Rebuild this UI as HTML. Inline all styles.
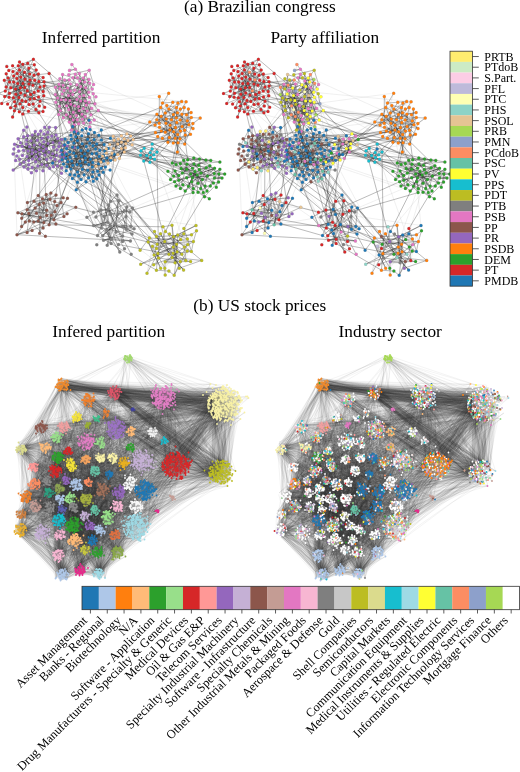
<!DOCTYPE html><html><head><meta charset="utf-8"><style>html,body{margin:0;padding:0;background:#fff;overflow:hidden}svg{display:block}</style></head><body><svg width="520" height="772" viewBox="0 0 520 772"><rect width="520" height="772" fill="#fff"/><g id="ea" fill="none" stroke-width=".5"><path d="M25 95.3l-6.7 -29.5M17.7 83.4l3 9.5M20 103.7l14.1 -11.2M39.3 106l-11.9 -15.2M20.7 92.9l17.8 4.2M18.9 97.4l1.5 -9.6M5.3 91.1l8.3 -9M29 83.9l-6.1 -.4M29 83.9l-4.3 3.5M38.4 74l-15.5 9.5M10.8 87.7l-1.6 9.6M29.1 104.5l4.1 -.5M34.3 98.6l-15.5 -1.2M16.9 78.5l-7.5 3.4M22 100.4l-1.2 -23.3M-1.5 93.5l12.3 -5.8M6.8 66.4l13.8 26.5M67.6 87.9l15.8 20.5M83.8 95.4l-6.9 -10.7M62.2 94.1l17.4 2.3M75.4 69.3l10 5.2M72.7 94.4l-1.9 9.9M94.9 103.7l-15.3 -7.3M85.3 116.6l-6.1 -6.2M68.5 95.5l-9 10.8M88.9 79.4l-4.1 2.5M90.9 114.8l.7 -6.5M74.9 90.1l8.9 5.3M55.4 87.3l17.3 7.1M95.9 96.8l-15.3 4.1M65.7 99.8l13.9 -3.4M65.7 99.8l6.2 -35.4M73.1 120.1l12.5 -32.3M75.3 74.2l8.5 21.2M77.5 77.8l7.2 4.2M70.8 104.3l-.2 -13.4M89.8 127l6 -30.2M76.3 131.5l.6 -32.1M51.8 136.1l.9 17.7M37.3 140.2l6 6.3M60.7 151.8l-8 2.1M59.5 142.9l1.3 8.8M19.5 159.2l13 -.2M28.7 164.8l6.8 -3M34.2 145l-2.4 8.7M31.8 153.7l6.1 12.3M35.6 161.8l-7.5 -10.8M18.1 138.7l4.1 7.6M28 150.9l4.4 8M43.9 141.8l-8.2 9.8M44.9 154.9l-9.3 6.9M48.1 143.6l-4.8 2.9M59.5 161.3l-2.2 4.6M23.5 150.2l4.6 .8M39.9 154.3l23.1 -8.9M36 156.5l10.7 8.8M32.3 167.5l-5.2 -11M64 157.4l-7.1 -7.6M36.4 170.7l-7.7 -6M50.9 157.9l-11 -3.7M14.5 144.2l25.4 10.1M24 167l8.2 -17.1M18.7 151.1l24.7 -0M26.6 139.9l4.5 .9M76 156.2l1 8.4M77 164.6l2.9 -3.4M72.4 178.6l-8.9 -14.6M81.1 179.4l-6.5 -4.4" stroke="#aaa" stroke-opacity=".35"/><path d="M88.6 177.7l15.1 -16.6M101.2 168.2l-4.8 -14.8M71.7 161l29.5 7.2M92 153.7l-12.2 7.6M72.6 147.1l19.4 6.5M63.5 164l15 12M103.7 161.1l-4.5 -4.7M77.5 172.1l7.4 -18.4M82.4 169.3l2.5 -15.6M70 174.4l11.1 5M93 145.7l8.3 -15.8M96.9 178.7l2.2 -3.6M95.5 148.9l-5 10.4M79.9 161.2l15.6 -12.4M84.9 153.7l13.7 10.1M84.9 153.7l2.7 -14.5M104.9 151.2l5.6 9.1M65.1 139.1l9.1 -7M64.6 144.8l25.9 14.5M87.7 170.3l-3.5 4.4M88 150.7l-14.2 2.2M103.3 172.2l-10.6 -9.6M66.5 148.6l21.5 2.1M74.6 175l2.4 -10.3M70.9 135.3l3.7 39.7M92.8 172.1l-11.6 7.3M92.8 172.1l-25.8 -5.6M90.1 129.5l-4.7 28.4M77.4 182.3l2.4 -21.1M103.3 155.2l-21.5 1M73.9 142.9l11 10.8M86 128.5l3.6 14.8M52.6 163.1l35.4 -12.4M108.1 148.5l-30.2 -1.1M121.4 148.5l.1 -12.7M117.7 154.6l-4 -6.1M106.3 148.8l7.4 -.3M126.9 133.8l-2.6 5M130.7 135.9l-17 12.6M121.4 135.7l.1 6.6M149.9 162.3l-3.3 -6.9M150.4 157.6l-.5 4.7M150.2 152.6l1.9 -3.7M170.1 125.2l-14.6 7.4M176.4 107.5l-.1 10.3M165.9 123.3l11 -.8M185.3 134.9l-1.2 -27.4M162.4 138.3l7.5 -8.3M162.4 138.3l3.5 -15M161.3 131.1l-6.3 -6.1M173.3 143l-12.1 -26.7M186.5 114.8l-1.1 20M159.2 123.2l2.1 7.9M181.9 114.2l-26.9 10.8M184.2 107.4l3.2 13.3M184.2 107.4l-6.2 -4.3M180 138.8l-7.2 -36.5M180.3 109.1l-.2 10.7M178 142.7l4 -28.5M167.9 142.2l5.3 .8M167.9 142.2l2.2 -17M177.9 103.1l-6.4 16.7M186.1 101.7l-4.2 12.5M168.7 93.2l-7.6 23.1M159.3 96.5l17.1 21.3M159.3 96.5l10.1 40.8M200.2 118.1l-19.7 13.1M180.3 163.6l.9 4.9" stroke="#aaa" stroke-opacity=".35"/><path d="M210.3 186l4 -12.6M187 164.2l-4.6 8.8M216.3 187.3l-10.1 -19.6M204.5 196.7l-9.6 -25.2M36.5 213.2l-1.4 -5.3M28.7 213.6l6.3 -5.7M42.5 198.7l-6 14.5M61 202.5l-14.2 7.6M38.2 221.1l10.9 3.6M50 199.2l17.6 -1M54.7 201.4l-5.6 23.2M63.2 197.8l-13.2 1.4M57 205.6l-16.7 11.9M39.3 204.5l14.5 15.2M39.3 204.5l-10.6 9.1M108.5 205l-.3 4.2M122.6 236l-19.1 4.3M118.5 244.5l-10 -11M107.5 222.2l2.7 3.3M96.8 244.8l13.5 -19.3M165.2 261.8l8.2 -14.7M179.3 268.2l-4.2 -5.4M149.4 237.9l7.2 10.5M158.5 257.9l-.6 -4.5M153.7 264.7l48 -4.3M156.4 270.2l31.4 -25.6M176.6 244.2l-3.3 2.9M177.1 251.7l-12.3 16.5M177.1 251.7l-4 1.6M191.5 234.8l-5.7 25.8M191.5 234.8l1.9 6.8M147 273.2l9.3 -36.6M147 273.2l5.3 -27M196 225.5l-22.4 11.2M25 79.2l32.7 18.9M15.8 94.2l61.5 25.3M25 95.3l38.2 -10M10.5 107.7l58.8 14.2M43.1 91.4l36.5 5M34 75.2l45.3 35.3M25 95.3l49.5 10.5M13.4 97.7l42.7 37.3M9.5 81.9l32.5 56.2M49.1 73.4l19 68.9M55.4 87.3l25.6 63.2M66.3 114.7l37 40.5M69.3 121.9l10.6 39.3M83.8 95.4l10.4 44.3M73.4 112.3l.4 40.6M79.2 110.5l17.2 43M79.9 81l-1.8 52.4M93.6 84.5l-17.4 105.2M77.5 77.8l-55.1 77.7M88.9 79.4l-37.1 56.7M79.9 81l-51.9 70M80.6 101l-19.1 72.2M85.4 74.6l-39 74.3M93.2 93.7l9.4 62.3M63.1 85.3l50.6 63.2M85.6 87.8l32.1 66.7M85.3 101.1l28 35.2M68.8 74.8l57 68.9M74.5 105.8l94.2 -12.7M83.6 123.1l74.2 13.4M94.9 103.7l73 38.5M61.3 99.7l110.3 20.1M55.4 94.5l103.8 28.7M88.9 79.4l100 45.3" stroke="#aaa" stroke-opacity=".35"/><path d="M73.4 112.3l102.9 5.6M88.7 92.3l97.4 9.3M40 144.4l33.9 -1.5M37.9 166.1l43.2 13.3M27.1 156.6l77.8 -5.3M53.4 147.1l49.8 8.1M31.8 153.7l42.8 21.2M32.3 135l52.6 18.7M19.5 159.2l68.6 -8.4M17.9 146.6l9.2 63.1M13.9 149l3.1 85.6M48 137.3l-26.3 80.9M35.7 151.7l.8 61.5M57.6 138.5l-22.5 69.4M76 156.2l31.9 7M81 150.5l33.2 -10.2M71.7 161l46.5 -21.9M84.9 153.7l-29 70.2M76 156.2l-54.1 57.5M62.2 154.4l40.4 81.4M96.7 143.9l18.8 80.6M106.8 157.9l17.7 53M109.7 144.5l76.4 -42.8M113.7 148.5l53.1 -43M133.2 139.6l54.1 -18.9M132.1 144.7l24.9 7.3M121.4 148.5l28.5 13.8M115.1 160l38.7 -5.2M117.7 154.6l34.5 -10.4M113.7 148.5l40.8 10.8M153.8 154.8l16.1 -24.8M141 150.8l43.7 -6.7M152.1 148.9l35.7 10.9M152.1 148.9l26.6 26.5M146.6 155.4l34.6 13.1M149.9 162.3l49.6 -3.3M159.3 96.5l16.9 67.8M191.1 112.6l-20.6 66.9M168.9 109l17.8 60.2M72.7 126.4l128 62.1M66.5 148.6l109.5 37.3M90.5 159.3l94.8 31.7M90.1 129.5l81.5 -9.7M90.1 129.5l96.1 -27.8M66.5 154.2l113.5 -15.4M132 233.9l36.9 20.3M122.6 236l42.2 32.2M205.9 160.1l-22.1 73.7M191.7 181.8l4.7 48.8M200.7 188.5l-48.3 57.7M199.3 169.5l-34.5 98.7M55.9 223.9l54.6 -9.4M50.9 193l50.4 34.8M92.8 172.1l87.5 89.3M104.9 151.2l51.6 97.2M32.3 135l75.2 87.1M47.8 132.2l54.8 103.5M55.6 127.5l38.1 98.1M90.3 122.2l119 76.5M96.1 166.3l19.4 58.2M112 153.3l-1.8 72.2M154.5 159.3l32.7 91.6M19.5 69.9l160.6 68.9M38.2 91.1l118.6 28.7M117.9 214.3l89.7 -38.2M18.1 138.7l99.6 5.3M44 134.1l58.5 22M57 205.6l139 19.9" stroke="#aaa" stroke-opacity=".35"/><path d="M64.6 80.1l43.9 153.4" stroke="#aaa" stroke-opacity=".35"/><path d="M30.1 98.9l8.1 -7.8M30.1 98.9l-14.6 -9.9M38.5 97.1l-7.9 -2.5M14.5 101.7l4.3 -4.3M14.5 101.7l10.4 -22.5M20.4 87.8l-4.9 1.2M20.4 87.8l12.5 -2.6M27.4 90.8l-2.4 4.5M27.4 90.8l-2.7 -3.4M29.7 73.9l-19 13.8M25 95.3l5.1 3.6M25 95.3l15.2 6M38.9 81.5l-4.2 -1.3M43.8 95.7l-14.8 -11.8M19.3 111.8l-4.8 -10.1M17.7 83.4l-2.1 5.6M9.1 97.3l-10.7 -3.8M9.1 97.3l4.2 .3M20 103.7l10 -4.8M18.3 65.8l1.2 4.1M34 75.2l-9 20.1M24.5 72.3l-6.9 11.1M24.5 72.3l13.6 18.8M8.1 77.9l8.9 .6M8.1 77.9l14 22.5M8.1 77.9l19.3 12.9M9.6 93.2l15.1 -5.9M9.6 93.2l6.2 1M17.2 73.4l7.8 21.9M17.2 73.4l10.2 17.4M22.9 83.5l-5.2 -.1M22.9 83.5l-2.5 4.3M40 87.1l-5.8 5.4M40 87.1l-1.6 -13.1M36.2 70l-7.2 13.9M36.2 70l-6.5 3.9M36.2 70l-7.2 -1.7M15.8 94.2l-9.6 -20.5M15.8 94.2l3.1 3.2M35.9 109.4l-6.8 -4.8M15.5 89l11.9 1.8M22.8 107.4l-2.7 -3.7M13.6 82.1l1.9 6.9M13.6 82.1l-.3 15.6M13.6 82.1l.1 -6.2M13.7 75.9l9.2 7.5M27.7 63.2l2.4 35.7M27.7 63.2l-14.8 8.4M27.7 63.2l-10.8 15.4M34.2 92.5l-9.5 -5.1M20.7 92.9l-5.3 13.1M33.2 104l-4.1 .5M33.2 104l10.6 -8.4M18.9 97.4l-1.2 -14M38.2 91.1l5.9 -5.1M25 79.2l4.1 4.7M25 79.2l4.1 4.7M25 79.2l4.8 -5.2M25.8 101.4l-5.7 2.4M22.8 64.2l2.1 31.1M22.8 64.2l11.5 .5M22.8 64.2l-9.1 11.7M20.8 77.1l-.4 10.7M4.7 96.6l24.3 -12.7M4.7 96.6l25.3 -16.6M44.1 86.1l-.3 9.6M44.1 86.1l-1 5.3M10.5 107.7l4.8 -1.6M10.5 107.7l19.6 -8.8M10.5 107.7l7.1 -24.3M5.3 91.1l4.2 -9.2M28.9 68.3l4.3 35.8M28.9 68.3l-18.4 39.5M7.6 104.1l21.4 -20.2M12.6 65.7l20.3 19.5M28.5 111.3l11.6 -10M28.5 111.3l-18 -3.5M29 83.9l1.6 10.7M34.7 80.2l-4.9 -6.3M34.7 80.2l3.5 10.9M6.1 86.9l-1.9 -6.6M6.1 86.9l6.7 -15.3M22.8 114l16.1 -32.5M38.4 74l-13.5 5.2M34.3 64.7l-17.4 13.8M34.3 64.7l4.6 16.8M19.5 69.9l9.6 14M19.5 69.9l5.3 17.5M12.9 71.6l17.7 23M12.9 71.6l16.9 2.4M32.9 85.2l6 -3.7M4.3 80.3l6.5 7.4M10.8 87.7l18.3 -3.8M43.1 77.6l-24.8 -11.8M6.2 73.7l2.9 23.7M29.1 104.5l-15.5 -22.4M43.1 91.4l-13.1 -11.4M43.1 91.4l-10.2 -6.2M14.4 110.7l10.6 -15.4M14.4 110.7l8.4 -3.3" stroke="#222" stroke-opacity=".62"/><path d="M8.8 70.4l14 -6.2M24.7 87.4l-3.9 -10.3M9.5 81.9l1.3 5.8M9.5 81.9l10 -12.1M34.3 98.6l-3.7 -4M30.6 94.6l3.6 -2.1M40.1 101.3l-29.3 -13.6M40.1 101.3l-4.2 8M16.9 78.5l3.7 14.4M15.3 106.1l3.5 -8.7M15.3 106.1l2.3 -22.7M30 80l-2.6 10.8M30 80l-9.6 7.8M44 81.8l-11.1 3.4M13.4 97.7l2.4 -3.5M22 100.4l-17.3 -3.8M19.5 61.9l5.5 17.3M19.5 61.9l10.2 12.1M19.5 61.9l14.5 13.3M38.9 112.8l-14 -17.5M38.9 112.8l-18.9 -9M38.9 112.8l-16.1 1.2M-1.5 93.5l24.4 -10.1M49.1 73.4l-15.2 1.8M44.7 107.2l-4.6 -5.9M1.7 103.5l9 -15.8M1.7 103.5l38.3 -16.4M43 111.5l-7.1 -2.1M43 111.5l.1 -20.1M43 111.5l-14.5 -.2M12.6 116.9l6.3 -19.5M12.6 116.9l8.1 -24M33.4 59.3l-5.7 3.9M33.4 59.3l-8.4 19.9M33.4 59.3l-15.1 6.5M66.3 114.7l-5 -15M76.8 99.4l-21.4 -12.2M82 114.2l-16.3 -14.4M55.4 94.5l21.4 4.9M55.4 94.5l19.1 11.3M55.4 94.5l7.7 -9.2M76.9 84.7l2.7 11.7M76.9 84.7l-8.4 10.8M74.5 105.8l-4.2 10.5M74.5 105.8l-5.8 3.8M85.6 87.8l-6 8.6M85.6 87.8l3.3 -8.4M66.6 105.7l2.1 4M66.6 105.7l-5.4 -5.9M66.6 105.7l11.9 .8M60.4 110.4l16.4 -11M60.4 110.4l.8 -10.7M60.4 110.4l14.4 -20.3M89.7 83.3l-16.8 -5.6M89.7 83.3l-4.4 17.7M89.7 83.3l-18.9 21M69.2 79.9l-7 14.2M73.4 112.3l5.8 -1.8M79.6 91.7l5.1 -9.7M79.6 91.7l-6.8 2.7M79.6 91.7l-8.7 12.7M62.2 94.1l8.5 -3.2M78.5 106.5l5.3 -11.1M78.5 106.5l1.1 -10M70.5 84.1l-2.1 11.4M89.4 97.3l-9.4 -16.3M89.4 97.3l-8.5 -10.8M59.5 106.2l1.8 -6.5M79.4 73.5l1.5 12.9M79.4 73.5l-6.4 4.3M87.2 111.1l-12.7 -5.3M87.2 111.1l-7.9 -37.6M59 84.3l9.4 11.2M59 84.3l-3.7 3M85.3 101.1l-15.5 -.5M74.2 124.7l9.6 -29.3M74.2 124.7l-4.4 -24M69.3 121.9l11.3 -20.9M69.3 121.9l1.5 -17.6M69.3 121.9l1.2 -37.8M93.2 93.7l1.7 10M79.6 96.4l4.2 -1.1M79.6 96.4l1 4.5M72.7 94.4l-4 15.2M72.7 94.4l12.8 -6.6M79.2 110.5l-17 -16.4M79.2 110.5l-.7 -4M61.3 99.7l11.5 -5.3M61.3 99.7l-2.6 14.9M72.9 77.8l4.6 -0M72.9 77.8l13.3 27.2M72.9 77.8l16 1.6M55.8 102.2l29.8 -14.3M55.8 102.2l3.2 -17.9M55.8 102.2l35.8 6.2M80.8 86.4l4.5 14.7M80.8 86.4l-6 3.6M80.8 86.4l-6 3.6M83.3 108.4l-3.8 -16.7M68.8 74.8l20.4 -4.7" stroke="#222" stroke-opacity=".62"/><path d="M68.7 109.6l13.3 4.6M79.9 81l9.4 16.3M79.9 81l13.3 12.7M63.3 117.7l28.3 -9.3M63.3 117.7l-7.5 -15.5M94.9 103.7l-25.1 -3M64.6 80.1l6.2 24.3M64.6 80.1l5.9 4M64.6 80.1l4.6 -.2M85.3 116.6l-27.7 -18.6M68.5 95.5l6.4 -5.4M68.5 95.5l-5.2 22.2M88.7 92.3l-19.6 -12.4M62.6 74.6l-3.1 31.7M62.6 74.6l10.3 3.2M86.2 105l-12.8 7.2M85.4 74.6l-5.8 21.9M91.6 108.3l-14.7 -23.7M91.6 108.3l-5.4 -3.3M69.9 100.6l-1.4 -5.2M78.6 123.8l-15.4 -6.2M78.6 123.8l-16.4 -29.7M59.8 88.8l22.6 30.5M59.8 88.8l10.9 2.1M59.8 88.8l-4.4 -1.5M70.3 116.4l-4 -1.6M88.9 79.4l-9.6 31M88.9 79.4l-8.9 1.6M90.9 114.8l-11 -33.9M80.6 101l-7.8 -6.6M80.6 101l-14.9 -1.1M82.3 119.3l3 -2.6M82.3 119.3l-13.9 -23.8M82.3 119.3l3 -18.2M55.4 87.3l7.9 30.4M55.4 87.3l15.2 -3.2M58.7 114.6l31.1 12.3M58.7 114.6l14.7 -2.4M76.3 115.5l10.9 -4.4M76.3 115.5l7.2 7.6M76.3 115.5l3.2 -19.1M64 90.4l12.9 -5.8M64 90.4l8.7 4M57.6 98l19.2 1.4M63.1 85.3l3.5 20.3M63.1 85.3l7.4 -1.3M63.1 85.3l-.6 -10.7M84.7 82l-9.8 8.1M84.7 82l-17.1 5.9M59.9 78.7l12.8 15.7M77.3 119.5l14.3 -11.2M77.3 119.5l-16.9 -9.1M73.1 120.1l-12.7 -9.7M92.2 89.1l-6.8 -14.6M69.5 70.4l6 -1.1M69.5 70.4l6 -1.1M75.3 74.2l-4.7 16.7M93.6 84.5l-9.8 10.8M89.2 102.3l-19.4 -1.7M83.3 78.1l2.3 9.7M83.3 78.1l-3.4 2.9M70.6 90.9l-5 8.9M70.8 104.3l14.5 -3.2M70.8 104.3l24.1 -.7M90.3 122.2l-11 -11.7M90.3 122.2l-11 -11.7M89.8 127l-15.3 -21.2M71.5 130l-.7 -25.6M94.2 119.9l-8.9 -18.8M89.2 70.2l4.4 14.4M89.2 70.2l-14.3 19.9M76.3 131.5l-7.8 -36.1M71.9 64.5l12.8 17.5M98.3 110.6l-8.9 -13.3M83.6 123.1l2.7 -18M83.6 123.1l3.6 -12M61.8 139.5l-17.9 2.3M52.7 153.8l-6.2 -5M46.7 165.3l-.1 -5.8M46.7 165.3l-7.3 -6.4M46.7 165.3l13.5 -9.1M44 134.1l-14.5 12.7M44 134.1l8.6 19.7M37.3 140.2l.9 -5.9M39.4 149.7l-7.6 4M39.4 149.7l20.1 -6.8M39.4 149.7l13.6 -7.2M56.9 149.8l-13.5 1.3M16.9 156l11.8 8.8M20.6 142.8l35.9 12.6M20.6 142.8l10.5 -2M20.6 142.8l-2.5 -4.1M60.7 151.8l-3.1 -13.2M39.5 158.9l-5.3 -13.9M59.5 142.9l-27.1 -7.9M52.9 163l-11 1.4M52.9 163l6.7 -1.7M29.5 146.8l2.9 12.2M19.5 159.2l.6 5.1M46.7 159.5l6.8 -12.5" stroke="#222" stroke-opacity=".62"/><path d="M46.7 159.5l-14.9 -5.8M46.4 148.8l5.4 -12.7M53.4 147.1l2.1 -19.5M23.9 162l16.1 -17.6M27.6 135.7l-.5 20.9M31 140.8l10.9 23.6M31 140.8l18.2 -13.6M31 140.8l4.3 -9.4M34.2 145l9.1 1.5M35.6 161.8l-3.8 -8.1M35.6 161.8l4.4 -7.5M38.2 134.3l1.7 20M18.1 138.7l29.8 -1.4M43 170.7l-27.4 -10.1M43 170.7l5.1 -27.1M28 150.9l-9.9 -12.3M37.9 166.1l-6.8 -25.3M56.5 155.3l.4 -5.5M56.5 155.3l-10.1 -6.5M56.5 155.3l2.3 -8.8M44.9 154.9l3 -22.7M48.1 143.6l-12.4 8.1M48.1 143.6l-1.6 5.2M65.2 152.8l-4.9 3.4M65.2 152.8l-14.3 5.2M17.9 146.6l34.8 7.2M59.5 161.3l-2.2 4.6M32.4 159l-6.1 -15M13.1 153.9l10.3 -3.8M39.9 154.3l-7.5 4.7M40 144.4l4.9 10.5M63.1 145.4l-4.3 1.1M13.9 149l9.7 -18.7M27.1 156.6l-3.2 5.4M53 142.5l3.9 7.3M53 142.5l8.8 -3M36 156.5l3.9 -2.2M32.3 167.5l-.5 -13.8M32.3 167.5l7.7 -13.3M20.1 164.2l11.4 8.6M20.1 164.2l16.3 6.5M20.1 164.2l7 -7.6M32.3 135l7 14.7M32.3 135l10.9 11.5M49.7 168.3l-3.1 -8.8M49.7 168.3l-4.9 -13.4M67.2 146.3l-7.8 -3.4M26.4 143.9l21.6 -6.6M47.8 132.2l-20.7 24.4M57.4 165.9l-14 -14.7M57.4 165.9l-4.5 -2.9M57.6 138.5l-14.3 8M35.7 151.7l15.2 6.3M35.7 151.7l-7 8.8M23.6 136.8l8.8 -1.7M23.6 136.8l25.2 15.5M64 157.4l-26.1 8.7M64 157.4l-3.7 -1.2M22.4 155.5l12.9 -24.1M48 137.3l-11.9 19.2M48 137.3l-4.1 4.6M28 169l.7 -8.5M28 169l-4 -7M28 169l-4 -2M41.9 164.4l-4 1.7M41.9 164.4l-14.8 -7.8M41.9 164.4l4.5 -15.5M35.3 131.4l.7 25.1M35.3 131.4l-1.1 13.6M35.3 131.4l-6.6 29.1M28.7 160.5l7 -8.8M28.7 160.5l-5.1 -23.8M50.9 157.9l-15.4 3.8M42 138.2l-4.1 27.9M14.5 144.2l24.9 5.5M24 167l15.5 -8.1M48.8 152.3l8.1 -2.5M48.8 152.3l-8.8 -7.9M55.1 159.6l1.7 -9.8M55.1 159.6l-2.4 -5.8M55.1 159.6l-6.3 -7.3M32.2 149.9l.2 -14.9M43.4 151.1l3 -2.3M43.4 151.1l-4 -1.4M43.4 151.1l-21.2 -4.9M26.6 139.9l12.8 9.8M53.4 166.8l-21.2 -16.9M53.4 166.8l-25.4 2.2M60.3 156.2l-20.3 -1.9M22.2 146.3l-1.6 -3.5M22.2 146.3l1.4 -15.9M22.2 146.3l13.5 5.4M43.3 146.5l.1 4.6M56.1 135l-12.9 11.5M56.1 135l-12.7 16.2M15.6 160.6l-1.8 -11.6M40.7 131l-.7 13.4M58.8 146.5l-5.4 .5M13.2 170l26.1 -20.2M13.2 170l44.4 -31.5" stroke="#222" stroke-opacity=".62"/><path d="M49.3 127.2l-2.8 21.6M49.3 127.2l-9.9 22.5M61.5 173.2l-8.1 -6.4M61.5 173.2l-4.1 -7.3M61.8 167.9l-8.9 -4.9M74.1 147.4l-34.1 -3M26.9 127l1.8 33.5M55.6 127.5l-6.3 -.3M55.6 127.5l.6 7.4M31.4 172.8l6.4 -6.8M23.6 130.3l16.4 14.1M44.7 127.3l3.4 16.3M44.7 127.3l17 12.2M44.7 127.3l14.1 19.2M76 156.2l28.1 -11.6M76 156.2l-2.2 -3.4M86.2 146.5l5.8 7.2M86.2 146.5l1.8 4.2M88.8 164.4l3.9 -1.8M88.8 164.4l-11.8 .2M88.8 164.4l-21.1 -2.6M77 164.6l13.4 -5.4M77 164.6l-9.3 -2.8M72.4 178.6l19.9 -11.6M85.4 157.9l7.5 -12.1M106.8 157.9l-14.7 -4.2M106.8 157.9l-14.4 9.1M90.5 159.3l-14.4 -3M81.8 135.8l-15.3 18.4M81.8 135.8l-.9 14.6M81.1 179.4l-6.5 -4.4M81.1 179.4l11.3 -12.4M96.4 153.4l9 13.5M96.4 153.4l-26.6 -1.6M68.1 142.4l13.6 13.8M68.1 142.4l4.7 22.8M92.4 166.9l-6.9 -9.1M92.4 166.9l-1.9 -7.7M77.5 140.5l-9.4 1.9M77.5 140.5l10.2 -1.3M81 150.5l9.5 8.8M81 150.5l6.7 -11.2M81 150.5l-17.4 13.5M96.7 143.9l1.9 19.9M98.8 135.2l-5.9 10.5M94.2 139.6l-14.3 21.6M88.6 177.7l-.9 -7.4M99.8 150.3l-4.1 8.5M99.8 150.3l-4.4 -1.5M71.7 161l-.7 8.1M71.7 161l5.8 11.1M92 153.7l-11.1 -3.2M72.6 147.1l4.4 17.5M72.6 147.1l4.4 17.5M63.5 164l13.5 .6M63.5 164l1.1 -19.2M99.1 175.1l-11.4 -4.8M99.1 175.1l-23.1 -18.9M65.9 158.3l29.9 .6M65.9 158.3l5.1 10.8M82.2 130l9.8 23.7M104.1 144.6l-4.2 5.7M104.1 144.6l-31.4 2.5M104.1 144.6l-11.1 1.1M77.5 172.1l-1.5 -15.9M77.5 172.1l7.9 -14.3M82.4 169.3l3 -7.4M82.4 169.3l-3.9 6.7M93 145.7l-.6 21.2M75.7 136.8l5.2 13.6M75.7 136.8l19.7 12M71 169.1l10 -3.5M71 169.1l6.9 -21.7M96.9 178.7l-4.1 -6.7M96.9 178.7l-29.9 -12.3M95.5 148.9l-19.4 7.4M87.6 139.2l6.9 -6.8M87.6 139.2l-9.7 8.2M87.6 139.2l-13 35.7M82.2 143.8l-14.1 -1.4M82.2 143.8l3.3 14M88.5 133.8l-2.3 12.6M101.4 140.1l-23.9 .3M101.4 140.1l-7.2 -.5M101.4 140.1l-13.4 10.6M69.8 151.8l10.1 9.4M98.6 163.8l-8.1 -4.5M84.1 174.7l-9.5 .2M79.9 161.2l1.8 -5.1M77.9 147.4l26.2 -2.7M77.9 147.4l-13.3 -2.6M67 166.5l2.8 -14.7M67 166.5l14.7 -10.3M67 166.5l14 -.9M104.9 151.2l-12 -5.5M92.7 162.6l-11 -6.4M92.7 162.6l-7.3 -.7M65.1 139.1l3 3.3M64.6 144.8l5.5 12.6M87.7 170.3l-5.2 -1" stroke="#222" stroke-opacity=".62"/><path d="M87.7 170.3l4.9 6.4M94.5 132.5l-1.6 13.2M66.5 154.2l-.3 16.5M66.5 154.2l5.9 24.4M66.5 154.2l25.5 -.5M99.2 156.4l-.1 18.7M66.2 170.7l-2.7 -6.7M66.2 170.7l9.8 -14.4M73.8 152.9l7.9 3.3M103.3 172.2l-5.7 -.9M103.3 172.2l-3.4 -21.8M66.5 148.6l26.2 13.9M66.5 148.6l23.9 10.6M72.8 165.2l-5.8 1.3M72.8 165.2l4.7 6.9M70.1 157.3l15.3 4.6M81.7 156.2l3.7 5.7M74.6 175l17.4 -21.3M90.1 129.5l4.4 3M105.4 166.9l-20 -5M105.4 166.9l-16.6 -2.5M71.3 139.3l6.2 1.2M89.7 143.3l-27.4 11M77.4 182.3l8 -24.4M61.6 150.3l31 26.4M61.6 150.3l9.4 18.8M61.6 150.3l9.7 -11M97.6 171.3l3.6 -3.1M97.6 171.3l-19.7 -23.9M86 181.8l-18.2 -20M86 181.8l-10 -25.5M93.3 181.2l-12.4 -30.8M74.3 132.1l3.9 1.3M74.3 132.1l-3 7.2M92.5 176.7l.2 -4.6M92.5 176.7l.2 -4.6M92.5 176.7l-4.9 -6.4M81 165.5l1.4 3.7M81 165.5l7.6 12.2M95.8 158.9l-7.7 -8.2M95.8 158.9l7.5 -3.7M95.8 158.9l-15.9 2.3M62 159.7l-.4 -9.5M103.3 155.2l-12.8 4.1M73.9 142.9l-3 -7.7M78.5 176l-1.1 -35.5M78.1 133.4l-4.3 19.5M86 128.5l6 25.1M86 128.5l12.6 35.2M62.2 154.4l7.9 3M67.8 161.8l12.1 -.6M85.4 161.9l-8.4 2.7M101.3 129.9l2 25.3M110.4 138.2l-25.5 15.5M110.6 160.3l-25.1 -2.5M89 120.3l3.9 25.4M72.7 126.4l4.3 38.2M72.7 126.4l12.7 31.4M76.2 189.8l12.4 -12.1M76.2 189.8l27.1 -17.6M76.2 189.8l9.2 -27.9M114.2 154.2l-15.6 9.6M114.2 154.2l-29.3 -.5M108.1 148.5l-26.4 7.7M108.1 148.5l-22.7 13.4M110.1 170l-27.7 -.7M121.4 148.5l2.9 3.5M121.4 148.5l.1 -6.1M107.9 163.2l3 -5.4M107.9 163.2l-1.6 -14.4M100.8 161.9l-4.7 4.3M100.8 161.9l14.3 -1.9M100.8 161.9l1.8 -5.9M133.2 139.6l-11.7 2.7M110.9 157.8l1.1 -4.5M110.9 157.8l3.3 -17.5M110.9 157.8l6.8 -3.2M117.7 154.6l-5.7 -1.3M117.7 154.6l-4.4 -18.3M112 153.3l5.7 -9.4M106.4 153.1l11.3 1.5M117.7 143.9l-4 4.6M124.3 138.8l-6.6 5.1M128 140.4l-6.7 8.1M128 140.4l-14.3 8.1M125.5 147.8l-14.6 10M132.1 144.7l-22.4 -.1M113.7 148.5l7.6 -0M119.4 158.3l8.6 -18M119.4 158.3l-8.5 -.5M119.4 158.3l6.1 -10.6M118.3 139.1l3.2 3.2M118.3 139.1l3.2 3.2M102.6 156.1l8.3 1.7M109.7 144.5l11.8 -2.2M106.3 148.8l17.9 3.2M126.9 133.8l3.8 2.1M126.9 133.8l-9.2 10.1M115.1 160l-8.6 -7M115.1 160l-1.3 -11.5" stroke="#222" stroke-opacity=".62"/><path d="M115.1 160l-1.3 -11.5M125.8 143.8l-8.1 10.8M114.2 140.3l11.3 7.5M130.7 135.9l-6.4 2.9M124.3 152l-10.1 -11.7M124.3 152l-6.6 2.6M121.5 142.3l2.8 9.6M121.5 142.3l-7.8 6.2M96.1 166.3l10.3 -13.2M96.1 166.3l-.3 -6.3M96.1 166.3l14.8 -8.5M113.3 136.3l4.9 2.9M113.3 136.3l4.4 7.7M95.8 159.9l21.9 -5.4M146.6 155.4l3.5 -2.8M152.1 148.9l-5.4 6.5M153.8 154.8l-7.1 .6M153.8 154.8l-3.4 2.8M153.8 154.8l-12.8 -4M149.9 162.3l.5 -4.7M144.2 148.2l-3.2 2.6M144.2 148.2l2.4 7.2M143.8 161l6.6 -3.3M140.5 155.2l6.1 .2M140.5 155.2l9.9 2.5M140.5 155.2l9.4 7.1M150.4 157.6l-6.6 3.3M150.4 157.6l3.4 -2.8M150.2 152.6l-3.5 2.8M141 150.8l5.7 4.6M141 150.8l3.2 -2.6M141 150.8l5.7 4.6M154.5 159.3l-4.1 -1.7M154.5 159.3l-4.1 -1.7M152.2 144.1l-1.8 13.5M157 151.9l-3.2 2.9M169.3 137.4l-7 1M187.3 120.7l-18.4 -11.7M187.3 120.7l-17.2 4.4M173.4 114.6l-1.9 5.2M171.5 119.8l-10.4 -3.5M171.5 119.8l4.9 -12.3M171.5 119.8l-4.7 -14.3M170.1 125.2l5.5 2.2M170.1 125.2l7.9 17.6M176.8 122.5l-5.3 -2.7M176.4 107.5l.4 15M166.3 119l3.8 6.2M165.9 123.3l2.1 18.8M175.5 127.4l-13.2 11M175.2 138.2l-1.6 -6.5M175.2 138.2l4.8 .6M175.2 138.2l.3 -10.8M177.5 112.8l-12.2 .2M177.5 112.8l-4.1 1.9M177.5 112.8l-8.6 -3.7M160.7 107.4l12.7 7.2M160.7 107.4l-5.7 17.6M180.2 119.9l1.8 -5.7M193 128.6l-15.5 -15.9M193 128.6l-10.9 -2.2M193 128.6l-12.9 -8.8M169.9 130l-.6 7.4M169.9 130l5.7 -2.6M191.3 117.5l-25.4 5.8M156.9 114.2l8.9 9.1M156.9 114.2l18.6 13.2M185.3 134.9l-5.3 3.9M161.3 131.1l20.6 -16.9M159.5 127.2l10.3 2.8M165.3 132.3l4.6 -2.3M165.3 132.3l10.3 -4.9M182.1 126.5l-14.2 15.7M182.1 126.5l5.2 -5.7M192.9 123.6l-16.6 -5.7M177.6 134.4l-4.2 -19.8M177.6 134.4l7 -4.1M165.3 112.9l.6 10.4M165.3 112.9l11.1 -5.4M172.8 102.2l-3.9 6.8M181.9 114.2l-10.4 5.6M156.8 119.8l19.5 -2M156.8 119.8l32.1 4.9M156.8 119.8l16.8 11.9M180 138.8l-2.4 -4.3M180 138.8l.5 -7.6M166.8 105.5l-1.6 7.4M166.8 105.5l9.6 2M191.1 112.6l-9.2 1.6M191.1 112.6l-9.2 1.6M176.3 117.8l-2.9 -3.2M176.3 117.8l1.2 -5.1M190.5 134.3l-10.5 4.5M190.5 134.3l-12.5 8.5M190.5 134.3l-8.3 -7.8M173.6 131.7l-3.5 -6.5M173.6 131.7l-3.5 -6.5M173.6 131.7l3.2 -9.2M167.9 142.2l2.2 -17M157.7 136.5l15.7 -21.8" stroke="#222" stroke-opacity=".62"/><path d="M184.6 130.3l-7.8 -7.8M184.6 130.3l.7 4.6M155 125l11.3 -6M180.5 131.1l-3.7 -8.6M180.5 131.1l-5 -3.8M188.9 124.8l-8.4 6.4M188.9 124.8l2.4 -7.2M181.7 101.4l-5.2 6.1M162.5 103.1l19.2 -1.7M168.9 109l-13.9 15.9M177.9 103.1l-1.6 14.7M155.5 132.6l14.4 -2.6M188.4 109.1l.6 15.7M188.4 109.1l-1 11.6M161.2 116.3l4.7 7.1M149.8 122.1l39.1 2.7M149.8 122.1l7.1 -7.9M184.7 144.1l2.6 -23.3M184.7 144.1l8.2 -20.5M184.7 144.1l-14.9 -14.1M177.4 151.9l-1.8 -24.5M177.4 151.9l.2 -17.5M186.1 101.7l-9.8 16.2M168.7 93.2l-8.1 14.2M159.3 96.5l-0 26.7M200.2 118.1l-7.3 5.5M218.9 174.1l-2.6 13.2M201.1 173.1l6.4 3M201.1 173.1l-14.4 4.7M198.6 165.2l15.6 8.2M194 163.9l5.3 5.6M199.3 169.5l6.9 -1.8M199.3 169.5l1.8 3.6M207.5 176.1l7.1 -7.9M202.4 179.5l12.2 -11.3M198.1 183.3l-.9 -8.3M190.7 174l-4 3.8M190.7 174l-7 -13.8M183 184.7l-8 -13.7M180.3 163.6l34.3 4.6M180.3 163.6l22.1 15.9M192.5 168.2l4.8 6.9M192.5 168.2l6.2 -3M175 171l3.7 9.3M175 171l35.8 -10.6M175 171l3.6 4.4M197.2 175l9.8 16M197.2 175l-10.5 2.8M197.2 175l-2.3 -3.5M200.7 188.5l6.9 -12.4M200.7 188.5l.4 -15.4M200.7 188.5l1.7 -9M182.4 173l-2.1 -9.4M182.4 173l14.8 2M205.9 160.1l-23.5 12.9M205.9 160.1l4.9 .3M181.2 168.5l9.5 5.5M181.2 168.5l16 6.5M174.6 181.7l12.1 -12.5M174.6 181.7l26.5 -8.5M213.5 183l-19.5 -19.1M213.5 183l-12.4 -9.9M187.7 159.8l18.1 .2M199.5 159l1.6 14.2M218.6 182.1l-5.1 .9M218.6 182.1l1.4 -13M178.7 180.3l1.6 8.2M193.1 192.6l-6.4 -14.8M193.1 192.6l-.6 -14.9M193.1 192.6l8 -19.5M210.3 186l3.2 -3M178.6 175.4l15.4 -11.5M214.3 173.4l-6.7 2.8M207 191l-9.8 -16M219.9 169.2l-17.6 10.4M219.9 169.2l-12.4 6.9M186.7 177.8l20.9 -1.7M186.7 177.8l-7.9 2.5M183.7 160.2l8.8 7.9M206.2 167.7l-3.8 11.8M191.7 181.8l9.4 -8.7M187 164.2l14.1 8.9M205.1 186.1l5.2 -.1M222 178.1l-20.9 -4.9M222 178.1l-19.7 1.5M186.7 169.2l14.4 3.9M186.7 169.2l15.6 10.3M209.9 165.7l-17.4 12M209.9 165.7l-10.5 3.8M173.6 176.1l27 12.4M173.6 176.1l25.9 -17.2M185.2 190.9l20.9 -23.2M185.2 190.9l17.1 -11.4M214.6 168.2l-13.5 4.9M214.6 168.2l-13.5 4.9M214.6 168.2l-13.5 4.9M192.5 177.7l6.8 -8.2M192.5 177.7l12.6 8.4M188.4 186.3l6.5 -14.8M188.4 186.3l4.1 -8.6" stroke="#222" stroke-opacity=".62"/><path d="M188.4 186.3l6.5 -14.8M193.3 188.4l-1.5 -6.6M176.1 164.4l16.4 13.3M203.3 192.5l-8.4 -21M203.3 192.5l6.5 -26.8M176 185.9l7 -1.2M176 185.9l10.6 -8.1M180.4 188.5l-5.7 -6.9M180.4 188.5l6.6 -24.3M180.4 188.5l34.2 -20.3M214.5 178l7.5 .1M214.5 178l5.4 -8.8M214.5 178l7.5 .1M195 171.5l-3.2 10.3M195 171.5l-4.2 2.5M195 171.5l-13.7 -3M210.8 160.4l-4.9 -.3M210.8 160.4l-11.3 -1.5M210.8 160.4l9.1 1.6M198 192.3l-3 -20.8M198 192.3l6.5 4.4M198 192.3l15.5 -9.3M193.8 157.9l5.7 1M224.7 174.1l-18.6 -6.5M224.7 174.1l-10.5 -.8M224.7 174.1l-32.2 3.6M219.9 162.1l-25.9 1.8M172.3 163l27.2 -4M172.3 163l22.7 8.5M170.5 179.5l11.9 -6.5M167.9 171.3l5.8 4.9M209.3 198.7l-16 -10.2M204.5 196.7l14 -14.6M36.5 213.2l-14.8 5.1M36.5 213.2l3.8 4.4M28.7 213.6l26.2 -1.9M28.7 213.6l10.6 -9.1M43.1 227.9l.5 -24.8M42.5 198.7l-7.4 9.2M39.6 233.2l7.1 -17.8M39.6 233.2l4 -30.1M27.4 202.5l1.9 18.4M67.5 198.2l-13.7 21.5M67.5 198.2l-13.7 21.5M46.8 210.2l-12.9 -8.9M46.8 210.2l-6.6 7.4M54.9 211.7l-11.3 -8.6M56 195.1l-38.1 17.7M56 195.1l-12.4 8M50.9 193l-23.5 9.5M50.9 193l-.9 6.2M50.9 193l-12.7 28M33.8 221.9l12.9 -6.5M33.8 221.9l-5.1 -8.3M61 202.5l-4 3M61 202.5l-9.7 12.7M38.2 221.1l2 -3.6M50 199.2l4.9 12.5M29.3 220.9l14.5 1.7M29.3 220.9l14.5 1.7M35.1 207.9l4.3 -3.4M35.1 207.9l11.8 2.3M63.9 216.5l-10 3.2M51.3 215.3l-2.1 9.4M51.3 215.3l-7.5 7.3M21.6 226.4l13.4 -18.5M21.6 226.4l.3 -12.7M21.6 226.4l14.9 -13.2M54.7 201.4l.2 10.3M21.7 218.2l12.3 -17M55.9 223.9l-9.7 -29.3M55.9 223.9l-22.1 -2M38.2 195.5l4.3 3.2M46.2 194.6l5.1 20.7M46.2 194.6l-2.6 8.5M46.7 215.4l-3.1 -12.3M46.7 215.4l7.2 4.3M46.7 215.4l-12.7 -14.2M63.2 197.8l-13.2 1.4M43.8 222.6l7.5 -7.3M34 201.2l-6.6 1.3M34 201.2l16 -2M25.3 222l9.7 -14.1M57 205.6l-23 -4.4M53.9 219.7l-20.1 2.3M53.9 219.7l7.1 -17.1M32.1 230.4l-15.1 4.3M67.1 213.8l-15.8 1.5M67.1 213.8l-3.2 2.7M49.1 224.7l5.6 -23.2M49.1 224.7l2.1 -9.4M39.3 204.5l-1.1 16.6M40.2 217.5l14.7 -5.8M40.2 217.5l2.2 -18.8M43.6 203.1l10.3 16.6M21.9 213.7l24.9 -3.6M21.9 213.7l18.3 3.8M27.1 209.7l19.7 .5M27.1 209.7l24.2 5.6M17.9 212.8l22.4 4.7" stroke="#222" stroke-opacity=".62"/><path d="M27.1 232.5l6.7 -10.6M45.4 236.3l-16.1 -15.4M17 234.7l32.2 -10M17 234.7l8.3 -12.6M75.8 207.3l-58.8 27.4M106.7 229.9l3.5 -4.4M126.5 229.3l.3 -22.3M130.8 226.4l-15.3 -1.9M116.2 231.9l-8 -22.8M132 233.9l-16.4 -9.4M132 233.9l-30.7 -6M125.9 216.8l-3.3 19.2M103.5 240.3l19.1 -4.3M103.5 240.3l30.6 -11.5M103.5 240.3l7.7 -1.1M111.1 243.5l-2.6 -10M95.9 216.9l23.9 35M117.9 214.3l-2.3 10.2M117.9 214.3l14.6 -6.3M118.9 200.8l-3.4 23.7M118.9 200.8l-8.2 .5M118.9 200.8l-8.7 24.7M107.2 245.3l9 -13.3M107.2 245.3l10.7 -30.9M107.2 245.3l3 -19.8M108.5 205l18 24.3M108.5 205l7.7 26.9M108.5 233.5l1.7 -8M129.9 211.9l-29 -1.9M124.5 248.7l-14.3 -23.2M108.2 209.2l-5 15M108.2 209.2l.3 -4.2M108.2 209.2l-10.8 26.4M100.9 209.9l7.3 -.8M100.9 209.9l.4 17.9M100.9 209.9l2.3 14.2M122.9 226.4l-14.7 -17.2M122.9 226.4l-16.2 3.5M122.9 226.4l3.5 2.9M102.7 235.7l15.2 -21.4M102.7 235.7l12.9 -11.2M102.7 235.7l12.9 -11.2M115.5 224.5l10.4 -7.7M115.5 224.5l-12.9 11.2M110.2 225.5l-2.7 -3.3M134.1 228.8l-23.9 -3.3M134.1 228.8l-8.2 -12M130.4 240.9l-27.7 -5.2M130.4 240.9l-19.2 -1.8M122.6 236l-12.4 -10.5M103.2 224.2l7 1.3M110.7 201.3l6.2 -6.3M110.7 201.3l-6.8 15M103.9 216.2l6.3 9.2M103.9 216.2l2.8 13.7M107.5 222.2l-13.9 3.4M93.4 212.3l14.8 -3.1M111.2 239.2l-9.9 -11.3M111.2 239.2l-1 -13.7M97.5 235.6l12.8 -10.1M93.7 225.6l13.9 -3.4M93.7 225.6l13.9 -3.4M122.5 241.4l-6.9 -16.9M124.4 210.8l-20.5 5.4M124.4 210.8l-8.9 13.7M119.8 251.9l-11.3 -18.4M119.8 251.9l-9.6 -26.4M110.5 214.5l-2.3 -5.3M110.5 214.5l5 10M126.8 207l-2.4 3.8M126.8 207l-.9 9.8M101.3 227.9l-7.7 -2.3M117 195l9.5 34.3M117 195l.9 19.3M86.9 217.3l15.7 18.4M86.9 217.3l14 -7.3M131.2 254.3l-15.7 -29.8M132.5 208l-1.7 18.3M168.9 271.1l-12.5 -.9M157.9 253.4l15.4 -6.3M157.9 253.4l-1.5 16.8M157.9 253.4l-3.8 1.7M165.2 261.8l9.9 .9M165.2 261.8l25.5 -.3M177.7 235l3 4.6M177.7 235l-.5 16.7M179.3 268.2l22.4 -7.8M179.3 268.2l-6 -21.1M163 226.8l9 -1.6M149.4 237.9l44.1 3.7M181.9 254.3l-16.8 7.5M187.2 250.9l-22.5 -9.4M191.4 251.5l-22.6 2.6M191.4 251.5l-4.2 -.6M191.4 251.5l2 -9.9M157.1 244.2l20.6 -9.2M157.1 244.2l20.1 7.5M183.6 270.1l-11.6 -12.7M153.7 264.7l19.6 -17.6M153.7 264.7l18.4 -7.3" stroke="#222" stroke-opacity=".62"/><path d="M152.4 246.2l4.2 2.2M152.4 246.2l12.5 22M168.9 254.2l13.1 .1M168.9 254.2l3.2 3.3M193.4 241.6l-36.4 2.6M156.5 248.4l16.6 4.8M185.8 260.6l-22.8 -33.8M185.8 260.6l-1.5 -13.5M160.5 233.7l4.2 7.8M160.5 233.7l-6.4 21.4M187.4 238.9l-9.7 -3.9M187.4 238.9l4.1 12.6M172 225.2l1.3 21.9M172 225.2l1.6 11.5M175.1 262.8l1.5 -18.6M173.1 253.2l.5 -16.5M164.7 241.5l17.2 12.8M164.7 241.5l-6.8 11.9M164.7 241.5l-4.2 -7.8M173.6 236.7l1.5 26M173.6 236.7l3.6 14.9M160.7 268.3l-12.6 -26.3M160.7 268.3l-12.6 -26.3M165.4 231.5l-7.5 21.8M172.1 257.4l4.6 -13.2M172.1 257.4l5.1 -5.8M172.1 257.4l13.7 3.2M176.6 244.2l-28.5 -2.2M169.5 234l14.8 13.1M165.2 275l-.4 -6.8M164.8 268.2l.3 -6.4M177.1 251.7l-2.9 23.7M190.6 261.5l-4.9 -.9M184.3 247.1l9.2 -5.5M183.9 228.5l3.5 10.4M173.3 247.1l-15.4 6.3M173.3 247.1l8.6 7.2M187.8 244.6l-5.9 9.7M187.8 244.6l-22.6 17.3M187.8 244.6l-23.1 -3.1M154.5 231.5l1.8 5.2M183.8 233.8l-7.2 10.4M183.8 233.8l-10.2 3M174.2 275.3l6.1 -13.9M174.2 275.3l-5.3 -4.2M174.2 275.3l13 -24.4M154.1 255l14.8 -.9M156.4 236.6l35.1 -1.8M180.3 261.4l-21.8 -3.5M180.3 261.4l-23.9 -24.7M180.7 239.6l-24.2 8.8M180.7 239.6l6.7 -.7M148.2 242l43.3 -7.2M148.2 242l1.2 -4.1M196.5 230.7l-3.1 10.9M196.5 230.7l-5 4.1M201.7 260.4l-29.6 -3M201.7 260.4l-32.2 -26.4M147 273.2l10.9 -19.9M140.1 250.3l9.2 -12.4M140.7 264.2l28.2 -10M140.7 264.2l32.6 -17.1M196 225.5l-22.4 11.2M196 225.5l-31.2 16M33.4 59.3l37.3 31.6M22 100.4l67.4 -3.1M17.2 73.4l62.4 18.2M38.2 91.1l31 -11.2M15.8 94.2l75.1 20.6M13.6 82.1l53.9 5.8M19.5 69.9l70.8 52.4M4.3 80.3l66.3 3.8M29 83.9l40.1 -4M15.5 89l16.9 69.9M13.6 82.1l29.4 88.6M49.1 73.4l43.6 98.6M44 81.8l44.6 95.9M16.9 78.5l64.2 100.9M27.7 63.2l72.2 87.2M27.4 90.8l58.6 37.7M90.9 114.8l-17 28.1M55.8 102.2l8.8 42.6M80.6 101l-2.4 32.4M66.3 114.7l14.7 35.7M55.4 87.3l8.1 76.7M73.1 120.1l11 54.6M72.7 94.4l3 42.4M82 114.2l-9.3 32.9M98.3 110.6l-78.2 53.6M89.7 83.3l-32.4 82.5M80.8 86.4l-65.2 74.2M73.4 112.3l-60.2 57.7M98.3 110.6l23.2 25.1M79.2 110.5l121 7.6M73.1 120.1l111.6 24M59.5 161.3l39.3 -26.1M67.2 146.3l31.6 -11.1M22.4 155.5l63.6 -27M19.5 159.2l90.9 -21M14.5 144.2l74.4 20.2" stroke="#222" stroke-opacity=".62"/><path d="M57.4 165.9l45.9 6.3M64 157.4l17 -6.9M40 144.4l37.4 -3.9M29.5 146.8l41.8 -7.5M14.5 144.2l57.2 16.8M23.6 136.8l50.7 -4.7M37.9 166.1l32.2 -8.7M48 137.3l37 16.4M56.1 135l-3.5 28.1M13.2 170l81 -30.4M53.4 147.1l10.5 69.4M36 156.5l-8.9 76M39.9 154.3l-.4 78.9M43.4 151.1l3.3 64.3M65.1 139.1l56.3 -3.4M89.7 143.3l31.8 -1M62.2 154.4l33.6 5.6M101.2 168.2l10.8 -14.9M94.2 139.6l16.7 18.2M76 156.2l39 3.8M75.7 136.8l42.5 2.3M86 181.8l28.2 -41.5M98.8 135.2l10.9 9.3M93.3 181.2l32.5 -37.4M70 174.4l-30.7 30.1M88.5 133.8l-39.3 90.9M77.5 140.5l-55.8 77.7M65.1 139.1l-10.4 62.4M76 156.2l-22.2 63.4M94.2 139.6l13.3 82.5M99.1 175.1l25.3 35.7M86 181.8l46.5 26.3M105.4 166.9l-4.5 43M52.6 163.1l55.9 41.9M114.2 154.2l-6.6 68M86.2 146.5l24 79M92.5 176.7l24.4 18.3M81 150.5l34.6 74M100.8 161.9l72.8 -30.3M121.5 142.3l62.7 -34.9M133.2 139.6l44.8 -36.5M121.5 142.3l60.7 -15.9M130.7 135.9l58.2 -11.2M95.8 159.9l94.7 -25.7M118.3 139.1l28.4 16.3M128 140.4l52.3 23.2M124.3 152l62.5 17.2M124.3 138.8l60.9 52.1M121.4 148.5l75.9 26.6M143.8 161l38.3 -34.5M154.5 159.3l36.8 -41.8M143.8 161l54.8 4.2M152.2 144.1l40.9 48.5M184.2 107.4l-11.9 55.6M159.2 123.2l41.9 49.9M181.9 114.2l5.8 45.7M156.9 114.2l65.1 63.8M180 138.8l-9.5 40.7M160.7 107.4l26.1 61.8M114.2 154.2l79.8 9.7M75.7 136.8l137.8 46.2M104.9 151.2l100.9 8.9M101.4 140.1l77.2 35.3M77.5 140.5l83.2 -33.1M95.5 148.9l74.4 -18.9M88.5 133.8l89.5 8.9M101.2 168.2l48.7 -46.1M82.2 143.8l93.1 -5.6M75.7 136.8l89.6 -4.5M118.5 244.5l50.4 9.7M107.5 222.2l41.8 15.7M117 195l41.6 62.9M122.6 236l25.5 6M132.5 208l40.6 45.2M97.5 235.6l59 34.6M122.9 226.4l62.8 34.2M214.5 178l-30.6 50.6M192.5 177.7l-27.1 53.8M17.9 212.8l79.6 22.8M42.5 198.7l51 13.6M17 234.7l113.4 6.3M17.9 212.8l83.5 15.1M62.2 154.4l94.8 89.8M70.9 135.3l112.8 134.8M103.3 172.2l80.4 98M82.2 143.8l58 106.5M57.6 138.5l36.1 87.1M28 150.9l75.9 65.3M23.5 150.2l107.4 76.2M73.4 112.3l141.2 56M76.3 131.5l129.6 28.6M61.3 99.7l126.5 60.1M125.8 143.8l-29.9 73.2M143.8 161l25 93.2M157 151.9l1.5 106M15.5 89l158.1 42.6M117.9 214.3l75.2 -21.7M95.9 216.9l110.3 -49.2M57.4 165.9l75.8 -26.2M64 157.4l50.2 -17.1" stroke="#222" stroke-opacity=".62"/><path d="M32.3 167.5l82.8 -7.5M39.5 158.9l56.6 7.4M49.1 224.7l113.8 2.1M68.7 109.6l34.5 114.5M66.6 105.7l41.8 99.4" stroke="#222" stroke-opacity=".62"/></g><use href="#ea" xlink:href="#ea" x="225"/><path d="M30.1 98.9h0M38.5 97.1h0M14.5 101.7h0M20.4 87.8h0M27.4 90.8h0M29.7 73.9h0M25 95.3h0M38.9 81.5h0M43.8 95.7h0M19.3 111.8h0M17.7 83.4h0M9.1 97.3h0M20 103.7h0M18.3 65.8h0M34 75.2h0M39.3 106h0M24.5 72.3h0M8.1 77.9h0M9.6 93.2h0M17.2 73.4h0M22.9 83.5h0M40 87.1h0M36.2 70h0M15.8 94.2h0M35.9 109.4h0M15.5 89h0M22.8 107.4h0M13.6 82.1h0M13.7 75.9h0M27.7 63.2h0M34.2 92.5h0M20.7 92.9h0M33.2 104h0M18.9 97.4h0M38.2 91.1h0M25 79.2h0M25.8 101.4h0M22.8 64.2h0M20.8 77.1h0M4.7 96.6h0M44.1 86.1h0M10.5 107.7h0M5.3 91.1h0M28.9 68.3h0M7.6 104.1h0M12.6 65.7h0M28.5 111.3h0M29 83.9h0M34.7 80.2h0M6.1 86.9h0M22.8 114h0M38.4 74h0M34.3 64.7h0M19.5 69.9h0M12.9 71.6h0M32.9 85.2h0M4.3 80.3h0M10.8 87.7h0M43.1 77.6h0M6.2 73.7h0M29.1 104.5h0M43.1 91.4h0M14.4 110.7h0M8.8 70.4h0M24.7 87.4h0M9.5 81.9h0M34.3 98.6h0M30.6 94.6h0M40.1 101.3h0M16.9 78.5h0M15.3 106.1h0M30 80h0M44 81.8h0M13.4 97.7h0M22 100.4h0M19.5 61.9h0M38.9 112.8h0M-1.5 93.5h0M49.1 73.4h0M44.7 107.2h0M1.7 103.5h0M43 111.5h0M12.6 116.9h0M33.4 59.3h0M6.8 66.4h0" stroke="#555" stroke-opacity=".35" stroke-width="3.6" stroke-linecap="round"/><path d="M30.1 98.9h0M38.5 97.1h0M14.5 101.7h0M20.4 87.8h0M27.4 90.8h0M29.7 73.9h0M25 95.3h0M38.9 81.5h0M43.8 95.7h0M19.3 111.8h0M17.7 83.4h0M9.1 97.3h0M20 103.7h0M18.3 65.8h0M34 75.2h0M39.3 106h0M24.5 72.3h0M8.1 77.9h0M9.6 93.2h0M17.2 73.4h0M22.9 83.5h0M40 87.1h0M36.2 70h0M15.8 94.2h0M35.9 109.4h0M15.5 89h0M22.8 107.4h0M13.6 82.1h0M13.7 75.9h0M27.7 63.2h0M34.2 92.5h0M20.7 92.9h0M33.2 104h0M18.9 97.4h0M38.2 91.1h0M25 79.2h0M25.8 101.4h0M22.8 64.2h0M20.8 77.1h0M4.7 96.6h0M44.1 86.1h0M10.5 107.7h0M5.3 91.1h0M28.9 68.3h0M7.6 104.1h0M12.6 65.7h0M28.5 111.3h0M29 83.9h0M34.7 80.2h0M6.1 86.9h0M22.8 114h0M38.4 74h0M34.3 64.7h0M19.5 69.9h0M12.9 71.6h0M32.9 85.2h0M4.3 80.3h0M10.8 87.7h0M43.1 77.6h0M6.2 73.7h0M29.1 104.5h0M43.1 91.4h0M14.4 110.7h0M8.8 70.4h0M24.7 87.4h0M9.5 81.9h0M34.3 98.6h0M30.6 94.6h0M40.1 101.3h0M16.9 78.5h0M15.3 106.1h0M30 80h0M44 81.8h0M13.4 97.7h0M22 100.4h0M19.5 61.9h0M38.9 112.8h0M-1.5 93.5h0M49.1 73.4h0M44.7 107.2h0M1.7 103.5h0M43 111.5h0M12.6 116.9h0M33.4 59.3h0M6.8 66.4h0" stroke="#d62728" stroke-width="3" stroke-linecap="round"/><path d="M66.3 114.7h0M76.8 99.4h0M82 114.2h0M67.6 87.9h0M55.4 94.5h0M76.9 84.7h0M74.5 105.8h0M85.6 87.8h0M66.6 105.7h0M60.4 110.4h0M89.7 83.3h0M83.8 95.4h0M69.2 79.9h0M73.4 112.3h0M79.6 91.7h0M62.2 94.1h0M78.5 106.5h0M70.5 84.1h0M89.4 97.3h0M59.5 106.2h0M79.4 73.5h0M87.2 111.1h0M59 84.3h0M75.4 69.3h0M85.3 101.1h0M74.2 124.7h0M69.3 121.9h0M93.2 93.7h0M79.6 96.4h0M72.7 94.4h0M79.2 110.5h0M61.3 99.7h0M72.9 77.8h0M55.8 102.2h0M80.8 86.4h0M83.3 108.4h0M68.8 74.8h0M68.7 109.6h0M79.9 81h0M63.3 117.7h0M94.9 103.7h0M64.6 80.1h0M85.3 116.6h0M68.5 95.5h0M88.7 92.3h0M62.6 74.6h0M86.2 105h0M85.4 74.6h0M91.6 108.3h0M69.9 100.6h0M78.6 123.8h0M59.8 88.8h0M70.3 116.4h0M88.9 79.4h0M90.9 114.8h0M80.6 101h0M82.3 119.3h0M74.9 90.1h0M55.4 87.3h0M58.7 114.6h0M76.3 115.5h0M64 90.4h0M57.6 98h0M63.1 85.3h0M95.9 96.8h0M84.7 82h0M65.7 99.8h0M59.9 78.7h0M77.3 119.5h0M73.1 120.1h0M92.2 89.1h0M69.5 70.4h0M75.3 74.2h0M93.6 84.5h0M89.2 102.3h0M83.3 78.1h0M77.5 77.8h0M70.6 90.9h0M70.8 104.3h0M90.3 122.2h0M89.8 127h0M71.5 130h0M94.2 119.9h0M89.2 70.2h0M76.3 131.5h0M71.9 64.5h0M98.3 110.6h0M83.6 123.1h0" stroke="#555" stroke-opacity=".35" stroke-width="3.6" stroke-linecap="round"/><path d="M66.3 114.7h0M76.8 99.4h0M82 114.2h0M67.6 87.9h0M55.4 94.5h0M76.9 84.7h0M74.5 105.8h0M85.6 87.8h0M66.6 105.7h0M60.4 110.4h0M89.7 83.3h0M83.8 95.4h0M69.2 79.9h0M73.4 112.3h0M79.6 91.7h0M62.2 94.1h0M78.5 106.5h0M70.5 84.1h0M89.4 97.3h0M59.5 106.2h0M79.4 73.5h0M87.2 111.1h0M59 84.3h0M75.4 69.3h0M85.3 101.1h0M74.2 124.7h0M69.3 121.9h0M93.2 93.7h0M79.6 96.4h0M72.7 94.4h0M79.2 110.5h0M61.3 99.7h0M72.9 77.8h0M55.8 102.2h0M80.8 86.4h0M83.3 108.4h0M68.8 74.8h0M68.7 109.6h0M79.9 81h0M63.3 117.7h0M94.9 103.7h0M64.6 80.1h0M85.3 116.6h0M68.5 95.5h0M88.7 92.3h0M62.6 74.6h0M86.2 105h0M85.4 74.6h0M91.6 108.3h0M69.9 100.6h0M78.6 123.8h0M59.8 88.8h0M70.3 116.4h0M88.9 79.4h0M90.9 114.8h0M80.6 101h0M82.3 119.3h0M74.9 90.1h0M55.4 87.3h0M58.7 114.6h0M76.3 115.5h0M64 90.4h0M57.6 98h0M63.1 85.3h0M95.9 96.8h0M84.7 82h0M65.7 99.8h0M59.9 78.7h0M77.3 119.5h0M73.1 120.1h0M92.2 89.1h0M69.5 70.4h0M75.3 74.2h0M93.6 84.5h0M89.2 102.3h0M83.3 78.1h0M77.5 77.8h0M70.6 90.9h0M70.8 104.3h0M90.3 122.2h0M89.8 127h0M71.5 130h0M94.2 119.9h0M89.2 70.2h0M76.3 131.5h0M71.9 64.5h0M98.3 110.6h0M83.6 123.1h0" stroke="#e377c2" stroke-width="3" stroke-linecap="round"/><path d="M61.8 139.5h0M52.7 153.8h0M46.7 165.3h0M44 134.1h0M51.8 136.1h0M37.3 140.2h0M39.4 149.7h0M56.9 149.8h0M16.9 156h0M20.6 142.8h0M60.7 151.8h0M39.5 158.9h0M59.5 142.9h0M52.9 163h0M29.5 146.8h0M19.5 159.2h0M28.7 164.8h0M46.7 159.5h0M46.4 148.8h0M53.4 147.1h0M23.9 162h0M27.6 135.7h0M31 140.8h0M34.2 145h0M31.8 153.7h0M35.6 161.8h0M38.2 134.3h0M18.1 138.7h0M43 170.7h0M28 150.9h0M37.9 166.1h0M43.9 141.8h0M56.5 155.3h0M44.9 154.9h0M48.1 143.6h0M65.2 152.8h0M17.9 146.6h0M59.5 161.3h0M32.4 159h0M13.1 153.9h0M23.5 150.2h0M39.9 154.3h0M40 144.4h0M63.1 145.4h0M13.9 149h0M27.1 156.6h0M53 142.5h0M36 156.5h0M32.3 167.5h0M20.1 164.2h0M32.3 135h0M49.7 168.3h0M67.2 146.3h0M26.4 143.9h0M47.8 132.2h0M57.4 165.9h0M57.6 138.5h0M35.7 151.7h0M23.6 136.8h0M64 157.4h0M22.4 155.5h0M48 137.3h0M36.4 170.7h0M28 169h0M41.9 164.4h0M35.3 131.4h0M28.7 160.5h0M50.9 157.9h0M42 138.2h0M14.5 144.2h0M24 167h0M48.8 152.3h0M18.7 151.1h0M55.1 159.6h0M32.2 149.9h0M43.4 151.1h0M26.6 139.9h0M53.4 166.8h0M60.3 156.2h0M22.2 146.3h0M43.3 146.5h0M56.1 135h0M15.6 160.6h0M40.7 131h0M58.8 146.5h0M13.2 170h0M49.3 127.2h0M61.5 173.2h0M61.8 167.9h0M74.1 147.4h0M26.9 127h0M55.6 127.5h0M31.4 172.8h0M23.6 130.3h0M44.7 127.3h0" stroke="#555" stroke-opacity=".35" stroke-width="3.6" stroke-linecap="round"/><path d="M61.8 139.5h0M52.7 153.8h0M46.7 165.3h0M44 134.1h0M51.8 136.1h0M37.3 140.2h0M39.4 149.7h0M56.9 149.8h0M16.9 156h0M20.6 142.8h0M60.7 151.8h0M39.5 158.9h0M59.5 142.9h0M52.9 163h0M29.5 146.8h0M19.5 159.2h0M28.7 164.8h0M46.7 159.5h0M46.4 148.8h0M53.4 147.1h0M23.9 162h0M27.6 135.7h0M31 140.8h0M34.2 145h0M31.8 153.7h0M35.6 161.8h0M38.2 134.3h0M18.1 138.7h0M43 170.7h0M28 150.9h0M37.9 166.1h0M43.9 141.8h0M56.5 155.3h0M44.9 154.9h0M48.1 143.6h0M65.2 152.8h0M17.9 146.6h0M59.5 161.3h0M32.4 159h0M13.1 153.9h0M23.5 150.2h0M39.9 154.3h0M40 144.4h0M63.1 145.4h0M13.9 149h0M27.1 156.6h0M53 142.5h0M36 156.5h0M32.3 167.5h0M20.1 164.2h0M32.3 135h0M49.7 168.3h0M67.2 146.3h0M26.4 143.9h0M47.8 132.2h0M57.4 165.9h0M57.6 138.5h0M35.7 151.7h0M23.6 136.8h0M64 157.4h0M22.4 155.5h0M48 137.3h0M36.4 170.7h0M28 169h0M41.9 164.4h0M35.3 131.4h0M28.7 160.5h0M50.9 157.9h0M42 138.2h0M14.5 144.2h0M24 167h0M48.8 152.3h0M18.7 151.1h0M55.1 159.6h0M32.2 149.9h0M43.4 151.1h0M26.6 139.9h0M53.4 166.8h0M60.3 156.2h0M22.2 146.3h0M43.3 146.5h0M56.1 135h0M15.6 160.6h0M40.7 131h0M58.8 146.5h0M13.2 170h0M49.3 127.2h0M61.5 173.2h0M61.8 167.9h0M74.1 147.4h0M26.9 127h0M55.6 127.5h0M31.4 172.8h0M23.6 130.3h0M44.7 127.3h0" stroke="#9467bd" stroke-width="3" stroke-linecap="round"/><path d="M76 156.2h0M86.2 146.5h0M88.8 164.4h0M77 164.6h0M72.4 178.6h0M85.4 157.9h0M106.8 157.9h0M90.5 159.3h0M81.8 135.8h0M81.1 179.4h0M96.4 153.4h0M68.1 142.4h0M92.4 166.9h0M77.5 140.5h0M81 150.5h0M96.7 143.9h0M98.8 135.2h0M94.2 139.6h0M88.6 177.7h0M99.8 150.3h0M101.2 168.2h0M71.7 161h0M92 153.7h0M72.6 147.1h0M63.5 164h0M99.1 175.1h0M65.9 158.3h0M103.7 161.1h0M82.2 130h0M104.1 144.6h0M77.5 172.1h0M82.4 169.3h0M70 174.4h0M93 145.7h0M75.7 136.8h0M71 169.1h0M96.9 178.7h0M95.5 148.9h0M87.6 139.2h0M82.2 143.8h0M88.5 133.8h0M101.4 140.1h0M69.8 151.8h0M98.6 163.8h0M84.1 174.7h0M79.9 161.2h0M84.9 153.7h0M77.9 147.4h0M67 166.5h0M104.9 151.2h0M92.7 162.6h0M65.1 139.1h0M64.6 144.8h0M87.7 170.3h0M94.5 132.5h0M88 150.7h0M66.5 154.2h0M99.2 156.4h0M66.2 170.7h0M73.8 152.9h0M103.3 172.2h0M66.5 148.6h0M72.8 165.2h0M70.1 157.3h0M81.7 156.2h0M74.6 175h0M70.9 135.3h0M92.8 172.1h0M90.1 129.5h0M105.4 166.9h0M71.3 139.3h0M89.7 143.3h0M77.4 182.3h0M61.6 150.3h0M97.6 171.3h0M86 181.8h0M93.3 181.2h0M74.3 132.1h0M92.5 176.7h0M81 165.5h0M95.8 158.9h0M62 159.7h0M103.3 155.2h0M73.9 142.9h0M78.5 176h0M78.1 133.4h0M86 128.5h0M62.2 154.4h0M67.8 161.8h0M85.4 161.9h0M101.3 129.9h0M52.6 163.1h0M110.4 138.2h0M110.6 160.3h0M89 120.3h0M72.7 126.4h0M76.2 189.8h0M114.2 154.2h0M108.1 148.5h0M110.1 170h0" stroke="#555" stroke-opacity=".35" stroke-width="3.6" stroke-linecap="round"/><path d="M76 156.2h0M86.2 146.5h0M88.8 164.4h0M77 164.6h0M72.4 178.6h0M85.4 157.9h0M106.8 157.9h0M90.5 159.3h0M81.8 135.8h0M81.1 179.4h0M96.4 153.4h0M68.1 142.4h0M92.4 166.9h0M77.5 140.5h0M81 150.5h0M96.7 143.9h0M98.8 135.2h0M94.2 139.6h0M88.6 177.7h0M99.8 150.3h0M101.2 168.2h0M71.7 161h0M92 153.7h0M72.6 147.1h0M63.5 164h0M99.1 175.1h0M65.9 158.3h0M103.7 161.1h0M82.2 130h0M104.1 144.6h0M77.5 172.1h0M82.4 169.3h0M70 174.4h0M93 145.7h0M75.7 136.8h0M71 169.1h0M96.9 178.7h0M95.5 148.9h0M87.6 139.2h0M82.2 143.8h0M88.5 133.8h0M101.4 140.1h0M69.8 151.8h0M98.6 163.8h0M84.1 174.7h0M79.9 161.2h0M84.9 153.7h0M77.9 147.4h0M67 166.5h0M104.9 151.2h0M92.7 162.6h0M65.1 139.1h0M64.6 144.8h0M87.7 170.3h0M94.5 132.5h0M88 150.7h0M66.5 154.2h0M99.2 156.4h0M66.2 170.7h0M73.8 152.9h0M103.3 172.2h0M66.5 148.6h0M72.8 165.2h0M70.1 157.3h0M81.7 156.2h0M74.6 175h0M70.9 135.3h0M92.8 172.1h0M90.1 129.5h0M105.4 166.9h0M71.3 139.3h0M89.7 143.3h0M77.4 182.3h0M61.6 150.3h0M97.6 171.3h0M86 181.8h0M93.3 181.2h0M74.3 132.1h0M92.5 176.7h0M81 165.5h0M95.8 158.9h0M62 159.7h0M103.3 155.2h0M73.9 142.9h0M78.5 176h0M78.1 133.4h0M86 128.5h0M62.2 154.4h0M67.8 161.8h0M85.4 161.9h0M101.3 129.9h0M52.6 163.1h0M110.4 138.2h0M110.6 160.3h0M89 120.3h0M72.7 126.4h0M76.2 189.8h0M114.2 154.2h0M108.1 148.5h0M110.1 170h0" stroke="#1f77b4" stroke-width="3" stroke-linecap="round"/><path d="M121.4 148.5h0M107.9 163.2h0M100.8 161.9h0M133.2 139.6h0M110.9 157.8h0M117.7 154.6h0M112 153.3h0M106.4 153.1h0M117.7 143.9h0M124.3 138.8h0M128 140.4h0M125.5 147.8h0M132.1 144.7h0M113.7 148.5h0M119.4 158.3h0M118.3 139.1h0M102.6 156.1h0M109.7 144.5h0M106.3 148.8h0M126.9 133.8h0M115.1 160h0M125.8 143.8h0M114.2 140.3h0M130.7 135.9h0M124.3 152h0M121.4 135.7h0M121.5 142.3h0M96.1 166.3h0M113.3 136.3h0M95.8 159.9h0" stroke="#555" stroke-opacity=".35" stroke-width="3.6" stroke-linecap="round"/><path d="M121.4 148.5h0M107.9 163.2h0M100.8 161.9h0M133.2 139.6h0M110.9 157.8h0M117.7 154.6h0M112 153.3h0M106.4 153.1h0M117.7 143.9h0M124.3 138.8h0M128 140.4h0M125.5 147.8h0M132.1 144.7h0M113.7 148.5h0M119.4 158.3h0M118.3 139.1h0M102.6 156.1h0M109.7 144.5h0M106.3 148.8h0M126.9 133.8h0M115.1 160h0M125.8 143.8h0M114.2 140.3h0M130.7 135.9h0M124.3 152h0M121.4 135.7h0M121.5 142.3h0M96.1 166.3h0M113.3 136.3h0M95.8 159.9h0" stroke="#f2c28c" stroke-width="3" stroke-linecap="round"/><path d="M146.6 155.4h0M152.1 148.9h0M153.8 154.8h0M149.9 162.3h0M144.2 148.2h0M143.8 161h0M140.5 155.2h0M150.4 157.6h0M150.2 152.6h0M141 150.8h0M154.5 159.3h0M152.2 144.1h0M157 151.9h0" stroke="#555" stroke-opacity=".35" stroke-width="3.6" stroke-linecap="round"/><path d="M146.6 155.4h0M152.1 148.9h0M153.8 154.8h0M149.9 162.3h0M144.2 148.2h0M143.8 161h0M140.5 155.2h0M150.4 157.6h0M150.2 152.6h0M141 150.8h0M154.5 159.3h0M152.2 144.1h0M157 151.9h0" stroke="#17becf" stroke-width="3" stroke-linecap="round"/><path d="M169.3 137.4h0M187.3 120.7h0M173.4 114.6h0M171.5 119.8h0M170.1 125.2h0M176.8 122.5h0M176.4 107.5h0M166.3 119h0M165.9 123.3h0M175.5 127.4h0M175.2 138.2h0M177.5 112.8h0M160.7 107.4h0M180.2 119.9h0M193 128.6h0M169.9 130h0M191.3 117.5h0M156.9 114.2h0M185.3 134.9h0M162.4 138.3h0M161.3 131.1h0M159.5 127.2h0M165.3 132.3h0M182.1 126.5h0M192.9 123.6h0M173.3 143h0M177.6 134.4h0M165.3 112.9h0M186.5 114.8h0M159.2 123.2h0M172.8 102.2h0M181.9 114.2h0M184.2 107.4h0M156.8 119.8h0M180 138.8h0M180.3 109.1h0M166.8 105.5h0M191.1 112.6h0M176.3 117.8h0M190.5 134.3h0M178 142.7h0M173.6 131.7h0M167.9 142.2h0M157.7 136.5h0M184.6 130.3h0M155 125h0M180.5 131.1h0M188.9 124.8h0M181.7 101.4h0M162.5 103.1h0M168.9 109h0M177.9 103.1h0M155.5 132.6h0M188.4 109.1h0M161.2 116.3h0M149.8 122.1h0M184.7 144.1h0M177.4 151.9h0M186.1 101.7h0M168.7 93.2h0M159.3 96.5h0M200.2 118.1h0" stroke="#555" stroke-opacity=".35" stroke-width="3.6" stroke-linecap="round"/><path d="M169.3 137.4h0M187.3 120.7h0M173.4 114.6h0M171.5 119.8h0M170.1 125.2h0M176.8 122.5h0M176.4 107.5h0M166.3 119h0M165.9 123.3h0M175.5 127.4h0M175.2 138.2h0M177.5 112.8h0M160.7 107.4h0M180.2 119.9h0M193 128.6h0M169.9 130h0M191.3 117.5h0M156.9 114.2h0M185.3 134.9h0M162.4 138.3h0M161.3 131.1h0M159.5 127.2h0M165.3 132.3h0M182.1 126.5h0M192.9 123.6h0M173.3 143h0M177.6 134.4h0M165.3 112.9h0M186.5 114.8h0M159.2 123.2h0M172.8 102.2h0M181.9 114.2h0M184.2 107.4h0M156.8 119.8h0M180 138.8h0M180.3 109.1h0M166.8 105.5h0M191.1 112.6h0M176.3 117.8h0M190.5 134.3h0M178 142.7h0M173.6 131.7h0M167.9 142.2h0M157.7 136.5h0M184.6 130.3h0M155 125h0M180.5 131.1h0M188.9 124.8h0M181.7 101.4h0M162.5 103.1h0M168.9 109h0M177.9 103.1h0M155.5 132.6h0M188.4 109.1h0M161.2 116.3h0M149.8 122.1h0M184.7 144.1h0M177.4 151.9h0M186.1 101.7h0M168.7 93.2h0M159.3 96.5h0M200.2 118.1h0" stroke="#ff7f0e" stroke-width="3" stroke-linecap="round"/><path d="M218.9 174.1h0M201.1 173.1h0M198.6 165.2h0M194 163.9h0M199.3 169.5h0M207.5 176.1h0M202.4 179.5h0M198.1 183.3h0M190.7 174h0M183 184.7h0M180.3 163.6h0M192.5 168.2h0M175 171h0M197.2 175h0M200.7 188.5h0M182.4 173h0M205.9 160.1h0M181.2 168.5h0M174.6 181.7h0M213.5 183h0M187.7 159.8h0M199.5 159h0M218.6 182.1h0M178.7 180.3h0M193.1 192.6h0M210.3 186h0M178.6 175.4h0M214.3 173.4h0M207 191h0M219.9 169.2h0M186.7 177.8h0M183.7 160.2h0M206.2 167.7h0M191.7 181.8h0M187 164.2h0M205.1 186.1h0M222 178.1h0M186.7 169.2h0M209.9 165.7h0M173.6 176.1h0M216.3 187.3h0M185.2 190.9h0M214.6 168.2h0M192.5 177.7h0M188.4 186.3h0M193.3 188.4h0M176.1 164.4h0M203.3 192.5h0M176 185.9h0M180.4 188.5h0M214.5 178h0M195 171.5h0M210.8 160.4h0M198 192.3h0M193.8 157.9h0M224.7 174.1h0M219.9 162.1h0M172.3 163h0M170.5 179.5h0M167.9 171.3h0M209.3 198.7h0M204.5 196.7h0" stroke="#555" stroke-opacity=".35" stroke-width="3.6" stroke-linecap="round"/><path d="M218.9 174.1h0M201.1 173.1h0M198.6 165.2h0M194 163.9h0M199.3 169.5h0M207.5 176.1h0M202.4 179.5h0M198.1 183.3h0M190.7 174h0M183 184.7h0M180.3 163.6h0M192.5 168.2h0M175 171h0M197.2 175h0M200.7 188.5h0M182.4 173h0M205.9 160.1h0M181.2 168.5h0M174.6 181.7h0M213.5 183h0M187.7 159.8h0M199.5 159h0M218.6 182.1h0M178.7 180.3h0M193.1 192.6h0M210.3 186h0M178.6 175.4h0M214.3 173.4h0M207 191h0M219.9 169.2h0M186.7 177.8h0M183.7 160.2h0M206.2 167.7h0M191.7 181.8h0M187 164.2h0M205.1 186.1h0M222 178.1h0M186.7 169.2h0M209.9 165.7h0M173.6 176.1h0M216.3 187.3h0M185.2 190.9h0M214.6 168.2h0M192.5 177.7h0M188.4 186.3h0M193.3 188.4h0M176.1 164.4h0M203.3 192.5h0M176 185.9h0M180.4 188.5h0M214.5 178h0M195 171.5h0M210.8 160.4h0M198 192.3h0M193.8 157.9h0M224.7 174.1h0M219.9 162.1h0M172.3 163h0M170.5 179.5h0M167.9 171.3h0M209.3 198.7h0M204.5 196.7h0" stroke="#2ca02c" stroke-width="3" stroke-linecap="round"/><path d="M36.5 213.2h0M28.7 213.6h0M43.1 227.9h0M42.5 198.7h0M39.6 233.2h0M27.4 202.5h0M67.5 198.2h0M46.8 210.2h0M54.9 211.7h0M56 195.1h0M50.9 193h0M33.8 221.9h0M61 202.5h0M38.2 221.1h0M50 199.2h0M29.3 220.9h0M35.1 207.9h0M63.9 216.5h0M51.3 215.3h0M21.6 226.4h0M54.7 201.4h0M21.7 218.2h0M55.9 223.9h0M38.2 195.5h0M46.2 194.6h0M46.7 215.4h0M63.2 197.8h0M43.8 222.6h0M34 201.2h0M25.3 222h0M57 205.6h0M53.9 219.7h0M32.1 230.4h0M67.1 213.8h0M49.1 224.7h0M39.3 204.5h0M40.2 217.5h0M43.6 203.1h0M21.9 213.7h0M27.1 209.7h0M17.9 212.8h0M27.1 232.5h0M45.4 236.3h0M17 234.7h0M75.8 207.3h0" stroke="#555" stroke-opacity=".35" stroke-width="3.6" stroke-linecap="round"/><path d="M36.5 213.2h0M28.7 213.6h0M43.1 227.9h0M42.5 198.7h0M39.6 233.2h0M27.4 202.5h0M67.5 198.2h0M46.8 210.2h0M54.9 211.7h0M56 195.1h0M50.9 193h0M33.8 221.9h0M61 202.5h0M38.2 221.1h0M50 199.2h0M29.3 220.9h0M35.1 207.9h0M63.9 216.5h0M51.3 215.3h0M21.6 226.4h0M54.7 201.4h0M21.7 218.2h0M55.9 223.9h0M38.2 195.5h0M46.2 194.6h0M46.7 215.4h0M63.2 197.8h0M43.8 222.6h0M34 201.2h0M25.3 222h0M57 205.6h0M53.9 219.7h0M32.1 230.4h0M67.1 213.8h0M49.1 224.7h0M39.3 204.5h0M40.2 217.5h0M43.6 203.1h0M21.9 213.7h0M27.1 209.7h0M17.9 212.8h0M27.1 232.5h0M45.4 236.3h0M17 234.7h0M75.8 207.3h0" stroke="#8c564b" stroke-width="3" stroke-linecap="round"/><path d="M106.7 229.9h0M126.5 229.3h0M130.8 226.4h0M116.2 231.9h0M132 233.9h0M125.9 216.8h0M103.5 240.3h0M111.1 243.5h0M95.9 216.9h0M117.9 214.3h0M118.9 200.8h0M107.2 245.3h0M108.5 205h0M108.5 233.5h0M129.9 211.9h0M124.5 248.7h0M108.2 209.2h0M100.9 209.9h0M122.9 226.4h0M102.7 235.7h0M115.5 224.5h0M110.2 225.5h0M134.1 228.8h0M130.4 240.9h0M122.6 236h0M118.5 244.5h0M103.2 224.2h0M110.7 201.3h0M103.9 216.2h0M107.5 222.2h0M93.4 212.3h0M111.2 239.2h0M97.5 235.6h0M93.7 225.6h0M122.5 241.4h0M124.4 210.8h0M119.8 251.9h0M110.5 214.5h0M126.8 207h0M101.3 227.9h0M117 195h0M96.8 244.8h0M86.9 217.3h0M131.2 254.3h0M132.5 208h0" stroke="#555" stroke-opacity=".35" stroke-width="3.6" stroke-linecap="round"/><path d="M106.7 229.9h0M126.5 229.3h0M130.8 226.4h0M116.2 231.9h0M132 233.9h0M125.9 216.8h0M103.5 240.3h0M111.1 243.5h0M95.9 216.9h0M117.9 214.3h0M118.9 200.8h0M107.2 245.3h0M108.5 205h0M108.5 233.5h0M129.9 211.9h0M124.5 248.7h0M108.2 209.2h0M100.9 209.9h0M122.9 226.4h0M102.7 235.7h0M115.5 224.5h0M110.2 225.5h0M134.1 228.8h0M130.4 240.9h0M122.6 236h0M118.5 244.5h0M103.2 224.2h0M110.7 201.3h0M103.9 216.2h0M107.5 222.2h0M93.4 212.3h0M111.2 239.2h0M97.5 235.6h0M93.7 225.6h0M122.5 241.4h0M124.4 210.8h0M119.8 251.9h0M110.5 214.5h0M126.8 207h0M101.3 227.9h0M117 195h0M96.8 244.8h0M86.9 217.3h0M131.2 254.3h0M132.5 208h0" stroke="#7f7f7f" stroke-width="3" stroke-linecap="round"/><path d="M168.9 271.1h0M157.9 253.4h0M165.2 261.8h0M177.7 235h0M179.3 268.2h0M163 226.8h0M149.4 237.9h0M181.9 254.3h0M158.5 257.9h0M187.2 250.9h0M191.4 251.5h0M157.1 244.2h0M183.6 270.1h0M153.7 264.7h0M152.4 246.2h0M168.9 254.2h0M193.4 241.6h0M156.5 248.4h0M185.8 260.6h0M160.5 233.7h0M187.4 238.9h0M172 225.2h0M175.1 262.8h0M173.1 253.2h0M164.7 241.5h0M173.6 236.7h0M160.7 268.3h0M165.4 231.5h0M172.1 257.4h0M156.4 270.2h0M176.6 244.2h0M169.5 234h0M165.2 275h0M164.8 268.2h0M177.1 251.7h0M190.6 261.5h0M184.3 247.1h0M183.9 228.5h0M173.3 247.1h0M187.8 244.6h0M154.5 231.5h0M191.5 234.8h0M183.8 233.8h0M174.2 275.3h0M154.1 255h0M156.4 236.6h0M180.3 261.4h0M180.7 239.6h0M148.2 242h0M196.5 230.7h0M201.7 260.4h0M147 273.2h0M140.1 250.3h0M140.7 264.2h0M196 225.5h0" stroke="#555" stroke-opacity=".35" stroke-width="3.6" stroke-linecap="round"/><path d="M168.9 271.1h0M157.9 253.4h0M165.2 261.8h0M177.7 235h0M179.3 268.2h0M163 226.8h0M149.4 237.9h0M181.9 254.3h0M158.5 257.9h0M187.2 250.9h0M191.4 251.5h0M157.1 244.2h0M183.6 270.1h0M153.7 264.7h0M152.4 246.2h0M168.9 254.2h0M193.4 241.6h0M156.5 248.4h0M185.8 260.6h0M160.5 233.7h0M187.4 238.9h0M172 225.2h0M175.1 262.8h0M173.1 253.2h0M164.7 241.5h0M173.6 236.7h0M160.7 268.3h0M165.4 231.5h0M172.1 257.4h0M156.4 270.2h0M176.6 244.2h0M169.5 234h0M165.2 275h0M164.8 268.2h0M177.1 251.7h0M190.6 261.5h0M184.3 247.1h0M183.9 228.5h0M173.3 247.1h0M187.8 244.6h0M154.5 231.5h0M191.5 234.8h0M183.8 233.8h0M174.2 275.3h0M154.1 255h0M156.4 236.6h0M180.3 261.4h0M180.7 239.6h0M148.2 242h0M196.5 230.7h0M201.7 260.4h0M147 273.2h0M140.1 250.3h0M140.7 264.2h0M196 225.5h0" stroke="#bcbd22" stroke-width="3" stroke-linecap="round"/><path d="M255.1 98.9h0M263.5 97.1h0M239.5 101.7h0M245.4 87.8h0M252.4 90.8h0M254.7 73.9h0M250 95.3h0M263.9 81.5h0M268.8 95.7h0M244.3 111.8h0M242.7 83.4h0M234.1 97.3h0M245 103.7h0M243.3 65.8h0M259 75.2h0M264.3 106h0M249.5 72.3h0M233.1 77.9h0M234.6 93.2h0M242.2 73.4h0M247.9 83.5h0M265 87.1h0M261.2 70h0M240.8 94.2h0M260.9 109.4h0M240.5 89h0M247.8 107.4h0M238.6 82.1h0M238.7 75.9h0M252.7 63.2h0M259.2 92.5h0M245.7 92.9h0M258.2 104h0M243.9 97.4h0M263.2 91.1h0M250 79.2h0M250.8 101.4h0M247.8 64.2h0M245.8 77.1h0M229.7 96.6h0M269.1 86.1h0M235.5 107.7h0M230.3 91.1h0M253.9 68.3h0M232.6 104.1h0M237.6 65.7h0M253.5 111.3h0M254 83.9h0M259.7 80.2h0M231.1 86.9h0M247.8 114h0M263.4 74h0M259.3 64.7h0M244.5 69.9h0M237.9 71.6h0M257.9 85.2h0M229.3 80.3h0M235.8 87.7h0M268.1 77.6h0M231.2 73.7h0M254.1 104.5h0M268.1 91.4h0M239.4 110.7h0M233.8 70.4h0M249.7 87.4h0M234.5 81.9h0M259.3 98.6h0M255.6 94.6h0M265.1 101.3h0M241.9 78.5h0M240.3 106.1h0M255 80h0M269 81.8h0M238.4 97.7h0M247 100.4h0M244.5 61.9h0M263.9 112.8h0M223.5 93.5h0M274.1 73.4h0M269.7 107.2h0M226.7 103.5h0M268 111.5h0M237.6 116.9h0M258.4 59.3h0M231.8 66.4h0M291.3 114.7h0M301.8 99.4h0M307 114.2h0M292.6 87.9h0M280.4 94.5h0M301.9 84.7h0M299.5 105.8h0M310.6 87.8h0M291.6 105.7h0M285.4 110.4h0M314.7 83.3h0M308.8 95.4h0M294.2 79.9h0M298.4 112.3h0M304.6 91.7h0M287.2 94.1h0M303.5 106.5h0M295.5 84.1h0M314.4 97.3h0M284.5 106.2h0M304.4 73.5h0M312.2 111.1h0M284 84.3h0M300.4 69.3h0M310.3 101.1h0M299.2 124.7h0M294.3 121.9h0M318.2 93.7h0M304.6 96.4h0M297.7 94.4h0M304.2 110.5h0M286.3 99.7h0M297.9 77.8h0M280.8 102.2h0M305.8 86.4h0M308.3 108.4h0M293.8 74.8h0M293.7 109.6h0M304.9 81h0M288.3 117.7h0M319.9 103.7h0M289.6 80.1h0M310.3 116.6h0M293.5 95.5h0M313.7 92.3h0M287.6 74.6h0M311.2 105h0M310.4 74.6h0M316.6 108.3h0M294.9 100.6h0M303.6 123.8h0M284.8 88.8h0M295.3 116.4h0M313.9 79.4h0M315.9 114.8h0M305.6 101h0M307.3 119.3h0M299.9 90.1h0M280.4 87.3h0M283.7 114.6h0M301.3 115.5h0M289 90.4h0M282.6 98h0M288.1 85.3h0M320.9 96.8h0M309.7 82h0M290.7 99.8h0M284.9 78.7h0M302.3 119.5h0M298.1 120.1h0M317.2 89.1h0M294.5 70.4h0M300.3 74.2h0M318.6 84.5h0M314.2 102.3h0M308.3 78.1h0M302.5 77.8h0M295.6 90.9h0M295.8 104.3h0M315.3 122.2h0M314.8 127h0M296.5 130h0M319.2 119.9h0M314.2 70.2h0M301.3 131.5h0M296.9 64.5h0M323.3 110.6h0M308.6 123.1h0M286.8 139.5h0M277.7 153.8h0M271.7 165.3h0M269 134.1h0M276.8 136.1h0M262.3 140.2h0M264.4 149.7h0M281.9 149.8h0M241.9 156h0M245.6 142.8h0M285.7 151.8h0M264.5 158.9h0M284.5 142.9h0M277.9 163h0M254.5 146.8h0M244.5 159.2h0M253.7 164.8h0M271.7 159.5h0M271.4 148.8h0M278.4 147.1h0M248.9 162h0M252.6 135.7h0M256 140.8h0M259.2 145h0M256.8 153.7h0M260.6 161.8h0M263.2 134.3h0M243.1 138.7h0M268 170.7h0M253 150.9h0M262.9 166.1h0M268.9 141.8h0M281.5 155.3h0M269.9 154.9h0M273.1 143.6h0M290.2 152.8h0M242.9 146.6h0M284.5 161.3h0M257.4 159h0M238.1 153.9h0M248.5 150.2h0M264.9 154.3h0M265 144.4h0M288.1 145.4h0M238.9 149h0M252.1 156.6h0M278 142.5h0M261 156.5h0M257.3 167.5h0M245.1 164.2h0M257.3 135h0M274.7 168.3h0M292.2 146.3h0M251.4 143.9h0M272.8 132.2h0M282.4 165.9h0M282.6 138.5h0M260.7 151.7h0M248.6 136.8h0M289 157.4h0M247.4 155.5h0M273 137.3h0M261.4 170.7h0M253 169h0M266.9 164.4h0M260.3 131.4h0M253.7 160.5h0M275.9 157.9h0M267 138.2h0M239.5 144.2h0M249 167h0M273.8 152.3h0M243.7 151.1h0M280.1 159.6h0M257.2 149.9h0M268.4 151.1h0M251.6 139.9h0M278.4 166.8h0M285.3 156.2h0M247.2 146.3h0M268.3 146.5h0M281.1 135h0M240.6 160.6h0M265.7 131h0M283.8 146.5h0M238.2 170h0M274.3 127.2h0M286.5 173.2h0M286.8 167.9h0M299.1 147.4h0M251.9 127h0M280.6 127.5h0M256.4 172.8h0M248.6 130.3h0M269.7 127.3h0M301 156.2h0M311.2 146.5h0M313.8 164.4h0M302 164.6h0M297.4 178.6h0M310.4 157.9h0M331.8 157.9h0M315.5 159.3h0M306.8 135.8h0M306.1 179.4h0M321.4 153.4h0M293.1 142.4h0M317.4 166.9h0M302.5 140.5h0M306 150.5h0M321.7 143.9h0M323.8 135.2h0M319.2 139.6h0M313.6 177.7h0M324.8 150.3h0M326.2 168.2h0M296.7 161h0M317 153.7h0M297.6 147.1h0M288.5 164h0M324.1 175.1h0M290.9 158.3h0M328.7 161.1h0M307.2 130h0M329.1 144.6h0M302.5 172.1h0M307.4 169.3h0M295 174.4h0M318 145.7h0M300.7 136.8h0M296 169.1h0M321.9 178.7h0M320.5 148.9h0M312.6 139.2h0M307.2 143.8h0M313.5 133.8h0M326.4 140.1h0M294.8 151.8h0M323.6 163.8h0M309.1 174.7h0M304.9 161.2h0M309.9 153.7h0M302.9 147.4h0M292 166.5h0M329.9 151.2h0M317.7 162.6h0M290.1 139.1h0M289.6 144.8h0M312.7 170.3h0M319.5 132.5h0M313 150.7h0M291.5 154.2h0M324.2 156.4h0M291.2 170.7h0M298.8 152.9h0M328.3 172.2h0M291.5 148.6h0M297.8 165.2h0M295.1 157.3h0M306.7 156.2h0M299.6 175h0M295.9 135.3h0M317.8 172.1h0M315.1 129.5h0M330.4 166.9h0M296.3 139.3h0M314.7 143.3h0M302.4 182.3h0M286.6 150.3h0M322.6 171.3h0M311 181.8h0M318.3 181.2h0M299.3 132.1h0M317.5 176.7h0M306 165.5h0M320.8 158.9h0M287 159.7h0M328.3 155.2h0M298.9 142.9h0M303.5 176h0M303.1 133.4h0M311 128.5h0M287.2 154.4h0M292.8 161.8h0M310.4 161.9h0M326.3 129.9h0M277.6 163.1h0M335.4 138.2h0M335.6 160.3h0M314 120.3h0M297.7 126.4h0M301.2 189.8h0M339.2 154.2h0M333.1 148.5h0M335.1 170h0M346.4 148.5h0M332.9 163.2h0M325.8 161.9h0M358.2 139.6h0M335.9 157.8h0M342.7 154.6h0M337 153.3h0M331.4 153.1h0M342.7 143.9h0M349.3 138.8h0M353 140.4h0M350.5 147.8h0M357.1 144.7h0M338.7 148.5h0M344.4 158.3h0M343.3 139.1h0M327.6 156.1h0M334.7 144.5h0M331.3 148.8h0M351.9 133.8h0M340.1 160h0M350.8 143.8h0M339.2 140.3h0M355.7 135.9h0M349.3 152h0M346.4 135.7h0M346.5 142.3h0M321.1 166.3h0M338.3 136.3h0M320.8 159.9h0M371.6 155.4h0M377.1 148.9h0M378.8 154.8h0M374.9 162.3h0M369.2 148.2h0M368.8 161h0M365.5 155.2h0M375.4 157.6h0M375.2 152.6h0M366 150.8h0M379.5 159.3h0M377.2 144.1h0M382 151.9h0M394.3 137.4h0M412.3 120.7h0M398.4 114.6h0M396.5 119.8h0M395.1 125.2h0M401.8 122.5h0M401.4 107.5h0M391.3 119h0M390.9 123.3h0M400.5 127.4h0M400.2 138.2h0M402.5 112.8h0M385.7 107.4h0M405.2 119.9h0M418 128.6h0M394.9 130h0M416.3 117.5h0M381.9 114.2h0M410.3 134.9h0M387.4 138.3h0M386.3 131.1h0M384.5 127.2h0M390.3 132.3h0M407.1 126.5h0M417.9 123.6h0M398.3 143h0M402.6 134.4h0M390.3 112.9h0M411.5 114.8h0M384.2 123.2h0M397.8 102.2h0M406.9 114.2h0M409.2 107.4h0M381.8 119.8h0M405 138.8h0M405.3 109.1h0M391.8 105.5h0M416.1 112.6h0M401.3 117.8h0M415.5 134.3h0M403 142.7h0M398.6 131.7h0M392.9 142.2h0M382.7 136.5h0M409.6 130.3h0M380 125h0M405.5 131.1h0M413.9 124.8h0M406.7 101.4h0M387.5 103.1h0M393.9 109h0M402.9 103.1h0M380.5 132.6h0M413.4 109.1h0M386.2 116.3h0M374.8 122.1h0M409.7 144.1h0M402.4 151.9h0M411.1 101.7h0M393.7 93.2h0M384.3 96.5h0M425.2 118.1h0M443.9 174.1h0M426.1 173.1h0M423.6 165.2h0M419 163.9h0M424.3 169.5h0M432.5 176.1h0M427.4 179.5h0M423.1 183.3h0M415.7 174h0M408 184.7h0M405.3 163.6h0M417.5 168.2h0M400 171h0M422.2 175h0M425.7 188.5h0M407.4 173h0M430.9 160.1h0M406.2 168.5h0M399.6 181.7h0M438.5 183h0M412.7 159.8h0M424.5 159h0M443.6 182.1h0M403.7 180.3h0M418.1 192.6h0M435.3 186h0M403.6 175.4h0M439.3 173.4h0M432 191h0M444.9 169.2h0M411.7 177.8h0M408.7 160.2h0M431.2 167.7h0M416.7 181.8h0M412 164.2h0M430.1 186.1h0M447 178.1h0M411.7 169.2h0M434.9 165.7h0M398.6 176.1h0M441.3 187.3h0M410.2 190.9h0M439.6 168.2h0M417.5 177.7h0M413.4 186.3h0M418.3 188.4h0M401.1 164.4h0M428.3 192.5h0M401 185.9h0M405.4 188.5h0M439.5 178h0M420 171.5h0M435.8 160.4h0M423 192.3h0M418.8 157.9h0M449.7 174.1h0M444.9 162.1h0M397.3 163h0M395.5 179.5h0M392.9 171.3h0M434.3 198.7h0M429.5 196.7h0M261.5 213.2h0M253.7 213.6h0M268.1 227.9h0M267.5 198.7h0M264.6 233.2h0M252.4 202.5h0M292.5 198.2h0M271.8 210.2h0M279.9 211.7h0M281 195.1h0M275.9 193h0M258.8 221.9h0M286 202.5h0M263.2 221.1h0M275 199.2h0M254.3 220.9h0M260.1 207.9h0M288.9 216.5h0M276.3 215.3h0M246.6 226.4h0M279.7 201.4h0M246.7 218.2h0M280.9 223.9h0M263.2 195.5h0M271.2 194.6h0M271.7 215.4h0M288.2 197.8h0M268.8 222.6h0M259 201.2h0M250.3 222h0M282 205.6h0M278.9 219.7h0M257.1 230.4h0M292.1 213.8h0M274.1 224.7h0M264.3 204.5h0M265.2 217.5h0M268.6 203.1h0M246.9 213.7h0M252.1 209.7h0M242.9 212.8h0M252.1 232.5h0M270.4 236.3h0M242 234.7h0M300.8 207.3h0M331.7 229.9h0M351.5 229.3h0M355.8 226.4h0M341.2 231.9h0M357 233.9h0M350.9 216.8h0M328.5 240.3h0M336.1 243.5h0M320.9 216.9h0M342.9 214.3h0M343.9 200.8h0M332.2 245.3h0M333.5 205h0M333.5 233.5h0M354.9 211.9h0M349.5 248.7h0M333.2 209.2h0M325.9 209.9h0M347.9 226.4h0M327.7 235.7h0M340.5 224.5h0M335.2 225.5h0M359.1 228.8h0M355.4 240.9h0M347.6 236h0M343.5 244.5h0M328.2 224.2h0M335.7 201.3h0M328.9 216.2h0M332.5 222.2h0M318.4 212.3h0M336.2 239.2h0M322.5 235.6h0M318.7 225.6h0M347.5 241.4h0M349.4 210.8h0M344.8 251.9h0M335.5 214.5h0M351.8 207h0M326.3 227.9h0M342 195h0M321.8 244.8h0M311.9 217.3h0M356.2 254.3h0M357.5 208h0M393.9 271.1h0M382.9 253.4h0M390.2 261.8h0M402.7 235h0M404.3 268.2h0M388 226.8h0M374.4 237.9h0M406.9 254.3h0M383.5 257.9h0M412.2 250.9h0M416.4 251.5h0M382.1 244.2h0M408.6 270.1h0M378.7 264.7h0M377.4 246.2h0M393.9 254.2h0M418.4 241.6h0M381.5 248.4h0M410.8 260.6h0M385.5 233.7h0M412.4 238.9h0M397 225.2h0M400.1 262.8h0M398.1 253.2h0M389.7 241.5h0M398.6 236.7h0M385.7 268.3h0M390.4 231.5h0M397.1 257.4h0M381.4 270.2h0M401.6 244.2h0M394.5 234h0M390.2 275h0M389.8 268.2h0M402.1 251.7h0M415.6 261.5h0M409.3 247.1h0M408.9 228.5h0M398.3 247.1h0M412.8 244.6h0M379.5 231.5h0M416.5 234.8h0M408.8 233.8h0M399.2 275.3h0M379.1 255h0M381.4 236.6h0M405.3 261.4h0M405.7 239.6h0M373.2 242h0M421.5 230.7h0M426.7 260.4h0M372 273.2h0M365.1 250.3h0M365.7 264.2h0M421 225.5h0" stroke="#555" stroke-opacity=".35" stroke-width="3.6" stroke-linecap="round"/><path d="M255.1 98.9h0M263.5 97.1h0M239.5 101.7h0M245.4 87.8h0M254.7 73.9h0M250 95.3h0M263.9 81.5h0M268.8 95.7h0M244.3 111.8h0M242.7 83.4h0M234.1 97.3h0M245 103.7h0M243.3 65.8h0M259 75.2h0M264.3 106h0M233.1 77.9h0M234.6 93.2h0M242.2 73.4h0M247.9 83.5h0M265 87.1h0M261.2 70h0M240.8 94.2h0M260.9 109.4h0M240.5 89h0M247.8 107.4h0M238.6 82.1h0M238.7 75.9h0M252.7 63.2h0M259.2 92.5h0M245.7 92.9h0M258.2 104h0M243.9 97.4h0M263.2 91.1h0M250 79.2h0M250.8 101.4h0M247.8 64.2h0M245.8 77.1h0M229.7 96.6h0M269.1 86.1h0M235.5 107.7h0M230.3 91.1h0M253.9 68.3h0M232.6 104.1h0M237.6 65.7h0M253.5 111.3h0M254 83.9h0M259.7 80.2h0M231.1 86.9h0M247.8 114h0M263.4 74h0M259.3 64.7h0M244.5 69.9h0M237.9 71.6h0M257.9 85.2h0M229.3 80.3h0M235.8 87.7h0M268.1 77.6h0M231.2 73.7h0M254.1 104.5h0M268.1 91.4h0M239.4 110.7h0M233.8 70.4h0M249.7 87.4h0M234.5 81.9h0M259.3 98.6h0M255.6 94.6h0M265.1 101.3h0M241.9 78.5h0M240.3 106.1h0M269 81.8h0M238.4 97.7h0M247 100.4h0M244.5 61.9h0M263.9 112.8h0M223.5 93.5h0M274.1 73.4h0M269.7 107.2h0M226.7 103.5h0M268 111.5h0M237.6 116.9h0M258.4 59.3h0M231.8 66.4h0M253.7 213.6h0M281 195.1h0M286 202.5h0M263.2 221.1h0M275 199.2h0M263.2 195.5h0M250.3 222h0M278.9 219.7h0M257.1 230.4h0M264.3 204.5h0M246.9 213.7h0M242.9 212.8h0M328.5 240.3h0M336.1 243.5h0M342.9 214.3h0M343.9 200.8h0M349.5 248.7h0M325.9 209.9h0M327.7 235.7h0M335.2 225.5h0M335.7 201.3h0M332.5 222.2h0M318.4 212.3h0M336.2 239.2h0M347.5 241.4h0M349.4 210.8h0M344.8 251.9h0M326.3 227.9h0M321.8 244.8h0M378.7 264.7h0M381.5 248.4h0M410.8 260.6h0M408.9 228.5h0" stroke="#d62728" stroke-width="3" stroke-linecap="round"/><path d="M252.4 90.8h0M249.5 72.3h0M255 80h0M291.3 114.7h0M291.6 105.7h0M314.7 83.3h0M294.2 79.9h0M298.4 112.3h0M310.4 74.6h0M295.3 116.4h0M280.4 87.3h0M288.1 85.3h0M315.3 122.2h0M296.9 64.5h0" stroke="#fc8d62" stroke-width="3" stroke-linecap="round"/><path d="M301.8 99.4h0M299.5 105.8h0M310.6 87.8h0M295.5 84.1h0M284 84.3h0M300.4 69.3h0M294.3 121.9h0M297.7 94.4h0M297.9 77.8h0M308.3 108.4h0M304.9 81h0M311.2 105h0M316.6 108.3h0M303.6 123.8h0M283.7 114.6h0M301.3 115.5h0M289 90.4h0M302.3 119.5h0M300.3 74.2h0M318.6 84.5h0M301.3 131.5h0M313.8 164.4h0M304.9 161.2h0M298.9 142.9h0M337 153.3h0M342.7 143.9h0M349.3 138.8h0M344.4 158.3h0M343.3 139.1h0M327.6 156.1h0M331.3 148.8h0M355.7 135.9h0M349.3 152h0M341.2 231.9h0M355.4 240.9h0M318.7 225.6h0M356.2 254.3h0M412.8 244.6h0" stroke="#e377c2" stroke-width="3" stroke-linecap="round"/><path d="M307 114.2h0M292.6 87.9h0M301.9 84.7h0M287.2 94.1h0M314.4 97.3h0M312.2 111.1h0M310.3 101.1h0M304.2 110.5h0M305.8 86.4h0M310.3 116.6h0M293.5 95.5h0M313.7 92.3h0M294.9 100.6h0M305.6 101h0M320.9 96.8h0M309.7 82h0M317.2 89.1h0M314.2 102.3h0M308.3 78.1h0M319.2 119.9h0M323.3 110.6h0M308.6 123.1h0M346.4 148.5h0M332.9 163.2h0M325.8 161.9h0M350.5 147.8h0M334.7 144.5h0M351.9 133.8h0M340.1 160h0M350.8 143.8h0" stroke="#ffff33" stroke-width="3" stroke-linecap="round"/><path d="M280.4 94.5h0M313.9 79.4h0M315.9 114.8h0M314.8 127h0" stroke="#a6d854" stroke-width="3" stroke-linecap="round"/><path d="M285.4 110.4h0M303.5 106.5h0M284.5 106.2h0M304.4 73.5h0M299.2 124.7h0M318.2 93.7h0M304.6 96.4h0M286.3 99.7h0M280.8 102.2h0M293.8 74.8h0M288.3 117.7h0M289.6 80.1h0M284.8 88.8h0M307.3 119.3h0M299.9 90.1h0M282.6 98h0M290.7 99.8h0M284.9 78.7h0M298.1 120.1h0M302.5 77.8h0M295.8 104.3h0M296.5 130h0M314.2 70.2h0M347.6 236h0" stroke="#bcbd22" stroke-width="3" stroke-linecap="round"/><path d="M308.8 95.4h0M287.6 74.6h0M335.9 157.8h0M353 140.4h0M357.1 144.7h0M346.5 142.3h0M321.1 166.3h0M338.3 136.3h0M279.7 201.4h0M300.8 207.3h0" stroke="#e5c494" stroke-width="3" stroke-linecap="round"/><path d="M304.6 91.7h0M293.7 109.6h0M264.6 233.2h0M260.1 207.9h0" stroke="#ffffb3" stroke-width="3" stroke-linecap="round"/><path d="M319.9 103.7h0M294.5 70.4h0M295.6 90.9h0" stroke="#8da0cb" stroke-width="3" stroke-linecap="round"/><path d="M286.8 139.5h0M277.7 153.8h0M269 134.1h0M276.8 136.1h0M264.4 149.7h0M241.9 156h0M244.5 159.2h0M253.7 164.8h0M271.4 148.8h0M278.4 147.1h0M252.6 135.7h0M256 140.8h0M259.2 145h0M260.6 161.8h0M263.2 134.3h0M243.1 138.7h0M269.9 154.9h0M290.2 152.8h0M238.1 153.9h0M264.9 154.3h0M265 144.4h0M238.9 149h0M245.1 164.2h0M251.4 143.9h0M260.7 151.7h0M248.6 136.8h0M273 137.3h0M249 167h0M243.7 151.1h0M251.6 139.9h0M240.6 160.6h0M238.2 170h0M256.4 172.8h0M269.7 127.3h0M321.7 143.9h0M313 150.7h0M291.5 154.2h0M311 181.8h0M339.2 140.3h0M271.7 215.4h0M242 234.7h0M381.4 236.6h0M405.3 261.4h0" stroke="#8c564b" stroke-width="3" stroke-linecap="round"/><path d="M271.7 165.3h0M262.3 140.2h0M281.9 149.8h0M285.7 151.8h0M264.5 158.9h0M284.5 142.9h0M277.9 163h0M254.5 146.8h0M271.7 159.5h0M253 150.9h0M262.9 166.1h0M281.5 155.3h0M273.1 143.6h0M288.1 145.4h0M252.1 156.6h0M278 142.5h0M261 156.5h0M257.3 135h0M274.7 168.3h0M292.2 146.3h0M282.4 165.9h0M282.6 138.5h0M289 157.4h0M266.9 164.4h0M273.8 152.3h0M285.3 156.2h0M247.2 146.3h0M268.3 146.5h0M283.8 146.5h0M274.3 127.2h0M286.5 173.2h0M286.8 167.9h0M251.9 127h0M317.7 162.6h0M261.5 213.2h0M275.9 193h0M258.8 221.9h0M288.9 216.5h0M276.3 215.3h0M271.2 194.6h0M288.2 197.8h0M292.1 213.8h0M265.2 217.5h0M347.9 226.4h0M328.9 216.2h0M390.2 261.8h0M404.3 268.2h0M389.7 241.5h0M398.6 236.7h0" stroke="#9467bd" stroke-width="3" stroke-linecap="round"/><path d="M245.6 142.8h0M261.4 170.7h0M280.1 159.6h0M278.4 166.8h0M299.1 147.4h0M311.2 146.5h0M302 164.6h0M288.5 164h0M294.8 151.8h0M328.3 172.2h0M318.3 181.2h0M317.5 176.7h0M320.8 158.9h0M388 226.8h0M406.9 254.3h0M397.1 257.4h0M365.7 264.2h0" stroke="#8dd3c7" stroke-width="3" stroke-linecap="round"/><path d="M248.9 162h0M268 170.7h0M268.9 141.8h0M257.3 167.5h0M253 169h0M260.3 131.4h0M265.7 131h0" stroke="#ffed6f" stroke-width="3" stroke-linecap="round"/><path d="M256.8 153.7h0M242.9 146.6h0M284.5 161.3h0M257.4 159h0M248.5 150.2h0M272.8 132.2h0M275.9 157.9h0M268.4 151.1h0M280.6 127.5h0M248.6 130.3h0M301 156.2h0M297.4 178.6h0M310.4 157.9h0M331.8 157.9h0M306.8 135.8h0M306.1 179.4h0M321.4 153.4h0M293.1 142.4h0M317.4 166.9h0M302.5 140.5h0M306 150.5h0M323.8 135.2h0M319.2 139.6h0M313.6 177.7h0M324.8 150.3h0M326.2 168.2h0M296.7 161h0M317 153.7h0M297.6 147.1h0M324.1 175.1h0M290.9 158.3h0M328.7 161.1h0M307.2 130h0M329.1 144.6h0M302.5 172.1h0M307.4 169.3h0M318 145.7h0M300.7 136.8h0M320.5 148.9h0M312.6 139.2h0M307.2 143.8h0M313.5 133.8h0M326.4 140.1h0M323.6 163.8h0M309.1 174.7h0M309.9 153.7h0M302.9 147.4h0M292 166.5h0M329.9 151.2h0M290.1 139.1h0M289.6 144.8h0M312.7 170.3h0M319.5 132.5h0M324.2 156.4h0M291.2 170.7h0M298.8 152.9h0M291.5 148.6h0M297.8 165.2h0M295.1 157.3h0M306.7 156.2h0M299.6 175h0M295.9 135.3h0M317.8 172.1h0M315.1 129.5h0M330.4 166.9h0M296.3 139.3h0M302.4 182.3h0M286.6 150.3h0M299.3 132.1h0M306 165.5h0M287 159.7h0M303.5 176h0M311 128.5h0M287.2 154.4h0M292.8 161.8h0M310.4 161.9h0M326.3 129.9h0M335.4 138.2h0M335.6 160.3h0M314 120.3h0M297.7 126.4h0M301.2 189.8h0M339.2 154.2h0M333.1 148.5h0M342.7 154.6h0M338.7 148.5h0M346.4 135.7h0M377.1 148.9h0M268.1 227.9h0M267.5 198.7h0M252.4 202.5h0M292.5 198.2h0M271.8 210.2h0M279.9 211.7h0M254.3 220.9h0M246.6 226.4h0M246.7 218.2h0M280.9 223.9h0M268.8 222.6h0M259 201.2h0M282 205.6h0M252.1 232.5h0M270.4 236.3h0M331.7 229.9h0M351.5 229.3h0M355.8 226.4h0M357 233.9h0M332.2 245.3h0M333.5 233.5h0M333.2 209.2h0M340.5 224.5h0M359.1 228.8h0M328.2 224.2h0M322.5 235.6h0M335.5 214.5h0M351.8 207h0M342 195h0M311.9 217.3h0M357.5 208h0M402.7 235h0M416.4 251.5h0M408.6 270.1h0M390.4 231.5h0M408.8 233.8h0M399.2 275.3h0M379.1 255h0M365.1 250.3h0M421 225.5h0" stroke="#1f77b4" stroke-width="3" stroke-linecap="round"/><path d="M247.4 155.5h0M253.7 160.5h0M267 138.2h0M239.5 144.2h0M257.2 149.9h0M281.1 135h0M303.1 133.4h0M335.1 170h0M350.9 216.8h0M320.9 216.9h0M333.5 205h0M354.9 211.9h0M343.5 244.5h0M383.5 257.9h0M400.1 262.8h0M394.5 234h0" stroke="#7f7f7f" stroke-width="3" stroke-linecap="round"/><path d="M315.5 159.3h0M295 174.4h0M296 169.1h0M321.9 178.7h0M314.7 143.3h0M322.6 171.3h0M328.3 155.2h0M277.6 163.1h0M274.1 224.7h0M252.1 209.7h0" stroke="#66c2a5" stroke-width="3" stroke-linecap="round"/><path d="M358.2 139.6h0M331.4 153.1h0M320.8 159.9h0M443.9 174.1h0M426.1 173.1h0M423.6 165.2h0M419 163.9h0M424.3 169.5h0M432.5 176.1h0M427.4 179.5h0M423.1 183.3h0M415.7 174h0M408 184.7h0M405.3 163.6h0M417.5 168.2h0M400 171h0M422.2 175h0M425.7 188.5h0M407.4 173h0M430.9 160.1h0M406.2 168.5h0M399.6 181.7h0M438.5 183h0M412.7 159.8h0M424.5 159h0M443.6 182.1h0M403.7 180.3h0M418.1 192.6h0M435.3 186h0M403.6 175.4h0M439.3 173.4h0M432 191h0M444.9 169.2h0M411.7 177.8h0M408.7 160.2h0M431.2 167.7h0M416.7 181.8h0M412 164.2h0M430.1 186.1h0M447 178.1h0M411.7 169.2h0M434.9 165.7h0M398.6 176.1h0M441.3 187.3h0M410.2 190.9h0M439.6 168.2h0M417.5 177.7h0M413.4 186.3h0M418.3 188.4h0M401.1 164.4h0M428.3 192.5h0M401 185.9h0M405.4 188.5h0M439.5 178h0M420 171.5h0M435.8 160.4h0M423 192.3h0M418.8 157.9h0M449.7 174.1h0M444.9 162.1h0M397.3 163h0M395.5 179.5h0M392.9 171.3h0M434.3 198.7h0M429.5 196.7h0M393.9 271.1h0M412.2 250.9h0M382.1 244.2h0M393.9 254.2h0M389.8 268.2h0M415.6 261.5h0M409.3 247.1h0M405.7 239.6h0M373.2 242h0M421.5 230.7h0" stroke="#2ca02c" stroke-width="3" stroke-linecap="round"/><path d="M371.6 155.4h0M378.8 154.8h0M374.9 162.3h0M369.2 148.2h0M368.8 161h0M365.5 155.2h0M375.4 157.6h0M375.2 152.6h0M366 150.8h0M379.5 159.3h0M377.2 144.1h0M382 151.9h0" stroke="#17becf" stroke-width="3" stroke-linecap="round"/><path d="M394.3 137.4h0M412.3 120.7h0M398.4 114.6h0M396.5 119.8h0M395.1 125.2h0M401.8 122.5h0M401.4 107.5h0M391.3 119h0M390.9 123.3h0M400.5 127.4h0M400.2 138.2h0M402.5 112.8h0M385.7 107.4h0M405.2 119.9h0M418 128.6h0M394.9 130h0M416.3 117.5h0M381.9 114.2h0M410.3 134.9h0M387.4 138.3h0M386.3 131.1h0M384.5 127.2h0M390.3 132.3h0M407.1 126.5h0M417.9 123.6h0M398.3 143h0M402.6 134.4h0M390.3 112.9h0M411.5 114.8h0M384.2 123.2h0M397.8 102.2h0M406.9 114.2h0M409.2 107.4h0M381.8 119.8h0M405 138.8h0M405.3 109.1h0M391.8 105.5h0M416.1 112.6h0M401.3 117.8h0M415.5 134.3h0M403 142.7h0M398.6 131.7h0M392.9 142.2h0M382.7 136.5h0M409.6 130.3h0M380 125h0M405.5 131.1h0M413.9 124.8h0M406.7 101.4h0M387.5 103.1h0M393.9 109h0M402.9 103.1h0M380.5 132.6h0M413.4 109.1h0M386.2 116.3h0M374.8 122.1h0M409.7 144.1h0M402.4 151.9h0M411.1 101.7h0M393.7 93.2h0M384.3 96.5h0M425.2 118.1h0M382.9 253.4h0M374.4 237.9h0M418.4 241.6h0M385.5 233.7h0M412.4 238.9h0M397 225.2h0M398.1 253.2h0M385.7 268.3h0M381.4 270.2h0M401.6 244.2h0M390.2 275h0M402.1 251.7h0M398.3 247.1h0M379.5 231.5h0M416.5 234.8h0M426.7 260.4h0M372 273.2h0" stroke="#ff7f0e" stroke-width="3" stroke-linecap="round"/><path d="M268.6 203.1h0M377.4 246.2h0" stroke="#bebada" stroke-width="3" stroke-linecap="round"/><g id="eb" transform="scale(.5)" fill="none" stroke="#333" stroke-width=".9" stroke-opacity=".13"><path d="M185 1101q86 -63 161 -104M233 782l109 3M270 919q-69 50 -92 89M339 936q-121 29 -272 26M112 1071l13 70M159 834q-20 87 -54 184M135 930q32 75 91 177M106 1111l68 -6M178 897q16 17 4 67M191 1095l10 51M262 887q-29 109 -28 186M158 833q-27 119 -73 220M171 914q6 17 19 38M86 890q15 118 28 255M96 958q-3 34 -21 63M454 829q-166 121 -277 245M130 1073q21 5 51 3M168 1011q-5 35 10 86M172 792q5 33 1 60M74 1023q30 -8 56 -1M108 1109l71 -6M118 775q71 159 140 284M45 993l22 -16M438 949q-114 7 -188 2M122 849q-10 130 -8 230M247 969q-5 10 -6 41M231 795l191 153M416 808l-111 -24M281 1073l-54 30M456 949q-126 13 -202 23M171 811l162 115M167 1001q-24 3 -19 14M445 774l-97 45M123 1011q30 29 63 67M179 846q11 121 23 262M256 716l175 110M142 967q28 67 85 130M329 924q-71 92 -175 172M88 963q19 27 36 48M424 820l-49 108M114 992q-7 11 -15 28M247 924q14 12 49 8M168 806q97 96 178 191M337 920q-117 55 -260 96M113 865q40 3 90 9M313 803q-42 129 -56 231M133 773q106 25 192 3M185 1015q-44 43 -94 43M47 1049l77 92M231 1060l-38 84M170 961q-6 15 -27 29M126 1065l10 86M329 812l12 114M170 809l184 95M225 782l218 185M37 885q57 12 102 18M204 973q-12 49 -60 109M114 916q36 77 72 162M114 926q64 12 136 40M128 920q20 91 33 219M168 1105q-25 -10 -53 -2M199 970q-48 0 -132 -8M77 1016q26 -6 45 1M44 1057l-2 -23M266 1046l-70 104M237 849l183 -39M172 800q-52 143 -140 253M273 971q-35 60 -34 145M131 772l288 29M168 1001q-13 39 -20 86M250 956q-86 10 -187 5M351 918q2 44 -4 78M126 1106l-2 48M168 801q50 98 109 204M192 948q-25 25 -60 47M240 778l182 18M62 987l17 -17M163 1101l-5 42M121 772l198 21M205 973q-51 9 -134 28M186 1078q-37 10 -67 29M167 920q13 4 39 1M166 922q-59 43 -122 112M120 772l203 22M332 802l110 141M123 1011q-21 33 -45 66M62 987q36 17 63 42M181 812l196 132M357 906q-144 96 -316 142M437 803l-102 -16M240 978q-37 45 -92 101M370 916q-145 45 -307 52M235 788l196 154M191 1012q14 49 39 85M162 830q47 53 89 88M120 1152l70 -54M69 974q23 0 31 -19M41 1070l-3 -44M308 977q6 -1 35 18M356 907q-80 119 -162 239M288 985q-111 39 -206 79M162 924q36 24 113 80M72 1001q63 29 99 47M40 897q118 33 213 68M69 974q36 14 69 21M128 1150l30 -15M146 973q-25 82 -23 183M81 861l355 -42M228 794l230 -5M345 796l-96 256M80 1014q14 25 14 44M105 913q15 31 47 54M169 1032q8 40 1 77M118 766l330 19M232 775l127 133M229 792l223 139M210 1064q-54 21 -89 47M49 893l413 -55M132 898q3 50 49 97M98 1017q21 -7 50 -2M332 808l103 142M233 783l208 175M342 936l67 5M459 808l-130 -10M366 911l68 23M199 924q-42 41 -108 63M42 1036q80 6 112 22M446 804q-190 101 -309 195M158 834q13 126 -4 262M116 1061l5 100M291 997q-103 54 -171 155M222 795l187 146M117 907q-25 53 -79 126M465 813l-144 -12M79 970q64 53 115 84M95 980q21 9 49 13M464 817l-125 119M127 769l108 28M132 963q24 63 57 111M441 795l-128 -13M199 970q-36 64 -79 147M130 954q-30 25 -68 35M230 791q3 108 41 225M147 961q47 18 128 43M241 1014q-35 21 -85 75M299 981q-79 60 -148 163M274 1008q-109 -8 -230 25M249 971q11 6 44 29M173 854q-22 8 -39 7M307 983l112 -33M147 961q-35 14 -68 11M45 894q60 54 112 107M105 1019q41 31 74 84M152 834q68 51 149 89M223 786l140 143M274 1035l-35 77M315 780l14 144M278 1008q-49 10 -73 25M132 1001q26 55 61 143M453 807q-139 87 -215 184"/><path d="M301 973q-124 10 -240 32M128 1156l74 -48M94 856l325 -55M116 911q44 17 66 34M158 834q48 53 86 94M168 806l172 112M88 970q78 46 182 60M355 928q-91 82 -204 140M109 905q31 77 44 142M309 872q-103 54 -214 138M102 875q7 32 15 68M246 930q-20 29 -48 61M219 1022q-81 39 -173 43M139 1006q7 -7 44 -12M107 941q23 22 79 65M64 1018q76 45 135 132M259 1060q-40 33 -57 80M63 934l-29 -32M217 864q60 30 122 45M206 923q-40 94 -82 178M133 775q10 115 12 190M142 1054q35 10 55 10M112 976q-3 21 -7 42M454 829l-8 101M176 1032q-32 46 -65 82M431 805l-152 221M191 1012q0 51 -1 92M457 823q-77 62 -84 103M152 826q-11 151 -23 325M122 1043q35 24 80 100M436 818l-94 -42M66 1014q18 28 5 54M272 1038l-72 114M180 797l273 37M244 1099l-42 56M114 989q61 32 161 40M437 778q-120 80 -171 111M301 923q-76 73 -137 114M46 894l41 -38M448 785q-199 128 -337 265M202 923q17 17 19 22M195 1107q1 8 4 51M114 872q8 63 37 102M342 789q3 81 17 119M126 865q-26 34 -60 66M201 919q-7 92 -47 177M132 1001q18 42 32 97M299 968l129 -177M243 1111l-45 33M134 955q-38 29 -88 48M111 1114q38 -7 82 24M264 820q5 71 0 145M130 1022q35 28 94 80M117 921q-5 85 4 186M194 917q47 39 97 80M86 903q25 38 52 63M106 1041q34 8 48 36M171 1054q49 7 120 3M135 778l34 15M263 864q-35 85 -112 171M467 806l-33 128M218 1032q19 19 75 17M361 933l84 20M353 951q-68 67 -124 122M315 806l103 140M204 1107l3 38M231 795l239 2M128 967q6 21 35 35M119 992q-22 7 -54 17M101 983q-1 48 -7 75M235 797l137 123M264 820q-83 39 -215 73M139 1063q37 33 58 84M214 949q-36 16 -64 16M232 853l205 -33M84 853q94 54 198 73M146 1020q14 21 43 52M197 941q-33 30 -79 55M198 969q35 8 67 35M309 807l-46 239M161 978q-25 11 -28 16M339 909l-53 159M275 928l159 -80M241 987q-91 34 -209 66M345 933l109 0M147 938q17 67 55 160M229 1105q-33 2 -63 30M190 952q8 65 -10 135M171 811l176 96M94 1058q14 39 38 84M475 784l-15 165M122 758q51 185 73 351M109 1106l13 52M125 1063l5 84M259 925q-28 26 -60 48M222 871l224 52M282 962q-66 55 -130 114M102 982q46 44 88 73M140 920q9 63 16 117M241 843q44 68 104 150M304 968l139 -36M119 970q8 24 31 46M183 1090q-32 15 -55 65M271 979l184 -168M77 851q43 37 94 63M168 1034q4 51 -10 109M268 858q1 31 -9 66M69 1006q81 32 160 67M323 888q-78 96 -169 251M137 770l85 19M174 846q-35 13 -86 11M468 781l-156 -11M132 1001q-1 1 15 8M130 770l92 14M209 822q11 117 71 210M127 768l215 23M177 1001q17 -8 68 10M51 1025q20 16 -14 28M135 895q-35 61 -84 133M302 935q14 15 54 7M40 1058l40 -1M312 798l152 153M198 1144l-27 -39M199 924q23 7 32 -7M85 892q2 15 -16 35M194 984q29 -7 47 6M174 915q-57 1 -108 13M248 934q-73 89 -134 180M158 834q26 115 44 223M293 915l151 -141M280 902q-44 109 -52 210M208 916q-12 93 -56 175M365 931q-133 45 -271 77M181 812l182 128M313 978l96 -37M92 905q71 22 127 41M345 796q-141 56 -296 97M192 1105q16 -11 44 -8M252 713l192 83M194 941q19 79 37 167M195 882q-63 45 -152 109M185 1107l8 37M212 1031q-68 36 -140 46M158 1143l41 7M432 945q-109 69 -144 121M124 863q41 125 104 249M298 915l159 -131M186 800q-10 148 -42 285M346 916l-70 124M240 783l198 166M462 838q-209 69 -350 135M121 772q64 111 84 205M413 784q-83 42 -151 87M114 1072q47 3 119 -9M187 935q-10 36 -13 64M235 1109l-39 44M148 989q4 39 8 64M329 812q-112 58 -215 130M190 1110l9 48M247 992q-70 44 -123 109"/><path d="M87 856l370 -34M119 982q33 52 68 101M34 1053l80 49M301 975l142 -175M165 1027q21 40 37 71M231 834q-39 16 -73 45M92 894q126 55 224 127M238 985q-29 46 -68 118M154 965q4 65 18 120M221 776l118 26M48 1059l36 6M185 1059q-5 36 -20 88M350 794q-20 40 -26 92M168 801q16 38 30 82M329 812l-47 234M224 791l218 2M303 984q-45 5 -71 38M148 1079q22 1 24 6M465 948q-121 20 -169 47M269 914q-108 61 -234 120M169 793l164 124M459 812l-104 98M246 1102l-52 44M302 869q-103 92 -216 191M173 870q70 -23 128 -13M179 885q-24 -4 -38 13M222 947q-17 52 -50 78M175 870q-19 17 -26 67M452 792l-91 141M133 994q39 48 111 105M172 855q32 101 87 205M123 1142l42 5M118 918q28 92 49 220M271 1018q-29 3 -13 17M182 879q6 -13 13 3M310 868q33 28 74 53M201 1146l-39 -50M219 791l202 147M283 986q-54 49 -86 129M190 1021q-56 9 -139 7M134 761q7 135 1 239M142 967q-43 59 -92 89M326 778l-47 299M460 945q-153 80 -260 159M134 861q44 114 132 206M440 792l-73 140M433 823q-80 15 -127 45M126 1065l-1 84M127 859q-9 19 -9 19M232 775q51 118 115 219M42 1071l3 -43M222 789l219 161M93 982q54 59 101 128M125 1139l67 -34M240 778l235 32M110 1117l20 34M137 902q31 97 91 211M115 776l206 22M179 997q17 32 109 54M197 936q3 15 -26 28M177 972q-34 3 -116 5M114 969q61 50 162 71M217 869l216 89M233 797l208 127M169 962q-4 19 -21 45M263 1019q-42 17 -72 69M154 830q16 19 18 52M296 862q-16 57 -23 163M472 824q-228 49 -403 115M326 780l13 145M247 977q-80 -3 -169 -9M219 857l238 -35M223 951q-71 21 -176 37M94 987q0 47 -17 77M174 913q-1 67 32 119M344 923l104 23M241 1007q-15 23 -12 70M148 840q-8 24 -29 43M236 795l88 8M123 852q-23 81 -61 137M104 931q-5 19 -25 41M134 1045q25 27 20 51M69 941q25 -7 37 13M249 977q-83 -6 -179 -19M217 977q-19 65 -65 173M216 782q-3 104 -2 194M165 1039q100 -17 180 -39M416 801l-60 139M119 883q67 55 155 125M264 965q-42 56 -73 123M452 816l-125 -7M123 1039q-34 5 -91 12M205 911q15 102 40 199M471 783l-117 155M226 773l218 191M430 799l16 122M422 825l-71 116M139 1016q43 -20 102 -6M141 942q31 2 60 31M299 981q-28 2 -25 27M259 966q-48 69 -101 169M105 932q60 11 106 45M247 924q-19 70 -17 104M151 1142l44 6M186 878q7 32 -15 89M320 784l53 148M125 993q-13 44 -11 79M347 807q-7 74 -11 120M121 778l207 5M107 1022q45 30 92 86M257 1063l-57 83M231 793l196 166M174 1059q-24 34 -42 84M228 919q19 42 48 88M240 990q-91 35 -211 74M249 857l191 84M43 1049q30 18 39 15M172 991q-2 29 27 31M481 819q-159 77 -240 168M122 937q49 -1 97 12M233 1101l-31 39M228 1067l-33 78M128 1037q29 19 69 71M474 798l-209 239M333 775q-70 149 -126 257M271 984q-52 34 -98 72M233 1004q-26 41 -66 132M230 917q13 42 32 86M261 949q-74 26 -126 51M158 891q35 9 38 29M159 977q-2 40 7 51M255 715l225 108M82 1049l42 105M230 778l202 156M280 930l182 -92M306 936q-58 84 -63 175M196 946q5 6 -19 10M258 889q-22 41 -44 60M137 902q-43 86 -101 157M418 807l-70 12M119 970q34 58 70 104M137 936q35 68 105 162M217 849q-7 59 -18 141M130 765l175 40M433 829q-136 3 -194 15M353 941l77 16M83 865l357 -73M39 1059q29 14 33 13M305 973q-130 8 -258 25M276 920q21 47 37 101M237 849q23 -6 61 14M193 948q41 10 80 23M77 1071l43 73M37 893q99 82 173 140M245 934q-59 27 -97 29M441 795l-136 1M347 785l-84 286M312 811q-24 62 -27 101M71 937q24 -11 36 -1M119 940q-9 74 -6 177"/><path d="M333 946l-42 111M313 782q-61 157 -123 300M227 921q22 8 55 -6M143 1073q24 22 25 62M156 979q6 56 28 110M192 911q-42 17 -121 32M225 849q-27 113 -42 238M163 1146l44 0M233 797q-73 51 -127 72M432 788l-149 273M317 806l131 153M185 800q-1 131 -13 225M177 813l148 112M173 920q17 25 62 77M182 876q-6 88 -36 193M121 772l324 28M166 1135l22 16M237 1076l-40 71M295 920q45 20 155 3M261 894q-47 113 -93 211M41 1048l46 8M154 1013q8 30 33 70M50 983q72 43 95 68M122 765l-31 86M53 1002q26 4 26 17M168 1041q3 30 -14 55M197 1115l1 29M302 780l148 150M123 757l256 171M302 867q-60 97 -139 219M187 802l144 115M425 817l-71 -38M231 976q-56 15 -107 57M261 949q-37 63 -59 122M241 940q-83 41 -191 91M324 882q-69 102 -134 262M244 861q-11 30 12 55M99 1058q10 41 29 88M252 976q-70 1 -125 5M155 961q35 10 100 13M48 900q43 8 69 21M44 1057l81 92M114 872q-16 60 -52 93M377 937l60 14M221 857q-53 25 -75 72M337 808l18 142M91 980q17 19 33 42M143 923q92 7 182 2M236 840q-70 15 -110 9M118 775l195 33M454 841l-112 106M244 987q-39 35 -93 81M288 932q-62 77 -107 144M253 965q-97 56 -212 108M247 853l198 99M233 782l212 170M329 924l112 34M226 925q23 22 56 37M341 916q-30 37 -40 56M277 1077l-51 30M333 946q48 8 111 -1M118 775l202 9M97 994q38 43 50 89M249 716l-119 54M173 925q-47 37 -67 94M223 786l222 167M155 1072q40 -2 81 -10M92 981q-10 22 -44 50M183 813l190 105M118 926q-20 29 -58 67M109 1050q4 27 22 108M266 860q-87 100 -219 208M282 962q-92 22 -156 56M69 1023q30 24 53 55M80 858q11 86 -6 165M273 934q-39 85 -45 178M431 825l-3 131M259 1013q-27 24 -27 85M150 965q24 69 87 135M46 1065l40 11M152 1076q40 -3 78 -10M208 921q11 30 9 57M145 933q-37 19 -76 41M40 1058l84 83M199 1059q-20 10 -52 15M44 1070l31 -14M197 986q-6 31 -52 66M231 783l245 10M143 1009q-46 30 -102 52M117 759l300 44M187 787l146 128M163 921q-53 26 -106 50M343 800q-123 116 -231 245M196 1139q70 -84 121 -117M275 1022q-61 10 -122 46M234 916q-60 58 -117 113M221 912q-9 86 -21 144M128 1045q42 13 116 61M119 766l223 25M115 942q49 -7 83 -2M440 811l-2 138M44 1034q75 8 96 28M202 1155l-23 -52M147 940q14 44 45 81M119 1107l43 -11M416 810l-87 2M238 1066l-39 72M121 965q-2 20 3 31M95 960q48 72 81 139M124 765q40 189 39 378M235 848q-5 41 22 74M222 795l229 45M225 946q-64 69 -136 126M341 906l130 36M340 920l115 10M145 965q15 65 44 120M190 936q42 28 80 63M351 893l70 58M174 851q26 116 68 253M260 959q4 1 31 5M338 788l8 128M298 915q-51 38 -91 75M202 1071q23 -6 74 -19M258 721l204 76M67 970l-8 -39M115 922q37 71 74 150M451 808q-224 138 -414 259M232 983q-4 47 14 119M417 817l-64 109M118 1050q-2 27 16 107M233 772l207 186M166 887q33 19 46 58M179 898q68 -42 132 -36M316 804l136 127M220 1069q-25 15 -49 37M124 775l214 12M283 986q-60 54 -107 150M114 1102l54 -2M62 964l9 -27M428 835l-83 -39M329 884q-52 39 -101 135M237 1076l-42 72M163 976q-48 17 -92 31M304 980q-47 42 -24 95M130 765l46 24M88 970q22 19 46 33M94 987q50 40 87 67M115 1051q40 -3 86 13M142 942q-25 61 -27 132M260 719l59 88M71 968q29 12 50 9M74 1020q139 -16 239 1M208 916q22 16 37 12M105 919q32 81 42 181M133 769l-58 94M228 794l110 -6M154 1053q13 38 4 90M118 781l327 -7M125 993q34 30 82 39M288 990q-52 22 -69 38"/><path d="M44 891l2 111M126 957q4 25 24 36M96 978q12 12 22 18M172 1025q-28 50 -60 88M212 950q-1 62 -9 117M185 1015q-10 31 -35 38M297 922q17 26 58 26M119 910q-8 9 -13 34M137 965q9 65 9 120M129 958q50 17 112 32M234 916q-33 91 -88 169M96 984q-14 19 -50 45M249 716l101 78M369 914l57 28M323 888q-42 13 -75 46M179 791q29 100 53 196M195 886q-49 34 -102 78M287 932q-48 10 -93 9M177 956q23 81 23 196M60 987l18 -22M148 1066q30 2 48 -1M458 811l-27 131M134 761l-89 133M292 1061q-61 21 -89 47M168 1001q18 33 94 63M272 924q37 24 89 22M71 857q14 79 -12 136M228 919q-1 20 -9 26M157 1144l45 -5M108 1050q34 2 51 29M269 928q-99 30 -202 30M83 865q125 3 246 18M464 812l-138 -14M152 967q-18 22 -15 37M317 804q15 79 19 136M316 779l141 180M145 926q-36 21 -71 39M443 800l-19 134M355 905q-74 93 -142 143M267 1016q-34 22 -37 81M124 853q32 13 75 24M305 805q-55 33 -110 82M230 778l203 45M173 802l259 0M203 884q70 20 138 42M216 782l244 163M224 779l115 23M293 915q-109 41 -200 49M209 968q-62 10 -166 23M128 768q105 51 182 88M123 1142l71 -32M294 979q-107 57 -183 135M114 1145l49 -2M240 778l212 164M112 773l200 -3M75 1073l50 66M121 1033q-8 13 0 31M188 1054q-5 37 -20 88M302 867q-45 82 -84 165M251 712l187 108M266 889q-46 103 -84 169M319 790q-73 139 -157 245M426 810l-80 130M178 959q-17 82 -42 192M107 946q53 65 121 166M242 973q-78 1 -171 0M250 926q-77 32 -151 35M230 850q-27 129 -34 300M272 1010q-45 17 -70 52M186 800l150 122M257 1064q-23 16 -11 37M136 1082q29 3 35 15M127 768l-80 124M172 788q0 143 -31 249M48 900q131 -25 210 -29M113 954q5 -2 26 3M376 930l62 15M101 983q7 65 21 136M130 953q-39 69 -98 101M117 937q73 11 173 55M51 1025l2 -37M240 783l184 158M117 917q-14 30 -39 58M115 922q-1 42 5 109M221 1075q-28 26 -56 75M118 766q14 125 3 211M263 864q9 41 13 109M179 884q-41 35 -100 79M239 1116l-46 28M439 834l-78 119M177 813q-43 57 -108 120M231 793l102 133M121 938q49 6 96 39M142 1014q18 35 48 90M361 927q24 22 67 23M223 875q-66 14 -118 62M238 991q-14 41 -14 111M265 820q-25 122 -73 233M127 859q-25 71 -62 113M217 978q-62 6 -153 26M226 773l201 179M112 1102l1 53M440 811l6 116M183 888q-55 49 -143 136M170 1109l-11 42M232 924q-21 23 -63 38M107 936q-10 12 -40 22M69 966q24 61 30 95M166 1093l2 42M121 772l333 35M195 1112l0 31M51 897q26 49 1 94M282 917q-92 60 -157 121M192 938q27 22 40 49M121 1101q-7 15 -1 51M458 812l-117 -15M45 908q98 16 149 26M130 862q41 45 79 56M126 1006q16 32 16 68M290 980l162 -38M126 1006q-9 53 4 132M96 969q54 79 105 177M236 1061l-37 77M123 776q-6 122 -64 217M296 965l135 -148M457 815q-137 63 -198 109M339 789l-5 135M121 1114l46 -7M345 933l-53 126M127 1026q16 21 19 59M239 844q-70 73 -105 150M107 941q13 26 45 81M37 893q49 20 77 49M114 972q111 20 202 52M133 1003q33 42 91 98M242 1019q-25 33 -44 127M244 1106l-48 46M126 765l303 23M185 1059q-39 25 -77 50M233 783q-6 106 13 205M252 1047q-94 20 -167 11M170 1103l-19 40M474 816l-42 129M216 782l240 147M124 771l-80 133M134 849q-22 77 -40 116M177 924q11 8 45 23M76 929q52 59 67 117M164 800l172 139M232 775l199 187M123 1156l38 -10M315 806q-18 27 -50 63M282 962q-56 48 -93 87M306 868q-12 39 7 110M44 1057l46 0M196 888q14 19 25 61M85 844q143 68 271 96M195 920q49 27 104 48M172 792l292 47M80 850q71 121 143 214"/><path d="M188 1151l-26 -54M278 995q-89 -14 -150 -19M44 899q48 44 68 77M345 906q45 29 112 26M178 1005q-5 29 25 53M382 924q-72 88 -93 155M470 788l-119 140M220 948q1 72 12 152M283 1039q-41 34 -41 65M217 957q21 16 45 46M111 774l119 17M106 939q35 77 53 197M119 982q38 59 84 126M120 855q26 106 45 168M337 948l117 -15M179 846q7 132 7 302M152 824q113 62 209 95M120 772q116 53 208 102M45 993l20 -21M137 965q22 45 55 48M426 940q-193 76 -381 125M49 893q46 63 68 136M299 968l151 -45M324 798l108 136M133 959q18 74 37 144M114 942q-15 60 -38 129M173 925q-59 25 -109 52M221 949q-12 67 -33 135M79 970q44 20 99 35M178 799l238 9M165 1003q13 42 68 98M244 925q-8 74 19 121M114 872q116 42 220 48M142 1075q47 0 91 -1M114 1035q44 -2 100 -9M442 838l-1 112M463 831l-84 94M112 947q49 51 113 117M144 968q-36 8 -72 0M197 914q11 76 10 110M132 856q46 49 101 60M111 774l-60 125M382 924q15 24 59 26M206 921q-28 36 -47 41M44 904q102 83 195 163M91 977q68 61 148 125M334 920l102 37M32 900q70 42 126 71M124 1022q-17 23 -29 48M196 966q22 62 49 144M350 934l85 30M145 926q-37 -3 -76 13M83 849q87 68 170 116M117 776q46 165 48 309M124 771q51 40 92 60M319 787l58 147M178 799l256 -6M235 1109q-71 -1 -110 40M94 894q5 46 -6 76M166 1027q12 31 11 47M62 928l-25 -43M324 778l37 175M136 763l345 34M230 985q-14 56 -28 155M221 776q-52 122 -71 217M320 788q-55 86 -128 150M305 796l139 149M61 977q28 10 39 13M265 817q-67 153 -146 329M265 971q-64 8 -83 23M139 940q32 4 61 35M329 883q-76 78 -152 175M226 773l203 20M79 970l-10 -43M451 808l-16 138M478 809l-138 -15M94 856q42 114 60 197M126 1018q23 11 42 11M290 980q-102 68 -168 178M325 925q-46 95 -90 184M279 1063l-72 82M116 851q71 55 165 73M48 995q73 32 97 51M127 998q-24 39 -47 66M227 878q-25 76 -32 150M62 964q75 71 128 140M124 771l185 36M224 791l115 9M271 979l145 -169M44 1033l6 -50M119 766q46 175 49 329M224 784l97 14M374 934q-74 17 -149 12M436 818l-88 -27M210 1033q-23 49 -52 102M239 1116l-46 28M335 785q-48 85 -76 140M289 960q12 20 27 65M448 774l-135 11M74 860q23 77 28 133M120 1062l-3 91M232 870q-79 5 -151 21M203 989q-44 -13 -109 -24M114 769q88 121 161 235M446 791l-18 165M469 804l-126 -34M45 892l45 -38M141 905q13 72 31 124M41 1070l50 8M161 969q-3 68 7 136M259 926q-48 79 -104 143M61 969q98 16 174 48M432 802l-106 -22M75 1056q53 22 78 36M430 799q-44 82 -9 139M59 993l19 -18M435 809l3 146M71 966l-38 88M250 1051l-54 102M295 967l127 -142M172 999q-45 8 -74 24M161 976q-56 26 -117 57M41 1058q159 -22 270 -36M303 857q-61 107 -141 239M107 917q62 13 117 28M124 863q-10 76 -12 136M288 995q-62 30 -104 75M217 956q-69 30 -180 77M233 1019q6 8 51 33M230 778l227 154M99 994q12 7 25 17M252 926q-20 87 -13 170M182 883q-37 9 -80 56M114 1068q3 36 22 83M117 973q46 64 110 130M183 992q-57 56 -76 119M121 772q32 41 36 66M122 918q12 -7 47 -5M432 802l24 127M439 835q-82 5 -127 25M176 852q-21 32 -30 90M240 868q-43 104 -73 239M456 797q-208 71 -355 153M118 882q108 64 198 143M232 987q-20 46 -45 122M173 920q-39 24 -38 41M130 762l-53 89M372 918l72 46M450 814l-129 -28M333 923q3 50 -17 101M309 807q-32 133 -26 254M224 862q-52 50 -65 98M457 822q-215 92 -380 194M221 850q0 100 51 193M96 958q10 24 16 35M328 874q-56 84 -81 184M141 920q11 89 23 212M429 788q-67 88 -96 141M198 991q-60 35 -167 77M266 860q-66 17 -152 59"/><path d="M134 956q18 75 37 141M113 865q20 28 61 50M139 1016q-16 4 -21 28M442 796l-78 122M134 1157l69 -49M331 917q-39 41 -91 70M260 978q-72 6 -118 26M246 1051q-21 23 -15 46M163 882q-22 88 -47 190M121 909q-4 43 5 92M238 985q-76 2 -168 21M231 1021q-33 8 -95 37M198 843q3 106 22 203M343 800l-7 127M239 844q5 61 62 141M249 938q15 0 54 -15M65 962q30 18 47 21M452 792l-19 162M142 994q16 48 43 107M231 859q-80 104 -144 208M479 793l-133 147M136 963q-38 33 -86 67M235 848l208 87M120 775l-35 69M69 941q59 51 79 109M430 799q-154 146 -270 287M99 977q22 17 54 32M221 781l234 179M129 1038q-12 21 -3 68M184 887q38 31 92 101M336 798q-111 62 -200 122M267 964q-43 51 -70 100M142 931q-16 25 -5 61M65 962q24 65 24 104M421 768l-55 168M331 772q15 99 42 155M280 902q-55 98 -91 172M436 816l-91 97M297 940q13 25 45 53M128 1150l38 -11M97 897q-6 48 -44 91M178 1007q-73 29 -145 47M335 937q-81 71 -203 114M171 964q14 54 -21 111M232 918q-6 94 7 184M80 1011q48 22 59 41M224 779l231 181M464 808q-176 145 -296 297M419 950l-129 108M182 970q11 67 -14 169M44 1033l18 -46M130 902q12 90 8 185M236 875q-3 15 30 25M242 851q-89 58 -171 108M260 985q-99 37 -208 71M267 965q6 2 43 15M87 853q-4 123 -41 212M282 915q-99 53 -181 95M93 988q-8 7 -37 12M444 778l-110 167M204 886q-52 0 -97 31M208 887q-16 82 -31 188M157 1144l45 11M173 996q-68 37 -132 59M330 877q-114 90 -211 198M307 789l29 126M236 795q23 35 62 73M247 853q-93 74 -175 167M130 762l-46 91M189 1013q1 43 -1 71M132 867q22 121 49 242M95 988q16 7 32 12M122 1158l70 -53M112 981q42 59 88 123M141 1000q7 56 10 143M295 920q-104 39 -176 52M259 1033l-31 77M171 811l273 -11M105 1018q1 38 6 96M187 1014q-37 58 -66 97M231 795l206 -17M139 895q24 35 32 72M356 940l97 11M480 798l-42 151M122 1139l35 -5M228 916q11 16 26 11M134 761l332 28M127 1000q-26 1 -58 6M175 801q58 26 87 53M82 889q11 99 7 183M353 926l95 20M302 780q51 94 126 150M112 981q34 56 59 116M163 874q39 23 63 52M205 984q-11 41 -57 98M182 941q11 60 -15 95M440 784q-165 158 -294 304M47 998l15 -34M233 797q-89 58 -186 95M379 929q-100 76 -198 120M156 886q57 29 117 92M122 765q10 140 -7 266M275 1050l-43 43M167 1001q-40 0 -65 4M40 1058q80 36 121 88M168 900q6 64 -14 144M191 1012q-13 43 -40 69M307 973q-74 66 -118 171M135 855q54 77 136 161M373 926q-88 71 -166 98M33 895q113 29 183 49M163 1146l44 0M433 820l5 129M264 1041l-69 107M53 1061l-8 -33M54 982q46 7 84 7M85 893q30 59 68 122M175 1037q0 44 -15 93M247 986q-88 -2 -199 10M309 807q-23 91 -28 197M47 1054q94 28 181 56M107 947q7 5 20 14M141 780l36 33M311 804q-107 52 -225 97M247 924q5 45 24 102M212 949q-47 31 -107 70M167 1036q17 48 25 103M118 996q-2 13 3 37M371 946l-120 122M335 939q-102 49 -210 103M121 1007q-6 56 7 143M426 940q-184 75 -349 124M152 824q40 58 49 95M168 1105l0 37M225 781q-61 118 -97 211M426 815l-57 123M178 972q-24 59 -68 133M327 818l117 127M121 1002q3 -4 17 -7M77 1073l51 77M120 775l361 63M440 799q-200 54 -355 93M34 1066l98 76M282 973l137 -26M178 801l147 124M239 859l190 -73M266 860q-68 102 -147 214M98 890q34 88 35 159M262 980q-12 34 33 65M67 958l-1 -30M114 872q39 117 81 235M109 1009q33 47 49 125M310 786q-101 155 -197 285M79 852l397 -45M171 1105l-6 42M227 844l195 -19M258 890q-13 98 22 150M430 821l-9 130M426 949q-113 7 -203 2M169 913q15 9 50 7"/><path d="M428 812l-80 -14M198 940q-56 73 -152 131M464 812l-55 129M127 1000q32 55 75 140M84 842l361 -68M127 1147l43 -4M279 1026q-52 57 -76 121M150 978q18 -3 28 -6M198 843q-50 24 -100 47M329 778q-104 78 -184 148M264 929q-95 45 -195 88M121 1052q45 5 113 44M196 833q-40 70 -66 121M236 778l100 169M143 931q30 -4 59 -8M146 1085l7 56M89 959q67 72 141 137M158 840q34 126 70 273M62 989q75 47 127 96M133 857q-4 30 8 48M112 773l117 19M141 898q47 32 118 68M118 781l221 7M231 852q-53 68 -57 146M450 819q-135 60 -203 107M325 776l30 166M32 1051q38 13 53 2M421 791l22 176M78 852q24 34 43 54M144 934q-9 23 25 59M95 895q19 13 43 30M330 938q-30 36 -59 88M133 993q16 49 30 108M348 791q-87 143 -160 263M186 939q-15 24 -33 26M235 782q-92 119 -191 217M141 780l47 13M133 923q46 19 105 62M455 808q-56 75 -12 127M87 857q67 129 141 256M431 794l-114 15M343 800l10 141M123 757q5 125 -23 198M437 804l-9 146M138 966q14 48 28 62M238 1020q-34 19 -84 76M125 1016q43 23 114 51M464 789q-217 100 -376 168M76 1076q66 21 126 64M168 1029q28 40 59 74M183 1046q-9 18 -36 25M172 792q-43 64 -119 108M130 764l-50 94M54 1005q93 40 179 96M333 775l102 171M461 940l-176 111M130 955q39 75 106 142M128 920q49 2 104 -7M201 1146l-31 -41M455 797q-144 83 -230 152M279 937q-105 -3 -208 3M250 915q-37 97 -79 190M238 926q-37 83 -94 156M81 847q25 20 46 12M428 794l-138 242M110 934q40 66 78 150M201 878q-31 49 -27 120M79 970q68 47 128 62M62 928l-14 -37M379 928q-64 33 -103 60M297 924q-131 83 -263 142M135 767q-19 140 -93 269M173 967q56 3 106 20M201 913q7 108 1 227M233 911q16 13 43 -1M200 913q-28 56 -59 100M145 1062q-9 12 -33 9M244 874q-23 102 7 239M111 1114l17 32M53 1061l33 15M261 931q-73 39 -120 69M166 1027q7 41 -4 76M166 922q0 56 23 95M44 891q94 92 165 176M114 872q-24 18 -63 27M185 1021q-34 65 -57 134M228 925q16 25 40 45M435 809l-106 -31M150 965q18 50 63 65M371 939l81 3M221 780q14 108 67 205M132 904q17 105 31 242M130 779l-86 120M110 1105l52 -9M42 1036l12 -54M302 862q-43 98 -77 215M177 856q31 34 55 62M147 834q-17 19 -64 15M164 916q-1 63 19 109M228 1100q-70 -5 -118 10M152 1076q23 -2 32 -6M222 789l231 162M130 953q-15 85 -12 160M199 921q-6 103 -48 219M276 912q38 29 98 22M122 1031q-28 13 -72 25M190 841q-59 28 -145 60M371 918q-121 44 -219 53M71 973q29 35 50 79M45 993l16 -16M231 795l125 112M52 1056l64 54M437 778l4 189M197 921q-32 107 -65 221M159 1148l29 3M330 877q-41 20 -57 55M137 770l175 31M98 890q53 104 106 217M110 934q50 75 114 185M94 969q31 21 74 36M94 1012q40 26 52 57M41 1070l87 85M95 897q65 21 107 26M224 862q-27 1 -47 28M189 837q-43 86 -91 187M276 910q-57 80 -107 118M71 857q26 18 42 13M240 990q-26 36 -51 89M226 773q-76 117 -150 193M230 790q-64 104 -99 174M139 940q23 57 64 127M174 850q43 51 93 114M363 958q-74 67 -131 135M75 1063q51 11 71 6M148 836q20 5 25 16M170 809l207 135M239 783q-96 115 -202 204M254 895q-30 101 -45 172M105 913q4 101 18 229M231 921q13 23 34 37M177 1029q21 39 47 73M156 1089q27 14 46 51M168 801l166 110M63 1010q110 -15 219 3M104 874q52 94 114 153M461 835l-6 137M147 961q-49 67 -106 109M455 972l-205 61M82 1060q16 14 33 13M444 800q-206 95 -368 166M201 1064q-10 17 -22 39M311 804q-49 24 -79 49M226 1107l-25 39M248 934q-6 25 -8 53M64 977l5 -38M76 1076q64 21 117 62M189 799q7 42 20 91M115 776l-34 71M66 1003q60 30 79 56M223 951q-54 87 -103 200"/><path d="M106 1010q-23 2 -68 16M238 871l194 -83M136 963q-38 35 -86 72M441 823l11 119M174 788l193 144M144 1021q6 14 9 26M334 920q-51 87 -95 147M369 938q-118 38 -212 63M481 819l-148 104M176 879q-29 4 -60 33M295 992q-64 42 -100 115M263 922q5 29 37 54M231 850q-12 65 -10 166M204 978q-34 5 -74 22M217 853q66 39 143 59M435 811q-121 58 -178 84M122 779l-76 125M130 848q0 80 33 126M239 987q4 -13 14 -9M77 1064l55 79M256 890q-33 125 -54 250M78 968q55 54 78 85M189 837q36 51 93 91M239 783l98 25M280 1049l-38 49M268 898q-3 21 18 13M221 1075l-33 76M151 841q-6 29 -19 61M195 1143l-28 -36M292 1059q-84 13 -154 24M114 947q26 55 34 132M233 772l247 46M163 1059q-40 13 -118 6M291 900l133 -106M164 1030q43 29 98 44M217 869q-58 58 -98 137M79 1019q88 22 202 54M134 955q31 55 85 67M237 1074l-49 79M271 979q-9 8 4 43M152 971q-24 17 -31 27M437 945q-170 39 -291 75M228 794l210 155M218 911q-53 58 -117 106M254 898q-30 30 -70 37M92 905q64 85 137 173M112 947q-20 52 -60 109M118 775l201 12M119 1018q33 25 67 61M229 1077q-11 9 0 28M201 919q-30 38 -63 46M178 1001q-22 37 -36 78M219 909q-46 54 -92 89M199 834q-47 27 -87 42M209 918q-48 38 -114 46M71 940q77 57 150 129M234 876l192 -66M423 795l-72 98M146 841q-6 79 -27 168M63 968q35 18 60 29M224 1078l-31 66M147 1059q-30 11 -108 0M245 844q-78 69 -126 134M135 895q-13 41 -5 59M74 978l-10 -42M42 1071l82 83M130 762l350 56M91 851q73 62 132 101M200 879q-12 82 -29 175M435 804l-183 243M178 959q-35 22 -117 54M67 962q101 56 228 83M275 905q-90 118 -150 236M180 797l197 137M422 822l-97 6M447 801l7 122M232 775l108 145M188 836q-5 20 -12 59M125 975q-4 14 2 23M144 1076l10 70M254 1049q-45 24 -76 45M334 920l96 37M207 997q-7 38 -40 110M133 857q-14 23 -19 28M127 769l253 162M265 1064q-33 21 -34 51M190 936q-43 26 -129 30M452 816l-29 133M224 1078l-14 78M117 880q43 101 103 189M228 794l193 158M203 884q-33 4 -31 43M43 1049l84 98M32 1053q38 17 52 15M226 852l211 99M227 990q-7 33 -6 79M128 1146q26 -29 67 -3M258 722l53 51M272 1010q-47 29 -79 96M231 852q-36 9 -64 41M448 785l-77 133M106 880q38 -6 70 -1M336 805q-135 109 -286 226M451 834l-122 -28M135 778l236 161M334 808l84 138M466 839q-201 80 -313 176M440 799l6 122M350 788q-50 81 -59 130M481 796l-139 125M315 790l26 135M130 764q7 138 -5 256M52 1056q40 13 74 9M179 885q-35 43 -77 108M85 1064q13 27 25 53M212 950q24 5 48 9M149 1023q-29 46 -30 134M122 765l228 39M262 895q-8 58 -1 115M132 1016q15 25 21 58M202 1057q-19 37 -46 89M427 836l10 117M302 869q-82 47 -151 105M298 989q-78 53 -147 151M266 1046l-62 95M137 770l316 21M183 995q-43 10 -59 27M435 818l-84 100M321 786l114 178M349 949l-86 93M120 781l308 30M454 806q-85 33 -123 80M224 791q-12 158 12 306M132 907q-29 6 -65 22M205 879q-70 50 -162 123M237 844q1 46 44 87M439 830l9 98M333 775q-115 182 -211 364M473 796l-118 146M180 1029q3 33 -1 55M117 908q66 25 150 56M457 839l-80 95M425 787l-60 169M138 930q-15 34 -8 92M433 834l24 125M176 852q46 36 110 61M437 804l18 156M239 866q-26 86 -13 167M101 898q13 4 31 9M316 804q-65 19 -127 32M195 886q19 30 43 97M157 838q28 59 13 124M217 844q28 -2 46 18M163 1101l-4 39M118 1113l1 28M130 770q-14 80 -79 133M120 781l199 21M164 978q-43 -1 -76 -19M68 931q82 0 129 5M87 864q-1 84 -39 167"/><path d="M250 713l223 83M78 975l-49 87M124 847q41 136 104 263M153 1068l-2 74M258 1050l-27 58M330 815l26 125M221 1016q-52 19 -100 59M172 800l164 139M102 939q71 58 179 131M249 1063q-44 20 -79 46M457 784l-137 6M182 945q17 54 9 81M223 910q-44 56 -77 97M34 1053l89 89M53 993l21 -28M184 963q-44 54 -131 98M44 1070q33 12 47 16M117 907q76 10 187 3M120 781l52 19M195 1028q-39 7 -72 11M254 960q-35 42 -62 61M132 852q-27 86 -61 155M39 1063l71 42M135 778l336 25M185 1046q-6 38 -25 84M137 928q48 14 116 50M165 915q11 84 63 185M190 952q4 49 -25 75M136 1082q50 -3 93 -4M79 851l370 -61M220 1069l-23 87M186 939q16 79 13 162M433 782l-92 29M199 1059q-1 21 1 45M158 831q-13 89 -31 188M347 785l82 170M446 777l-95 165M142 1001q37 -10 84 6M115 1073l9 68M143 931q40 15 96 61M466 813l-120 111M221 781l216 27M122 1032q48 9 125 26M105 932q43 65 80 143M151 1037q33 10 59 -4M169 1032q32 42 70 84M145 919q-18 26 -9 44M219 1022q-58 41 -89 51M151 834q59 45 115 66M133 769l292 53M318 812q-121 93 -267 180M88 963q0 31 -19 60M228 786l203 161M231 795l235 25M133 1003q-40 33 -97 56M149 829q5 40 20 84M232 775l119 35M115 912q6 1 22 13M115 996q-6 54 -4 118M225 949q1 71 19 150M231 976q-57 68 -103 170M112 1045q69 -1 185 10M222 784l219 159M186 1049q-57 19 -139 12M118 918q-25 46 -76 116M444 945q-112 21 -171 45M285 1011q-111 22 -210 62M137 965q26 82 70 180M333 775q-89 164 -194 313M232 1068q-23 31 -33 82M186 938q-28 72 -70 123M71 1007q4 4 -22 22M114 872q5 21 18 35M165 1039q11 16 7 13M206 895q-53 102 -87 262M160 891q41 26 65 91M122 939q-7 34 -4 107M348 819l71 118M224 784q-24 48 -38 94M148 1050q13 14 -2 19M100 955q61 70 137 121M197 914q-32 57 -75 105M170 809q11 17 18 27M190 841q4 15 13 49M79 1052q75 29 165 54M224 784l224 183M435 804l-8 141M168 806q16 135 22 249M127 768l195 38M174 788q22 162 53 316M108 1109l23 36M195 1148l-19 -49M314 785q-32 94 -54 174M271 1018q-46 10 -75 42M45 899q112 21 199 29M91 977q14 58 31 101M177 972q-33 0 -115 -7M116 905q-23 45 -72 92M69 1006q23 36 28 68M228 786l207 178M220 782l131 160M174 998q-2 56 30 143M432 961q-176 15 -320 15M315 815q-53 69 -128 130M200 975q3 29 -13 39M170 809q37 130 100 234M305 872q-28 36 -52 105M245 934q-80 42 -173 85M142 994q-20 44 -12 79M330 797q-129 103 -275 191M134 1045q39 45 60 101M181 916q-38 32 -19 61M120 775l207 43M451 965q-75 22 -138 56M178 1094q12 -2 22 10M148 989q-35 45 -53 73M194 941q22 15 26 31M347 785l-10 155M116 851q-26 122 -74 205M454 828l-9 126M79 1060q20 44 43 98M38 900q115 46 199 122M143 1013q15 26 41 58M40 1073l79 73M176 912q-43 8 -67 31M420 949q-105 61 -150 99M235 997q-27 48 -67 145M40 1058l38 5M246 930q-32 71 -65 119M226 852q-25 90 -33 161M83 849q24 35 45 54M135 767l176 15M69 936l-28 -28M217 864q-2 38 4 89M265 857q-72 100 -166 201M447 923q-126 44 -215 94M81 1050l44 89M145 1059q21 19 18 41M132 995q-17 65 -15 158M429 805l-90 104M262 895q-96 25 -203 36M197 841q-67 85 -164 188M184 801q6 131 12 225M113 930q2 21 12 45M231 874l212 67M120 775q34 39 39 61M271 1015q-46 39 -74 141M174 998q-5 34 19 61M208 891q-53 102 -86 255M347 907l-97 144M280 1049q-43 25 -50 47M331 886q-32 7 -26 24M206 1032q4 39 23 73M132 1016q19 33 36 89M102 875q56 41 89 64M91 960q73 22 132 54M194 1067q-45 8 -84 2M78 968l-16 -31M298 915q-103 56 -171 104M121 1111l2 45"/><path d="M70 1018q25 0 37 19M188 1019q24 -3 45 -3M189 1072q19 0 50 -1M212 1046q-12 16 -18 21M77 1064l50 77M98 890q5 107 11 215M79 970l-39 103M181 847q54 -6 82 10M263 721l82 75M201 922q23 81 61 141M230 799l225 164M256 927q-43 71 -89 113M298 931l137 -122M438 807l-19 143M133 780l220 148M32 1051l88 101M122 1031q-9 17 -3 40M147 1060q27 2 37 -8M288 985q-93 1 -151 19M350 804q25 1 101 -10M249 716q-4 70 -19 74M187 833q-11 116 -47 224M145 926q47 0 127 -2M178 1008q-53 44 -72 103M177 813q-37 36 -87 41M223 786q-61 120 -99 225M230 799q52 77 117 110M275 1005q-23 19 15 54M38 900q121 34 221 76M145 931q8 73 18 170M176 964q28 40 40 60M136 763l316 53M128 920q-19 26 -38 45M440 819l6 102M123 1011q22 47 35 132M106 874q47 1 102 13M230 778q-10 42 7 71M221 777l250 165M167 992q2 63 32 158M120 872q56 56 117 112M74 978l-2 -50M192 916q-27 64 -66 134M235 1014q-30 34 -77 120M425 776l0 168M137 770q-16 121 -77 202M151 974q23 54 82 94M438 784l-96 163M464 817q-211 36 -356 58M263 862q-25 92 -75 192M258 1059l-19 43M219 1022q-22 35 -42 53M182 879q8 97 17 229M214 977q-49 1 -112 5M427 836q-186 82 -325 179M185 1055q19 27 46 60M204 889q15 69 76 143M233 797l211 126M469 814l-127 105M260 954q-43 66 -82 140M145 1003q23 21 73 24M455 811q-169 30 -279 84M196 836q8 5 30 16M154 830q1 82 13 160M232 854q7 47 57 106M222 786q-20 49 -27 100M427 809l17 136M167 1000q10 47 61 112M220 867q-65 55 -120 123M273 978q-28 33 -6 58M432 807l-68 146M203 979q-40 15 -97 62M197 1057q10 22 32 48M161 1128l36 28M175 896q-35 26 -84 64M233 1019q-15 24 -25 92M56 996q72 32 106 49M182 803l160 112M192 1013q-14 38 -41 56M239 1116l-39 36M128 1156q16 -38 31 -20M180 895q-56 76 -142 166M437 808l-18 129M94 895q-6 50 -47 93M309 872q-35 38 -71 113M470 788l-135 149M94 1012q46 45 73 126M182 879q6 73 8 142M265 1077q-32 7 -28 20M433 834q-182 17 -301 18M230 799l211 144M465 839l-30 107M44 1033l6 -50M235 848q-75 124 -119 262M336 913q-106 68 -223 131M226 925q-55 81 -102 135M228 925q-69 3 -160 6M132 902q-29 38 -70 62M437 817l23 123M182 941q37 14 58 29M153 1009q-27 6 -40 28M223 786l229 169M221 922q-25 85 -79 157M336 939q-78 74 -190 130M456 960l-176 80M141 908q-17 -1 -22 2M240 862l203 -44M259 976q-36 67 -57 179M281 931q-117 80 -239 140M225 982q10 6 19 40M121 778l59 19M262 1040q-31 37 -31 75M203 1034q-16 33 -37 59M168 991q11 43 66 82M55 988q42 70 74 163M151 936q-25 31 -23 92M83 899q32 40 72 62M225 949q2 25 -4 67M180 989q-21 49 -30 103M176 852q21 3 51 26M128 905q29 71 68 121M431 794l14 158M302 869q-24 39 -42 109M65 962q87 71 177 136M351 928q-81 74 -174 113M240 778l110 10M232 987q9 27 62 52M98 970q-14 58 -59 89M338 800q-66 71 -136 114M128 768q56 106 65 180M37 885l35 -18M477 795l-100 149M473 818q-74 72 -50 131M133 923q-21 85 -26 188M228 786l243 156M144 968q-47 61 -106 100M137 899q-31 55 -68 118M263 721l66 88M326 930l112 19M422 822l9 141M145 966q38 10 94 21M128 1028q28 1 66 -10M121 1064q30 17 70 31M248 934q-90 37 -205 68M112 774l317 31M127 768q3 179 -13 334M108 934q75 8 165 37M437 817q-43 77 4 150M219 791q-9 87 -22 147M120 781l215 -5M132 898q5 9 35 22M198 916q2 88 -21 158M39 1059l81 58M153 1062q13 8 2 10M167 916q14 4 41 -7M107 941q-8 22 -34 66M45 899l419 -72M84 842q3 90 -33 151M79 972q67 45 127 60M51 993q82 50 135 111M34 904q52 53 64 118"/><path d="M137 928q-32 -8 -68 -1M47 1049l35 11M106 953q47 59 97 155M120 772l227 13M342 789l82 152M329 921q-50 26 -133 25M221 781l250 161M180 795q21 97 25 189M176 803l175 90M45 993q88 38 148 69M201 922q10 76 15 124M130 762l185 28M189 837q-46 70 -99 128M237 792q-39 50 -69 108M262 713q-74 105 -185 138M351 810l26 133M239 1067q-45 29 -88 76M311 773q-54 38 -99 50M145 1035q-6 52 -24 109M134 761q50 28 96 17M85 1053l35 99M196 920q41 34 83 67M292 933q-60 17 -123 29M121 977q-9 10 -15 11M168 1029q0 35 -22 59M457 823l-185 220M474 798l-18 131M38 1068l83 33M129 958q-35 36 -84 70M221 945q-13 68 -35 133M174 846q-11 31 1 77M133 1003q-39 36 -95 65M139 1057q30 19 38 37M127 859q55 50 127 67M53 900q41 14 69 39M329 809l48 125M176 789q9 162 11 320M150 1016q-39 28 -65 58M207 876q-53 65 -96 174M219 949q-61 17 -147 19M264 867q-56 57 -119 139M137 902q24 96 64 206M288 999q-54 50 -78 157M125 911q-11 105 -5 241M187 787l280 19M67 962q41 28 79 50M169 913q3 101 41 243M222 795l91 8M334 809l45 116M231 834q-22 21 -25 61M193 878q-63 88 -146 183M49 893l376 -106M174 871q-16 46 -16 97M130 902q-14 112 -6 252M127 998q27 39 60 80M106 874q5 133 22 282M75 1065q55 26 86 63M428 835l27 137M178 915q-53 32 -82 63M120 781l-82 119M322 806q-105 56 -201 113M267 912l166 -98M233 916q-21 96 -48 185M79 973q60 49 100 77M431 835l-92 74M350 788l15 143M236 778l219 194M122 1017q-10 27 -6 55M256 927q44 15 88 -4M306 870q-57 100 -120 234M247 934q-24 61 -34 88M207 895q27 20 90 76M132 852q48 111 142 181M231 838l225 91M118 918q6 -1 24 12M321 801l48 113M267 1040q-62 30 -113 56M55 987q80 42 135 72M197 936q-34 29 -85 40M247 926q1 18 13 28M53 1061q42 39 84 87M263 862q-48 59 -90 137M271 1026q-46 27 -76 117M234 916q-15 19 -43 23M60 972l11 -32M214 1026q10 23 46 24M427 836q-125 54 -205 111M210 1156l-41 -65M122 758l194 21M119 1009q-2 11 2 43M142 1074q-4 27 -20 84M224 791q-7 90 -4 159M135 1059q36 12 54 20M443 818l-104 -18M443 789l-76 123M117 937q-23 29 -72 87M237 860q-60 63 -73 139M44 1048l71 55M321 798q-90 63 -148 125M301 873q-41 20 -106 47M75 969l-34 86M262 1018q-26 24 -17 92M168 806q-38 100 -108 187M244 987q-9 -3 -18 20M246 980q-29 29 -54 50M133 1017q-2 -5 13 3M262 1064l-32 32M218 786l237 148M185 1021q-58 40 -146 42M34 902q121 21 213 32M247 857q8 -10 21 12M245 916q-60 40 -100 50M40 1058l-7 -34M203 1067q-69 2 -156 -18M262 894q-33 90 -43 128M315 790q-107 116 -218 228M180 795q12 135 27 229M91 1078l28 63M114 769l59 33M158 831q-9 44 -16 99M185 1046q-35 46 -62 104M432 783q-67 109 -92 209M335 800l110 124M162 1096l6 43M473 796l-128 110M323 794l123 127M161 834q-10 35 -16 71M111 872q40 112 80 216M92 957q7 21 4 27M172 882q60 -28 90 -14M330 784l31 162M291 900l162 -75M171 1048q0 16 -20 21M239 932q-25 59 -52 79M176 803q-34 53 -78 86M254 960q-13 48 18 83M150 1092q103 -50 166 -71M236 778l195 169M265 971q-44 51 -78 112M138 995q13 43 27 90M48 1068l67 35M278 1015q-92 38 -153 124M42 1071l69 43M147 1083q16 21 5 67M190 841q19 54 35 108M128 976q-25 22 -54 47M164 999q-13 39 -26 80M268 958q-53 65 -105 142M212 1046q-29 17 -66 23M329 812l92 126M310 786q-57 174 -114 367M124 771l-34 88M249 938q6 20 28 42M90 851q23 39 50 69M236 795l97 -2M130 764q11 123 8 202M137 851q-43 30 -100 42M47 1054l87 103M317 806l118 144M100 934q58 74 128 178"/><path d="M63 941q30 23 32 72M124 1011q2 -6 18 -4M69 927l-21 -36M212 979q-45 0 -100 4M114 969q12 22 39 40M137 965q25 71 66 143M90 854q10 30 11 44M121 1075q33 14 81 37M44 902l404 -86M471 801q-168 27 -250 56M112 1102l22 55M136 932q-6 18 22 39M103 1023q-16 22 -61 48M170 996q-44 67 -49 165M447 833l-68 95M139 1056q-15 16 -65 13M81 891q65 89 123 165M246 930q-81 28 -176 28M47 1069l61 40M305 990l136 -199M299 968l126 -177M117 937q-6 19 -11 51M137 928q15 75 33 175M168 1025q-32 35 -81 31M69 941q79 57 152 128M164 1098l-5 38M252 923q-74 37 -139 49M48 896q100 21 158 25M257 957q-81 70 -145 145M79 852q14 126 10 220M454 807l-126 -23M141 929q33 76 104 179M352 931l85 22M176 895q0 97 -24 255M342 947l108 -24M179 803q55 16 85 17M311 808q-32 61 -57 90M454 841q-166 7 -269 49M159 1151q24 -24 39 -5M464 812q-232 101 -430 211M178 1042q25 30 59 58M185 1015q18 48 43 85M165 1139l37 16M280 1032q-44 37 -52 68M124 853q35 65 49 114M369 928q-99 103 -213 218M37 1067q44 8 75 4M228 1067q-69 20 -116 46M222 784l209 173M256 716q-81 117 -222 188M141 1013q14 23 33 46M112 983q-19 8 -52 13M243 784q-16 148 27 260M101 1004q-15 36 -60 66M117 921q30 67 54 133M232 877q-12 27 -12 71M219 920q20 33 41 65M468 781l-145 13M310 856q-23 33 -26 67M111 774l302 10M63 968q63 63 83 117M84 889q29 19 61 42M137 851q22 120 56 211M431 835l-92 -33M377 905q-90 90 -165 133M170 809l306 -23M435 784q-73 47 -104 102M187 794l158 140M239 932q1 35 6 79M262 854q-53 53 -110 104M116 985q-27 19 -70 44M216 782l114 12M158 834q-22 71 -64 128M224 945q-44 26 -77 45M319 802l37 140M286 988q-65 43 -118 112M165 1039q15 29 19 50M233 1101l-37 51M79 1019q48 16 56 29M309 777q-95 125 -187 240M200 986q32 -15 62 -15M120 775l321 44M230 791l141 127M250 712l-113 58M93 988q-7 1 -35 -4M305 990q-111 38 -178 84M69 927q94 26 173 92M131 772l86 14M118 766l61 29M46 904q51 34 84 49M119 760l-75 131M48 900l416 -111M229 792q-59 118 -83 228M108 934q21 24 75 61M115 938q-4 64 4 136M72 852q56 125 74 231M335 882q-134 43 -284 111M37 893q50 45 62 71M267 912q-79 44 -133 56M300 932q-122 28 -235 30M59 931q105 11 196 43M466 839l-31 122M201 968q-37 72 -79 171M97 1005q-12 35 -55 65M259 715l56 91M217 958q21 19 44 58M63 941q65 52 93 112M195 1148l-24 -42M273 1046l-41 54M190 1059q-3 17 -12 35M180 1055q-43 17 -100 14M115 993q-23 41 -62 68M161 960q-54 22 -110 32M84 1064q16 28 35 58M136 1054q-3 27 -27 51M122 1035q24 15 38 51M111 880q34 101 56 191M111 906q-21 42 -74 81M43 897l0 105M35 1034l8 -43M172 788l184 119M148 1079q113 -46 197 -79M114 885q-6 63 -13 125M291 967q-63 36 -103 52M207 836q77 55 168 92M121 772l-85 126M294 970l150 -47M111 865q-19 37 -54 73M173 960q24 39 20 53M180 918q69 29 160 74M225 780l136 166M59 931q40 26 62 67M339 909l85 32M437 817l-66 101M316 779l-35 255M186 878q35 48 85 148M85 1064l42 77M141 908q41 29 99 71M173 802q-22 109 -41 214M106 983q116 11 210 38M173 802q-18 67 -26 136M54 1005q48 -8 89 -15M129 1074q-16 16 -20 31M120 1062q21 33 36 84M232 775l78 33M119 914q115 10 226 -1M305 805q35 76 74 126M273 932q28 10 58 -15M257 717q-45 162 -88 276M101 983q46 32 84 30M197 1055q10 26 31 57M190 1110q4 2 8 34M260 954q-45 67 -89 143M120 1062q27 13 57 13M146 980q-30 7 -55 7M67 962q83 62 165 106M61 999q79 34 141 63M116 970q-27 28 -70 59M244 980q5 -16 22 -25M239 783q-72 59 -112 76"/><path d="M353 951q-85 53 -188 72M126 865q7 75 52 136M268 918q-44 95 -74 187M166 800q-23 67 -56 134M155 829q-13 47 -38 108M179 803q-7 20 -27 31M436 818q-211 127 -389 236M99 977q10 24 20 52M145 931q-1 -11 28 -6M231 917q-18 28 -55 47M120 775l-33 81M273 932q-50 79 -85 152M132 907q106 14 215 2M117 876q-2 72 5 143M267 1036l-24 75M44 1070l71 33M69 927q27 31 33 78M62 989q107 5 207 40M170 802q-39 110 -106 216M138 989q-22 56 -24 113M63 934q44 20 85 46M426 810l-91 -23M455 963q-142 -6 -264 -24M230 1016q13 -21 31 -6M107 917q-2 27 -13 45M152 834q-22 86 -75 182M45 894l387 -87M157 1001q17 46 71 112M219 909q-1 94 5 169M143 907q38 84 123 172M287 912q-111 15 -218 27M182 803l177 105M226 1115q-21 -2 -31 28M136 1054q62 2 127 -12M182 964q9 60 -20 133M115 776l227 13M47 998q56 4 106 11M139 895q17 92 43 180M254 972q-2 7 10 35M91 1058q37 18 47 25M101 980q36 56 49 112M145 1006q-48 3 -105 18M82 1014q-8 1 -47 20M70 958q21 32 27 60M363 940l-85 141M178 801q-37 100 -87 179M194 1066q26 -5 76 -22M120 936q62 0 141 13M117 761l230 151M144 993q-24 53 -21 111M177 917q-61 0 -115 11M196 946q18 66 37 128M327 876q-30 35 -24 107M170 961q30 8 31 28M196 1152l-27 -61M265 1048q-45 43 -68 99M464 789l-118 151M137 1004q-35 1 -76 10M201 984q-43 -9 -110 -19M44 902q104 94 202 200M471 831q-211 82 -344 169M133 994q25 47 61 101M170 809q-7 97 10 180M292 1061l-89 86M211 977q-45 71 -89 181M143 923q36 24 84 79M233 772l101 148M298 915l154 -99M145 1035q43 42 82 84M151 1143l46 0M151 1069q-11 20 -29 50M451 930q-136 92 -214 179M125 1139l32 -5M204 916q74 51 112 108M371 927q11 19 38 14M123 997q-17 43 -32 81M113 1117l54 -10M235 788l178 -4M75 937q20 17 16 43M322 817l121 118M195 886q-15 90 -48 214M135 1048q36 30 55 62M95 980q-3 19 -21 40M172 1052q29 23 65 45M205 984q19 4 26 37M451 777l-124 32M223 1068q-60 27 -91 74M239 874q73 28 207 53M222 786q-82 125 -178 242M282 928q-56 64 -93 91M373 932l69 14M219 946q-20 67 -67 130M257 926q-28 92 -31 189M119 1075q24 6 46 10M145 1052q-5 41 -18 99M239 783l186 152M171 914q-67 77 -132 145M233 772l213 151M71 937q16 61 4 126M133 769l95 25M371 950q-91 53 -179 71M314 799l59 127M311 782q-60 165 -124 327M207 997q13 35 34 97M445 800l-8 149M138 930q8 73 9 170M121 1161q32 -39 76 -14M310 856q-35 96 -34 196M141 921q44 8 108 17M305 869q-87 56 -163 138M42 1034q78 8 105 25M130 762l-81 131M49 893q41 14 67 32M149 1061q-34 12 -118 7M49 893l44 -36M178 962q-39 22 -132 58M254 898q-62 61 -91 96M38 1068l86 73M224 791l204 165M148 963q-44 22 -92 35M328 784l-47 293M355 948q-125 25 -262 31M108 934q-9 16 -36 34M247 871q-16 43 -1 117M109 943q39 52 73 115M105 916q81 21 183 54M189 1017q-3 45 -11 77M231 921q-11 34 -36 67M133 959q-9 17 -5 17M187 802q-32 46 -53 59M419 950q-178 31 -348 57M228 922q-55 59 -110 128M324 798l137 142M127 998q17 27 23 37M71 968q15 59 1 92M135 767l94 25M453 929q-153 83 -271 146M258 1050l-51 96M196 888q-30 37 -32 90M196 1060q-5 21 -11 47M172 911q-57 46 -103 106M452 798l-125 134M266 817q56 63 84 97M272 1041q-59 30 -101 56M174 970q0 11 3 31M182 972q-28 3 -86 6M110 912q0 84 12 166M231 783l225 146M324 886q-52 21 -107 72M142 930q-34 34 -71 92M266 817q-19 14 -43 33M431 814l-179 233M255 1065q-35 19 -47 46M233 772l212 180M69 939q64 51 99 102M316 804q57 9 165 12M221 1075l-20 71M168 1100l2 43M289 960q-105 16 -192 34M114 769l-42 83"/><path d="M57 1003q29 0 37 5M128 768q54 103 59 167M294 975q-64 40 -102 78M112 999q-4 40 0 72M195 885q-36 49 -54 128M46 1003q55 2 102 12M216 1040q-17 26 -28 44M71 959q36 22 70 32M268 1016q-54 35 -110 127M231 795l114 11M284 920q-108 6 -209 10M33 900l26 85M127 853q-30 84 -81 149M118 918q-18 3 -44 23M116 772l105 5M123 945q2 5 29 13M99 1058q46 22 92 37M85 844q87 60 174 82M239 987q-66 37 -123 74M210 1033q-19 51 -40 110M111 774l209 10M116 1072q1 36 17 87M231 834q-88 31 -185 60M199 1101l-4 44M431 794l-12 156M63 1010q80 26 145 52M480 798q-164 91 -262 185M74 860l367 -21M463 805l-122 -8M277 1035l-48 70M33 1029l27 -42M136 920q12 74 18 157M454 770l-79 158M216 916q-21 88 -74 157M453 834l-94 74M40 1069l55 -7M333 793q29 21 100 37M84 1068q13 25 26 51M82 863l351 -34M337 808q-109 89 -192 157M94 895q92 20 204 20M231 795q-62 72 -89 143M116 1072l14 66M95 988q64 46 139 87M75 930q20 24 15 58M429 822l12 136M150 1057q-8 37 -22 91M194 1110q72 -62 122 -86M219 909q-64 45 -157 55M112 1071l25 77M172 788l181 138M118 926q6 24 35 51M155 842q-13 20 -37 33M177 959q11 53 -23 99M152 824q-29 87 -99 169M319 802l26 131M128 976q-37 26 -91 57M127 769q-6 133 -56 247M229 792q63 16 194 3M57 938q96 8 161 45M208 982q-33 4 -63 24M239 783l78 23M178 915q-60 41 -105 92M156 874q-14 51 -37 118M290 980q-100 2 -172 16M99 1020q43 30 71 83M111 880q-15 65 -54 123M115 769q80 103 134 169M98 1023q65 17 151 40M133 773q30 23 39 15M222 795l108 3M228 786l200 164M254 898q-10 59 -12 121M262 1064q-33 15 -35 33M190 1110l6 29M321 794l114 141M175 919q-61 35 -115 77M114 872q78 42 186 60M75 1063q73 25 152 56M240 783l197 168M262 887q-21 29 -37 26M457 932q-120 28 -180 49M176 803l259 1M229 855q-7 58 4 149M122 939q33 77 71 199M51 899l9 88M77 851q24 135 46 253M243 1010q-20 7 -28 16M258 889q-64 27 -92 33M112 993q33 59 56 146M204 889q-44 -8 -69 6M280 930l136 -116M178 801q23 27 59 48M36 898l47 -33M112 917q-5 43 -13 103M235 788l191 27M117 937q-23 24 -71 66M183 995q-60 10 -109 28M198 989q-34 48 -72 117M98 970q52 67 103 138M221 922q-53 99 -104 194M119 760l223 29M287 928q-86 30 -126 32M123 1104l46 -13M44 899q117 85 248 162M462 797l-101 136M58 1021q39 -8 67 -1M216 782l228 182M464 817l-100 101M60 972q99 13 175 41M93 1007q63 29 132 57M265 971q-57 45 -123 90M457 815l-112 98M322 812q-98 100 -176 204M424 794l-104 8M158 888q23 80 31 184M179 803q-41 96 -100 167M71 1001q90 -11 159 3M295 920q-13 31 15 60M243 784l203 -7M244 980q-9 35 16 70M106 988q66 1 130 24M77 1020q59 28 94 77M245 934q-4 66 35 106M48 1031q34 15 34 35M196 833q-1 117 7 225M302 862q28 30 43 51M45 1028q82 5 124 4M155 980q19 -5 42 -10M159 960q-21 26 -17 44M258 974q-51 41 -116 80M228 1009q-16 15 -36 44M84 892q55 80 89 134M140 920q25 15 38 39M440 811l-89 131M173 996q-68 10 -140 28M322 806l-34 245M71 857q16 73 -4 113M250 956q-72 59 -126 104M132 902q-27 53 -60 117M194 1054q19 2 54 -13M132 1059q31 -7 36 -34M232 853q-31 109 -44 231M44 1033l2 -31M184 801q15 82 9 147M114 989q33 38 58 63M119 1071q-4 33 6 78M33 900q34 13 31 36M266 892q-36 94 -46 142M133 994q5 0 36 -1M326 793q-121 49 -253 64M448 785q-53 93 -13 153M236 778l195 179M422 824l31 127M141 942q-25 84 -30 215M238 1020q-87 14 -201 47M141 930q28 1 49 6M168 806q53 83 119 157M118 985q24 65 32 152M221 856l219 -15"/><path d="M71 1001q67 21 111 18M285 1017q-120 17 -244 53M236 1012q-22 21 -46 70M51 1025q74 15 104 36M154 1139l45 19M428 789l-75 139M232 775l190 47M124 765l217 46M446 930l-156 121M95 1070l18 85M47 892l430 -97M259 923q-72 44 -121 72M231 783l106 165M148 1021q-1 23 -10 58M201 1110l0 36M469 804q-218 151 -360 302M159 967q-36 26 -61 50M336 805l-69 225M118 766l99 20M133 1049q42 29 68 59M426 797l-168 253M373 927l55 29M232 1005q-63 38 -121 109M121 1007q-18 -2 -41 4M172 792q6 46 4 95M367 912l-114 159M185 1046q-39 35 -79 65M166 800l205 150M474 798l-120 106M67 970l4 -30M272 932q-56 80 -109 154M433 807l-63 109M116 911q15 41 65 89M428 950q-169 30 -302 51M61 966q41 19 75 28M45 901q35 88 32 163M195 1148q79 -96 150 -148M130 765q79 98 153 145M115 993q4 10 15 27M171 1054q26 24 56 49M119 1107l53 -22M342 789l-86 247M187 787l166 154M99 1061q40 22 71 44M432 802l-102 -5M111 774q134 99 218 150M271 1018q-23 9 7 37M114 1068q38 32 85 90M156 874q24 86 32 183M363 958l80 -28M155 1050q-15 29 -39 50M148 989q-27 13 -43 30M244 861l224 -31M256 716l92 82M117 907q-28 83 -78 156M126 765l198 33M169 796l171 137M344 923l104 44M251 718l97 80M134 772q8 66 6 84M51 993q50 7 92 16M187 833q-28 81 -39 160M137 902q35 16 70 16M96 969q39 60 51 108M152 838q26 101 33 177M230 871q-27 89 -35 188M341 912l105 15M146 942q-14 25 9 80M236 778l74 8M130 954q-30 17 -69 12M127 981q-16 63 -19 128M142 967q-39 18 -83 26M305 805q-53 148 -108 303M44 1033q161 -24 272 -9M147 932q-27 25 -35 61M267 867q-8 90 -8 193M153 1009q2 48 12 130M169 1091l-8 37M197 1064q16 17 49 38M128 954q17 70 24 122M115 769l349 58M80 858q56 12 91 27M112 978q-4 67 -1 135M261 861q-13 96 -35 207M431 829l3 105M233 782q-80 68 -151 107M197 1143l-34 -43M221 780l200 172M211 974q-1 68 -11 178M274 1035l-45 70M435 833l-99 106M261 931q-31 85 -37 170M141 780l-103 114M146 1083l12 51M94 856q57 62 80 107M116 852q8 43 29 79M236 778l188 156M63 941q46 24 90 74M122 765l-35 99M236 778l215 22M225 861l181 -71M133 773l196 33M230 799q-18 152 -2 301M132 898q-11 59 -4 130M237 792q14 37 28 77M144 919q-36 1 -73 18M120 921q-8 30 -10 65M156 979q-20 19 -17 40M133 773l200 31M202 922q-37 6 -85 12M101 938q43 51 76 103M118 1050q34 1 68 28M288 986q-55 26 -81 46M192 911q7 33 -19 56M168 1145l20 6M156 1146l46 -3M428 811q-184 60 -314 136M75 930q34 18 68 35M102 894q70 41 138 93M130 779l213 -9M334 812q-44 76 -64 150M117 937q-7 25 -11 73M223 786l91 13M48 1068l0 -38M431 947q-122 80 -192 164M287 922q-97 36 -166 43M141 905q-37 42 -81 82M106 880q4 73 9 151M160 887q-34 44 -103 116M106 869q0 67 -5 114M250 1033q-86 46 -140 84M171 964q23 55 11 115M226 925q-53 5 -104 12M135 855q43 50 96 62M199 834q-47 133 -78 273M153 837q16 139 -1 313M41 908l49 -49M121 778q0 112 -43 184M130 770l217 16M50 990q41 23 65 61M35 1034l25 -41M437 949q-98 15 -133 31M174 1105l-6 37M413 784l-71 152M137 936q12 58 20 125M123 776l308 38M179 791l150 130M232 1062l-35 94M119 883q37 111 83 229M135 778l195 20M279 937q-48 13 -102 22M312 770l-25 297M147 938q-24 15 -25 37M45 908l14 77M298 989l140 -51M145 926q17 89 53 220M244 980q-62 2 -110 14M343 800l-9 142M190 1055q1 15 0 27M193 878q-63 0 -155 16"/><path d="M231 1108q-34 1 -64 30M122 758l333 39M122 779l201 6M115 938q2 22 17 63M326 930q-112 5 -260 5M197 832q-6 131 -12 275M236 778l201 0M267 964q-70 15 -100 36M239 844l204 91M258 899q-80 65 -152 111M240 862q44 30 101 44M196 912q-48 13 -137 23M361 927l-83 154M132 852q14 141 19 288M175 923q-2 14 -4 41M33 900l430 -75M129 1151l47 -15M117 761l197 24M152 958q10 66 37 114M114 989q5 12 19 28M318 797l31 139M80 857q62 123 111 231M223 951q11 16 20 43M219 791l200 159M136 932q23 62 58 134M205 984q2 35 -9 76M345 913l83 43M283 1068l-95 85M51 993q36 45 46 81M129 1074q14 6 23 5M248 862q-44 104 -64 227M270 858q-15 110 -25 252M170 1012q-15 23 -23 47M286 913q-96 15 -163 28M74 941q22 16 21 47M115 922q25 72 32 152M255 718l-118 52M421 768l-97 10M85 893q-6 90 -53 158M236 1062q-27 20 -41 45M153 1068q17 15 15 37M163 1034q-38 30 -110 27M270 858q-37 103 -107 228M163 1100l2 39M122 1070q26 13 55 24M112 773l310 51M128 779l-84 120M278 1079l-78 67M260 968q-76 13 -134 33M45 908l452 -112M413 784l-68 122M200 913q6 98 -1 188M95 1010q-10 30 -50 55M288 985q-110 -9 -212 -19M76 929q4 38 -41 105M169 1091l-2 47M286 1070l-88 76M203 884q-68 -2 -157 20M417 805l-88 -9M428 811l-1 148M249 716l183 54M109 881q-26 12 -74 16M121 1111l1 47M72 867q18 65 7 103M307 983l121 -33M78 968q93 17 184 50M65 1009q64 30 92 66M269 820q-68 98 -152 209M497 796l-144 130M225 982q-9 60 -18 163M289 913q-39 83 -19 135M197 841q-37 68 -53 126M122 1017q23 26 35 64M131 772l203 36M243 784l233 23M120 772l315 39M90 1071l40 67M214 987q-68 8 -179 47M133 769q55 51 110 92M283 950q-64 79 -119 182M187 833q21 78 34 183M341 811l-5 102M263 864q-66 107 -145 237M198 991q10 20 10 34M57 1003q37 36 57 65M248 862q-37 89 -38 171M264 977q-93 8 -191 30M225 868l219 77M231 921q-21 85 -49 154M211 825q-55 81 -99 148M169 925q-37 32 -37 76M77 960q51 58 63 87M361 943q-89 68 -188 113M91 899q40 92 48 189M118 1021q-5 32 6 80M32 900q119 36 200 83M420 798l-76 125M279 941l193 -117M241 940q-16 7 -43 6M319 802l23 145M239 844l179 -27M59 997l19 -32M324 933l-47 138M250 926q-87 39 -190 61M455 781l-122 136M130 902q-18 50 -32 105M444 774l-24 175M313 785l128 165M238 926q12 37 36 81M422 948l-128 91M211 974q-41 13 -86 46M135 777q61 159 130 287M222 786l209 161M263 864q-35 115 -112 280M473 796l-146 22M64 977q33 76 55 169M179 803q5 148 -2 291M163 976q36 3 116 11M134 772l312 32M336 798q-85 151 -173 303M142 1051q-14 16 -55 5M62 937q50 21 105 55M273 934q-106 34 -221 57M225 780l209 154M141 930q37 -6 82 -20M254 967q-79 5 -154 3M361 940q-123 32 -242 42M70 958q23 28 32 47M262 895q-93 67 -192 111M174 1001q-4 47 23 114M241 1007q-36 28 -87 89M102 894q41 111 68 249M173 925q-58 25 -106 52M45 899q100 37 156 85M238 985q-83 7 -193 39M230 778l251 20M247 992q-85 -6 -188 5M34 1066l82 82M71 943l-33 -43M125 1149l76 -45M154 830q38 120 79 233M230 790l104 139M193 1059q13 18 38 38M79 852q34 87 74 157M224 779l235 168M419 801l45 150M150 1063q26 11 37 20M198 1021q-13 19 -32 6M235 865q-4 86 60 168M303 857q-95 18 -196 60M221 945q-67 20 -165 23M176 789l261 40M188 1054q-58 13 -141 0M441 950q-141 87 -247 196M222 947q-64 28 -151 54M317 806q-51 68 -116 113M262 971q1 4 26 24M245 916q-41 92 -100 172M63 1010q65 21 91 34M153 1039q-16 40 -47 72"/><path d="M303 972q-114 11 -202 32M121 977q-20 50 -42 75M234 852q-73 110 -115 222M61 999q31 5 46 18M355 936q-74 22 -177 36M95 953q12 93 30 188M464 827l-29 109M41 908q111 9 187 0M116 1072l6 74M443 932q-169 45 -275 79M145 905q36 79 120 148M250 712q-10 149 -79 252M285 945l196 -149M135 778q28 162 12 299M112 976q3 21 10 43M117 996q-27 38 -75 60M71 959q21 18 28 18M173 919q6 18 24 51M32 1054l45 10M127 768l-37 93M140 1062q118 -36 202 -69M435 784l10 174M289 960q-22 21 -16 65M93 979q-12 50 -60 75M464 827q-87 57 -111 93M122 1043q20 7 26 39M239 844q-73 74 -116 153M168 1029q27 28 55 39M133 780l195 33M329 883q-102 48 -179 133M65 1006q28 3 42 16M93 982q59 36 118 41M305 872q-28 22 -51 54M44 997q48 14 81 41M298 984l145 -40M118 775l114 0M257 895q-69 25 -112 38M66 931q68 57 107 114M128 906q65 32 165 81M134 761l192 179M457 839l-112 95M185 1013q-31 17 -57 24M271 905q-101 48 -206 57M145 931q15 72 46 166M178 972q-38 8 -130 24M270 999q-88 43 -153 117M121 1161l46 -23M168 806l262 19M118 1044q28 22 47 95M217 786l249 3M95 960q41 66 55 117M133 775l193 161M125 978q-10 76 0 171M240 783l209 59M285 1045l-91 101M461 791l-4 154M221 781l108 25M82 889q19 21 30 49M217 869q1 26 11 53M130 764l225 146M229 792l142 154M433 807l-6 145M199 973q40 10 82 45M193 1062q1 36 3 91M184 938q27 7 32 6M137 770l94 13M472 824l-157 -28M111 1071l11 68M326 793q19 84 49 133M220 920q33 14 80 12M233 772l82 18M185 890q33 72 110 155M112 917q-1 36 0 76M139 1052q23 34 21 78M337 798l24 155M193 1017q2 63 7 129M454 829q-169 -8 -281 -27M328 783l21 153M269 928q-9 37 3 82M268 858q-7 46 -37 118M461 835l-122 -35M128 1020q51 -20 114 1M451 777l-126 150M153 977q33 8 88 33M261 894q-100 66 -218 105M350 804l106 124M216 831q-29 141 -65 313M163 974q2 75 27 170M305 793l49 145M239 783l216 175M359 917q-80 101 -158 193M223 786l103 -6M197 841q-18 116 -56 238M189 870q-62 7 -157 30M298 989q-73 22 -129 39M183 1046q-8 25 -31 45M61 966q89 58 175 96M185 1054q3 16 1 25M248 718q41 62 61 89M117 908q30 91 54 198M117 776l190 14M475 810l-104 117M80 1057q51 36 78 86M176 1099l-23 42M437 945l-155 94M345 952q46 5 115 -3M115 776l340 66M109 1033q45 18 94 61M298 931l183 -115M294 979l140 -45M239 783l239 26M237 792l227 159M221 780l224 178M194 841q32 72 86 175M351 918l-79 116M267 912l173 -71M71 943l-27 -41M45 1028l16 -29M298 868q-47 88 -96 189M62 928q104 14 198 50M361 927l60 24M80 1057q48 19 68 27M116 953q-17 1 -52 9M301 975q-130 17 -262 61M197 941q-23 36 -44 74M146 942q23 -8 41 -7M369 933l72 10M130 779l307 23M349 948l103 -6M298 863q-104 52 -237 114M181 1004q-59 0 -107 6M187 787l146 139M96 894q-6 50 -43 94M274 902q56 43 162 55M225 780q-78 80 -156 147M223 1068l-26 75M347 786l-23 147M243 784q-14 110 -1 220M359 908q35 39 96 55M125 911q-1 47 23 110M454 828q-162 1 -255 6M431 805l-64 107M159 967q-5 65 -7 124M184 943q-22 33 -60 68M282 904q-52 37 -109 63M219 945q-20 68 -65 132M115 948q68 11 154 71M132 904q27 104 66 240M235 797l222 135M148 1050q21 0 21 -22M63 941q38 17 63 50M240 874q-4 48 31 142M424 822l-52 107M50 990q76 50 112 107M152 1049q27 43 43 99M453 779l-167 273M139 1088l26 59M338 787l86 154M48 996q48 0 84 -1M177 813q-25 48 -45 85"/><path d="M202 1140l-34 -36M161 960q-41 79 -54 151M143 907q30 12 61 10M112 976q21 17 63 30M51 903q31 38 18 63M124 775q54 105 53 187M239 874q-2 27 39 65M215 1026q55 -2 98 -5M82 1050l55 98M159 960q-5 86 -7 190M243 784l208 10M294 970l154 -172M183 939q-10 26 -20 37M126 765l304 65M290 992l143 -38M147 938q-38 24 -77 68M377 943l83 -3M217 957q4 7 -6 20M120 775l193 10M249 931q-29 87 -48 179M217 957q0 5 -16 16M45 901l423 -71M176 896q40 29 88 111M158 889q36 12 41 35M329 921q-31 29 -63 34M208 891q-52 38 -91 100M117 776l224 142M221 776q82 30 250 25M196 1152l-26 -43M234 876q-7 24 13 58M297 922l167 -110M123 776l189 17M44 891q93 36 129 69M71 959q69 52 119 62M33 895q52 45 65 75M150 978q-47 22 -100 46M80 850q24 147 48 296M170 802l184 102M195 885q-57 5 -132 48M232 854q-2 28 26 35M463 809q-139 61 -197 91M142 1004q6 34 5 70M177 1029q26 38 60 68M173 919q36 18 131 49M162 924q109 5 273 -3M175 919q77 16 180 29M374 934q-148 0 -312 -6M266 1049q-51 17 -84 26M93 982q36 8 89 12M220 782l153 150M233 1019q10 6 68 29M182 970q26 56 42 131M330 879q-58 94 -85 229M176 803l300 4M232 1017q-28 33 -73 123M189 1085q84 -52 158 -91M168 991q10 40 65 72M159 840q-24 72 -68 140M42 1071l79 73M105 937q60 55 141 114M418 823l-91 112M175 870q-28 12 -56 46M298 915q-129 57 -264 108M459 775q-142 93 -215 153M79 851l356 -25M133 769l179 1M95 1013q36 21 40 40M236 861q-72 9 -118 23M231 838q-64 84 -98 179M219 909q-34 53 -48 85M72 1001q17 35 10 59M72 968q3 58 -40 85M233 782l220 147M93 896q12 61 16 137M121 1007q-12 -3 -24 1M469 828l-156 -43M116 851q115 66 221 97M133 959q13 67 19 117M238 842l184 -20M125 856q55 64 122 113M172 881q-43 45 -117 107M201 968q-52 5 -141 4M324 933q-97 36 -209 47M55 988q88 32 161 36M222 871q-11 22 -25 43M262 955q-98 19 -210 36M71 973l-23 86M369 928q-102 73 -224 107M107 1022q35 39 54 121M34 904q69 40 129 72M362 923q-75 95 -135 180M32 1053l92 88M489 825l-126 98M185 800q-50 96 -122 161M158 831q-23 32 -67 57M344 786q-60 144 -71 260M281 1010q-62 39 -118 133M87 1067l24 90M251 853q-105 106 -203 206M224 848q5 55 38 123M94 986q39 39 49 60M462 850l-144 -53M140 935q8 53 11 103M128 779l179 10M252 976q-24 36 -28 67M40 1069l90 82M118 926q-17 35 -49 91M163 1034q43 12 98 -2M118 884q-1 48 10 70M102 937q-12 22 -55 61M182 945q8 86 -24 198M137 770l-84 130M48 900l405 -121M61 999l18 -29M294 1047l-95 91M93 979q-3 19 -23 40M239 1076q-44 26 -87 74M45 1028l11 -28M236 795l204 46M124 847q16 130 14 240M87 864l353 -79M137 925q-18 91 -10 216M99 964q-4 30 -22 56M435 961q-130 47 -216 67M141 1013q28 35 86 91M421 768l-78 22M201 894q8 26 13 93M233 1065q-14 19 -6 46M112 978q-22 55 -65 92M221 776q43 32 108 33M67 970q32 22 57 41M151 1009q1 28 2 59M36 1059l95 99M45 894q107 24 181 31M286 1037q-71 43 -125 91M451 794q-173 26 -300 40M229 855l231 -67M265 1064q-51 7 -83 11M205 912q6 39 -9 74M107 1008q43 14 85 5M137 965q26 72 71 146M164 921q0 75 23 162M141 942q-41 19 -98 57M116 1149l88 -46M374 934l55 21M124 853q-14 75 -28 116M196 912q-32 105 -70 201M112 871q-12 110 -28 194M354 779q0 94 25 149M135 778l96 15M225 913q-65 46 -151 65M101 980q-11 12 -40 19M212 979q21 -8 41 -2M263 720l78 77M257 719q-17 81 -50 117M172 991q2 33 41 45M154 1044q-15 26 -39 30M350 804l-84 275M130 1073l-2 83M149 829q-12 141 -32 295"/><path d="M169 1028q-37 36 -98 40M232 775l196 155M235 1114l-31 27M121 772l209 172M190 1110l7 46M340 794l120 146M245 928q-78 82 -155 143M119 1005q25 52 39 138M118 775l125 9M219 920q32 32 76 61M182 879q35 31 81 90M137 928q-23 34 -40 90M281 965q-86 16 -136 41M122 921q43 1 74 -9M208 1025q-49 63 -74 132M333 915l-53 117M198 989q6 30 -6 64M126 1006q-37 3 -92 17M181 847q-33 122 -57 254M34 902q37 56 12 127M221 776l226 147M221 776q-68 128 -130 237M235 1114l-33 25M101 983q47 52 90 105M284 923q-53 92 -81 185M168 991q-3 36 17 55M117 937q-23 22 -73 60M171 914q28 20 99 48M255 715q-77 166 -209 287M255 718l184 117M247 969q-74 65 -137 148M207 1145l-44 -44M121 772l104 12M227 1097l-41 51M428 794q-158 150 -290 293M142 930q41 60 134 120M84 895q96 43 204 104M44 902l-1 89M429 832l-86 -64M183 992q-13 42 6 80M199 917q110 25 236 15M420 798q-143 40 -245 96M171 967q-28 1 -104 -9M432 802l-90 -17M324 778l128 177M199 1059q-3 33 -3 80M251 721l167 94M67 970q83 46 163 58M216 829q-77 37 -171 70M151 1009q-2 30 -9 65M79 851l362 -28M120 872q-10 65 -18 110M218 786l203 148M286 913q-111 93 -210 158M173 802l169 119M182 964q5 57 -36 124M223 1068q-18 28 -26 75M231 795q-29 158 -37 315M171 1054q4 24 -9 49M84 900q60 107 109 244M456 797l-1 163M127 998q-4 5 5 18M214 949q-9 6 -45 13M40 1073l8 -42M98 970q-11 19 -41 33M162 995q-2 49 9 111M45 892q99 38 153 77M130 1151l65 -44M51 992q72 44 97 90M238 791l219 141M230 791l83 -9M335 882q-79 86 -152 205M50 1052l80 99M72 1072l55 79M41 1073q91 25 162 74M45 899l419 -82M120 1062q22 13 37 13M38 900q114 43 193 108M117 934q-6 39 -8 116M156 1146l33 -2M97 1005q-12 5 -46 23M98 942q9 61 25 134M56 996q41 -1 70 -5M91 899q65 23 103 35M71 968q71 45 128 53M53 1061l66 46M124 765l-39 79M90 851q50 20 85 45M224 848q78 51 202 94M159 836q-39 31 -123 62M71 937q34 14 60 31M113 930q17 29 68 74M182 947q14 66 -1 129M142 930q10 57 23 109M127 961q52 18 113 43M69 1017q87 23 182 51M63 934l-30 -39M161 969q-32 31 -46 67M132 898q-30 13 -66 33M259 1047l-20 69M261 931q-29 22 -62 42M178 881q-13 47 1 116M454 923q-119 44 -179 93M141 1013q17 28 45 65M340 790q-45 98 -59 196M162 1035q11 47 4 100M228 786l208 171M195 920q-7 89 -56 168M254 725l55 52M247 986q-67 5 -123 36M86 890q69 22 111 17M119 766l329 32M282 1027l-85 120M228 917q-18 88 -43 158M79 963l-38 110M241 990q-62 4 -113 38M480 818l-198 228M116 1025q-27 -6 -72 8M126 865q-10 35 -16 69M423 794l18 156M187 802q-37 167 -60 345M235 797l87 20M94 1012q40 35 53 88M66 928q80 55 150 101M184 943q-26 32 -77 65M285 1051q-46 23 -54 46M200 986q16 37 33 88M233 1074q-37 10 -70 27M133 780l294 11M254 895q40 41 73 37M308 936q-90 66 -173 112M114 969q0 80 16 169M225 782l200 153M77 1071q61 6 112 1M142 1061q30 14 42 28M194 941q-14 33 -16 64M264 820q-16 125 -39 244M322 817q-120 52 -254 116M44 1034l4 -38M238 983q-64 62 -115 159M102 990q45 45 84 89M373 927l68 16M166 1139l36 1M160 887q14 88 2 209M224 791l240 36M173 878q-29 55 -66 139M122 1043q35 12 81 56M263 862q-25 101 -77 226M267 1016q-22 15 4 57M172 807l276 -12M229 1073l-33 77M89 992q56 52 101 118M457 822l-123 -10M348 791l23 151M79 972q87 55 200 95M308 936q13 16 63 14M188 1019q17 45 45 82M229 862l228 66M182 941q-37 22 -120 23M295 1064q-75 13 -126 27"/><path d="M119 1107l57 -8M198 989q39 -11 79 -2M53 900l3 96M79 963l-8 -26M130 764l34 36M107 1017q51 16 113 29M453 825l-182 248M367 932q-85 101 -164 215M127 981q-14 5 -26 2M236 778l229 61M134 761l53 33M280 1016q-58 11 -106 43M210 1033q-14 33 -26 56M169 796q-37 68 -100 131M131 772l52 41M130 765l186 12M158 889q34 89 71 216M232 775l229 165M128 768q12 69 12 88M110 874q13 27 38 52M176 889q-28 4 -55 49M425 808l-67 -25M243 784l210 145M318 797l14 119M232 1068l-37 75M121 778q46 148 56 251M436 818l-193 225M204 886q-46 33 -77 75M90 854q-7 30 -37 46M133 857q-3 35 11 62M208 912q-43 17 -98 36M299 981q-45 4 -76 33M152 971q0 48 3 70M222 786q-20 176 -22 366M476 793l-56 156M111 906q27 85 31 173M136 763q-12 72 -62 92M292 916l147 -94M144 1021q-35 18 -62 28M106 983q39 38 68 51M332 916l-38 123M247 986q-11 0 -24 28M262 868q-55 53 -118 125M133 898q17 106 34 238M259 966q-42 47 -79 89M263 818q-2 85 -27 194M127 1072q99 -32 189 -51M112 774l54 26M440 785l-81 134M113 870q-2 131 9 269M67 977l5 -49M127 1151l27 -12M133 775l88 5M238 927q-22 67 -42 99M262 871q14 38 28 109M355 905q-83 103 -176 177M243 784l197 157M273 926q-21 29 -29 57M59 993q44 5 83 12M130 1000q-36 10 -86 33M123 776l57 21M237 1100l-36 46M367 912l-87 133M180 895q15 68 38 151M45 908q118 36 220 96M94 894q134 33 257 48M470 788l-141 146M134 761l300 32M125 917q-25 -1 -59 11M311 773q-19 93 -8 150M244 928q-91 81 -206 140M188 1084q75 -44 125 -63M48 1068l80 82M132 1001q32 26 84 39M217 853q-26 125 -50 289M262 894q-27 28 -56 29M110 1074q0 32 10 77M120 775q36 159 15 284M314 862q-57 39 -144 100M448 785l-107 141M170 966q17 52 -13 109M185 1101q-36 -2 -66 21M71 943q66 44 109 86M110 874q2 22 6 38M369 914q-73 86 -116 134M334 932q-116 43 -262 69M68 931l-35 -36M121 1111l47 -11M323 785q-94 113 -161 210M44 1028l13 -25M122 1146l46 -7M84 842l385 -14M82 863q17 16 24 11M129 1151l38 -9M183 1029q20 30 50 45M207 895q-44 -3 -65 35M193 1062q-8 16 -22 35M93 857q78 65 154 120M343 784l-4 135M38 894l393 -69M78 975q17 9 22 7M276 910l156 -130M94 851l358 -32M58 984q83 37 148 48M74 978q53 54 67 101M437 778l-145 281M107 947q6 15 20 53M210 1033q-53 53 -87 109M41 1061l69 44M208 1025q-12 45 -21 84M217 786q-33 155 -75 289M123 1011q31 28 66 61M158 840q-29 71 -91 137M432 788l-6 161M285 912q-97 52 -168 84M61 999q9 11 -17 34M188 793q19 32 54 58M86 901q1 11 -18 30M195 988q24 -5 32 14M177 849q25 4 62 25M228 794q-64 48 -102 55M157 1061q8 11 -9 18M351 918l-94 145M134 931q28 54 76 102M98 1007q35 34 40 76M315 781l-27 285M361 927l82 40M185 890q-40 95 -75 227M107 936q41 66 77 153M120 772l-73 120M282 934q-64 95 -123 214M108 1050q36 -9 60 -9M111 774l305 36M124 765l-50 90M182 879q-56 86 -140 177M223 912q10 46 17 95M139 903q122 29 283 49M298 863q-45 116 -91 283M166 800l271 -22M189 1049q2 25 2 48M44 891q171 39 309 67M313 808q-85 56 -144 117M79 1060q58 15 102 16M425 822l-89 121M422 825l24 102M102 875q65 43 122 70M167 920q87 7 203 -2M46 1065l82 90M211 1023q4 42 26 74M197 914q-48 51 -136 85M144 919q-19 34 -11 74M235 797l187 155M56 968q34 37 52 82M194 947q-35 15 -94 8M146 929q-26 93 -24 229M128 920q109 9 218 4M116 953q74 2 174 46M291 930q-107 31 -195 39M180 1055q23 9 56 7M233 772l132 159"/><path d="M241 843q-4 59 32 132M212 1025q-28 34 -65 52M129 1064l1 83M120 775q80 96 141 156M317 809l129 112M286 1037q-61 33 -96 61M423 794l20 147M38 1061q78 21 109 39M233 843l241 -45M124 847q-9 23 -13 18M459 812l-117 -27M92 968q44 78 62 171M317 809l110 143M434 793l-63 125M203 1058q-59 13 -119 7M110 948q2 19 8 67M433 820l-108 8M309 792l143 139M174 1011q-12 16 -5 17M70 1018q93 -19 168 2M117 921q29 90 50 215M312 923q-119 94 -194 179M174 851q-24 57 -44 102M209 1067q-55 21 -96 50M71 943q68 40 116 71M427 818l6 140M463 784l-28 180M174 913q-20 81 -36 170M130 762l203 11M216 916q-71 90 -176 153M114 769l119 3M140 920q18 56 49 93M435 804l-120 -8M35 897l8 102M319 790q-110 108 -224 198M477 796l-20 163M78 965q21 64 34 106M64 977q7 13 -20 20M94 856q8 71 5 105M223 786l215 159M181 916q-12 84 5 188M193 878q27 12 69 16M262 971q-49 67 -99 172M190 946q21 55 36 87M34 904q53 88 81 169M352 931q-136 42 -304 65M130 770l325 27M426 834l14 107M223 862l209 63M454 779l-27 180M311 782l-44 254M119 760l244 163M471 803q-173 160 -271 343M334 800q-74 35 -130 83M128 768l-83 124M223 850q7 31 43 42M91 851q51 130 85 248M122 1017q-29 24 -75 44M244 1106q-33 4 -51 38M145 1062q-7 20 -27 39M168 1139q89 -84 143 -117M292 1059l-57 55M190 1055q2 14 3 22M238 791l184 167M240 979q-31 47 -71 112M141 908q39 36 92 96M121 772l-37 78M148 836q0 81 1 167M124 1033q-21 13 -42 31M62 989q95 36 201 53M70 1019q25 4 39 31M434 790l-167 287M311 804l-32 259M71 1016q19 24 15 42M39 1063q170 -33 306 -70M168 806q-15 60 -24 119M149 1061q30 21 46 48M167 1142l36 5M418 823l24 120M455 783l-104 27M120 855q28 15 56 34M235 788l235 8M174 788l277 6M200 879q-3 95 4 224M156 874q-14 7 -40 37M220 872q-10 92 14 201M68 931q102 23 201 88M136 963q43 52 132 70M177 813q-23 88 -39 153M228 922q-74 54 -178 108M121 906q39 25 57 56M118 882q36 121 77 266M121 938q39 5 57 34M56 1000q36 49 53 106M101 983q34 40 41 59M174 1001q-56 37 -88 65M84 892q15 61 15 127M44 899l43 -35M99 977q29 12 74 19M245 928q44 42 71 93M273 959q-86 79 -141 184M216 944q-2 60 -4 102M258 722q-56 149 -129 236M188 836q-36 79 -64 160M94 856q-7 42 -32 81M259 1060q-87 35 -129 91M115 942q1 81 22 206M221 781q-50 112 -63 187M230 778q-28 25 -43 24M455 842l-78 95M82 1050q47 26 68 42M130 762q5 91 -13 159M131 964q-8 29 -4 55M140 935q-36 23 -81 62M440 799l-69 119M186 799l161 113M232 918q-16 18 -48 20M228 794l256 7M169 867q29 43 34 112M263 899q44 38 100 30M473 796q-166 151 -243 301M172 800l253 -2M337 920q-104 57 -215 103M71 1022q93 -22 173 -6M114 910q51 10 90 7M50 1031q90 4 162 7M126 870q40 38 71 44M37 885q57 59 88 108M236 840l202 -40M122 1158q21 -42 39 -30M130 765l-57 92M139 1013q-31 26 -54 45M150 972q-40 5 -81 -6M77 851q35 79 73 127M88 857l378 -37M228 922q8 74 50 117M196 966q49 -1 105 7M330 927l-49 128M133 775l306 47M197 1064q14 8 42 12M158 831q-34 79 -108 152M236 1061q41 -26 80 -36M238 1019q-17 6 -26 27M44 1028l4 -32M243 866q-76 -1 -121 -5M237 792q-4 97 27 185M134 955q22 73 50 134M266 955q-43 78 -74 184M301 857q-94 101 -185 204M73 1068l52 73M118 1044q25 24 36 102M280 1032q-71 52 -129 110M270 919q-41 17 -87 18M241 843l232 -36M244 980q-22 35 -34 68M93 964q8 24 9 41M230 850q-38 127 -71 290M170 1001q-16 30 -27 51M266 1016q-97 14 -191 40M60 972q64 50 84 78"/><path d="M277 987l155 -42M169 962q-28 13 -109 25M44 997q46 42 71 77M84 900q6 52 -19 109M307 789q-67 169 -156 355M225 1064q-20 34 -29 86M451 840l-161 211M195 1143l-27 -39M116 772q2 88 -45 165M451 794l-19 131M49 893q117 20 222 16M113 1044q30 8 47 42M154 1096l5 40M124 1101l53 -7M124 847q26 19 55 37M105 1019q30 17 34 33M251 1113l-53 33M113 923q45 58 102 103M166 1005q9 40 58 97M239 975q-32 64 -78 168M356 940l87 -3M79 970q22 17 38 26M215 830q-26 24 -50 66M442 778l-90 142M329 883q-45 27 -74 91M240 868q-32 38 -70 97M221 781l215 182M175 801l266 22M289 1069l-59 44M441 791l-88 129M90 898q61 76 122 127M223 910q-68 50 -164 75M111 1114l22 45M143 1013q-43 1 -95 18M106 880q78 52 174 111M237 792l189 169M303 793l29 123M41 1058l-2 -22M457 822l-179 217M134 929q57 14 143 52M444 923l-165 144M159 836q-18 34 -48 70M288 1066q-76 12 -136 25M142 930q33 5 70 19M60 987l2 -23M91 899q0 43 -31 73M195 988q-44 -1 -125 18M267 965q-24 53 -1 109M116 911q-16 80 -38 152M432 790l0 144M143 990q-19 16 -26 39M295 971q-117 1 -224 -5M112 870q53 40 93 50M231 850q-61 23 -86 55M169 1091l-8 52M332 879q-87 85 -190 194M40 897q42 1 61 0M135 930q22 88 53 223M228 788l203 175M139 1063q-12 9 -55 1M150 1075q26 12 37 34M262 887q4 39 35 53M134 1045q33 12 45 10M219 1028q-34 31 -75 48M183 1025q-6 55 -24 115M224 779l257 19M277 981q-49 38 -77 83M48 996q95 37 177 68M361 953q-56 60 -70 104M241 1007q-23 31 -40 97M327 809q-59 65 -128 108M154 1013q28 16 104 22M444 796l-110 13M179 803l247 -6M142 930q-27 29 -45 75M82 1062q58 32 107 82M320 802q-1 36 3 86M276 988q-25 26 10 49M233 782l207 159M124 765q55 23 102 8M469 804l-140 8M104 951q8 77 30 206M143 990q25 31 76 38M437 945l-172 112M224 784l116 6M240 874q-73 64 -115 168M267 1040l-65 103M202 1062q8 5 31 3M173 919q-13 82 -11 184M168 1142l27 6M230 799l106 141M133 775l49 28M159 977q-33 17 -52 31M114 769l368 32M222 871q-64 118 -102 280M230 791l216 130M250 926q-37 67 -78 99M191 837q79 61 150 113M226 1115l-31 30M221 850q-57 29 -87 79M104 931q-4 68 -14 140M177 923q9 70 74 145M183 888q-51 43 -127 112M459 803l-122 -5M71 937l-24 -45M341 950q-43 12 -87 22M118 775q40 60 55 123M179 1055q7 40 9 98M151 1144l44 1M84 1065q22 36 51 81M112 1113l62 -8M40 1058l77 58M69 1023q41 -8 83 1M355 924q-146 87 -326 140M191 1113l5 26M134 761l193 48M80 850q5 95 -30 181M350 794q-139 97 -280 164M79 970q23 17 39 26M178 962q12 47 -16 83M220 867q4 42 29 110M41 1073l-2 -37M209 890q-1 89 28 219M196 836q-45 145 -74 322M453 801l-5 145M277 1077l-75 63M192 1053q-15 18 -44 31M230 1004q18 -9 47 17M265 820q-66 51 -153 118M46 1065q95 11 183 12M48 1031l14 -42M121 772l207 11M158 833q-28 84 -88 173M265 817q-12 75 -60 156M219 845q-65 128 -109 275M222 784q-18 99 -48 179M457 839l-96 78M89 853q16 76 25 119M76 1071q57 11 93 20M271 984l172 -45M128 976q62 9 153 34M59 997q28 40 30 68M240 997q16 -22 48 -27M326 780q-131 159 -279 289M232 775q35 30 98 23M331 886q-135 82 -284 183M74 1010q87 28 189 61M247 871q-80 1 -130 9M186 1079q-37 20 -67 67M442 793l-7 153M156 979q-25 6 -32 2M166 800l308 -2M147 932q-18 17 -2 33M330 794l130 155M107 1017q37 14 62 20M64 1004q76 19 135 17M115 942q-20 27 -64 86M221 780l212 174M152 824q19 28 23 72M118 775q155 105 306 173"/><path d="M47 997q49 -1 86 -3M295 971q-65 58 -105 139M243 784l200 155M435 825l-80 85M197 1057q-46 24 -81 43M225 781l200 142M177 876q35 21 70 48M81 861q30 68 62 104M43 897q45 43 55 73M279 914l151 -93M106 880q10 24 28 51M240 778l181 165M199 834q-37 87 -53 186M492 793l-151 8M64 962l0 -26M110 1120q4 4 21 38M183 891q5 80 6 188M301 985q-54 32 -54 66M127 981q25 41 50 60M278 1039q-66 43 -114 93M354 915q-48 35 -84 47M107 936q6 33 17 98M130 1000q25 20 55 15M39 1059l89 52M365 956q-52 20 -84 59M267 1030q-93 58 -139 126M215 1026q13 16 55 4M454 829q-152 59 -261 119M237 849l197 -56M254 926q-32 90 -53 182M138 1083l23 60M143 907q23 75 70 141M288 971q-70 47 -135 97M121 1107l49 2M230 790l134 125M169 993q1 50 32 111M298 915q-103 41 -167 49M71 973l-7 -37M239 847l228 -41M462 789l-85 145M212 823q7 78 27 169M453 825l-133 -23M453 798q-158 20 -243 26M306 785q-11 23 -37 35M371 946q-130 96 -243 210M320 790l60 141M218 786l127 127M141 780l294 29M139 1088l11 49M350 804l2 116M152 1079q30 4 51 15M69 933q37 16 67 30M201 922q12 91 23 180M272 1034l-76 119M102 1005q78 -7 167 24M118 1015q-9 39 -8 95M177 849q-25 69 -44 144M232 1022q-20 14 -45 61M242 973q-38 47 -95 101M195 1028q-67 32 -162 26M227 844q-78 77 -156 163M128 976q41 64 111 136M312 860q-103 52 -212 110M325 925q-28 43 -61 94M158 891q62 7 136 19M206 921q-21 45 -23 74M145 1052q57 5 121 -6M56 1000q54 -1 108 -1M60 996q35 10 56 29M218 854l236 -47M178 801l285 4M219 949q-70 63 -169 107M242 973q-30 49 -63 109M208 921q-4 89 -24 168M140 958q-16 18 -20 19M262 713l70 95M170 809q-12 57 -6 112M134 956q-33 32 -73 57M178 897q39 -1 88 2M464 813q-216 45 -373 86M234 916q2 77 40 119M243 866q-97 8 -198 28M218 786l224 7M179 884q4 73 -5 150M199 877q-60 54 -136 133M68 931q92 14 162 54M484 801l-151 -28M119 766l184 24M45 892q93 84 167 146M121 1033q-28 15 -74 37M71 1022q28 23 48 47M187 945q28 75 55 159M111 1114l66 -20M290 968l199 -143M260 961q-80 66 -139 140M122 1078l9 80M227 866q-58 61 -84 143M159 836q24 12 44 38M116 768l213 28M454 770l-93 157M240 970q-84 11 -194 32M111 1071l3 74M270 977q-39 32 -52 55M173 1054q15 23 26 47M167 1040q-45 28 -127 33M231 852q-77 8 -144 4M97 953q-13 38 -47 71M124 1060q28 25 67 53M148 924q-36 35 -68 87M223 912q-11 111 -28 236M44 904q53 12 95 36M324 933q-21 21 -35 27M291 900q-104 115 -174 216M204 1149l-34 -46M201 922q81 21 132 7M278 939q-62 72 -124 138M247 977q-27 53 -45 131M166 922q40 20 135 63M432 788l-3 167M135 849q-38 96 -96 187M115 1036q35 3 68 10M43 991l28 -25M34 904q179 20 318 16M134 956q-22 32 -43 57M230 778q74 102 195 166M446 927q-154 85 -285 149M121 1144l40 -16M120 781q54 18 97 5M115 1073l4 84M185 1015q-4 49 -18 89M283 929q-27 71 12 116M147 936q10 62 30 138M130 770q8 80 -2 133M225 781l101 8M235 1109l-40 34M168 801l164 149M152 967q-1 54 -4 83M46 894q42 7 65 12M227 921q14 11 32 3M192 1013q37 30 103 32M250 718l181 117M358 783l75 171M328 874q-95 50 -154 125M128 1028q25 26 53 81M125 911q26 71 52 130M221 776l212 54M114 972q-23 60 -68 99M168 900q20 90 34 240M109 943q45 -2 61 19M231 1108l-24 38M144 919q-48 73 -108 140M48 1030q83 7 133 15M102 993q14 1 34 -1M32 1053l1 -24M458 836l-153 -31M171 1048q-3 17 -29 25M118 781l310 13M133 1049q54 25 103 48M129 959q57 11 136 12M110 948q35 63 60 161"/><path d="M455 934q-161 98 -297 209M142 967q-33 26 -65 49M111 1113l8 44M107 917q63 4 120 -2M132 852q-6 81 15 138M47 1069l39 -9M186 800l267 25M124 775l-35 78M106 937q-9 14 -39 33M212 972q20 -2 36 10M84 895q36 53 90 104M138 898q-19 47 -20 87M224 791l240 171M147 1060q27 15 37 29M332 879q-63 33 -138 106M229 792l211 166M247 977q-73 10 -145 38M247 924q-20 91 -21 183M285 933q-63 64 -116 99M241 923q-32 102 -73 219M452 942q-149 70 -258 119M69 936l-20 -43M260 957q-54 62 -122 130M270 919q-45 107 -71 231M47 1070l-3 -42M207 836q-1 45 -10 71M63 934q32 15 39 30M76 1071q62 8 114 11M190 841q-32 34 -50 79M133 775l194 43M130 1147l65 -38M212 949q-26 26 -31 51M46 894l418 -105M44 899q37 43 27 74M222 1029q-29 32 -59 52M58 984l13 -18M344 923q-64 75 -126 109M226 773q-29 45 -49 76M176 803l167 153M124 863q34 104 79 171M196 912q40 12 81 -2M64 931q43 17 81 34M426 961l-160 98M233 772q33 29 93 17M181 812q11 10 27 10M266 933q-52 82 -104 164M288 999q-50 37 -62 108M176 895q-42 43 -106 124M117 759l-33 91M69 936q87 2 148 20M188 793q-57 63 -143 108M61 1013q35 38 57 88M363 955q-84 73 -166 153M464 839l-23 111M158 834q-29 42 -89 99M70 958q13 33 4 62M186 1104q-35 4 -59 47M247 992q-71 59 -128 165M171 914q13 18 46 42M174 1011q-49 44 -64 108M169 962q21 64 2 144M81 847q21 88 31 152M138 925q45 2 106 3M68 931q38 30 72 79M57 971l3 -42M174 850q5 129 -9 300M377 934q11 23 43 31M139 1013q-20 49 -16 129M313 933q-113 38 -183 67M203 884q0 18 -15 49M92 966q52 63 94 113M136 963q-17 41 -28 87M102 894q45 91 82 177M65 962q33 36 57 73M134 849q-12 47 -13 89M242 1004q-38 25 -92 73M182 803l151 120M193 1017q-17 41 -49 68M130 862q62 58 157 101M114 1079l8 60M177 917q-16 82 -15 179M41 1058l44 0M36 1059l72 50M185 1059q8 23 16 51M162 1103l-10 47M340 920l106 10M220 952q-54 16 -120 18M223 1064q-65 19 -108 39M178 962q28 8 29 28M122 1158l70 -53M43 999q44 15 69 46M432 835l-96 104M470 788l-155 27M236 778q-7 91 15 140M136 963q21 84 50 185M231 793l204 143M138 965q34 72 101 147M231 834q-91 31 -194 59M112 971q24 50 23 77M129 959q33 11 48 13M165 915q26 22 81 59M168 801l211 127M216 944q32 22 75 53M455 808q-110 26 -193 63M123 1011q-11 33 -9 68M189 837q103 58 235 104M196 1152l-32 -54M428 789l-82 127M183 937q22 95 27 219M159 1079l-8 61M438 800l-110 15M121 906q-22 41 -62 79M123 757l353 36M233 783l193 157M110 1110l53 -9M334 800q-43 76 -61 132M330 798l0 146M220 948q-72 67 -176 122M262 955q32 23 54 70M247 977q-40 50 -93 119M221 777l226 56M242 973q-75 12 -160 41M117 880q47 46 79 86M220 782l207 177M214 1039q65 -18 132 -42M189 1019q26 -1 53 2M203 890q-3 70 9 148M421 791l22 148M93 857q-6 86 -47 163M90 861q13 131 24 253M447 936q-157 78 -295 140M190 841q-9 114 -35 228M228 1009q-77 -8 -191 24M90 1057l23 98M238 1066q-77 23 -127 54M460 956q-208 16 -389 12M37 893l43 -43M74 978q86 7 152 29M224 784l222 137M333 804l9 120M240 1007q-38 22 -98 66M462 797q-221 67 -393 136M445 784l-140 0M136 1151l23 -15M114 942q40 43 84 79M120 1151l79 -43M45 894l2 94M118 882q-9 114 -8 228M137 770q-7 78 -44 126M259 926q-38 79 -65 140M82 889q93 53 189 127M183 937q-29 31 -89 50M203 874q99 26 243 47M226 773q67 33 205 32M475 784q-218 59 -359 87M190 841q-58 74 -143 147M275 977q-102 11 -205 41M168 1095l-9 41M361 935l81 8M70 958l-24 113"/><path d="M217 957q-66 29 -167 74M109 1106l14 50M234 916q-15 74 -23 109M423 796l30 145M445 800l-109 5M159 840q42 54 66 106M138 1079q49 -7 94 -17M192 1013q-2 30 -7 33M269 820q-21 10 -45 23M426 815l-93 100M262 887q-105 110 -228 179M324 778l18 169M243 1010q-26 42 -47 143M228 794l115 6M286 1052q-72 36 -127 84M275 1051l-51 68M312 860q-42 37 -92 90M357 913l75 12M445 800l-124 -2M181 812q-34 148 -58 292M71 966l-24 88M260 959q-100 25 -220 65M175 1006q-19 32 -32 67M146 841q-6 15 -26 12M429 788l-175 261M125 1141l60 -34M112 773l56 33M187 877q21 82 72 170M94 886q17 11 34 17M93 979q10 20 14 43M118 918q58 29 121 90M237 1022q-23 13 -47 60M455 972q-67 8 -112 23M89 1065q54 20 104 41M118 775l197 31M266 1045q-102 21 -175 13M424 822l20 119M421 938l-159 127M116 772l112 16M116 949q25 55 32 135M35 897q95 75 154 122M166 800q24 86 11 159M324 933q-88 31 -177 28M445 774q-179 78 -271 139M229 1105l-19 51M90 854q-4 83 -47 148M162 977q16 0 42 1M45 1024q88 28 147 81M141 1000q-47 11 -106 34M217 786q-28 33 -54 52M235 788q-72 154 -110 275M266 955q-98 15 -205 22M101 897q17 42 47 69M124 847q-22 80 -57 123M51 993q24 41 2 68M170 927q29 22 102 78M108 934q-12 14 -45 27M122 1017q-8 51 0 141M112 973q64 55 167 95M296 932q-74 97 -137 216M142 1042q-2 48 -14 106M146 1083q-3 20 -12 74M445 784l9 158M231 911q-20 93 -45 167M41 990l20 -13M135 777l309 34M314 799q-103 67 -208 140M427 792l-58 122M174 999q-59 41 -98 77M178 1008q-19 31 -26 68M212 1038q-16 29 -29 49M218 1027q-34 31 -76 48M132 907q23 87 52 182M227 1119l-31 20M198 915q33 84 92 143M429 786l-88 126M83 849q48 126 64 228M439 835l-105 -26M289 1069q-71 26 -122 69M116 768l310 66M431 826l-54 79M440 792l-89 150M258 974q-78 18 -142 62M112 976q45 51 98 88M86 890q73 42 126 89M85 844q-4 128 -46 215M286 1000q-116 -4 -235 25M181 847q-28 26 -49 60M250 926q-74 107 -131 231M133 769l103 9M80 849q4 46 -14 86M195 882q24 31 60 94M158 889q-11 2 -23 41M226 1007q-4 23 3 70M47 1061l75 97M214 833q3 4 31 11M448 794l-128 -10M51 897q51 11 97 27M324 795q-40 78 -65 131M245 852q-28 56 -46 134M232 913q-72 57 -163 104M321 798q-8 32 -16 71M187 884q-31 -2 -50 18M177 890q89 14 162 29M152 937q-34 76 -42 180M446 772l-101 162M56 1000q104 34 223 63M141 921q-31 27 -62 52M224 1043q-37 21 -80 33M116 851q28 17 49 35M228 1110l-40 43M41 990l35 -24M149 1061q21 33 21 82M192 888q20 81 74 186M249 857q-76 16 -112 42M235 797l100 -21M174 999q-7 20 11 14M287 963q-47 61 -54 138M62 965l-5 -27M181 1004q20 -9 87 12M142 1051q35 41 56 95M182 964q-20 9 -57 14M474 816l-132 120M254 1049l-10 57M241 858q-90 105 -164 213M312 789l15 143M231 1008q-59 44 -110 136M42 1031q112 14 229 42M216 831q-81 92 -183 198M425 935q-120 89 -197 177M33 895q67 47 120 82M417 817l-76 -6M159 960q8 72 43 138M204 1107l-8 45M174 851q-51 110 -132 219M59 985q37 15 63 32M68 931q28 28 34 74M162 1096l-8 43M162 977q-45 18 -82 34M336 943q-56 84 -110 172M171 810l291 1M79 852q54 144 80 299M163 1002q-42 37 -53 67M442 822l-119 -37M141 905q33 34 68 87M136 930q-30 16 -66 28M156 1089l9 50M142 1079q37 9 61 29M235 782l106 124M102 937q15 25 41 72M237 984q-33 31 -83 63M230 790l229 -15M162 998q35 -3 111 27M116 871q70 44 163 66M151 1035q13 50 0 108M79 887q87 54 165 129M221 945q14 17 26 41M442 822l-66 108M173 996q-46 63 -54 150M174 851q53 52 130 117"/><path d="M136 1060q26 34 27 83M201 989q-18 -5 -19 5M330 886q6 22 7 62M165 993q4 64 37 162M38 1026l15 -38M186 800l177 129M134 761l206 187M72 968q20 23 25 40M122 765l305 26M114 872q-18 31 -48 63M209 822q-27 9 -57 16M235 782l107 7M220 948q-57 23 -130 40M152 971q0 57 1 103M148 1050q44 14 86 19M152 834q58 63 112 131M122 1017q32 32 68 87M190 946q34 56 84 89M42 1056q31 12 40 4M228 1110l-32 42M100 982q-15 22 -52 49M91 851q1 90 -28 166M181 1076q-3 9 -18 25M305 784q-51 162 -101 319M160 891q60 8 133 24M157 838q-17 93 -46 212M301 873q-38 101 -62 243M184 1070q-37 15 -70 32M122 1078q21 22 37 70M106 1105l62 -1M332 950l109 -8M106 869q35 127 52 266M130 770l302 18M91 1086l37 70M126 991q52 35 147 55M177 1074q8 12 8 33M294 997l163 -158M307 789q-51 28 -92 41M177 1001q-14 35 -10 70M233 797q6 96 55 189M128 992q39 49 104 106M201 922q-50 5 -134 7M141 898q-12 39 7 61M91 888q-7 68 -56 146M441 819q-150 123 -237 237M146 1020q-48 -2 -107 16M158 833q-3 76 5 143M266 899q-40 40 -90 65M420 949q-120 59 -204 91M177 813q-8 16 -31 28M224 1043q-65 39 -107 75M225 784l87 14M353 951q-65 13 -149 27M231 834l191 -9M182 869q28 51 53 145M69 974q62 75 92 172M437 778l-17 187M205 973q-6 34 -37 56M258 721l180 90M121 1052q23 1 36 29M222 789l216 31M417 817l30 119M239 932q14 4 42 -8M152 958q-27 44 -41 92M240 874q-6 49 24 145M216 782l220 175M240 920q-58 43 -101 67M152 1024q9 3 33 -9M164 978q-5 73 1 169M96 958q85 22 182 50M440 785l17 147M111 774l203 17M291 918q-103 101 -170 196M67 970q29 61 46 101M280 1008q-46 20 -60 61M45 908q147 -32 261 -40M112 1071q49 4 126 -5M175 801q-20 100 -29 179M448 794l-4 147M110 1119l10 33M431 829q-171 39 -262 90M196 986q-46 -7 -129 -9M311 804q-51 128 -92 230M464 817l-4 128M280 993q-75 -7 -97 2M254 895q1 29 19 31M214 833q-54 22 -89 23M195 920q-31 8 -78 17M119 916q-7 78 0 153M48 891q100 25 160 29M148 959q1 62 -1 101M240 987q6 -1 21 23M455 783l-94 160M237 792l97 20M437 802q-189 164 -310 345M243 866l210 84M201 984q11 24 18 38M231 795l105 148M251 1113l-56 30M235 997q-23 22 -50 49M197 1064q30 5 90 3M117 991q-21 11 -53 27M170 966q39 4 56 21M126 1113l36 -17M45 892l392 -114M223 1068l-25 78M337 808q-47 93 -71 208M45 908q75 82 98 165M222 789l226 157M220 950q-10 72 -26 155M333 915l-47 122M250 926q-76 83 -139 145M348 819q-74 73 -149 151M56 998q32 2 45 6M118 875q0 59 16 93M288 995l174 -157M234 852q-75 72 -133 158M441 967q-121 5 -208 23M266 900q4 46 37 84M113 1071q38 14 86 30M334 940q-101 99 -197 208M368 913l60 37M341 925l105 2M197 936q-18 33 -25 55M170 962q28 74 30 184M39 1059l37 12M258 899q-80 59 -152 89M371 927q-85 26 -194 32M473 807l-122 126M185 877q15 27 11 69M225 949q-21 69 -59 144M263 862q-21 95 -60 205M453 834l-16 111M79 851q18 74 16 109M263 720q-16 135 -77 216M169 793l206 135M74 855q69 17 132 40M313 867q-49 20 -116 40M464 951q-212 -12 -397 -22M441 795l-80 132M326 940l128 2M436 818l14 145M127 1074q-9 18 1 37M313 933l125 -142M266 817q-42 124 -134 234M214 863q40 -18 87 -6M139 957q-17 25 -21 39M125 917q19 75 28 157M171 885q26 33 27 106M72 928q99 25 197 91M313 867q-70 90 -156 194M205 920q-50 83 -120 133M445 774l-126 19M69 939q31 60 57 126M37 893q130 37 250 78M116 851q-18 47 -47 90M169 793q-30 103 -75 176M275 977l180 -5M43 1049l47 22M432 829l-86 111"/><path d="M214 833q0 51 6 87M166 1027q-3 34 -30 57M68 1008q61 24 84 41M266 860q56 41 83 89M320 790q-73 157 -158 313M121 977q-21 20 -51 41M467 806l-162 -1M177 849q-33 28 -72 70M105 913q-9 5 -30 24M228 860q-26 111 -33 247M44 904q128 14 254 11M228 866q-66 120 -100 280M311 773q44 25 124 31M435 826l0 120M75 937q34 21 69 56M186 1006q-18 38 -9 88M317 809l60 96M257 861q-10 36 -65 87M228 786l204 139M229 792l190 145M240 778l169 163M134 955q-2 14 14 4M141 991q7 44 9 86M455 781l-96 127M61 966l-20 92M125 978q-6 25 -4 55M120 775l251 164M425 808q-61 77 -79 132M218 823q-54 43 -83 85M334 808l-8 122M54 1005q28 37 22 71M56 968l-15 90M127 769l52 26M193 1059q1 22 2 50M72 1060l63 86M106 880q31 103 38 196M116 985q25 49 32 94M458 811l-15 121M274 1008q-21 14 21 37M115 993q27 33 39 51M101 898q35 93 44 190M148 1066q-29 6 -100 -7M163 882q85 -24 168 4M124 1060q26 18 59 27M177 923q-45 35 -51 83M121 1040q28 16 50 65M247 934q7 23 30 47M128 1066q18 31 37 84M115 1031q42 3 95 2M121 977q21 52 28 94M170 966q-13 26 -52 80M263 862q-13 24 -66 45M171 967q34 48 54 97M360 957q-62 16 -128 48M202 1112l-8 34M169 793q34 106 54 221M233 1063q-8 19 11 43M174 851q40 39 85 73M67 962q103 16 203 36M193 1017q-39 66 -65 131M377 944l79 -16M88 970q14 73 25 147M195 1109l15 47M218 911q79 30 155 21M166 1135l38 14M452 955l-171 127M247 992q-38 29 -84 67M152 826q26 130 31 261M182 972q-35 13 -111 44M423 796l29 146M464 808l-21 131M226 1115l-31 30M453 807q-86 73 -124 117M121 1111l42 -10M263 862q11 56 19 160M174 851q-15 63 -13 127M122 1023q-4 2 -1 29M244 992q-87 33 -191 69M462 828l-128 -16M259 978q-77 68 -130 173M217 849q-31 104 -67 204M353 926q-77 86 -160 151M460 817l-177 244M363 955l72 -19M74 978q23 55 36 91M185 800l157 147M442 837l19 103M201 1064q-24 12 -62 24M295 992l156 -27M439 834l-64 92M121 938q-27 21 -77 61M132 852q-34 32 -79 48M268 898q2 48 33 87M127 768l223 36M293 1049q-65 24 -99 46M40 1024q52 20 85 39M47 892q81 82 122 140M186 799l183 134M276 973l168 -32M286 977l162 -161M251 853q-96 30 -182 86M281 924q-93 104 -149 218M239 867q-42 82 -74 156M280 1032l-78 107M139 903q-23 13 -41 39M133 769l89 20M214 863q-65 0 -127 -7M369 933q-131 84 -248 142M180 847q11 12 27 48M94 986q-11 2 -44 -3M36 898q89 84 135 156M434 934l-169 124M169 885q-24 55 -55 150M260 978q-93 10 -196 40M47 892q55 58 96 117M420 810q-180 135 -304 251M88 957q73 78 163 156M37 1067q40 4 62 -9M148 980q-26 75 -23 169M304 918q-28 35 -21 68M48 891l2 92M266 908l216 -107M38 1026q41 18 44 36M301 923q-21 29 -6 55M233 1019q-9 22 -4 86M148 993q10 36 32 62M159 878q33 24 33 60M130 779q20 76 44 134M256 927q8 24 41 44M136 1058q56 20 110 43M232 877q-85 12 -170 60M125 993q33 63 75 159M42 1056l67 49M353 941q1 29 -6 55M86 853q70 67 113 120M206 895q-45 35 -68 94M147 961q-28 68 -33 111M124 847q29 125 60 223M59 997q82 58 148 149M348 791q-74 37 -109 76M118 1046q-2 26 17 100M230 791l208 158M222 786l215 159M312 770l12 163M279 930q-48 66 -68 102M169 913q-18 71 -36 136M466 839l-147 -52M81 1001q30 3 62 12M409 941l-159 110M271 909q-36 42 -73 82M191 939q-3 64 -48 107M443 832q-122 53 -169 101M177 890q-42 31 -106 72M137 770l332 34M118 1050q24 -1 35 18M172 807l189 146M216 1024q0 33 18 51M174 963q-18 67 -53 144M230 790l241 11M285 914q-19 34 -12 61"/><path d="M469 804l-110 107M65 972l-28 95M221 777l202 19M239 783l170 158M158 891q48 12 86 37M194 917q114 30 243 32M282 1022q-45 9 -54 45M433 814l-99 -16M136 920q19 66 45 129M364 915l83 27M144 934q-23 -7 -35 9M136 932q-41 63 -94 124M440 785l-98 139M294 997q-75 34 -142 94M183 1017q20 51 47 96M364 918l65 37M225 849l203 -60M102 1005q46 54 86 146M296 932q43 15 151 4M315 815q-51 141 -84 293M39 1059l55 -1M132 963q-15 63 -8 97M225 946q-47 25 -86 41M130 770l46 19M230 778l229 150M44 1028l18 -41M71 937q37 24 71 67M110 1120l22 22M220 1034q-59 54 -92 116M108 875q-15 76 -58 155M176 870q37 88 109 181M77 1073l45 73M447 827l6 102M180 795q-35 70 -76 136M211 977q-6 48 -28 113M250 718l100 76M117 761q41 62 56 116M117 937q4 13 26 26M306 981l121 -190M477 795l-158 -5M267 964q-98 18 -204 46M58 984q34 7 54 9M237 869l208 83M265 869q-85 63 -221 164M443 794l7 136M262 887q-30 50 -63 85M243 861l185 -26M332 879q-40 42 -52 136M128 768l175 22M128 976q24 60 50 121M228 794q-30 18 -51 19M41 908q122 39 227 108M116 953q-16 16 -47 64M137 902q-12 47 1 93M152 1024q-29 42 -25 123M132 963q22 58 48 92M222 947q-12 59 -33 102M221 857l198 80M229 851q-41 110 -85 231M214 833q-82 122 -180 233M330 877q-61 15 -130 36M232 1062l-32 90M210 1064q4 8 27 12M108 1109l11 37M209 890q-39 39 -44 103M62 928q38 38 60 103M241 858l181 -33M182 972q19 55 17 129M295 1045q-79 20 -138 30M276 973l167 -173M202 977q-37 67 -75 168M225 946q11 53 57 81M130 848q-35 35 -82 52M221 781l134 161M202 914q24 80 66 125M432 829l-96 -24M146 1012q14 13 43 7M263 969q4 -4 34 2M64 977q31 12 51 19M65 972q28 22 42 42M168 1104l2 39M453 801l-44 140M234 1096l-34 50M232 870q-84 16 -168 61M231 793q-25 44 -33 90M248 847q-4 62 46 150M117 921q-1 39 8 95M250 930q-61 39 -97 67M173 852q13 -13 24 -20M375 928q-141 35 -287 35M77 1016q20 -4 30 6M178 962q23 48 23 89M133 852q50 56 116 79M75 930q18 68 19 140M49 893l27 -43M370 918l63 36M333 793q-127 98 -262 169M257 719l73 74M422 825l3 98M207 836q-5 56 -25 109M171 1097l-3 42M117 761l-72 147M354 953l100 -11M177 959q-14 20 -43 44M76 929q28 34 46 90M420 965l-166 78M45 894q56 56 97 113M148 993q22 49 76 109M223 786l232 177M134 761l196 23M307 983q-134 41 -259 85M41 908q56 42 91 87M90 854q13 95 16 189M44 899l4 97M75 1021q6 20 -24 34M47 998q53 2 98 8M185 877q-20 7 -12 42M224 791q-12 38 -1 71M464 789l-130 11M126 765l245 183M274 902q-48 96 -78 163M119 760q9 81 -13 120M57 971l11 -38M137 851q-30 88 -63 159M109 1105l18 42M278 939q-51 81 -84 171M217 786l204 148M330 793q-80 18 -160 9M120 1117l-1 40M434 790l-106 25M188 1026q2 26 2 33M425 817l19 106M364 918l70 16M260 985q-92 35 -181 67M62 937q24 25 11 70M197 921q-44 38 -122 48M336 883q-40 33 -45 114M122 758l222 28M336 883q-73 25 -166 82M125 773l-92 122M46 1071l84 76M50 1035l9 -38M112 774q55 147 73 241M181 812l179 145M244 1099q-79 0 -127 25M41 908q99 17 146 27M217 822q-26 135 -49 273M241 858q-23 33 -36 62M426 797l-101 -21M69 966q74 58 132 98M342 776q-94 39 -191 58M112 983q-14 13 -38 27M121 1161l70 -48M46 1071l79 68M87 864q53 102 89 168M337 940q-28 18 -42 27M101 935q71 51 175 98M435 836q-182 69 -297 130M111 1113l16 32M44 891l414 -55"/><path d="M121 1040q30 15 58 63M112 917q-24 75 -74 144M246 930q-34 74 -72 129M88 963q3 27 -8 48M172 788l258 42M369 933l50 14M212 949q8 64 25 125M46 904q66 45 137 88M199 834q-58 84 -129 172M148 963q-39 65 -68 106M116 970q40 77 86 173M171 1048q20 13 37 14M305 796l-8 259M207 836q11 72 33 168M140 958q43 68 137 119M301 873q61 32 159 76M46 1002q77 31 109 59M79 970q59 65 97 129M133 780l209 1M179 846q10 99 16 182M116 953q-1 14 7 58M373 927q-69 39 -130 83M177 876q-29 13 -60 61M137 965q11 68 17 131M153 977q-30 78 -26 174M65 1009q65 18 96 21M437 808l-103 124M120 775l224 11M258 955q-70 26 -116 59M112 773l331 59M169 1028q5 41 -7 75M344 811l15 108M168 1011q-44 44 -55 106M322 817l51 101M233 782l224 177M182 945q53 18 104 43M433 782l9 161M155 961q-11 22 7 34M115 916q6 -1 22 9M35 897l39 -37M39 1063l69 46M253 978q-36 26 -66 33M118 775l-38 74M208 833q15 46 47 66M371 946l89 -1M127 853q-21 28 -46 38M118 766l201 36M214 1039q-25 42 -53 89M215 1040q-25 31 -52 60M283 910q-70 94 -141 169M141 973q-24 14 -40 20M257 895q-67 55 -105 67M188 933q5 91 -27 195M122 861q14 31 52 54M145 926q-17 34 -4 87M98 942q0 22 -18 69M236 865l232 -35M236 875q-21 21 -37 46M453 951q-136 76 -208 157M240 990q-31 52 -73 148M169 877q-29 102 -61 232M143 907q17 89 48 190M135 767l-50 77M174 788l205 141M302 862q-55 89 -120 184M220 1046q-25 12 -47 8M91 960q74 65 171 114M431 814l-106 -38M321 794q-52 32 -74 63M352 931q-92 84 -214 152M247 857q-11 46 17 107M226 925q-20 91 -56 184M167 1107l-8 41M304 910q-112 96 -183 165M180 1087q0 1 -12 13M137 770l94 13M202 914q-4 95 -36 179M214 833q-68 24 -139 30M230 985q-26 44 -68 111M191 1012q2 54 3 98M265 869q-65 59 -147 150M130 953q31 69 79 114M444 774l-102 11M441 823l-102 113M281 986q-104 3 -201 28M223 862q-76 53 -152 106M194 841q-45 42 -90 110M236 778l215 -1M418 795l-105 13M233 772q0 90 33 128M171 885q-38 82 -91 172M171 964q-18 65 -58 141M425 798l-102 -13M33 900l43 -50M148 966q13 68 42 132M91 1073l36 74M120 1062q-5 39 5 87M117 776l215 -3M173 920q-40 35 -43 80M176 990q-14 64 -11 157M409 941q-100 23 -183 46M225 782l210 168M250 915q-46 85 -110 147M117 759l108 21M278 1008q-91 25 -148 65M293 931l188 -135M159 878q-33 12 -102 60M442 796l-127 10M275 1033q-103 56 -162 122M147 990q-26 12 -42 29M221 945q-3 13 -22 28M311 862q49 35 132 68M89 853l328 -36M117 759l104 21M128 768q-1 68 -39 85M186 799q21 75 35 116M152 1024q-3 20 -11 55M54 1005q75 51 114 134M118 781l343 54M240 778q12 33 27 39M201 878q-5 84 -2 181M198 916q95 29 179 27M189 836q20 51 37 90M118 766l253 152M140 1062q27 16 31 34M433 823l-113 -33M134 994q27 40 68 77M52 1056l58 63M131 964q-19 75 -25 141M144 993q12 33 33 48M350 794l0 144M179 884q-32 107 -57 262M406 790l-45 163M48 900q29 46 5 88M156 1053q-37 16 -115 8M211 977q1 63 -4 168M416 808l-97 -15M121 1114l2 28M245 975q-68 6 -129 22M46 1002l28 -24M109 943q6 18 21 57M230 790l189 147M86 901q24 47 48 93M260 716q-4 140 -39 229M72 928q65 59 106 114M92 957q-2 27 -20 44M48 1031l-1 -33M456 949q-192 94 -328 207M173 877q5 96 -10 224M170 884q-35 39 -92 91M122 937q111 15 218 55M273 1025q-111 7 -231 31M342 785l101 150M272 978l217 -153M281 908q-105 47 -206 61M118 766q72 101 108 159M416 808l-163 263M176 803q-30 49 -63 74M212 1038q-12 36 -17 69M75 937q81 6 136 37"/><path d="M189 1017q0 42 -3 71M330 784q-77 47 -151 101M323 783q-79 144 -172 252M295 971l156 -177M249 1063q-54 10 -105 19M416 801l-74 146M197 1147l-34 -47M128 768q7 92 -9 172M179 924q-61 32 -107 77M32 900q138 18 272 19M71 966q19 63 16 101M303 862q-40 44 -99 116M208 822q-69 82 -152 146M189 1019q-35 67 -55 138M121 772l297 23M112 1045q36 7 68 42M205 973q-2 50 -23 111M434 790l-108 140M137 965q2 23 29 40M140 973q-8 20 3 36M182 947q42 68 99 135M225 780q-69 174 -115 337M163 971q-38 70 -42 136M37 885q49 54 59 93M355 950l86 -8M205 984q-46 6 -115 36M204 917q2 97 -9 190M444 800l-83 143M178 799q-25 107 -41 200M182 1046q11 26 21 48M123 776l46 20M78 965q29 22 55 38M175 896q47 18 111 69M44 1034l17 -35M40 897l47 -33M166 1028q-19 60 -35 130M165 1023q21 46 37 85M380 931q-149 82 -298 133M44 904q25 86 -7 163M339 936l83 12M116 912q3 31 22 53M183 813l180 127M139 903q-5 12 10 34M173 852q48 44 112 93M134 929q-36 27 -89 64M111 1113q2 6 17 35M130 1147l35 3M177 956q51 21 94 62M32 1053q42 19 65 21M143 990q15 40 42 69M474 816l-142 -8M192 1053q3 44 7 105M115 776q69 90 93 133M182 1046q11 45 22 103M176 912q-51 91 -66 193M280 1075l-87 63M244 925q-88 80 -194 131M142 994q-15 9 -16 24M222 947q-10 85 -24 199M143 938q-25 76 -26 180M288 1047l-88 105M110 1120q111 -66 206 -95M440 799l-128 -10M35 897l400 -113M167 920q-64 73 -128 140M107 917q51 12 77 26M275 977l165 -36M244 987q7 -14 27 -12M170 1103l-5 36M87 853q-4 118 -43 195M335 787l49 134M137 851q6 118 -1 203M135 777q-4 129 -36 243M112 1102l55 5M62 989q66 47 92 94M481 796l-108 131M176 896q-29 76 -51 167M172 911q20 37 72 105M337 798q-55 93 -97 189M41 908q50 2 84 10M172 792l281 15M102 964q43 63 75 110M130 779q122 93 206 134M101 898q9 5 18 12M68 931q32 31 51 83M68 931q47 30 102 81M201 984q-40 41 -89 87M174 788l160 144M153 965q-34 74 -43 140M180 895q7 86 10 215M138 898q44 25 103 42M100 990q7 68 20 161M73 1007q69 41 122 102M110 1117l12 22M151 1037q8 29 -13 50M92 981q3 48 -7 72M46 894q163 30 281 38M119 760l318 43M174 850q-36 22 -90 50M120 977q23 59 34 119M66 935l-22 -33M135 855q-33 42 -72 79M38 894l24 95M111 865q-27 23 -75 33M122 1035q19 11 20 39M135 895q62 20 163 17M164 800q-30 98 -85 170M230 791q-39 27 -74 42M344 811l-7 137M228 916q-22 97 -57 190M127 1000q44 44 119 102M121 999q44 34 112 64M125 1030q26 22 51 69M280 1015q-69 18 -142 64M105 912q-6 31 -29 54M169 793l295 46M247 1058l-2 50M116 851q69 58 157 83M259 924q-45 91 -91 181M128 768l329 54M195 1112l7 43M189 836q7 60 -12 123M118 878q-17 102 -38 179M201 894q-65 45 -150 131M150 1016q43 -17 119 3M95 1062q10 22 26 39M193 1013q-3 49 -8 88M314 785l20 147M38 1068l74 34M89 959q46 60 66 91M168 801l175 155M225 780l206 177M203 1067q0 34 7 89M229 1078q-19 23 -22 68M435 961q-106 12 -165 37M165 1000q13 42 69 96M51 897l431 -96M469 814l-164 -21M232 775l196 155M192 888q9 81 37 185M192 938q14 23 3 50M435 784l2 165M130 770l324 9M122 862q-5 65 4 95M98 970q-12 59 -53 95M300 867q-60 110 -142 267M203 1058q-15 22 -35 47M50 1031q78 2 119 0M339 800q-80 145 -151 284M158 840q-37 29 -120 60M428 794q-54 84 -49 137M135 778q9 83 10 155M46 1020q21 23 -17 44M175 801l156 116M112 1113l55 -6M339 802l106 122M91 899q4 41 -17 66M131 772l180 10M48 1031l-2 -29M97 953q9 85 21 160"/><path d="M183 1029q38 18 99 12M121 965q25 51 41 70M216 829q-18 4 -27 7M45 901l425 -113M140 920q-33 41 -71 103M234 995q-43 -5 -56 13M339 936q-131 78 -298 125M440 837l-97 -69M232 840l208 -41M91 1073l37 82M418 817l9 142M140 901q-45 88 -103 166M72 968q28 7 49 -3M249 857l212 -66M48 1031l-11 -44M62 928q81 10 115 34M191 1097l2 47M226 925q1 17 -5 24M136 963q34 63 98 110M419 937l-140 89M130 955q20 88 38 187M42 1071l77 75M69 966l-10 -35M146 980q7 67 18 152M203 1099l-1 41M450 814q-210 83 -373 146M185 890q-29 -2 -45 30M156 1089q-16 4 -42 25M221 777l236 155M462 828l-31 114M142 931q32 -5 66 -15M364 953q-139 -13 -296 -22M206 1032q2 37 18 69M423 828l-90 111M433 837l-98 -61M333 917l-80 131M344 811q-121 155 -214 327M284 1017q-64 33 -119 122M442 793l-111 124M91 960q48 52 77 65M90 1071l40 80M71 966q63 52 97 75M282 1046q15 -22 63 -46M140 920q44 64 143 119M219 914q76 25 144 9M130 764l90 18M152 1024q2 22 8 62M117 880q34 106 67 209M221 780q-9 40 2 70M160 891q-31 41 -94 112M34 1023q109 19 205 48M46 904q51 -1 91 0M165 1027q21 27 35 37M311 808l134 134M132 1143l25 -9M240 979q-24 27 -47 38M288 1051l-86 104M46 1020q48 47 81 131M435 811l-106 -33M75 1073q21 5 40 0M179 924q-46 40 -54 106M127 981q31 47 75 81M140 1057q44 -5 79 -30M150 1053q17 22 12 44M197 970q-20 8 -32 19M57 971l-14 78M98 890q4 53 -3 98M444 796q-155 147 -250 286M124 1011q34 49 79 136M128 768q-14 81 -83 133M119 1146l48 -8M82 1050l45 101M219 1022q-14 46 -17 86M326 778q-128 71 -278 122M221 781l89 27M303 923q-71 89 -112 172M241 1010q-24 30 -46 102M291 964q-68 72 -123 178M329 883q-78 69 -160 145M117 876q6 57 36 89M147 1083l14 56M116 768l315 46M251 853q-87 18 -149 41M71 1001q104 -9 210 9M177 917q-39 42 -31 99M212 950q-40 31 -82 72M155 961q38 19 111 44M201 1110l-13 41M305 793q-30 106 -61 229M289 984q-36 3 -57 33M158 971q2 47 17 66M178 897q33 24 67 91M95 953q16 42 33 84M291 998l140 -204M345 796l6 137M333 916q-63 110 -141 223M234 1075q-34 11 -63 30M170 962q-21 5 -81 -3M238 927q-7 15 -17 18M348 791q-137 117 -277 231M194 985q12 46 10 118M467 840l-17 113M257 1063q-38 20 -54 45M350 914q-77 95 -163 164M109 1050q48 -11 104 -17M187 833q-3 130 -16 273M338 800q28 84 100 145M117 1014q38 44 82 124M240 783q50 89 126 128M72 852q27 90 35 170M291 998q-47 22 -44 53M169 1031q23 19 43 15M231 795l210 172M117 991q69 0 161 24M31 1068l15 -39M196 912q-58 88 -164 139M282 928q-47 14 -95 17M124 981q36 39 85 54M273 1025q-88 31 -146 116M316 777q-43 87 -91 136M459 808l-17 144M34 1023q54 -5 90 10M250 712l-129 66M261 854q-19 46 -90 110M225 868q5 36 40 90M41 990q67 4 132 6M125 978q-26 20 -61 40M249 716q17 144 17 241M238 791q-31 29 -46 46M441 795l-126 1M303 857q-92 126 -175 298M66 1003q30 37 49 70M53 1002q78 31 121 57M199 917q34 24 66 38M463 784l-106 122M463 805l-7 124M107 941q-4 9 -16 19M163 974q22 10 65 35M367 932l-118 132M77 851l347 -29M260 1067q-41 30 -59 79M182 1058q-11 13 -41 21M266 957q-35 71 -42 162M51 1028q91 7 167 13M251 721q-27 199 -104 350M261 931q-46 85 -91 172M431 794l-88 -4M270 926q-20 30 -29 61M106 1111l19 30M116 1025q23 19 26 50M186 936q-21 25 -55 28M117 991q18 4 57 8M313 991q-75 43 -111 117M341 906q-108 62 -220 96M230 871q-82 15 -164 60M201 1104l1 39M145 926q-46 71 -98 142M306 936l115 -168M180 797l252 32M180 795l171 147"/><path d="M137 999q52 -3 132 30M279 987q-95 54 -162 137M134 761l183 48M289 913q45 34 148 40M200 975q10 37 12 71M124 1101q109 -60 223 -105M70 1006q24 2 35 13M261 980q-17 31 13 55M54 1005q44 2 79 12M307 789l38 163M233 782l211 159M470 788l-150 -4M94 856q81 59 166 98M228 1009q-57 47 -109 148M165 989q1 29 24 30M40 1024l13 -31M147 990q-1 47 -9 97M257 926q-36 102 -61 226M69 936q25 15 25 33M193 878q-45 103 -82 235M46 1065l82 81M146 942q-9 19 27 57M468 830l-107 97M183 995q-10 48 16 106M426 797l0 145M259 857q-40 43 -69 95M480 823q-105 61 -151 101M252 923q47 40 93 77M116 925q46 81 110 190M282 1027l-79 120M216 944q21 7 42 11M119 883q58 54 123 121M354 953l81 -3M128 920q18 73 29 155M102 1005q46 52 88 139M235 853l224 106M287 1067q-71 9 -122 18M57 1003q40 -3 70 -3M204 894q-55 33 -111 85M347 785l7 153M43 1049l-10 -25M140 1057q20 36 11 86M185 1075q20 8 49 21M119 760l355 38M450 963l-176 75M179 795q-41 151 -88 278M249 931q-67 50 -118 111M173 870q-33 50 -78 110M293 915q-101 115 -159 242M133 773l226 142M71 973q19 1 21 -16M113 923q-4 -1 -8 14M173 960q51 -3 93 -5M187 877q-32 52 -54 126M265 958q-31 58 -31 116M294 966q-79 53 -156 113M72 1019q71 17 129 32M418 815l14 130M135 777l95 13M75 863q66 121 115 235M204 917q-12 82 -60 139M443 800l-107 5M147 844q89 -1 153 23M76 966q21 24 31 42M450 963l-191 97M177 1075q25 -2 56 -7M96 969q54 77 106 170M129 1064q14 32 23 86M61 969l13 -28M227 1103l-29 43M233 772l241 44M333 929q-73 99 -175 205M225 1026q-29 42 -55 77M141 917q-27 26 -45 41M62 965l-24 96M58 984q55 7 113 10M118 996q29 30 50 45M125 911q35 21 48 49M161 960q-12 25 9 41M89 992q45 43 61 85M417 817l26 150M205 984q-12 43 -60 104M101 950q40 58 63 148M258 869q9 23 5 53M112 1065l12 89M185 1015q-8 38 -30 57M44 904l43 -51M253 894q-10 95 25 145M270 919q-78 52 -122 96M251 853l182 75M89 897q1 50 -30 96M237 1074l-41 76M170 962q54 -1 97 3M115 938q43 49 98 95M136 763l100 32M435 825l-87 -34M228 866q-61 20 -91 70M174 915q-32 38 -10 84M214 833q-57 30 -100 52M223 1014q-19 23 -55 81M224 779l221 21M236 865q-90 55 -186 118M198 989q49 -13 108 -8M384 921l-128 126M82 1064q56 21 99 45M42 1070l74 78M102 993q4 6 5 15M51 899l39 -45M50 1052l30 12M160 971q-35 72 -34 142M106 988q10 21 25 54M186 939q8 80 -18 166M91 888q53 97 94 187M217 853l261 -44M117 917q69 30 161 91M221 953q8 50 40 79M185 1101l19 40M176 789q67 38 122 74M93 857l374 -51M263 922l214 -126M64 936q19 19 -6 48M63 1010q66 46 95 125M263 864q-63 120 -134 287M132 852q-11 78 -4 124M33 1029q88 36 126 119M225 782l227 149M91 906q4 51 -14 114M184 887q-19 0 -9 32M440 819l-85 86M196 833q19 53 42 94M127 1074l-3 80M122 868q-8 64 -8 101M219 949q-51 40 -111 101M152 826q-7 25 -18 23M239 974q-64 60 -113 139M329 809l-79 242M208 887q-19 90 -40 217M351 810l12 130M57 938l-17 -41M42 1071q45 31 81 71M112 996q14 0 41 1M56 968q74 48 113 63M339 925l-75 116M117 937q-1 22 10 61M199 986q-3 44 -37 110M275 1004q-53 25 -93 75M319 807q-98 89 -183 156M344 811q-24 23 -42 56M339 934l-51 113M85 1064l52 84M187 884q16 15 19 39M288 1047q-48 27 -56 53M189 837q-50 39 -114 93M125 773q-12 77 -82 124M132 1051q36 17 50 28M161 976q4 39 31 45M238 991q-3 27 28 58M175 870q-3 84 -34 167M259 926q-36 102 -60 224M152 1150l48 -4"/><path d="M175 894q5 64 -6 134M463 809l-31 125M340 790l31 158M33 900q42 91 39 172M120 872q26 4 47 21M463 825l-128 -49M268 1039l-67 107M84 1065l37 96M134 847q-15 150 -6 303M201 878q25 18 71 40M194 947q-47 26 -138 49M71 1022q24 -9 34 -4M305 910q-74 88 -120 149M318 817l54 101M172 788q51 81 122 122M464 827l-17 96M47 1070l90 78M464 808l-21 136M316 777l33 171M179 1055q-2 20 -17 41M236 795l114 139M255 974q-15 38 11 72M437 817q-174 95 -263 194M208 887q-54 98 -89 235M153 1047q33 3 60 -17M440 792l-113 26M117 921q72 8 171 17M220 872q-19 -6 -25 15M130 1020q-35 18 -86 28M341 906l116 26M330 879q30 23 94 55M167 1001q-4 41 10 93M163 873q-24 60 -65 150M161 960q23 56 101 80M68 1008q75 30 134 63M231 850l199 107M136 1054q30 4 35 -6M46 904q48 45 73 88M230 790l192 168M209 822q19 83 65 185M104 951q46 48 89 111M141 917q-33 0 -66 13M334 942q-115 26 -258 24M125 975q-1 13 11 19M195 979q-42 45 -106 93M180 795l251 30M48 891l8 107M74 965l-38 94M118 1021q-2 46 18 130M138 898q-11 53 7 108M211 974q-42 8 -90 25M475 784l-35 174M127 768l337 53M220 1034q-4 41 11 81M51 899q32 89 33 165M118 1044q29 11 53 52M223 951q-22 81 -64 189M253 1048q-107 20 -214 15M342 947l115 -2M91 851q20 35 41 56M208 833q-54 47 -98 115M172 882q-19 7 -31 48M60 929q29 -6 41 6M131 968q57 19 139 56M212 979q-16 60 -62 158M228 786l208 177M228 1100l-29 38M132 907q37 20 67 38M148 840q19 13 21 45M379 931l73 0M123 776l351 42M95 980q87 8 190 37M314 799q-91 103 -164 194M109 1009q0 54 7 139M230 790q-53 71 -57 133M117 880q-9 116 -10 231M93 982q12 72 27 162M44 1048l83 93M333 804l28 123M240 868q35 58 71 154M433 829l-155 226M225 927q-58 95 -115 190M240 979q-23 36 -43 72M473 818l-158 -22M173 960q14 56 -16 115M44 1033q90 10 152 32M463 809l-37 152M224 848l199 -54M143 931q55 9 152 36M174 850q-2 9 -16 39M305 796l28 120M131 772l230 155M332 879q-110 52 -205 140M322 817l27 132M328 783l126 150M262 1018q-41 14 -73 56M443 930q-194 35 -367 36M213 1048q-13 40 -21 91M166 887q-36 45 -101 119M189 799l151 121M176 792l183 123M107 941q-12 19 -48 56M59 931l-14 -37M272 1010q23 -17 39 12M140 856q-43 31 -94 48M66 1014q70 14 114 15M71 943q17 21 -3 65M209 968q-32 19 -57 56M81 847l356 -18M266 892q-98 69 -205 113M110 1105q29 -2 47 29M237 1022q-28 6 -66 32M334 911q-44 51 -103 97M38 1068l83 93M309 807l132 117M71 962l-3 -31M280 991l186 -178M229 1077l-22 68M45 892q49 64 72 137M98 1007q45 27 76 52M225 849q-88 111 -185 220M181 847q6 114 8 238M67 958q52 23 113 33M187 1078q5 11 7 32M125 1038q-23 7 -50 18M334 812q-80 17 -153 35M457 813l0 132M249 716l93 75M40 1024q103 25 191 73M228 786l216 159M116 1148l45 -5M117 759l207 39M236 795l204 42M67 970q73 77 130 173M114 992q30 50 48 111M187 935q-25 98 -57 212M165 915q21 6 63 1M133 993q46 -2 102 21M41 1073q88 13 151 32M110 874q-13 61 -45 98M98 890q9 56 16 108M222 1029q-62 34 -102 33M142 930q59 -6 163 -20M59 935q32 14 35 30M196 966q6 38 -9 57M117 761q49 66 79 127M72 968q1 30 -28 60M226 925q-58 34 -125 40M189 799l183 124M454 819l-87 93M179 795q27 88 44 157M197 938q9 67 5 119M123 852q39 58 61 86M229 855q-37 107 -72 226M426 810l-114 -12M145 1046q45 14 87 16M293 915l188 -111M176 912q-6 89 19 200M251 718l-135 50M267 930q-75 30 -117 35"/><path d="M348 791l7 157M275 937q-17 10 -14 12M207 876q11 23 32 56M167 1040q4 28 -11 49M344 811q-121 88 -225 161M67 958q66 54 101 67M61 969q38 60 68 95M135 930q-14 28 -8 70M87 856q33 38 75 68M451 800l-98 151M238 791l197 147M334 932q-105 106 -214 220M43 999l35 -24M123 757l113 38M182 883q8 107 15 273M118 985q33 31 67 28M272 1073l-41 24M464 812l-26 133M51 1055l-7 -22M174 846q-13 73 -7 154M100 955q-18 71 -69 113M267 965q-10 11 -2 39M134 849q131 68 308 103M455 783l-12 184M111 906q72 38 161 102M249 1063q-82 20 -126 41M374 934l70 7M351 933q-50 78 -62 136M300 867q-93 107 -184 243M112 1065q47 21 115 46M118 996q5 6 23 17M471 831l-138 -56M154 830q36 114 70 213M116 1110l14 37M446 804l-21 140M43 1002l36 -32M130 1000q23 42 48 94M92 905q43 83 61 163M208 887q18 14 60 39M112 876q59 36 116 46M347 907q-115 113 -226 207M432 783l-90 6M178 1056q36 0 89 -16M178 881q-43 8 -109 52M34 904q106 20 158 34M171 964q-31 15 -115 34M301 857q-104 24 -232 79M270 1043q-106 24 -181 23M235 797l190 147M307 790q34 86 71 139M256 969q-23 61 -17 147M179 898q-42 -5 -103 31M102 1005q3 35 10 66M210 824q-6 70 -26 139M268 918q-9 26 2 44M32 900l40 -48M207 984q-13 43 -61 104M110 1117l53 -17M258 890q-97 74 -212 130M128 768q108 36 192 34M130 770l287 30M113 954q42 55 89 144M107 1111l16 39M276 912q-35 26 -64 37M228 860q-8 33 -2 66M338 788l97 158M97 953q27 29 67 46M331 772l117 156M233 1074q-69 23 -106 67M159 962q-31 17 -44 18M205 912q29 19 56 19M133 993q-17 69 -12 168M225 849q0 55 20 128M123 776l206 148M296 932l173 -104M282 1013q-45 28 -54 100M345 952q-70 76 -143 156M464 813l-111 115M342 947q-111 -4 -232 1M47 1068l33 -11M350 914l-55 119M114 942q34 63 63 152M138 895q-33 16 -69 41M144 968q29 59 95 103M457 839q-152 122 -218 263M95 953q13 74 32 119M194 941q22 76 45 155M135 777l242 141M230 791l215 161M131 1158l26 -14M76 929q63 67 106 146M217 849l217 -1M69 933l-25 -42M235 788l215 142M221 922q66 21 113 7M431 817l23 116M235 782q-91 69 -189 112M215 1026q-2 46 11 89M188 883q1 86 1 196M307 983q-111 16 -186 69M265 820q-65 85 -149 165M91 906q12 86 25 166M144 925q-40 28 -89 63M49 893l32 -32M185 877q-48 91 -105 192M202 1139l-25 -45M77 960l-36 110M134 761l200 51M34 902q95 69 155 111M199 1022q-23 24 -61 22M204 1056q11 24 41 52M223 1014q-53 28 -102 87M237 792q-66 66 -96 116M82 1066q18 9 37 5M476 807l-155 -13M121 1161l31 -11M153 1062q22 12 29 22M164 999q-7 58 -5 152M180 1087q22 -13 51 -27M179 795l195 139M177 923q30 -3 116 -21M125 773l229 6M188 1019q-4 26 -15 26M177 956q-18 18 -60 35M231 793l211 150M235 797q-74 52 -127 74M336 939q-53 21 -135 34M230 791l221 174M254 895q-39 91 -77 134M39 1059q98 14 182 10M263 899q5 43 38 74M115 769l307 27M233 1074q-73 15 -121 39M163 874q-13 57 -22 139M199 1138l-31 -33M320 784l107 168M444 811l-103 107M71 1016q30 2 52 23M177 924q-17 91 -18 224M419 802l-92 16M222 789l211 139M208 916q-55 52 -143 90M289 1069q-49 17 -59 44M245 852q-26 114 -3 246M151 936q40 8 109 42M263 922q-52 89 -110 170M279 987q-64 29 -126 60M430 830l-95 -54M78 975q16 9 18 9M37 893q45 92 57 165M90 861q-12 26 -52 39M128 903q-24 82 -46 146M453 798l-84 135M363 929q-96 89 -209 167M229 792l214 175M123 941q-23 16 -61 46M80 858q73 47 116 57M115 769l57 31M217 864l203 85M186 878q-58 1 -150 20"/><path d="M74 1010q100 -14 204 5M37 885l53 -31M123 997q31 47 67 107M137 770q32 25 50 17M225 784l142 148M364 953q-118 31 -221 60M209 918q19 31 30 57M59 997q37 43 63 81M110 986q-13 11 -36 24M240 997q0 22 42 49M85 1074l42 77M431 814l-95 126M136 994q-44 11 -103 30M240 997q18 -23 55 -30M67 929l-33 -27M191 837q10 11 31 34M310 786q-44 96 -103 183M114 769q24 135 32 251M458 836l-5 108M351 942q-43 28 -71 66M60 972l12 -44M217 844q-79 25 -174 53M133 923q-7 27 13 57M284 997l161 -213M257 858q-32 103 -109 226M178 875q43 39 101 112M99 964q17 18 40 23M122 1078q21 3 38 3M194 984q-20 1 -37 17M198 843q-59 68 -133 129M46 1003q84 22 134 26M63 968q76 46 133 58M128 1146l23 -4M431 962l-174 101M79 851l365 -40M294 997q-64 38 -102 108M332 950l106 5M428 791l-101 27M220 867q-66 63 -121 152M233 783q-20 32 -18 47M154 1096l12 43M219 909q19 19 40 14M201 894q13 7 30 27M75 1065l56 93M40 1069l57 5M174 1001q-19 30 -32 53M279 914q-25 50 -35 108M165 1147l31 -8M165 896q30 13 33 50M343 800l114 145M138 966q55 20 144 56M95 1070l35 81M174 998q-27 8 -22 26M265 1058q-48 13 -75 24M142 930q-23 22 -30 48M256 716q78 63 174 89M265 869q-27 76 -80 146M232 1062l-37 83M467 791l-88 134M151 1037q-9 42 -25 76M120 1144l47 -8M114 950q-16 16 -51 60M209 890q-55 45 -102 124M420 810l-94 -30M32 1051l82 94M67 929q37 29 65 72M186 799l171 114M261 949q-39 76 -64 166M167 1000q0 37 26 77M116 772q57 184 86 371M233 990q-78 4 -184 39M182 803l281 -18M205 912q-2 32 -32 55M144 1056q29 11 40 15M169 793q117 93 252 159M239 867q-87 47 -168 92M47 1070l64 50M77 1020q1 22 -39 41M84 853q144 54 273 59M222 795q56 87 118 138M168 1104l-9 32M310 808l114 126M324 803l133 142M116 953q38 69 82 191M139 1019q-24 35 -30 87M223 951q7 10 8 25M121 998q-9 49 -5 102M438 811l-157 223M304 980q1 4 9 41M329 798q-124 111 -259 221M434 848l-89 85M270 858q-1 43 -11 108M464 812l-38 149M74 965q59 54 89 82M221 915q-36 50 -51 81M67 962q20 64 15 98M179 803l290 25M68 931q27 -8 40 2M233 1065q-33 17 -59 40M466 839q-177 -16 -291 -38M99 1068l32 77M98 1017q12 -8 26 -6M426 797l-112 -12M135 777l186 20M110 912q35 88 61 194M432 829q-133 120 -193 242M106 1105l15 39M235 788l187 37M102 875q-8 59 -41 94M203 979q3 64 -7 174M332 879q-105 39 -186 94M232 775l221 175M168 806q-37 104 -103 200M167 997q-1 38 22 75M85 1064q68 18 149 32M207 918q81 25 144 15M249 1052l-22 51M45 1028q82 25 125 77M116 882q44 43 66 82M207 1145l-45 -42M118 906q-14 48 -38 105M254 927q-91 39 -199 61M431 942q-178 76 -319 129M229 792q-9 79 -6 120M471 831q-204 72 -319 136M171 851q-32 60 -81 114M437 820l-103 -20M42 1031q49 18 77 44M81 847q32 48 68 90M172 855q8 6 10 38M130 902q68 31 177 71M158 831q13 122 -5 243M341 811q-92 131 -192 250M301 923q-68 103 -106 225M177 956q56 5 110 15M198 915q32 14 60 7M250 951q-63 29 -102 64M133 1017q-38 -2 -88 11M264 1007q-35 9 -45 21M342 924l82 10M183 995q-11 49 12 112M333 775l31 148M174 846q17 102 36 193M233 797l108 119M116 912q44 68 102 120M158 840q24 135 35 304M119 766l336 76M90 854q52 10 92 15M373 932q-104 99 -222 208M121 1161l74 -49M101 1010q68 -12 130 11M409 941q-114 18 -235 29M131 772q37 41 58 65M212 945q-11 85 -44 194M345 796l32 136M329 883q36 18 117 44M267 930q-18 30 -24 64M435 950q-173 15 -305 -2M437 817l-109 -4M455 808l-172 253"/><path d="M123 1142l81 -35M225 927q-29 74 -90 126M183 813l150 102M339 909q-67 116 -144 234M54 982l20 -4M432 790q-137 160 -204 323M259 715l178 87M293 1000l166 -41M197 921q-33 45 -82 75M41 908l16 95M371 946q-127 32 -241 54M178 881q8 -12 14 7M254 895q-9 29 -9 33M66 931q17 18 -10 37M130 954q-23 29 -49 47M224 779l208 11M184 963q9 43 -16 71M458 836q-160 59 -284 127M431 825l1 100M133 1159l62 -50M184 801l150 123M228 1019q-4 24 7 95M130 954q40 76 109 142M79 851l360 -21M124 863q89 2 181 9M126 765l-40 88M44 1057l66 62M125 773l306 41M318 812l19 136M81 1001q34 6 74 21M235 782l85 2M158 888q29 70 52 145M201 1104l6 42M125 917q-1 27 23 46M233 782l222 152M172 855q-28 108 -53 219M44 899q60 54 110 114M266 908l168 -69M455 934q-197 35 -359 44M287 922l179 -109M170 927q-5 67 14 143M135 778l346 41M433 782l-92 29M352 920l-86 159M114 1145l85 -37M32 1051l89 93M172 800q-26 115 -55 229M470 796l-131 123M285 984q23 -7 60 9M83 899q39 8 90 21M113 923q42 81 90 185M268 898q-84 64 -149 108M284 923q-48 84 -60 155M144 919q-21 45 -20 115M315 806q-59 134 -116 253M174 915q30 14 111 30M56 996q87 32 160 50M118 918q55 23 112 67M342 921l99 22M130 948q-15 87 -11 159M177 897q4 83 -9 207M371 927l-124 124M52 991q33 42 38 66M110 1074q48 16 117 45M263 864q-77 51 -196 113M409 941l-142 136M257 927q-44 98 -91 212M202 1112l0 43M102 875q3 28 3 57M289 960q-106 21 -195 52M225 982q-61 44 -128 92M218 846q-3 108 36 214M448 967q-133 47 -205 76M163 921q-60 75 -119 149M178 915q-5 97 25 232M214 833q30 -6 51 -13M112 876q-26 103 -78 177M272 1005q-46 43 -72 141M416 810l-77 142M436 816l-116 -14M253 894q-75 107 -134 177M122 868q43 119 107 237M177 1041q12 18 20 23M209 918q28 27 58 46M182 803l248 22M90 1020q12 36 22 93M127 912q31 101 73 240M238 791l194 154M310 808l20 130M117 991q30 51 51 113M219 945q-65 30 -162 58M141 908q-20 12 -31 40M235 853q-62 62 -82 124M303 984q-100 3 -152 25M187 1023q-5 41 -21 72M272 924q37 26 89 29M107 1008q41 34 75 76M112 773l203 8M69 966q69 56 116 89M59 931q78 61 134 128M474 816l-43 126M79 851l349 -62M130 770l87 16M427 792l-8 160M132 1059q46 -7 80 -34M254 972q-31 39 -47 72M166 918q32 19 107 53M225 781l216 42M135 767q-8 134 -53 247M160 971q-49 21 -95 38M446 810l6 121M229 851q-91 111 -189 222M207 969q-1 43 -18 80M116 912q1 31 15 52M145 1006q24 22 76 30M435 946q-168 30 -285 47M420 965q-110 48 -166 78M69 936q16 16 -9 36M127 1072l7 85M127 1019q25 28 50 75M115 776l319 13M418 817l-83 -4M191 939q48 23 99 53M226 925q-24 98 -69 209M158 971q-4 62 -6 120M132 852q23 124 54 227M101 965q12 14 27 14M168 801q-36 45 -97 56M49 1029q164 -30 291 -37M158 831q10 117 -16 223M284 997q-63 38 -114 108M119 766l314 48M153 1009q-54 30 -115 52M330 815l41 103M95 964q54 58 102 93M233 990q-12 27 -15 56M64 1018q80 16 148 28M120 781l113 -9M217 849q-78 79 -169 181M273 934l211 -118M124 765l182 20M126 765l-35 86M226 925q58 44 91 97M121 906q-25 52 -71 118M222 789l259 49M115 922q-5 -1 -8 14M204 886q21 16 64 44M120 775l-31 78M440 819l-71 95M416 808l-80 -10M163 874q10 95 -7 215M228 786q-11 44 4 84M144 967q-44 30 -95 62M208 916q-59 51 -156 87M118 875q-25 68 -75 127M247 926q78 20 196 9M265 817q-6 62 -39 109M32 1053l87 104M112 773l317 20M48 900q72 83 92 157"/><path d="M120 772q39 46 53 80M38 900q89 105 138 236M174 846q-45 24 -123 51M75 1056l45 95M34 902q74 48 144 99M128 1156l40 -14M121 778l205 162M102 937q-16 59 -60 119M70 958q67 60 111 91M116 852q0 90 12 168M214 977q31 -4 71 7M232 924q0 39 -4 85M80 857q104 69 225 133M75 863q90 61 167 116M339 919q-76 97 -176 182M182 941q-32 69 -92 116M266 817q-37 9 -108 17M141 929q22 9 28 33M453 791l-143 17M171 1048q-21 44 -35 103M440 811l-116 -33M173 802q-25 61 -51 116M451 840l-16 95M141 1037q35 21 55 28M45 892q64 13 128 27M353 928q-58 32 -123 57M127 768l223 20M232 1062q-8 19 10 42M76 850q63 116 105 195M41 908q54 -3 96 -4M235 797q-76 104 -135 185M334 798l6 150M237 792q-76 69 -132 127M440 787q-150 173 -241 363M246 980q-62 7 -105 33M72 1019q67 19 113 40M99 1020q7 37 18 96M184 1052q-9 37 -34 85M63 934l-12 -31M110 948q31 47 46 105M196 946q5 71 -12 143M357 913q-124 106 -244 192M122 861q-14 24 -28 33M219 942q-41 21 -74 24M138 1079l20 64M309 792q6 42 15 94M237 792l203 149M481 804l-152 5M116 1061l12 87M135 767q-19 130 -92 232M242 1098l-46 54M428 812l-57 130M138 989q-19 59 -12 124M462 797l-129 149M144 1021q9 9 22 7M44 904l27 -47M221 949q-11 52 -29 81M169 993q-33 16 -44 45M436 820l2 135M128 954q-23 19 -49 19M433 814l-95 -26M344 949l87 14M173 870q26 92 65 196M296 984q-86 2 -110 22M250 855q-55 106 -100 222M195 920q1 74 -27 114M78 1077q55 9 90 23M356 941l72 15M62 964l-21 97M128 1155l24 -5M39 1063l-1 -37M209 968q-40 21 -87 64M379 929q-76 32 -147 58M185 800l186 146M255 715l168 113M143 923q-1 -10 26 -10M127 1034q30 33 69 118M120 977q-23 10 -58 12M294 979l158 -37M235 782l197 152M156 874q39 43 51 123M157 1134l37 12M265 1077q-94 -1 -145 -15M133 773l201 36M431 817l-109 0M118 884q-15 52 -42 82M451 782q-84 48 -122 103M307 789q-47 35 -78 66M263 1046q-50 19 -82 30M151 936q54 8 162 42M432 802q-128 68 -207 105M270 919q-58 104 -119 221M217 822q6 60 31 99M90 851q161 65 345 95M336 939q-102 25 -208 15M184 801l189 131M77 1016q72 17 141 30M244 1022q-66 -11 -124 35M123 757l205 56M307 925q-124 49 -230 95M308 936q-39 12 -50 19M309 777l117 163M133 780l103 -2M454 779q-127 88 -167 143M44 899q90 108 151 246M163 1086l-12 58M37 1067q45 9 78 6M187 884q12 96 40 235M223 786q-79 123 -165 235M211 825q-63 40 -127 75M169 1091l-6 55M147 1083q49 4 99 19M434 848l-57 70M449 843l-101 -45M418 815l-76 -39M343 768q-55 161 -54 291M196 949q-3 64 -41 123M111 1114l9 37M121 1114l47 -10M235 788l215 159M105 916q5 3 12 21M112 999q40 48 79 114M114 910q10 7 33 28M240 783q-9 103 13 195M122 1154l32 -8M427 945l-149 94M198 1021q-11 19 -26 8M445 774l-74 144M434 839q-150 118 -251 251M173 870q32 25 54 51M122 1032q55 7 153 19M77 1020q73 9 142 7M117 937q-18 24 -53 67M431 794l-97 138M443 832l-107 -34M373 918l73 12M101 898q25 51 77 103M272 1010q-52 23 -95 76M123 1000q35 43 80 99M233 772l190 176M299 996l144 -52M37 1033q92 5 148 13M170 961q43 17 65 53M250 966q-39 69 -83 170M90 988q3 12 -9 27M167 992q-7 41 0 79M56 1000l23 -27M122 918q-23 29 -62 54M174 788q-12 115 -2 211M116 953q29 53 47 133M262 895q-51 123 -108 251M161 1030q-21 35 -50 41M71 937q88 53 188 110M154 965q-28 19 -42 28M39 1059l7 -30M143 963q-33 14 -65 12M41 1070q82 16 127 35M229 1077q-35 18 -69 53M104 931q69 22 137 86M178 1007q-6 51 22 139"/><path d="M212 1054q1 27 18 59M418 946q-110 17 -207 34M179 1050q-32 35 -60 72M125 773l-43 90M217 864l243 -76M217 786l117 14M320 802l14 127M63 933q84 -1 127 3M274 1035q-98 30 -147 29M171 964q-25 21 -94 56M155 1022q14 13 58 26M114 1079q28 6 52 14M288 985l136 -37M47 988l31 -23M345 933q-113 40 -233 60M183 939q19 82 19 173M437 809l-95 -18M107 917q-10 43 -41 105M240 920q15 10 47 -2M94 986q56 36 109 48M93 964q-11 20 -45 31M105 1019q58 33 134 92M270 926q-28 74 -12 124M76 850q21 44 32 83M189 1013q-41 48 -77 58M91 888q0 49 -29 77M33 1029q122 2 249 -2M172 800q51 74 120 116M143 938q46 15 121 69M255 960q-43 60 -92 126M76 1076l44 68M249 928q-92 48 -211 98M273 990q-14 -5 -9 17M134 1003q33 33 92 65M300 976l175 -166M48 1068l68 81M44 902q39 -3 55 -8M466 820l-151 -24M77 1020q63 17 108 34M280 1008q-51 31 -78 100M341 935l-58 126M272 924q-51 74 -91 121M233 797l118 13M356 942l-90 125M185 1015q20 35 51 47M311 773l28 179M276 1033q-99 53 -144 109M431 826q-155 140 -274 308M262 854q-31 109 -100 243M203 874q4 97 36 222M146 1012q26 35 86 88M41 1055l95 96M230 790l203 168M239 783l202 175M182 945q-48 65 -148 108M164 921q-9 93 -12 229M205 977q-15 38 -69 77M66 928l-13 -28M38 1068l47 -15M233 1101l-38 47M194 984q-50 9 -146 47M45 1065l71 35M127 1147l81 -36M145 928q33 6 76 21M79 970q17 8 21 0M369 946l-91 135M138 989q-15 26 -18 68M192 888q-44 83 -78 180M323 794l61 127M282 928q23 17 54 3M235 1010q-19 14 -38 41M47 998q110 -6 194 16M208 982q-11 42 -51 99M117 1124l5 34M124 775q11 190 9 384M455 789l-104 139M196 946q-33 91 -73 204M425 935l-149 117M431 825l-4 134M220 872l251 70M365 956l72 -7M107 941q-3 11 -15 25M114 1068q36 26 78 71M134 761l204 54M89 992q50 52 81 117M252 923q-87 5 -188 8M86 850l331 -47M442 946l-167 83M431 817l40 125M200 879q74 20 145 34M238 1020q-17 5 -26 26M80 858q89 43 174 40M443 825q-120 79 -162 185M294 989q-107 50 -180 125M210 1048q-8 14 -10 16M159 967q-8 19 20 30M182 803l289 28M51 992l28 -29M191 935q-19 25 -39 23M435 836l-111 -38M137 936q-21 -11 -37 -2M69 1006q32 5 56 23M122 1019q29 29 56 78M225 781l221 142M102 894q10 47 23 81M164 921q15 21 43 65M72 867q11 37 -1 76M245 1108l-50 40M341 791q-117 50 -214 68M256 1052l-59 104M225 907q-66 48 -153 61M191 1026q9 20 24 14M185 1054q-9 14 -33 22M262 854q-63 63 -148 138M181 847q-52 22 -136 47M141 973q-34 2 -71 -15M79 1019q20 2 30 24M273 975l182 -194M453 801q-205 153 -340 304M298 915q-123 50 -242 83M230 799q-68 121 -115 252M192 938q1 72 -35 137M257 719l194 121M152 1150l38 -6M322 817q-24 16 -61 44M124 765l196 37M248 924q-83 7 -177 19M203 884q-41 9 -61 58M454 790l-133 7M331 917q-39 41 -91 73M37 893l16 100M168 1135l34 5M124 765l297 3M235 797l222 -13M41 1061l75 88M37 1067l92 84M154 1013q18 28 70 65M180 847q-24 76 -34 165M290 992q-68 24 -123 48M104 931q5 21 8 45M210 1033q-1 25 13 35M458 789l-37 163M172 807q-26 97 -54 178M481 838l-112 108M178 801l252 20M136 1058q54 18 103 38M232 854q-69 29 -115 83M136 1004q13 54 23 144M454 828l-109 -32M370 916l82 39M122 939q19 51 22 104M48 891q37 18 53 44M133 923q33 69 90 145M81 1001q52 27 74 40M184 963q-28 80 -73 194M239 859q-59 21 -66 64M190 936q18 19 11 37M143 1059q30 36 43 89M123 1011q47 22 123 40M173 878q-34 1 -84 19"/><path d="M198 940q-56 72 -153 125M233 1004q13 -11 35 12M327 818l27 135M459 808q-201 51 -327 99M250 1051q-23 13 -18 17M191 1097l13 44M141 1000q41 30 134 50M301 972q-29 7 -27 35M86 903q21 59 39 139M112 971q-22 15 -61 22M45 894q41 43 44 65M185 800l291 -7M133 1017q-42 -4 -99 6M92 957q5 74 -1 129M133 780l92 0M71 1016q28 25 49 46M134 968q-27 58 -47 88M233 852q-22 108 -8 225M219 791l234 150M425 791q-168 103 -261 181M78 1077q64 23 121 73M296 984q-63 25 -97 38M231 976q-44 6 -66 24M142 1042q-12 26 -48 28M455 781q-132 103 -185 200M262 854q-22 113 -67 255M53 1061q40 10 76 3M65 972q98 58 213 107M469 828l-13 132M181 1109l7 44M268 930q-26 22 -48 42M69 966q143 23 247 55M145 927q-36 21 -74 39M239 844l202 -21M171 967q40 15 57 52M162 1103l-5 41M280 1049l-46 47M232 1017q-9 23 -5 87M312 793l142 140M251 1113l-58 31M153 837q-17 29 -54 57M98 890q-9 19 -35 44M136 1054q0 39 -17 92M51 992q43 43 70 72M333 939l76 2M276 920q-13 40 -3 83M133 780l187 4M130 765q-16 82 -87 132M139 1016q-22 36 -23 84M232 924q7 28 15 53M255 718l58 90M265 903q-95 18 -193 25M237 792l91 21M239 932q-62 45 -117 91M172 881q-9 49 6 124M224 791q15 84 73 137M113 954q0 3 6 18M171 964q36 64 59 149M420 798l13 160M280 1032q-105 48 -161 90M116 911q50 27 89 71M147 1071l11 72M115 776q66 170 118 325M213 1033q-16 18 -28 13M275 977l158 -157M312 860q21 55 33 140M451 777l-186 271M71 959l-2 -26M219 909q-42 52 -76 81M62 937l-16 -33M179 997q19 35 113 62M114 1079l23 69M45 892l40 -48M48 896q85 93 142 186M180 918q-70 46 -141 118M102 894q57 102 125 217M46 904q112 16 202 17M118 766q66 119 89 224M326 798l122 161M193 1106l6 32M53 1061l53 44M222 947q11 56 52 91M51 1055l68 86M69 1023q63 16 94 36M444 800l-25 147M349 936l83 9M196 912q-52 58 -150 108M128 906q-31 44 -84 91M170 1001q-55 6 -104 21M344 923q-116 36 -244 32M153 1047q10 21 -6 36M75 1056q24 41 48 86M337 940q-108 40 -230 74M60 929l-9 -30M125 1042q33 12 78 52M481 798l-148 146M468 830q-132 48 -163 80M128 1146l30 -3M336 798q-64 144 -97 278M127 1072q-16 19 -21 39M481 804l-178 -11M135 961q24 52 60 67M228 908q59 32 99 27M464 839l-119 95M47 892l9 104M178 962q-19 14 -59 30M90 988q45 64 63 153M460 817l-106 121M228 860q-65 19 -106 58M453 796l-111 -20M156 886q-20 -5 -61 11M228 786q-1 147 57 259M216 916q36 32 85 57M118 781l206 22M127 769l104 14M178 972q44 38 100 67M208 912q12 36 9 65M101 980q-17 49 -67 73M127 768l-93 134M236 795l200 168M34 904l421 -93M452 819l-135 -15M48 896q50 41 81 62M322 817l123 125M447 936q-201 43 -386 77M270 1030q-56 38 -94 69M323 785l17 135M137 936q-25 20 -46 51M121 909q23 74 33 138M421 938l-157 103M327 876q-48 37 -88 116M226 987q-11 46 -22 120M279 1068l-80 90M37 1033q86 1 124 -3M121 772l229 32M434 789l21 141M124 1033q34 31 78 107M209 890q-65 76 -128 160M327 818q-112 146 -208 304M150 1019q-53 24 -116 47M223 1068l-16 77M262 713q-37 202 -122 349M132 902q19 95 39 204M181 916q0 11 16 20M48 900q110 80 232 145M135 767l203 21M271 976q-55 34 -107 61M229 792q-67 106 -112 184M163 874q-35 45 -103 98M114 926q-19 -4 -51 8M453 782q-87 93 -129 151M211 825q-67 50 -142 114M63 933l-26 -40M180 797q-31 47 -60 58M455 963q-150 81 -256 195M436 832l18 110M298 984l144 -32M184 938q-31 28 -93 42M295 978q-130 41 -263 76M52 1056q80 17 137 16"/><path d="M48 900q49 50 78 101M194 1018q-14 62 -40 128M150 1016q23 12 80 12M78 965q20 39 30 85M433 830l-110 -47M260 716q61 140 93 212M239 932q3 70 51 119M132 995q28 37 68 69M126 870q-16 18 -32 25M214 829q-51 75 -78 134M200 1146l-38 -50M455 811l-94 116M195 886q-35 -3 -52 21M66 1014q98 17 216 27M313 991l120 -184M425 817q-107 87 -145 198M92 957q11 22 18 29M265 820q5 52 1 79M241 843l168 98M190 946q42 14 80 31M119 972q-9 21 -18 38M119 760l258 174M298 984q-99 1 -156 17M262 868q-7 31 -48 81M331 772q39 24 125 25M422 958q-118 63 -193 120M242 928q-78 31 -171 34M333 923q-56 23 -149 15M45 908l413 -72M226 773l123 176M455 930l-180 149M116 997q11 9 36 25M200 913q-23 46 -39 65M84 889q89 21 181 14M153 932q-39 67 -59 138M231 783l210 184M131 964q59 9 146 14M182 972q-28 14 -85 46M174 851q28 55 38 128M170 996q-11 59 -9 150M146 1069l11 65M264 716l200 101M173 898q30 11 46 47M62 965q33 73 52 137M212 945q-17 62 -68 111M228 794l201 -1M177 1058q34 -1 85 -18M306 936q-50 11 -83 16M177 923q-68 42 -135 111M128 903q17 76 23 134M272 1073l-68 76M235 983q-27 29 -66 54M171 851q10 113 6 243M186 938q15 92 9 207M350 804l1 114M319 807q-101 51 -191 98M142 1005q-11 2 -3 14M137 851q-30 75 -63 114M146 1088q-9 2 -33 17M262 980q-86 6 -168 28M335 787l6 163M228 1113l-42 35M462 838l-123 98M68 1008q66 25 104 44M65 972q52 15 111 22M145 905q-22 46 -22 95M203 884q1 20 -12 55M266 899q-83 15 -150 6M99 994q41 61 62 152M128 1111l42 -6M124 981q28 51 57 95M112 870q14 68 55 120M128 768l202 29M105 932q35 84 53 211M113 865q-28 114 -84 199M245 844q-26 59 -41 134M142 1007q21 38 61 92M251 718l86 90M357 912q-133 59 -286 95M88 957q52 76 83 148M157 838q-24 14 -73 4M90 1020q-10 19 -58 31M475 784l-146 28M128 1150l72 -46M125 1016q16 19 14 36M363 929l79 23M119 970q48 66 120 132M228 786l238 34M115 1074l-4 83M278 1079q-39 12 -39 37M205 977q29 -15 55 -23M184 801l195 128M116 912q-4 38 -2 77M153 1015q-28 4 -44 28M109 1105l53 -9M160 1081q20 -5 29 -9M128 779l227 145M124 1011q-10 44 -4 106M318 812q-60 77 -147 155M76 1014q15 27 8 51M178 881q-18 41 -15 95M228 919q-51 52 -96 97M93 1007q14 34 34 65M233 1004q-26 13 -64 28M120 775q-1 85 -51 158M197 914q24 44 36 90M204 916q-40 90 -85 153M95 895q-1 45 -28 75M340 790q-42 97 -45 191M100 982q48 49 89 90M206 923q-39 109 -78 232M339 936q-129 47 -301 90M168 1034q0 26 -21 40M172 788q-50 153 -131 270M247 977q-31 47 -59 107M168 1034q28 28 58 44M71 973l0 -36M440 792l-112 -9M211 980q-41 6 -88 31M377 932l-96 102M190 936q4 77 -25 149M122 1035q53 1 145 1M213 1022q-77 41 -169 48M130 764q65 128 102 253M92 981q55 48 104 84M63 968q83 45 156 54M196 986q35 1 65 30M111 906q43 103 89 240M99 977q41 60 64 123M277 910l146 -82M90 1071q52 6 99 1M46 1002q49 61 85 156M137 928q-38 36 -92 96M71 943q27 23 36 74M92 905q43 81 61 157M106 939q44 44 87 78M92 905q18 34 37 54M33 1029q55 18 86 42M32 1054l87 68M82 896q88 22 170 27M201 893q41 -36 67 -24M116 997q33 42 64 90M166 922q-8 72 -5 154M121 778l228 170M239 1102l-39 44M437 829l-28 112M235 797l197 5M431 829l-88 -39M255 715l67 102M195 887q-45 6 -88 54M69 927q49 27 111 64M124 863q19 114 23 208M201 984q-48 1 -130 17M244 874q-32 -7 -41 16M88 957q-4 28 -31 46M253 965q1 18 17 59M248 924q-33 83 -66 151M106 869q102 -3 199 0M263 862q57 33 83 62M255 899q-91 55 -195 73"/><path d="M94 962q12 86 29 180M283 1061l-49 35M114 1075l10 79M235 797l207 149M455 789l-200 279M219 1027q-61 46 -101 75M67 962q7 32 -16 63M187 794q0 149 -5 281M109 881q88 -16 154 -24M246 930q4 8 21 0M71 937q30 15 46 36M270 977q-24 4 -39 30M208 921q19 34 30 70M44 1057q43 33 75 65M173 852q-50 75 -140 172M222 789l209 158M119 970q24 78 35 176M270 962q-53 42 -101 66M269 1004q-51 33 -99 101M200 879q-51 0 -103 18M231 1008q-13 10 -21 25M130 764l210 30M199 972q29 49 79 109M187 945q-37 34 -113 75M136 763l209 43M248 718q-12 93 -48 161M278 1079q-41 -3 -44 -5M81 847q-4 33 -36 47M241 1014q-32 24 -73 86M144 1043q-9 39 -34 77M135 778q27 23 34 18M158 831q25 23 48 64M193 1017q-4 38 -11 58M337 808q-66 25 -97 60M185 950q2 57 -41 100M121 772l214 165M185 1059q7 33 14 79M154 1146q26 -19 42 6M128 1155l67 -43M112 993q28 40 39 76M226 926q-48 32 -90 37M123 845q20 129 28 236M136 1084l32 51M177 917q-68 34 -136 73M122 779q23 115 40 198M72 852q89 51 160 61M114 916q65 9 140 14M434 789l-164 241M233 797l79 1M254 960q-39 44 -78 72M477 795q-184 29 -300 54M166 1049q-18 45 -32 108M32 1054l95 91M75 1021q28 45 55 126M108 871q44 94 91 151M143 931q-8 26 27 65M34 902q58 54 90 120M199 1059q-3 19 -5 39M230 790l104 22M194 1095q-38 9 -59 51M430 825l-104 105M53 1061l-11 -27M374 934q-123 33 -222 37M110 948q-25 51 -78 106M216 944q-47 28 -101 52M302 862q-78 16 -136 60M420 798l1 153M169 1091q7 13 -1 51M68 931q72 62 125 131M273 1003q-54 13 -101 26M47 1061l60 50M169 1028q8 23 2 26M44 899l39 -50M232 853l232 -41M329 883q-123 49 -255 137M86 901q7 51 -13 106M194 1054q-64 12 -153 -6M106 937q20 22 67 62M180 797l199 128M46 894q49 93 83 170M275 905q-90 22 -160 43M60 996q24 42 15 77M164 916q26 5 81 0M343 768l36 161M152 962q30 63 111 109M132 1016q98 -12 185 8M159 840q37 0 80 4M135 918q-10 25 5 40M87 857q23 68 47 98M199 973q-56 44 -149 79M69 933q84 10 136 44M128 769l327 42M101 983q66 38 158 50M254 960q-75 10 -141 12M434 789l-79 161M461 791q-133 78 -179 126M174 1059q26 19 58 39M158 888q-7 35 -8 84M112 1045q-4 19 -2 72M455 781q-139 112 -210 230M119 1029q-5 40 8 122M460 817l-14 104M107 941q9 21 29 63M70 958q89 56 188 77M33 1029q56 18 89 41M248 862q-93 67 -176 158M143 938q127 7 308 27M56 998q35 12 53 35M92 894q14 12 25 27M299 981q-68 43 -109 101M316 777l125 147M132 1142l67 -41M240 783l196 180M234 872q48 32 108 64M139 987q6 5 44 8M147 834q46 64 60 135M172 894q15 86 23 213M203 884q0 72 19 145M273 978q-74 6 -105 27M109 1112l28 36M118 906q-9 95 -8 199M426 797l-136 262M115 942q-28 58 -81 124M422 796q-98 93 -115 187M209 918q-3 81 -21 136M185 1013q7 52 14 95M473 807l-16 152M282 917q-23 31 -27 57M163 881q-20 110 -38 268M91 1013q15 1 26 16M141 920q18 80 50 177M108 871q-26 19 -76 29M173 802q-28 144 -52 262M195 886q-44 37 -83 87M194 1067q-9 29 -26 75M225 784q-74 60 -142 81M288 999q-59 11 -96 14M143 1009q14 25 37 46M454 806l-120 134M110 948q64 8 131 59M289 1079l-50 23M350 788l93 147M144 1021q16 31 46 89M416 808l36 123M479 793l-118 126M249 716l-108 64M132 1059q3 37 -12 93M370 918l-91 159M186 799l170 108M144 1021q8 28 19 79M462 789l-27 157M181 1109q-2 4 -16 41M354 904q-76 108 -152 194M110 1069l11 92M424 822l-79 130M92 903q139 27 269 40M275 937l157 -108M176 792l164 141M184 887q35 4 82 2M261 861q-2 28 -29 57"/><path d="M421 952l-139 89M132 902q-4 10 9 28M432 790q-188 174 -312 362M209 1035q-56 42 -101 74M69 966q23 19 30 28M430 821l5 114M99 1019q13 -7 28 0M290 968q-59 58 -91 133M100 990q61 50 139 106M176 1099q-3 9 -25 45M128 779l190 18M302 867q-77 58 -132 145M128 1037q18 29 28 109M474 818l-152 -12M203 1099l-14 45M468 830l-33 105M205 973q23 35 69 60M116 772l105 4M157 838q53 75 105 180M450 814q-156 120 -244 218M273 932q-27 37 -45 87M202 1062q-8 12 -15 21M174 913q-44 104 -46 242M304 910q13 23 53 -4M287 1067q-107 29 -156 78M175 896q-12 -9 1 16M238 791l194 11M285 1045l-81 96M124 775l329 17M220 1069l-18 71M170 961q-19 7 -75 3M241 990q-31 38 -69 95M117 761q13 82 -3 124M265 817q-32 148 -98 321M433 958l-172 74M167 1107l-2 32M69 936q12 30 -24 88M242 979q-25 37 -45 76M95 895q0 43 -24 67M463 809l-173 250M464 821l-8 107M112 993q-24 44 -74 75M46 1071l67 34M169 1028q17 53 27 111M354 953l89 -16M267 1077q-105 3 -181 -1M207 836q-10 16 -12 49M230 985q-2 45 16 116M240 987q9 -15 28 -17M112 976q42 62 88 128M439 834l-106 82M231 852l243 -36M453 807l-90 122M177 849q-4 110 -35 226M157 1061q-14 11 -31 4M200 913q-41 55 -106 99M72 968q69 58 122 98M466 813l-120 103M78 852q113 6 192 6M264 871q-63 67 -143 181M466 789l-139 143M61 969q33 9 52 3M448 795q-155 153 -245 304M153 977q25 0 59 2M226 773l228 46M49 893q55 43 103 65M312 811l130 135M202 914q-42 38 -105 39M355 905q-85 107 -184 192M51 993q156 5 265 32M134 994q-37 38 -84 58M223 912q3 98 23 189M249 716q-9 191 -42 316M260 1067l-56 74M435 784l-62 148M337 808l13 126M98 890q74 96 183 187M137 936q-36 31 -86 92M124 847q61 50 143 50M90 988q55 52 100 110M46 1065l-1 -41M270 926q-31 88 -24 175M122 975q56 8 120 29M79 1052q50 41 73 98M189 1013q5 34 13 44M76 929q33 21 65 44M235 782l225 158M238 791l215 153M113 923q39 55 80 94M223 786l241 176M205 977q-40 -1 -93 -1M118 996q37 59 80 150M426 940l-154 94M72 968q32 20 58 32M150 1019q36 22 130 51M209 968q-2 56 -15 127M230 791l216 139M223 786l227 161M164 916q-7 78 -4 165M118 918q8 35 44 77M444 774l-107 146M228 908q-13 99 -25 186M171 967q25 38 20 59M112 917q51 25 86 72M312 860q23 44 41 98M122 937q22 61 31 137M314 791l26 142M152 971q18 2 30 1M233 1004q-18 42 -34 134M172 881q-22 36 -42 74M359 911q-46 40 -71 60M46 1020l13 -23M158 1143l40 1M197 1055q-19 12 -50 16M89 992q-6 45 -45 78M329 796q39 91 127 164M465 839l-139 91M228 922q-12 70 -21 102M265 817q-71 29 -171 34M251 918q-85 50 -181 88M159 967q8 70 43 141M81 847q22 151 42 303M332 781l37 165M126 849q9 39 41 67M314 862q-66 84 -142 163M191 1097q-41 -1 -74 19M444 923q-189 54 -347 95M149 829q42 18 87 47M208 912q4 86 4 142M231 795l124 129M378 929l57 7M305 990q-126 -13 -243 -25M70 1069q24 10 44 10M119 1075q26 8 50 16M226 773l205 174M302 935q-43 34 -67 79M164 921q-6 62 -1 113M328 874q8 28 11 62M446 826l-125 -28M209 918q-16 77 -68 121M126 957q-28 16 -65 12M176 1099l-13 44M224 862q-70 52 -132 104M430 805l-124 -20M189 799q8 21 25 30M121 778l324 22M117 1029q-25 18 -70 41M75 1073l41 75M211 980q14 39 44 85M122 758q76 115 128 198M270 858q11 30 34 61M448 795l-71 110M139 1057q35 23 53 48M330 794q-57 85 -118 155M222 795l208 162M144 925q28 81 91 189M123 852q36 142 84 293M227 1104l-31 49M363 923q-137 41 -292 50M136 763l201 45"/><path d="M110 1119l9 22M248 924q-39 88 -86 172M235 782l197 179M351 928l94 25M114 1102l19 57M162 998q-49 37 -82 59M109 921q9 33 33 73M217 786q-16 144 -13 249M149 834q78 3 116 23M441 924l-148 125M166 800l183 149M194 934q10 86 3 181M341 791q-131 148 -255 267M167 920q-51 3 -96 23M120 775l-85 122M110 874q-1 23 -3 43M45 993q88 27 147 28M263 1019q-80 37 -135 129M306 807q-36 74 -82 138M279 900q-109 60 -223 96M298 989q-44 -6 -71 13M306 981q-58 51 -63 130M39 1063l11 -39M44 902l42 -49M316 804l63 125M338 815l116 108M142 1042q52 31 104 59M104 951q6 5 15 21M152 962q38 57 141 87M156 833q28 130 47 275M178 801l252 4M102 964q9 22 21 36M272 1010q-51 30 -91 99M481 838l-118 91M437 809l-64 117M140 985q6 41 2 66M33 895q61 12 110 28M262 1003q-53 19 -114 47M159 962q7 50 39 59M224 784l247 -1M355 948q-46 18 -76 39M209 968q-39 24 -84 74M482 801q-158 132 -200 240M152 1024q26 26 94 77M239 847q-7 43 18 79M68 933q29 -2 48 20M441 815l-75 96M213 1048q-11 42 -15 96M34 1066l79 51M74 941q19 62 23 133M155 1061q21 21 26 48M239 859q-23 108 -3 238M124 1060l4 90M231 783l140 163M454 790l-133 8M46 904q101 32 162 78M311 773l139 150M242 928q-27 21 -72 37M81 1015q56 14 88 16M330 944l-47 124M158 831q-32 85 -101 172M265 820q-79 79 -201 142M223 853l249 -29M313 785q-50 159 -83 312M235 782l210 172M233 797l207 144M159 878q-7 56 -7 146M227 844q-62 62 -97 111M446 921l-157 148M218 911q-59 91 -130 147M68 1008q27 44 39 103M325 925l96 26M112 1045q45 1 98 19M181 1054q-32 36 -56 85M350 804q-53 72 -70 126M275 928q-51 65 -88 95M148 1015q32 19 110 36M133 1049q52 24 97 47M225 913q-65 13 -150 24M167 916q-41 3 -66 22M156 1146l46 -6M336 931l104 10M173 967q-26 5 -94 3M155 829q65 67 142 136M49 893q107 41 186 90M90 988q-8 43 -49 67M208 1025q-74 35 -167 33M198 843q-43 12 -74 4M206 895q5 16 11 61M335 882q-129 7 -266 57M40 1073l5 -49M127 769l347 47M75 930q14 70 3 147M94 1008q-17 2 -61 16M270 922q-48 88 -86 167M356 907q-53 45 -101 69M44 902l29 -45M238 847q-4 45 28 86M231 858q18 -14 34 -1M224 1119l-25 31M247 924q-27 22 -69 35M69 936l-20 -43M453 791l-13 166M187 802l295 -1M174 788q-44 115 -118 212M323 794l24 113M184 938q-37 40 -115 85M38 900l432 -112M195 1112l1 41M223 853l223 68M165 915q-42 29 -63 49M149 834q-10 38 -35 82M221 776l246 64M351 942q-63 21 -144 42M243 784l64 6M84 1064l38 94M134 1157l57 -60M171 1097q29 -2 64 12M432 934q-145 79 -277 138M140 985q-35 49 -69 83M144 967q-18 26 -22 50M231 858q-9 33 -1 59M445 784l-117 -1M127 769l193 21M185 1075q-6 19 -24 53M453 779l-125 5M33 900l41 -45M265 857q-63 25 -142 84M198 1021q-16 27 -43 29M182 970q-7 10 -10 29M107 1022q-7 22 -21 44M330 794q-132 61 -284 110M136 932q-14 17 -8 35M127 859q50 68 107 136M173 923q-28 33 4 78M168 1011q-8 16 -3 16M228 786l86 5M237 1109q-25 6 -35 46M372 923l-94 116M133 993q15 60 26 147M432 829l8 112M248 862q-65 17 -71 55M234 995q-69 -4 -152 19M242 1021q-33 3 -74 20M83 849q30 45 62 84M287 932q-87 32 -128 45M428 789l-3 146M340 933q37 14 86 7M59 935q39 30 59 86M243 1013q-38 8 -90 26M222 789l187 152M199 834q17 69 42 153M443 794l-96 118M254 930q52 20 115 16M76 929q8 29 -23 73M266 1046l-73 92M40 1073l88 83M270 858q-53 18 -97 61M118 775l-37 72M44 1057l82 56"/><path d="M177 1094q11 0 17 16M127 1151l40 -13M139 940q-20 -14 -31 -7M170 1001q-11 24 -9 29M163 838q132 63 296 121M430 825l-110 -37M173 802l256 -9M135 1059q35 9 49 12M148 924q37 21 96 68M176 803q24 154 63 313M369 933q-100 74 -215 120M464 789q-203 74 -325 151M48 900q46 59 67 136M131 964q-33 24 -77 41M265 955q-40 70 -64 155M171 851q-27 15 -62 30M196 986q-48 -2 -137 11M177 924q15 3 61 2M140 920q-31 41 -63 100M115 776q58 41 102 68M236 1058q-30 16 -50 30M176 852q25 35 32 60M115 1073q36 24 82 70M244 1022q-66 -18 -123 11M220 920q-17 73 -52 109M283 986q-98 -4 -177 2M128 779l207 8M225 782l124 167M167 992q71 5 144 30M211 977q19 -3 34 11M187 935q17 63 16 99M176 1099l-19 45M298 915q-116 91 -208 156M456 821l-81 105M266 1046l-27 66M174 970q-16 16 -56 51M250 915q-34 93 -66 174M217 786l224 156M140 935q27 -2 46 4M134 1045q74 10 160 2M50 990q13 17 -13 43M437 824q-142 64 -252 126M224 784l219 148M166 1027q-22 58 -47 119M242 1021q-25 21 -45 87M165 1085l-7 49M201 1063q-14 13 -32 28M313 803q63 2 179 -10M263 1042q-91 35 -139 59M46 1003l23 -29M197 986q-54 9 -158 50M113 1037q-23 11 -67 28M225 1070q-65 27 -106 76M259 857q-23 36 -5 69M350 804l101 126M106 880q13 65 43 123M319 787q-36 75 -57 107M147 940q-35 61 -57 131M109 1105l13 49M114 769l327 54M318 816l12 128M119 1006q34 17 71 15M172 800q-24 63 -50 118M463 805q-183 132 -321 246M93 1007q14 45 35 104M307 790q24 104 36 205M120 872q4 20 19 31M161 960q-37 89 -42 186M101 1010q65 22 155 37M281 1034q-72 28 -131 43M452 798l-123 11M418 815l-48 104M127 853q-24 121 -48 207M296 1047l-65 68M139 1013q9 17 12 24M114 992q28 48 40 104M194 1018q-54 45 -115 56M341 926q-35 28 -60 39M473 796l-143 142M90 854l327 -49M172 855q-45 65 -124 141M205 1063q-26 9 -63 16M231 793l209 165M162 995q-6 61 -3 156M94 969q-13 20 -51 33M106 869q-12 68 -48 115M132 1016q26 34 65 92M286 911q-32 39 -48 74M421 768l-76 138M344 811q-135 56 -275 122M229 1077l-33 75M82 1062l35 91M184 887q-35 35 -68 83M118 918q16 -3 55 5M127 768l221 51M350 804l34 117M245 975q-3 39 39 77M473 818l-217 229M281 986q-55 37 -92 86M38 1061l79 92M221 780l236 148M230 1096q-30 8 -54 40M472 824q-163 55 -271 95M471 783q-165 41 -240 75M229 792q1 74 32 102M428 812l-110 -15M186 1088q-1 13 -10 48M98 942q-3 13 -31 35M125 1038q101 -28 186 -16M184 938q12 79 -8 161M257 927q-69 44 -112 79M118 876q-17 73 -47 146M432 780l-83 143M250 718l56 89M480 818l-54 122M226 773l217 164M133 780q-20 160 -87 285M174 963q-41 56 -137 104M106 880q-1 53 -7 81M218 911q1 98 9 186M110 912q-13 33 -45 60M71 943q86 -3 146 15M128 905q-10 39 -7 72M432 802l-100 6M320 790l35 158M116 911q-15 44 -43 96M197 970q-16 8 -17 21M176 803l170 113M192 1105q-11 3 -31 34M118 1015q33 10 65 2M173 996q-28 7 -25 19M168 1095q-21 10 -40 55M158 833q-38 122 -113 232M324 803q-41 72 -67 123M42 1071l35 2M351 928l90 -4M300 867q-22 17 -38 27M188 941q-45 40 -140 89M454 779l-174 296M173 854q-27 67 -57 143M173 923q16 25 57 81M111 906q59 31 114 76M279 987q-35 33 -20 73M123 776l-79 126M191 1012q-57 16 -143 18M74 1023q57 22 80 60M262 1063l-33 42M307 781l19 155M135 1053q-2 30 -24 61M238 927q-60 42 -111 73M203 890q102 17 253 39M180 918q-53 77 -66 150M288 971q-111 10 -216 30M365 956l95 -7M333 944l127 1M248 862q-65 59 -72 128M455 783l-11 158M333 773l-52 297M433 799l-107 -6M258 955q-103 61 -224 111"/><path d="M122 868q-14 23 -31 38M137 904q-23 34 -40 49M306 868q-107 57 -235 139M296 862q-37 33 -102 79M171 810q-48 106 -137 213M339 788q-68 39 -101 78M177 1029q-28 59 -49 126M69 1006q68 20 114 23M254 895q-43 105 -91 186M106 1111l7 44M109 1105l13 53M361 919q-58 84 -75 133M263 922q-5 43 8 93M243 1010q-85 -12 -193 14M207 1024q20 19 69 9M271 909q-74 53 -109 86M427 791q-132 30 -189 51M128 779l199 153M112 983q-2 65 7 139M224 791l213 158M245 977q-17 41 -12 86M116 768l106 16M473 807l-141 -34M95 960q41 70 55 132M123 776q3 119 -31 205M116 1149l43 -9M51 1028q80 20 126 58M266 899q34 40 69 38M66 931l-21 -37M117 761l202 29M251 918q-13 34 -26 64M88 957q15 20 24 24M127 768l-55 99M121 1144l81 -36M270 981q-97 40 -185 77M205 982q-62 39 -161 75M49 893q27 15 27 36M120 781l100 1M53 900l-10 91M221 780l121 167M214 977q-65 4 -169 16M435 961q-190 -16 -364 -21M321 798l112 160M437 804l-124 4M191 935q-30 36 -79 64M421 791l-82 11M39 1059l47 1M348 819q-122 100 -220 218M239 987q-14 45 -12 117M239 783l213 159M135 767l296 50M219 857l235 -50M115 1074q44 12 109 28M133 775l339 49M119 1122l2 22M121 909q-20 49 -55 113M174 1105l-17 29M187 787l248 31M33 895q53 7 86 15M139 1088q32 -3 45 1M318 816q-69 20 -142 54M287 996q-98 -6 -168 13M130 954q10 64 2 97M45 908q64 4 128 15M47 1049q39 22 67 26M330 793l134 158M120 936q53 11 107 54M163 921q12 7 28 14M132 1001q18 24 32 29M162 830q14 128 7 261M270 999q-41 16 -59 33M369 914l69 31M196 836q44 1 69 19M192 1030q19 23 55 28M118 1015q22 20 24 39M64 931q61 57 80 112M42 1056l55 18M455 789l-104 129M134 761l290 59M435 964q-106 4 -163 14M134 861q-9 71 7 112M83 899q21 103 43 214M239 783l121 129M480 818l-23 114M217 978q-9 46 -30 105M189 836q44 65 124 142M169 793l156 132M198 969q23 8 32 35M90 854q3 85 -22 154M201 1146l-34 -42M123 776l180 14M159 1140l43 -1M67 962q103 16 203 37M66 935q107 4 216 27M256 1047l-28 63M183 995q-15 48 -4 108M347 807q-81 157 -140 339M142 1004q-35 2 -72 14M45 1024q42 1 63 26M153 837q-5 36 -9 82M172 855q41 27 86 34M48 896q39 22 58 57M193 1017q-42 55 -74 90M303 790q-67 29 -156 44M93 964q45 80 68 175M435 784q-153 161 -259 315M440 837l-128 -67M425 944l-128 111M119 1029q-10 29 -12 82M341 811l94 150M258 890q2 63 23 125M98 1023q52 27 101 78M167 990q-50 8 -94 17M161 1030q22 41 36 78M116 1100l6 39M122 765q39 67 57 133M441 815l-75 96M141 780q-5 81 -28 150M256 916q-79 55 -151 103M431 962q-146 52 -283 88M194 917q-17 46 -27 73M236 861q31 -11 91 15M338 788l2 162M108 1050q46 10 95 58M37 1067l98 79M462 828l-24 117M94 895q59 33 84 64M42 1031l11 -38M141 908q20 79 56 156M176 803l187 137M345 796l116 144M141 1013q21 47 60 133M455 963q-157 61 -283 122M185 800l151 127M150 972q10 41 35 43M246 931q-71 2 -137 13M438 955q-181 75 -317 146M134 772l90 12M306 807q-93 35 -183 38M91 1073q44 12 72 28M176 789q37 85 78 138M115 1103l-4 54M99 977q-6 14 -27 24M124 996q55 41 154 83M84 1065l47 93M136 1084l15 58M260 968q-78 15 -141 41M130 955q1 35 20 64M225 782l197 170M301 873q-84 48 -160 118M101 983q6 74 19 169M222 786l234 163M134 994q38 50 110 112M459 812l-138 -15M189 837q20 107 70 196M74 941l-29 -42M117 908q56 73 150 132M176 1099l-15 40M40 1024q51 -6 85 5M175 870q89 28 158 47"/><path d="M142 1054q45 15 84 24M46 904q33 -2 40 -3M238 985q8 -1 26 22M171 964q29 42 32 70M339 788l-10 133M46 1020l5 -28M77 851q68 144 127 298M113 1105l9 41M467 806l-14 144M117 880q54 91 142 153M333 917l113 4M114 1079q-4 11 2 21M32 1054l17 -25M84 1065l35 81M232 1093l-43 51M60 993q53 5 108 12M214 833q19 73 74 166M223 786l221 14M245 934q-11 65 11 102M258 1043q-48 25 -81 43M294 989q-123 -5 -251 2M453 792l-116 128M176 792q-26 112 -49 208M159 1079l-2 55M69 941q25 14 24 38M445 784l-103 140M124 1022q-8 -2 -11 15M309 777l46 151M307 973q-73 66 -114 171M119 1122l11 25M115 938q-23 30 -73 93M437 809q-126 93 -193 207M146 835q4 81 11 166M230 778l205 186M75 863q75 50 111 76M130 762l48 37M135 767l202 41M97 897q-8 16 -35 40M67 970q23 21 31 37M176 789l153 145M177 1094q-29 10 -52 55M83 849q91 78 182 155M185 1107l17 33M444 802l-1 165M45 908q94 27 132 64M304 920l126 -115M120 977q2 15 14 26M145 933q13 59 37 125M450 953q-157 82 -291 183M185 890q-59 81 -147 178M282 928l159 -109M164 800l268 -20M372 923q-134 10 -264 11M155 1072l-4 72M153 965q-5 64 -15 118M290 968q-120 20 -245 60M464 817l-115 132M219 946q-51 81 -101 167M277 978q-43 41 -54 90M228 794l127 142M244 987q-63 -1 -111 16M140 920q-43 42 -107 104M347 807l-11 133M154 965q7 58 31 94M433 807q-44 79 -6 138M261 861q-55 17 -118 62M71 937q94 6 174 38M67 962q40 31 77 59M177 1075q12 25 21 71M241 923q8 38 28 81M339 909l-56 152M124 771q0 66 -40 82M186 799q-5 165 -25 347M42 1070l88 81M201 1064q0 20 7 47M199 970q-1 52 -27 115M265 1053l-19 49M177 1001q-65 11 -127 34M145 833q28 1 44 3M225 927q-52 4 -102 14M246 859q-37 122 -45 287M369 938q-115 36 -202 54M443 941q-167 36 -270 58M305 869q-116 63 -267 164M197 1055q-46 14 -81 6M437 824l-190 234M239 867l198 -63M171 810l165 130M133 775l285 42M254 725q-60 113 -147 186M164 999q-40 61 -45 147M432 790l-73 127M171 885q-44 -6 -123 6M444 964l-194 69M163 1047q4 21 -15 35M298 984q-73 47 -130 120M239 783q-87 82 -168 160M167 1138l31 8M215 830q-56 99 -94 222M230 1028q-34 34 -65 57M47 988l27 -23M112 947q-20 25 -70 87M319 807q-44 91 -88 200M114 885q-19 22 -51 49M170 1001q-61 9 -122 30M428 791l-101 18M432 829l-68 94M285 920q-39 24 -68 38M79 973q62 59 109 111M269 1029q-52 15 -98 77M230 791l220 139M351 941l84 -5M137 936q17 65 40 150M128 1020q21 39 38 115M221 780l229 150M258 1051q-47 22 -80 43M201 893q-18 98 -49 257M441 815q-45 78 3 149M217 864q-27 114 -53 268M182 1046q-36 32 -70 56M41 1070l75 79M362 923q-48 34 -72 57M191 837q-2 110 -8 209M57 1003q100 34 209 71M336 915q-43 50 -95 102M252 976q-69 13 -122 46M76 1076q73 13 151 35M257 1055q-44 14 -70 23M130 765l221 163M343 768q29 112 112 195M467 840l-7 105M60 993q84 32 156 47M289 913q27 27 80 15M126 1113l2 42M236 778l190 171M106 869q-20 20 -61 30M202 923q16 83 37 153M208 822q-45 50 -67 108M287 922l139 -88M309 792q0 36 -3 78M122 918q28 70 56 138M185 950q-23 34 -62 83M128 979q49 9 105 37M86 1066q45 15 66 25M326 793q-33 98 -38 202M287 918l163 -104M468 781l-134 17M110 1035q31 17 44 61M125 773l110 24M115 1036q23 2 23 8M128 769l55 44M232 854q-65 65 -99 139M366 911q-18 58 -49 113M141 898q-35 44 -74 79M279 900l196 -72M87 853q20 77 35 122M429 788q-79 34 -128 69M156 833q-6 71 -8 126M443 930q-129 30 -236 54M74 965q60 55 92 84"/><path d="M94 856l333 -47M478 791l-198 241M155 961q-1 81 2 173M219 791q-72 119 -147 229M333 917q-124 50 -292 73M200 879q-57 39 -122 83M432 790q-140 136 -218 236M177 956q39 51 81 87M214 829q73 61 165 99M446 791q-164 33 -275 60M148 1050q-12 32 -41 61M236 778l182 168M355 905q-113 58 -215 80M56 996l7 -35M133 857q-19 133 -22 256M353 958l94 -16M169 885q15 70 19 141M139 895q-31 59 -65 125M318 816q37 78 102 149M341 906q-78 121 -182 245M221 781l250 161M196 1139l-34 -43M71 937q98 3 189 24M127 769l205 33M79 851q5 47 -10 90M246 980q7 1 29 25M164 978q-13 56 -25 110M42 1056l94 95M262 1063q-43 20 -63 45M44 902q23 84 -12 151M120 775l197 31M177 856q-35 63 -82 132M136 963q-18 88 -13 187M179 803l168 109M37 1067l49 9M150 1035q19 35 18 65M44 899l16 88M187 945q-19 29 -46 55M115 996q17 1 52 4M218 983q-16 30 -51 57M329 921l118 21M469 814l-21 114M37 885q201 42 405 67M180 795l236 15M425 776l20 182M44 891q118 19 219 8M181 812q37 61 85 87M300 920q-113 41 -201 57M158 889q-15 46 -39 125M307 863q-113 56 -254 130M448 959q-144 70 -246 149M117 937q6 13 33 28M462 811q-158 145 -234 301M432 829l-113 -42M307 973q-53 36 -42 64M72 852l370 -30M340 918l115 16M361 946l82 21M133 959q28 55 73 73M283 1039q-66 47 -113 104M232 853l203 111M237 844q-93 81 -192 180M69 927q92 22 164 77M145 1051q65 7 145 0M301 1048q-141 22 -257 22M117 761l-69 130M95 1062l37 81M200 913q11 24 -1 32M114 1075q36 10 80 23M406 790l-57 146M251 712l230 107M270 1030l-42 82M203 979q1 38 -15 78M123 776l-32 75M221 922q-12 79 -33 135M42 1071l92 86M148 989q12 66 40 162M117 934q58 11 121 51M253 965q-20 62 -8 143M118 985q-25 2 -64 -3M225 782q6 88 45 137M217 957q-14 65 -46 139M129 1064l-16 91M130 779l185 11M100 955q6 84 17 161M45 908l-1 91M122 1019q43 32 109 89M164 999q-42 53 -54 120M289 1069q-130 2 -239 -17M256 916q-80 48 -155 77M435 964q-140 62 -251 125M276 912l189 -130M247 977q-30 62 -55 162M225 781l124 142M142 1014q-25 38 -29 91M457 822l-14 115M184 1052q-2 26 -13 54M372 923q-98 93 -201 174M124 771l-77 121M303 972l132 -188M144 967q-45 57 -97 82M69 936q27 77 41 183M448 946l-166 81M121 1052q22 17 30 88M429 822l14 110M349 936l-72 99M225 949q-64 32 -148 71M157 1051q19 0 23 -22M101 950q55 39 118 78M475 828q-224 21 -385 23M156 874q-17 102 -40 226M333 917q-62 77 -135 104M60 972q11 11 -10 11M323 880q-56 84 -89 194M121 906q-13 35 -27 56M179 795l273 -3M266 892q-94 58 -190 74M338 788q-38 99 -35 195M98 1017q52 18 103 34M76 929q26 68 52 137M162 1096l-4 47M50 1052q29 12 42 0M448 785l-129 8M163 1034q23 13 40 0M317 804q-73 33 -157 83M82 1014q83 14 188 16M48 900q119 34 230 77M128 769l187 30M224 848l219 91M113 865q-4 116 3 207M209 968q1 39 -5 67M60 996q101 -5 183 14M92 957q39 71 46 130M118 996q-9 54 -7 118M71 854q3 31 -23 46M71 1001q61 25 91 34M152 1024q12 39 43 124M231 795l197 -4M149 834q-23 42 -81 99M62 928q33 -1 53 20M130 765q82 113 165 202M39 1059l48 -3M468 781l-149 6M127 981q16 53 19 102M355 928q-83 87 -178 158M71 966l-11 -37M33 1029l25 -45M180 797l179 120M183 813l252 -9M358 783q-135 165 -242 317M115 1031q-4 28 6 83M232 854q-45 98 -97 191M312 798l65 107M280 1075q-44 13 -53 36M253 864q73 37 124 80M212 950q-43 19 -91 27M198 940q-54 42 -156 96M447 801l-76 117M222 784l202 150M217 869l196 -85"/><path d="M192 911q32 21 53 23M232 775l195 184M481 838l-145 109M180 989q-52 47 -66 83M90 988q55 67 98 165M122 779l333 2M225 782l205 23M262 971q-51 51 -108 112M79 887q80 108 172 226M34 1023q82 10 107 16M137 851q-31 90 -67 167M375 926l58 32M91 851q3 76 -19 117M228 919q-57 42 -116 59M337 808l-59 231M262 1074l-74 79M146 1020q17 17 54 36M194 941q23 7 29 10M122 765l184 42M131 772l174 21M258 890q-25 27 -53 22M174 850q45 62 101 155M158 831q-38 31 -121 54M196 949q-33 77 -70 157M100 955q-11 23 -38 32M231 793l226 139M199 970q-37 51 -80 99M195 979q-37 11 -97 44M228 794q-32 136 -56 231M43 1049l7 -18M104 951q-18 53 -64 118M236 1097q40 -53 75 -75M34 904l401 -71M466 789q-176 146 -292 270M240 778q-47 180 -89 366M189 837q13 67 12 152M137 904q33 83 97 165M373 927q-134 86 -254 142M300 867q-90 65 -184 169M126 865q50 63 105 125M78 962q89 56 202 83M124 775l181 21M133 775l289 49M363 923l-62 125M227 1097l-33 49M176 912q1 68 45 124M330 815q27 -5 92 -19M281 1004q-95 24 -161 58M77 1016q76 22 156 47M167 1036q-24 43 -50 80M147 1077q17 23 10 67M307 925q30 19 121 5M143 1009q10 39 24 98M432 829l-127 -24M38 1026q94 12 156 28M239 974q8 -12 26 -16M439 835q-110 64 -130 147M82 889q23 64 40 134M182 869q-53 8 -138 30M135 1053q114 -22 181 -32M85 1058l38 92M328 815l25 136M188 1054q-37 19 -65 22M140 973q16 62 38 121M316 804q-105 44 -208 67M350 934l-70 136M259 1013q-52 19 -118 66M236 875l210 -65M110 1035q27 8 30 27M130 764l173 29M130 779l211 165M477 795l-42 141M41 1058l3 -24M178 1097l-25 44M114 942q-1 82 13 209M114 769l209 25M372 923l-87 128M89 959q15 36 26 72M143 963q22 52 67 70M466 820l-151 -39M134 929q7 -10 41 -6M77 851q30 83 56 142M116 985q-26 7 -68 11M346 924q-49 76 -69 111M230 791l222 164M118 926q-6 85 4 193M112 981q23 13 69 23M225 927q-12 66 -26 95M420 810l-105 -29M327 818l39 93M52 1056l-2 -21M130 770l196 10M97 953q-13 40 -47 78M266 817q-67 134 -143 259M123 1000q-20 4 -46 16M267 897q-43 111 -70 211M132 995q-18 43 -18 77M279 914q-93 50 -164 82M97 1005q43 23 67 32M350 914l80 43M171 994q20 -6 71 10M180 797q-54 60 -146 105M185 1015q85 -2 157 -22M224 1043q6 8 44 -4M107 1017q16 -7 43 -1M216 782l224 148M146 1085q43 1 84 12M207 876q-64 40 -136 83M441 839l-68 88M110 1074q30 11 53 26M127 981q29 33 66 32M434 793q-125 99 -194 204M150 978q25 0 55 4M44 891l382 -76M423 948q-109 69 -161 126M137 928q16 70 35 157M467 806l-104 152M231 795l196 14M164 800l191 128M41 908q48 39 61 74M98 1022q15 -1 33 20M180 1029q6 31 6 49M263 862q-78 21 -201 75M132 904q-27 36 -61 58M437 803q-209 51 -392 91M210 824q-55 140 -89 283M158 831q45 51 74 82M149 937q-50 64 -107 134M118 775q82 86 144 119M45 1028q37 18 39 40M459 928q-131 37 -217 76M261 894q-29 52 -60 95M351 942l82 -14M264 977q-49 43 -97 94M199 945q-50 25 -137 42M226 773l221 60M305 910l134 -76M155 842q49 61 85 136M206 921q-63 87 -165 149M135 777l229 176M128 769l53 43M98 1023q10 0 20 23M45 894q53 59 88 123M295 978l162 -50M106 954q2 59 12 147M247 924q-73 98 -134 193M174 788l285 -13M317 809q-62 123 -122 219M338 787q-42 102 -48 205M124 1022q17 17 16 40M106 939q-1 16 -8 41M92 903q24 12 55 35M117 776l267 145M76 966l-42 100M192 1030q7 19 20 16M219 909q26 15 60 5M51 903l29 -53M215 1026q-67 34 -128 30M292 978q-66 50 -114 119M249 976q-36 39 -76 78"/><path d="M44 904q48 39 69 68M221 776l152 150M186 1006q-45 2 -64 13M183 937q-20 49 -57 113M189 1017q0 41 -2 66M438 955q-178 31 -319 63M81 1012q13 -2 13 8M233 852q34 -5 94 24M312 811q-42 20 -53 46M227 1002q1 19 26 46M243 1013q55 -26 107 -14M49 893l32 -32M167 1000q-65 36 -131 59M48 900q41 11 64 29M117 761q29 133 55 230M230 791l251 5M238 1066l-38 86M336 798l-2 144M146 1020q3 24 2 62M114 969q-24 29 -64 61M315 796l25 137M221 780l211 181M316 779l-53 292M458 838l1 121M208 909q29 47 58 96M376 930q-58 34 -85 67M364 915l84 31M159 967q5 63 30 118M128 769l235 171M204 917q18 14 24 8M89 853q79 115 186 197M193 948q-41 17 -115 17M262 887q-81 134 -139 263M212 979q-64 5 -169 23M48 896q40 54 45 111M136 932q-24 21 -44 49M432 829q-178 42 -287 99M44 1028l9 -26M364 953q-75 70 -132 140M337 920l94 27M79 970q35 24 74 45M33 1024q48 18 61 34M258 899q-1 42 15 72M174 963q13 74 -18 183M221 781l222 51M216 916q3 38 -7 76M269 820q9 61 24 111M123 757l341 56M219 946q-44 19 -85 22M152 1022q4 9 17 10M115 916q41 82 88 178M261 1010q-77 -10 -136 20M177 849q-41 113 -91 227M338 787q-49 99 -76 193M177 897q37 20 78 77M150 993q-26 64 -18 149M199 1108l2 38M277 981q-41 47 -47 116M244 980q-81 -7 -180 -18M78 975q23 21 40 44M71 857l369 -16M335 787q30 9 105 -2M131 968q-15 86 -9 190M174 1105q-29 -8 -58 5M250 951q-73 85 -129 193M259 1060l-29 36M136 763l182 53M132 1016q26 21 64 44M127 853q118 56 250 65M185 1015q6 65 10 133M71 966l4 -29M88 957q64 59 130 84M248 924q-82 38 -174 54M326 793l49 133M267 1077q-67 3 -129 10M314 791l33 118M203 890q30 31 93 105M450 963q-121 4 -195 13M66 1003q20 37 10 68M62 928q38 31 59 79M82 896q14 18 16 46M116 772q101 50 147 92M340 790l30 128M130 954q-21 14 -42 5M309 777q-62 42 -129 70M172 807l175 102M158 827q58 58 125 102M314 785l36 153M464 789l-202 251M122 1032q19 4 20 10M367 912q-71 33 -147 36M150 972q14 52 50 84M66 931q96 12 176 48M243 866q-9 90 53 181M130 764l38 42M125 1042q43 6 112 34M463 831l-109 122M112 773l113 7M191 837q-26 35 -24 79M177 813l162 123M216 1040q-59 41 -99 76M141 942q5 57 1 132M281 1073q-69 28 -122 78M250 855q-1 52 60 125M45 901l378 -106M209 822q-21 132 -46 264M91 1058l46 90M250 713l62 76M93 979q43 58 61 117M306 868q-59 96 -129 218M338 815q-89 12 -179 25M130 948q39 18 71 20M149 834q6 39 24 86M207 1032q-8 40 -10 76M279 987l162 -63M116 882q-23 70 -72 146M432 770q-186 81 -317 146M163 882q-10 48 -14 121M195 885q18 13 38 31M102 894q151 38 330 67M309 806l-12 249M112 1071q26 12 42 25M109 943q52 -8 83 -5M454 828l-140 -43M324 803l12 140M86 853q-8 33 -42 51M270 1043q-37 16 -39 17M320 784l31 109M295 967q-66 72 -109 181M244 992q-60 -1 -102 22M420 798l-88 118M150 1075l15 72M268 930l156 -100M148 1015q4 45 10 128M316 777l-54 297M70 1019q30 -2 54 14M59 931q94 59 190 121M123 856q-7 33 -9 54M306 807l150 153M63 933q75 51 128 93M262 887q-79 87 -142 170M174 963q20 56 5 119M174 882q10 -16 19 -4M294 1047q-65 45 -98 105M434 848q-117 41 -167 82M183 808q89 79 171 130M456 797l-110 119M120 781l111 12M254 1060q28 -26 63 -36M448 785q-220 66 -414 117M464 827l-123 -26M168 801l202 115M449 779q-86 120 -132 243M123 776l248 170M339 925q-58 86 -110 152M354 953l68 5M47 892q80 82 122 139M223 786l207 171M186 1049q3 20 3 36M59 935l-22 -50"/><path d="M131 772l199 21M236 795q-94 151 -189 275M224 791l229 159M253 977q-89 2 -194 8M311 804l22 113M70 1006q19 32 16 54M94 894q50 88 88 164M204 916q-48 54 -123 99M243 784l66 8M132 902q-9 4 -5 10M82 1049l43 100M260 710l74 99M134 772l94 22M107 917q8 41 25 99M244 983q-28 45 -53 112M136 920q29 65 80 126M185 800q23 29 65 55M49 893q50 12 91 27M309 806q-116 99 -262 192M242 1021q-6 6 23 32M92 966q40 58 48 96M114 769l-63 130M218 1027q-30 54 -64 112M148 1082l13 57M247 853l180 -44M141 898q2 10 34 25M186 800l182 113M343 800q-144 110 -309 223M123 856q-5 93 2 186M316 777l17 139M222 1029q-26 41 -51 77M240 783l215 147M61 969l-22 90M321 801q36 16 110 28M102 964q47 48 90 57M281 931q-53 95 -85 208M123 757l109 18M275 1022q-30 6 -10 31M201 878q-8 110 -13 275M123 1104l14 44M176 1032q26 36 60 65M377 905l74 25M84 892q19 19 33 45M175 896q4 78 -10 189M126 1050q-14 5 -13 27M335 787q-136 150 -283 269M169 867q-43 66 -121 163M50 1031q41 26 63 74M160 887q-25 32 -71 72M106 874q24 24 67 45M285 912q-110 54 -216 94M219 791q-20 152 -26 286M62 964q86 62 167 109M93 896q80 34 161 71M75 1065q27 41 58 94M117 1046q46 14 111 67M209 822q-67 132 -133 249M150 1057q43 20 86 40M339 788l25 130M447 801l-3 163M48 896l45 -39M146 1012q3 20 1 34M420 798l35 132M196 915q-2 108 -39 229M115 769l63 32M163 1101q94 -55 153 -76M91 888q-2 21 -22 48M195 1145l-32 -44M44 899q91 96 155 202M280 993q-55 32 -91 79M132 852q35 114 94 192M48 996q98 39 189 78M291 998q-74 24 -144 61M312 811q-39 65 -81 110M109 905q3 58 13 138M256 864q-8 102 -26 232M171 967q63 -5 125 -2M242 1021q46 -25 74 3M145 1003q2 36 -4 76M62 937q34 35 47 106M97 1005q48 19 86 20M32 1053l57 19M222 789q42 41 108 88M470 797l-28 155M275 1004q-64 14 -134 33M130 954q-17 21 -31 23M197 941q-9 73 -61 143M259 857q29 43 77 82M119 970q36 78 79 176M123 852q-6 45 -6 85M239 1008q-11 31 -2 101M42 1034q79 14 109 47M263 818q-49 47 -94 98M228 925q-46 33 -76 37M221 1075q-15 13 -20 35M460 940l-202 110M235 1017q-32 12 -82 45M99 1058q40 24 71 47M175 896q-47 -14 -128 -4M44 1057l34 22M164 973q-40 58 -45 96M128 906q-10 56 -5 133M91 1013q-8 0 -40 15M64 931q110 10 224 40M128 769q-5 167 -42 291M444 800q-115 88 -143 175M106 944q115 18 207 77M181 1000q-3 23 37 27M255 718l68 67M140 958q-2 12 19 2M128 992q39 49 103 105M179 1055q-53 17 -137 16M120 1117l17 31M69 936q30 66 54 140M128 992q48 -3 100 17M377 918q-95 88 -184 144M283 986l142 -42M224 779l208 28M326 778q-110 118 -211 215M165 1150l32 -3M431 795l22 146M212 949q-18 66 -68 133M74 1010q34 -5 68 -3M371 942q-118 35 -207 57M122 1146l86 -35M150 1075q47 9 96 26M173 923q-6 74 14 160M117 908q-15 38 -43 70M225 784q-57 79 -80 149M163 974q-57 17 -117 29M148 926q35 25 87 88M115 776l-25 78M210 818q2 78 7 160M142 1004q-31 -4 -61 -3M216 782q-32 154 -73 277M94 851q26 86 69 151M161 969q5 78 34 174M169 925q-34 21 -26 38M371 927q-99 85 -210 149M108 871q34 115 54 225M45 894l383 -100M44 902q37 48 28 99M103 1023q45 22 84 60M224 848q79 52 203 97M64 936q60 57 76 121M266 1059q-44 22 -64 49M319 793l47 118M180 795l258 -4M192 837q29 61 75 127M359 917l-81 162M108 875q29 100 34 176M345 796l108 154M266 892q-43 90 -72 126M126 991q22 63 39 156M80 857q73 68 115 131M148 1007q-50 30 -107 51M425 935q-137 68 -256 102M268 958q-32 64 -29 138M202 914q83 44 143 79M171 1048q-34 22 -82 24"/><path d="M122 1158l30 -8M312 793q17 89 18 151M343 790q-87 20 -164 13M177 890q-43 2 -108 43M71 1022q77 12 147 19M245 975q9 5 33 33M135 895q7 84 0 150M373 926q-93 93 -181 179M109 1050q51 1 114 27M77 1016q26 -1 48 14M197 986q16 48 31 127M71 962q51 21 112 30M135 767l46 45M62 964q26 6 35 -11M433 814l-105 -30M235 797l195 160M265 817q14 17 -2 45M161 978q-10 16 17 30M118 766l221 186M303 793l-40 242M82 863q22 16 40 13M225 784q-64 181 -98 367M426 834q-126 115 -177 230M154 965q0 64 3 116M171 811l168 141M71 966q26 11 41 5M221 781l230 149M209 822q-20 116 -43 206M187 787q3 30 10 45M272 1073q-53 1 -83 1M44 1070l-6 -44M425 787l-102 -4M145 931q12 68 34 151M279 900l145 -78M109 1043q0 21 8 75M199 970q-8 43 -54 82M326 936q-29 32 -62 71M295 1045q-116 44 -176 96M145 1053q23 23 23 47M211 977q-9 50 -40 120M180 795l297 1M440 930q-147 75 -269 118M117 776l218 161M212 1038q-10 51 -12 114M93 979q-10 54 -52 91M223 786l247 2M130 762l53 51M231 1007q-80 25 -187 63M263 721l143 69M235 797l222 148M180 895q-42 41 -100 116M291 1057q-82 13 -150 22M189 1017q-37 43 -63 48M210 1033q-10 20 -13 22M471 803l-139 -30M109 921q144 15 315 27M114 769l337 25M139 1056q38 39 61 96M79 970q15 2 16 -17M193 1013q-41 60 -73 104M232 1005q-21 28 -49 85M136 763l200 14M122 758l-89 142M477 795q-166 77 -275 128M80 857q15 28 17 40M203 1067q-55 7 -104 1M379 925l-91 141M233 1016q-20 19 -42 72M236 1062q-25 19 -35 42M69 1017q71 10 123 4M183 1046q1 23 -6 40M174 882q-26 49 -53 125M33 900l55 -43M428 835l29 110M72 968l-6 -40M469 804l-29 137M143 1013q8 46 14 131M298 989q-59 24 -79 45M230 790l205 142M245 916q59 21 124 -2M241 917q15 39 47 78M92 894q8 42 0 62M309 792q-80 112 -131 216M205 912q-59 50 -162 79M420 965q-167 83 -298 193M424 820l-100 -17M146 1020q8 28 20 75M59 935q87 54 167 109M198 843q-60 65 -136 121M233 797l222 163M176 852q33 53 63 123M208 1062q-12 13 -22 26M218 1027q-16 32 -25 50M268 918q-23 78 2 126M193 1013q29 3 71 6M247 986q-75 -12 -151 -28M167 915q71 40 144 107M115 916q23 73 25 146M94 963q52 70 96 135M134 761l320 9M166 1027q3 53 -16 110M310 808q-88 90 -160 164M185 890q-31 40 -51 104M196 912q-1 91 -35 164M62 989q34 16 57 40M112 978q-12 18 -31 37M285 1015q-33 11 -4 40M194 917q-44 40 -125 49M460 817l-109 101M211 825q-5 12 7 29M171 1054q16 42 26 102M117 761l258 167M100 970q-16 25 -54 50M146 929q-42 25 -91 59M90 861q16 10 30 -6M343 768q28 39 104 65M115 971q31 57 52 100M139 957q-15 26 -18 42M336 798q-44 97 -61 207M447 825q-76 63 -98 111M199 1059q-46 39 -78 102M112 976q29 47 41 71M455 972q-120 6 -180 33M176 917q-5 70 21 138M216 1029q-1 25 16 33M266 889q-59 104 -131 170M282 1039l-80 101M476 807l-150 133M209 968q-57 53 -137 104M132 856q46 74 99 151M182 879q32 23 67 59M124 775q3 74 -30 119M82 889q67 36 95 67M125 1016q36 12 89 10M56 968q28 59 23 92M41 908l6 89M118 906q29 92 50 198M235 782l128 142M43 991q90 26 150 22M146 841q-5 70 -21 134M216 782q48 24 120 16M66 931l-22 -32M116 911q-9 37 -20 73M118 996q25 34 38 57M51 993q98 33 192 50M45 901q55 45 94 86M216 944q-39 35 -72 77M56 998q76 29 121 43M147 1059q-29 8 -104 -10M43 1002q32 3 34 14M175 870q14 91 26 193M275 1051q-50 24 -73 47M182 972q-43 18 -140 62M239 992q-67 47 -125 122M176 917q6 76 61 157M174 998q-67 38 -127 63M240 1007q-64 35 -114 99M161 960q-39 13 -67 5M257 895q-59 64 -78 102M357 913l74 49"/><path d="M180 797l162 127M77 1064l39 85M181 916q-16 72 -7 143M201 878q-61 55 -137 140M130 770l-40 81M122 779l311 58M102 894q95 -25 166 -36M109 1106l62 -10M276 1040l-81 103M431 814l13 127M296 995q-107 47 -177 127M121 1161l46 -23M128 768l-38 86M243 1111l-54 33M240 845l186 95M239 1102l-37 37M172 800q3 45 -4 100M99 894q9 12 16 28M139 1057q21 13 13 22M166 800l195 135M340 933l-62 106M333 917l-76 117M147 936q-26 -4 -41 17M47 1049l76 107M284 1017q-60 25 -103 92M248 933q54 19 113 20M123 1000q39 22 96 22M459 775q-65 101 -38 168M83 899q77 16 135 12M224 784l100 11M216 782l210 28M199 921q-30 45 -65 73M122 917q54 75 149 156M434 839q-142 54 -257 117M126 865q-33 84 -91 169M223 875q-55 58 -79 146M46 1071l30 5M288 995q-107 -19 -199 -36M170 809q63 22 96 51M241 858l179 -48M63 933q34 20 49 48M260 1067q-90 6 -140 -5M119 992q-29 44 -81 76M225 1064q-5 19 12 45M198 843q-47 32 -89 78M33 1054q81 18 109 19M176 896q-38 -13 -92 -1M223 912q-71 61 -175 119M225 784l234 163M163 1146l36 -8M44 1057l75 50M176 964q19 46 5 85M470 796q-229 110 -409 217M45 1065q39 21 67 37M330 815q-83 134 -176 268M271 1026q-110 7 -230 32M258 889q-78 31 -145 49M41 1070l69 47M169 793q-23 56 -51 83M257 895q72 45 193 52M434 790l-90 159M102 1015q7 48 22 126M204 894q-64 29 -142 70M329 884q-49 75 -54 166M226 852q-36 2 -70 22M208 891q9 37 25 128M284 939q-114 43 -234 96M259 978q-5 3 5 29M332 773l10 174M275 1050l-29 51M455 781q-131 87 -179 141M463 784l-29 150M337 940l115 -9M251 718l181 89M492 793l-150 122M266 1074q-91 27 -132 83M141 1037q19 48 10 103M146 973q-32 55 -47 85M265 1077l-29 20M47 892q35 4 47 3M122 1023q-19 17 -40 27M222 784l249 -1M126 765l318 31M125 1030q40 23 102 73M254 898q-39 101 -77 176M228 786l203 8M110 1032q37 13 67 42M450 923q-150 71 -265 92M470 788l-144 142M78 975q15 57 12 96M222 1029q-7 43 6 84M184 938q-37 27 -117 39M228 794q-33 40 -59 82M114 1114q26 -5 45 34M37 893q108 23 171 27M435 950q-199 38 -397 83M119 1029q33 10 66 26M200 1104l-14 44M321 806l103 142M189 887q-53 5 -127 50M118 766l341 42M132 898q56 22 137 30M130 765l233 159M158 834q34 54 36 100M262 713l182 61M456 787l-91 169M160 1081l-8 69M220 920q-42 38 -76 47M308 977q-65 43 -83 93M285 914q-56 85 -90 145M204 978q-36 3 -78 13M329 885q16 17 43 44M181 1109l15 41M167 1001q-6 28 6 44M98 1022q50 29 96 83M342 936l121 -3M41 1055l82 49M64 962l-1 -28M446 804q-214 99 -393 189M208 909q-3 76 -21 102M135 777l289 53M259 976q-51 36 -115 67M124 1101l44 3M174 913q-43 45 -52 106M119 766l112 29M134 761l-101 139M256 890q-23 117 -17 222M297 971q-126 47 -245 85M464 812l-4 128M218 1027q-18 32 -31 51M231 852l239 -64M202 1108l-7 40M240 868q-63 46 -79 92M225 784l241 29M442 793l-100 143M151 936q-30 35 -42 107M247 857q-2 33 51 58M349 923q-74 85 -155 143M138 965q12 81 20 178M233 772q-37 174 -65 333M94 1058q42 36 71 89M43 1002q84 22 129 27M432 788l-12 177M199 1101l-11 50M242 1098l-49 46M123 845q44 77 80 144M152 962q-46 25 -95 41M141 898q97 28 198 38M162 1096l14 40M101 1004q34 35 40 75M269 1016q-49 22 -91 81M132 852q-30 77 -72 120M468 830q-85 55 -98 89M270 919q-36 86 -41 154M225 781l238 3M224 1043q-29 28 -58 52M278 995l163 -172M262 1074q-111 -1 -212 -18M173 854q36 63 68 163M117 776l238 172"/><path d="M62 928q31 18 33 32M37 893q119 85 245 153M323 783l10 140M354 904q-68 49 -158 82M254 1043l-26 57M267 817q-4 121 9 223M257 895q-45 106 -92 190M93 857q9 39 11 74M122 758l65 36M137 899q68 -29 124 -43M235 788l191 152M197 907q16 104 29 200M174 1034q16 53 30 115M197 1055q-47 41 -86 102M130 1000q27 43 64 98M341 918l119 22M144 1076l32 60M416 810q-30 73 19 122M190 1021q-15 39 -46 64M119 1006q34 27 69 48M454 819l-101 132M71 1007q150 -12 274 -7M98 1007q-5 33 -25 61M84 1065q48 13 73 16M208 1025q20 30 71 42M51 1055l68 102M188 836q-46 18 -102 14M222 784l245 18M221 922q-63 51 -151 97M132 995q22 42 47 87M218 911q95 28 214 14M74 1023q18 -12 21 -10M111 872q10 29 30 58M463 825l-156 -35M236 861q-24 38 -46 85M185 1059q2 9 -1 11M37 1033q97 9 165 29M158 1143l28 5M262 854q-4 30 -37 53M177 849q-42 62 -106 119M429 832l27 97M97 1008q53 38 106 91M185 1054q4 13 4 18M113 1071l4 82M92 966q1 66 -14 113M75 1056q22 33 44 66M122 918q44 72 114 144M229 792l224 158M482 801l-131 140M202 1112q11 -14 40 -8M67 962l-16 93M166 922q3 78 36 176M194 934q-27 24 -64 20M254 927q-30 13 -72 14M177 849q-28 33 -55 90M74 965l-32 91M112 1065q22 13 27 17M150 993q-42 4 -84 10M286 911q-48 90 -56 155M125 975q-6 30 -3 68M406 790l-69 18M41 1055l89 96M430 799q-41 84 2 146M258 869q3 46 -18 135M131 772l230 163M228 788l213 179M230 791l234 48M181 847q72 1 148 37M170 802l169 150M272 924q32 17 70 -3M168 806l166 123M97 1018q6 37 12 94M80 858l338 -35M343 784l-13 143M222 795l260 6M354 779l86 162M183 1046q-2 18 -16 25M437 824l27 138M161 976q1 48 18 79M478 809q-158 127 -208 234M184 935q40 63 96 97M249 716q21 148 33 257M263 818q78 72 158 133M121 1007q32 18 67 19M198 1144l-36 -47M51 903q49 46 81 92M268 958q-46 59 -79 121M204 917q15 11 17 -2M186 799q16 74 16 115M44 904l42 -54M341 925l-83 134M95 1012q-11 1 -44 16M435 825l-145 211M150 1019q-32 25 -39 52M188 836q15 48 16 80M107 1008q-9 33 -27 61M84 1065l44 83M192 948q7 57 -11 97M267 867q-81 52 -205 120M86 1060q42 14 56 13M107 947q75 11 164 71M44 1048l88 94M188 800q4 168 11 358M298 915q-13 34 15 63M377 932q-81 90 -132 176M122 1158l73 -46M112 773l251 156M146 1012q16 38 48 98M63 1017q86 33 168 91M173 854q-42 57 -111 110M128 906q13 86 11 176M159 1140l51 16M186 800q-10 36 -30 74M76 850q80 134 167 261M293 1049q-63 39 -94 89M122 921q45 83 117 190M164 972q26 7 80 20M240 783l124 170M292 910q-17 44 -1 87M186 1088q19 -9 48 -15M114 972q-23 59 -67 96M154 1077q38 -1 75 0M227 990q-23 21 -62 37M284 920l167 -143M287 971q-97 69 -157 167M69 941l-24 -40M337 808l47 113M33 895l418 -55M112 1065q24 13 32 17M112 947q0 67 16 164M259 924q49 24 112 22M61 969l5 -34M123 1000q-31 6 -77 20M452 816l-196 236M119 766l109 20M116 1025q24 22 30 63M446 777l-131 29M441 819l-103 -31M256 1052l-64 87M230 1004q1 18 28 46M258 721l170 73M60 993q25 42 20 71M117 759l51 42M254 927q-76 5 -145 16M230 799l133 130M431 814l-119 -25M69 941q20 59 15 124M242 851l206 77M144 1082l6 55M66 931q59 67 75 148M341 912l-61 128M207 1145l-39 -50M101 1010q40 36 63 88M140 901q34 26 72 48M67 929q34 89 65 214M353 928l74 17M254 927q-22 78 -15 140M184 1071q20 3 50 4M442 838l-118 95M233 797l199 38"/><path d="M161 834q-14 69 -31 120M270 999q-38 36 -46 103M263 1035q-51 34 -85 62M248 924q-42 75 -97 122M63 934l-29 -32M443 944q-170 27 -281 33M219 909q-7 116 -20 249M151 936q-39 15 -73 32M168 1011q-33 2 -43 18M174 788l159 128M117 1116l2 25M76 1014q29 -3 54 6M457 823l-146 -41M343 956l102 -32M125 773q-12 124 -80 220M41 1070l80 31M77 851q23 35 39 56M126 849q-1 92 24 170M135 849q-21 137 -25 256M74 860q73 105 139 170M140 901q27 22 46 35M239 1076q-26 6 -36 18M118 996q-26 12 -68 35M189 887q59 -32 113 -18M294 970q-104 20 -180 65M131 772l233 143M281 986l140 -52M130 1073q18 11 41 24M268 1039l-65 108M108 1050q36 -9 60 -9M32 900l27 97M253 965q-11 14 -18 48M161 834q20 124 25 254M363 958q-119 27 -224 55M444 817l-108 122M67 929q106 17 213 62M195 887q25 38 64 126M192 1013q1 65 2 133M130 764q45 172 63 313M290 989q-22 -5 -17 14M182 972q19 59 15 143M427 791l-66 144M155 961q14 10 23 11M315 781l41 161M442 943l-185 112M154 1096l13 42M133 994q22 40 51 77M117 880q-21 24 -53 51M220 857l226 -47M267 817q-69 38 -159 66M249 857q-9 28 30 43M41 908q51 53 73 127M73 857q15 25 11 32M235 853q-1 40 37 79M426 834l-79 -49M120 1062q21 15 34 21M182 879q-1 108 -17 268M43 1049l-5 -23M306 807l35 111M211 980q-3 48 -17 115M93 1007q51 31 91 64M321 797q38 20 114 36M82 1062q58 15 106 22M64 977l-22 79M60 996l1 -27M291 930q-63 61 -102 83M416 814q-117 60 -195 98M158 888q-32 3 -99 47M346 940q-58 70 -99 118M224 784l121 168M239 859q51 43 125 83M310 868q-33 26 -64 63M174 999q-45 63 -46 156M219 914q-53 46 -117 68M236 876q-87 57 -172 142M247 1058q-20 11 -10 18M357 906l78 58M219 946q31 14 73 32M276 988q-37 42 -34 110M265 903q46 35 112 29M41 1073l76 51M273 934q-21 33 -28 77M109 944q-6 9 -21 26M167 893q41 25 77 90M346 916l88 18M227 856l235 -45M314 791l143 137M145 833q57 79 97 186M219 914q-76 90 -190 150M51 1025q93 7 175 8M57 1003q30 5 41 20M250 718l196 108M122 876q60 48 137 90M90 854l373 -49M195 882q-20 79 -63 169M120 781l200 9M122 1139l82 -32M258 899q-19 21 -35 13M200 1104l2 36M230 871q52 27 116 45M43 1002q47 -1 76 4M481 797q-157 91 -232 180M228 860q-25 99 -28 204M470 788l-152 9M258 1050q-32 14 -35 18M47 988q57 7 110 13M119 916q-25 38 -76 86M440 819l-120 -35M168 1100l-14 39M212 823q48 18 111 57M45 894q66 9 133 21M125 911q-23 83 -48 160M261 861q40 -4 68 22M169 1032q-21 56 -39 119M453 782l-133 6M208 833q-44 74 -64 134M239 1008q-36 24 -91 76M131 1145l27 -10M312 770l21 153M218 786l214 139M233 797l188 146M284 1052q-73 38 -131 89M305 796q54 9 148 5M237 1022q-4 5 21 28M222 947q-12 71 -31 148M180 895q-46 31 -116 82M106 880q4 28 9 62M194 985q28 -9 44 0M428 791l-75 135M312 793q-103 101 -212 177M260 978q41 0 85 22M38 900q54 43 79 76M126 870q-3 75 15 143M232 924q-53 41 -94 65M167 997q-42 7 -69 20M118 781l-78 116M418 807l41 121M185 1046q31 21 81 33M51 1025l3 -20M331 886q-54 12 -105 39M115 993q7 -2 25 -8M183 1087q18 7 43 28M435 811q-119 80 -171 166M204 1056q-19 32 -44 74M442 796l-107 -20M359 915q-60 41 -121 70M163 882q49 30 99 89M225 1077q-5 8 14 25M228 1019q-1 23 17 89M176 990q15 -1 59 20M209 822q27 59 95 96M199 972q31 41 87 80M168 1025q14 43 18 79M210 1064q-23 7 -53 11M417 817q-107 76 -157 161M443 935q-181 49 -320 98M250 1033q-36 40 -56 77M119 1005q24 31 34 63M214 833q-69 83 -143 168M363 923q34 23 97 22"/><path d="M102 982q-20 20 -64 44M200 1064q-67 9 -154 1M44 1070l0 -37M202 1139l-33 -48M122 1158l72 -48M138 854q30 56 52 82M99 1021q64 29 147 81M34 904q161 -24 296 -18M233 843q-73 86 -126 194M161 1030q-18 48 -41 87M62 928q104 56 233 105M119 1146l39 -12M125 856q-15 80 -28 138M458 812l-172 225M240 778l101 138M221 945q35 13 86 28M423 948q-187 30 -376 50M193 1138l-31 -41M51 897q37 45 40 80M164 916q15 4 41 -5M32 1054l98 97M258 889q-80 119 -140 213M338 800q-54 93 -94 195M76 1071q49 8 66 8M170 1105l-9 23M123 776l216 24M453 944q-194 87 -340 173M72 968q24 31 37 65M106 869q129 54 255 84M123 945q-13 11 -25 35M162 1036q6 28 -8 47M235 848l184 89M280 991q-65 35 -130 86M231 1108l-35 42M101 898q39 95 61 198M151 841q45 5 97 21M130 770l183 12M321 797l139 148M279 1026l-80 124M75 930q73 53 141 99M131 1042q-17 32 -18 113M214 949q-58 26 -143 52M273 924q-62 84 -131 155M68 931q65 82 100 204M208 916q-8 96 -40 188M173 920q-49 85 -64 186M243 1013q-35 38 -80 133M33 1029q46 15 52 29M258 890q-94 70 -204 115M112 996q-4 53 -2 114M427 836l-110 -32M342 785l28 131M438 826l-109 -14M339 919l88 26M424 794l7 153M223 850q-3 38 7 67M245 852l190 -48M139 1057q37 21 60 44M456 797l-142 -12M106 1019q36 42 57 124M120 853q-16 121 -32 205M163 1047q5 16 -12 21M257 861q37 -11 57 1M134 847q89 15 196 32M164 978q-49 15 -94 28M231 852q-73 121 -122 260M231 1108q-67 -2 -104 33M416 810l41 149M173 870q-48 66 -134 166M273 971q-108 18 -228 57M174 1059q18 7 36 5M205 911q-61 63 -170 123M454 829l-142 -18M199 973q-60 45 -167 80M85 1053q18 41 40 86M179 885q-13 43 3 109M41 908l396 -106M224 1102l-24 44M462 850q-207 20 -344 56M51 1028q97 14 188 39M76 929q34 31 71 80M218 786l237 177M213 1022q-26 37 -56 59M113 865q64 48 136 73M262 1012q38 -27 78 -20M285 1017q-64 4 -117 17M84 889q1 56 -36 107M240 845q-75 11 -121 2M272 978l192 -27M174 963q-6 22 -22 61M165 886q-47 80 -133 168M326 780q32 99 96 168M231 859q-85 63 -175 139M305 784q-14 84 -1 136M118 1101l56 4M291 930l142 -100M111 774l359 22M221 949q-9 87 -22 209M119 916q66 22 152 59M173 1045q16 32 28 65M34 902q86 79 119 145M201 973q2 54 -16 128M163 994q-62 42 -129 72M236 865l210 56M127 1000q52 -7 114 14M324 795l-70 248M198 969q-1 69 -30 176M194 1067q-14 13 -40 29M153 932q-48 35 -103 99M284 920q-94 56 -160 114M274 1008q-59 40 -115 132M132 902q35 34 62 82M328 783l24 137M118 1019q39 11 89 13M41 908q107 20 173 41M131 968q-38 16 -90 22M173 967q50 14 89 51M294 966q-53 59 -62 134M191 939q-46 35 -137 66M148 963q-36 12 -70 5M127 769l305 38M380 931l46 30M161 1139l32 -1M255 899q-39 103 -76 185M64 1004q72 38 120 85M197 1064q-46 23 -84 53M61 966q26 8 33 -4M232 1022q-24 4 -61 26M106 869q-2 61 -11 91M137 936q15 49 31 93M263 1042q-55 28 -97 51M117 776q20 75 20 123M440 811q-100 5 -177 7M326 798l4 146M436 818l-73 140M444 774l-135 32M71 937q36 11 69 21M137 770l186 13M245 844q-79 29 -129 67M95 953q25 34 59 60M185 1046q-34 22 -59 19M312 789q-105 61 -216 105M164 916q-45 78 -65 152M373 926l83 23M324 795l-75 257M122 1119l56 -25M167 916q32 2 107 -14M49 893q33 6 43 10M432 835q-41 58 6 110M119 1069q-10 21 -9 41M301 973q-57 45 -67 96M130 954q-33 68 -78 102M100 955q-15 65 -59 93M269 914q-109 93 -228 159M316 804l-51 228M199 917q24 48 38 105M432 835q-145 13 -231 59M200 1056q-42 37 -63 92M166 1093q19 13 32 51M137 851q-16 37 -21 61"/><path d="M86 1076q49 21 81 66M66 931l-21 -32M119 982q44 49 106 88M221 857q-28 112 -50 249M41 1073l3 -45M55 987l1 -19M146 942q-16 17 2 51M236 846q-39 10 -71 40M146 1085q32 18 52 59M235 865q-8 45 9 115M170 996q-8 32 3 49M372 929q-148 43 -316 67M149 1003q-28 56 -26 139M344 949q-79 74 -178 144M231 795l110 123M123 845q35 148 81 304M184 943q32 31 48 79M117 1118l15 25M167 1040q24 13 45 6M118 766l218 11M341 801l89 156M372 920q23 19 74 10M62 964l6 -33M306 981l129 -197M140 901q48 11 122 -6M319 807l50 131M134 761q3 96 -13 177M249 931q80 14 207 -3M148 924q4 75 8 165M262 871q-78 13 -199 63M167 997q-10 35 -10 64M136 920q-15 28 -11 55M443 800q-155 127 -255 219M280 1075q-59 5 -94 13M179 795l152 122M116 1061q33 15 73 18M207 984q-5 42 -30 102M240 783l193 145M173 852q23 41 21 82M214 987q2 35 7 82M440 811l-98 136M288 1066q-59 18 -86 42M429 793q-130 97 -220 199M457 813l-107 -9M128 1028q-14 40 -9 118M33 895q60 44 95 72M158 971q8 55 39 93M138 966q-27 63 -44 104M195 882q-5 93 -10 219M188 1026q30 23 82 22M425 817q-128 17 -181 44M284 923q-90 49 -145 90M170 809l167 111M221 777l128 146M272 924q-24 75 8 125M89 897q6 56 -12 119M132 1059q4 15 -5 15M145 833q-19 75 -74 140M268 926l178 -149M51 897q71 84 94 156M76 850q12 75 -12 112M125 993q23 47 41 100M141 908q-3 44 40 92M231 795l223 12M422 824l-88 -26M142 942q29 7 56 49M231 1060q-13 23 -4 51M132 1001q-7 6 -2 21M128 768l208 175M34 902q54 54 73 120M452 816q-161 23 -257 66M259 976q-84 1 -166 3M141 973q55 3 149 7M112 876q-1 65 0 117M167 990q24 42 112 77M140 856q66 3 125 1M107 1017q-20 24 -66 44M262 1003q-43 21 -77 56M196 1065q1 30 6 78M271 976l172 -41M119 1141l74 -35M49 893q88 90 152 171M164 1037q11 33 7 60M228 1112q55 -71 118 -115M185 890q51 -36 78 -28M176 792q49 101 119 200M207 876q-42 40 -59 83M95 1070q49 16 98 36M117 921q4 36 25 86M124 1060l3 81M133 844q33 129 91 234M139 1082l13 68M198 883q9 12 10 26M287 996q-54 17 -79 29M110 1032q29 9 37 27M161 834q-34 43 -102 101M216 944q-51 70 -105 127M233 782l144 123M375 926l67 26M127 768l203 170M187 1011q39 5 95 11M440 785l-79 155M38 1026q42 18 46 38M306 936q-98 35 -139 64M235 1017q-9 14 -1 52M245 844q-90 12 -168 7M337 808l19 132M134 955q36 15 68 22M156 833q37 66 44 142M137 770l-86 127M41 1070l7 -39M336 947l88 -6M158 840q103 54 182 93M82 1050q45 21 60 23M281 1015q-99 30 -174 96M78 965q10 22 3 36M473 807l-103 112M263 862q83 38 177 79M341 926q-112 98 -225 184M169 876q35 17 59 32M176 879q-14 8 -6 48M238 983q-64 -5 -126 -5M315 790l62 154M39 1059l80 63M127 768l98 16M136 1082l30 53M123 776l309 12M130 762l-85 139M164 973q-12 49 -24 74M183 888q116 30 272 84M249 938q-55 34 -75 63M82 1064q15 26 28 53M225 781l208 177M44 891l35 -39M150 993q41 30 145 40M230 791q-28 16 -44 9M319 790q-103 58 -200 93M243 784l120 145M230 1066q-32 17 -59 40M85 893q94 19 197 11M222 795q-75 98 -152 163M102 990q70 37 173 61M204 883q-44 6 -68 47M435 961q-138 61 -246 118M222 786l128 128M300 867q-84 16 -160 68M48 1030q47 -8 81 8M146 841q-31 115 -107 219M277 978q-66 47 -138 110M56 1000q78 32 126 58M473 807q-144 92 -199 200M64 1018q24 -9 31 -8M45 993l26 -25M165 1147l31 6M294 979q-116 -7 -223 -20M160 971q-29 28 -40 60M214 863q-27 103 -58 226M173 999q-55 7 -101 21M189 1013q-11 63 -35 126M446 828l-15 129"/><path d="M147 932q13 64 42 140M253 1071q-87 14 -139 31M118 906q-16 36 -44 59M239 1071q-76 27 -123 77M117 1046q-7 14 -2 57M139 957q58 10 157 8M330 927l94 14M293 915l151 -119M261 854q-12 46 -65 112M194 1066q-9 29 -26 76M42 1036l18 -49M207 990q-51 -13 -131 -24M223 862q-24 111 -32 251M174 913q-61 41 -117 90M127 1147l27 -8M233 911q-60 114 -110 231M178 881q81 48 135 140M425 791l-64 144M160 971q77 20 157 51M231 783l78 24M127 1145l67 -35M101 1004q33 38 38 84M106 880q1 19 1 37M464 827l-192 214M45 899q74 85 94 164M281 931q-44 84 -53 169M332 808l94 132M85 893q-3 89 -41 155M82 1014q72 24 148 52M148 836q55 114 130 219M66 935l-22 -36M106 1043q43 7 83 36M120 772l337 50M159 962q18 71 78 135M191 837q-1 121 -2 248M128 906q-14 94 -12 194M314 862q-22 49 -15 134M236 1011q-30 25 -74 85M350 938q-54 64 -80 92M456 960q-196 -18 -352 -29M204 889q-24 84 -66 198M176 964q-28 52 -88 94M481 816l-144 124M60 993q108 2 209 36M167 915q-37 33 -39 64M122 849q-30 127 -78 221M120 781l223 19M50 983q105 3 182 22M246 859l192 96M267 1040q-66 24 -125 39M134 761l96 17M45 993q24 41 -9 66M93 982q55 70 106 168M143 990q-44 42 -96 64M190 1059q-37 33 -60 79M193 948q-27 21 -65 31M225 1064l-27 82M224 779q-54 115 -71 198M145 905q-26 95 -24 196M341 811l10 117M185 877q-33 46 -58 104M60 987l3 -26M52 991l17 -25M138 895q-23 48 -37 85M160 971q32 -1 95 -11M273 1003q-62 27 -129 79M249 1052l-20 53M260 957q-42 59 -78 118M264 871q-79 57 -201 146M127 1141l37 -9M290 1059l-60 54M118 906q-17 7 -42 23M38 1033q88 8 136 26M145 1053q30 8 43 4M116 772l229 34M280 1032q-54 53 -80 114M254 725l64 72M438 811l-153 234M132 902q42 15 87 12M247 977q-75 4 -150 17M282 915q-109 56 -218 103M124 847q3 44 21 79M39 1063l7 -43M97 897q44 109 71 245M416 810l-79 138M71 854q71 118 126 210M239 1096l-51 57M181 847q-30 80 -54 179M283 1068l-57 39M262 1018q-99 -16 -212 13M273 924q-42 73 -57 116M418 815l4 143M170 1109q28 -8 61 6M254 930q-20 14 -42 19M208 833q-39 82 -46 165M309 792q-56 44 -108 102M455 842l-129 98M181 1054q0 25 -10 51M446 828l9 102M305 793l-33 283M205 920q-51 53 -131 103M135 849q-21 92 -36 171M186 800l173 119M63 941q37 34 58 111M80 858q26 85 47 161M43 1049l85 106M163 873q98 28 173 54M448 794l-107 156M239 847q-31 54 -68 120M116 768l238 170M155 829q-7 88 -15 181M118 1019q-28 25 -77 51M451 840l-110 -39M235 865q-78 47 -140 88M168 1025q-45 36 -127 36M69 1017q58 31 78 83M107 917q134 11 275 7M86 1066q13 24 28 48M34 1053l74 56M95 980q11 63 28 124M149 1003q2 33 2 66M115 996q29 41 48 85M211 1032q-76 34 -170 41M126 849q22 131 40 246M266 933q-40 64 -60 99M160 971q7 75 39 167M126 870q46 39 90 46M231 917q7 78 51 122M438 811q-109 80 -130 166M32 900q50 13 76 34M118 1015q55 23 147 49M329 883q-76 87 -152 211M329 809l-71 250M95 897q-6 59 -44 131M330 879q-126 40 -263 98M451 800l-134 9M110 986q31 43 47 75M119 883q30 -7 60 2M350 804q-70 70 -130 116M36 898l395 -72M99 1021q59 32 129 91M175 849q0 110 -25 226M99 994q-15 1 -51 2M297 928q-72 86 -126 168M130 1000q25 38 57 78M114 919q57 64 148 121M127 1019q63 -21 153 -4M232 1022q-72 14 -155 49M54 982q33 18 45 39M240 970q-38 49 -97 103M72 928q75 5 110 17M120 781l344 8M87 1056q45 37 69 90M175 870q54 28 138 63M232 877q-16 19 -25 41M451 965q-65 11 -111 26M162 1035q-20 32 -47 38M182 972q-21 51 -53 102M446 930q-149 87 -269 164M150 1019q84 -14 166 5"/><path d="M84 853q67 57 100 85M138 995q-32 4 -68 11M121 1101l-8 54M249 976q-57 4 -82 14M65 972q42 22 83 43M213 1036q-56 55 -91 122M182 1019q-53 40 -134 40M254 960q-33 67 -57 155M432 802l-112 -14M453 950l-168 101M173 898q50 7 118 32M372 920q-66 34 -123 51M121 906q33 79 69 153M117 761l198 45M230 790l190 175M100 990q-9 8 -35 19M208 833q16 61 52 121M220 782l133 159M347 785q28 15 108 12M361 943q-142 43 -311 87M120 861q48 44 88 51M228 1112l-28 40M228 916q-54 115 -95 243M130 770l200 24M291 930q-43 66 -30 102M197 986q6 38 -8 88M145 1035q13 28 -4 44M124 765l48 42M106 1111l64 -2M176 889q26 88 70 212M56 998q38 5 62 17M152 1150l41 -12M114 950q27 50 37 118M298 863q-87 60 -177 144M312 860q8 -4 23 22M346 924q-41 31 -73 47M130 770l367 26M196 946q-37 79 -87 160M333 793q-50 93 -88 182M122 1146l31 -5M170 884q-43 41 -120 99M238 791l182 7M195 887q-4 69 -7 139M56 968q38 18 62 28M313 803l124 121M124 853q46 69 88 126M222 784l223 169M177 924q-65 33 -124 78M60 993q69 37 103 66M128 1045q17 22 23 95M124 863q-31 73 -87 124M204 1103l-1 44M140 935q-35 -11 -74 -4M99 964q46 56 80 86M259 857q-40 38 -69 79M172 855q-41 71 -111 159M128 768l-77 129M117 759l339 62M53 1002q42 37 69 68M135 778q-12 113 -64 188M226 773l220 190M211 825q-74 88 -167 172M197 941q-47 38 -131 81M313 991q-80 34 -132 85M128 1066q-14 20 -14 36M163 873q7 92 -21 202M230 1004q-58 50 -108 150M107 917q11 34 36 73M120 781l250 138M437 817l-122 -27M191 935q42 34 80 81M106 983q3 62 15 124M119 982q-4 53 11 91M195 886q25 29 64 92M132 995q47 33 138 53M261 861q50 61 55 163M281 1004q-64 28 -125 85M273 975q-108 7 -230 24M41 1073l80 34M334 800q-90 144 -196 283M159 834q-37 90 -115 194M154 830q-17 137 -43 284M234 1073l-32 82M117 996q35 42 71 88M139 987q-22 63 -20 135M162 1036q44 22 100 29M303 862q-21 31 -30 70M64 962q11 25 -7 41M183 995q-69 13 -133 35M445 800l-109 131M295 967l138 -9M262 1018q-48 19 -96 75M204 886q-49 5 -87 51M271 905q-18 31 -21 46M330 879q-70 93 -129 225M163 921q-51 28 -96 56M272 1008q-91 33 -158 94M236 795l189 140M136 963q-31 30 -66 56M118 1044q-25 4 -65 17M200 975q-36 57 -77 129M54 1005q32 36 36 66M232 775l202 159M204 886q56 -27 127 0M441 819l-114 116M197 1115l-5 24M79 852l387 -39M230 799l227 133M172 792l194 144M469 828q-185 141 -318 315M187 877q22 42 40 125M126 1065l-4 74M74 978q28 19 51 38M116 953q-16 13 -48 55M241 843l202 92M245 934q3 19 17 37M46 1003q24 -1 15 2M225 781q-30 154 -51 278M277 981l177 -174M168 1011q4 18 41 24M204 916q-49 41 -129 53M281 1077q-125 1 -234 -7M466 839l-128 -51M169 796l204 122M188 793l151 141M230 1066l-20 90M221 777l95 0M378 929l-93 116M219 845q-77 69 -165 137M262 895q-71 70 -112 121M67 962l2 -26M215 830q-5 133 24 281M76 929q26 24 42 56M326 940q-110 74 -244 120M208 982q79 -4 138 15M121 998q-8 64 1 160M112 876q51 113 121 225M207 918q-39 39 -86 47M210 824q-70 90 -153 179M164 973q-59 27 -122 58M237 792l202 42M125 856q25 128 46 249M359 915q-44 37 -64 56M194 841q34 46 93 81M211 974q-18 50 -72 114M136 763l294 42M129 1038q25 13 55 51M207 990q-48 -10 -116 -13M249 1052l-56 92M253 965q-47 56 -107 123M193 1017q-9 60 -27 122M144 1085l10 61M79 852q-7 32 -47 48M182 803l197 128M119 1029q-17 16 -35 36M172 792q99 88 191 137M335 787l98 167M222 786l215 167M261 854q12 35 20 70M211 980q6 51 15 127"/><path d="M291 900q-15 44 3 79M196 888q7 9 0 24M130 1000q17 27 27 40M122 1158q23 -38 46 -16M209 968q-46 66 -99 149M262 894q-71 67 -113 109M176 990q-38 15 -51 39M239 847q-40 105 -67 205M267 897q-50 105 -95 188M378 929l47 -6M154 1058q15 15 11 27M86 1076l34 76M179 1103l-23 43M177 849q-46 33 -120 89M279 987q-90 -7 -152 -6M345 933l103 13M232 1062q-22 20 -30 46M66 935q6 63 -37 129M118 775l196 16M213 1036q-8 38 -5 75M111 872q-11 75 -37 148M227 878q-66 110 -102 261M63 961l-12 94M289 1079q-111 13 -167 40M196 949q-47 27 -132 55M68 933q142 26 243 89M111 1071q40 27 88 79M188 836q11 58 2 116M233 911q-4 35 -13 61M251 1068q30 -32 66 -44M300 932l197 -136M286 973q-45 53 -47 123M263 818q-62 48 -141 103M303 857q-24 34 -42 74M267 912q-85 91 -147 150M473 796l-154 -9M296 984l129 -167M480 818l-45 143M127 769l199 161M128 769l-95 131M51 992q41 3 67 4M119 883q-15 66 -38 132M255 899q-13 50 -21 96M114 992q41 37 90 64M321 786l102 163M220 857q-71 55 -142 108M116 1072q44 14 111 31M112 773l243 155M259 924q-5 26 6 47M128 905q22 90 43 192M164 972q-29 27 -36 56M71 968q47 17 100 26M173 923q-56 0 -104 18M172 927q11 75 74 174M78 1063q18 27 35 54M225 784l107 -11M79 1052q76 28 167 50M166 800q44 88 84 166M145 927q22 10 33 35M235 1005q-64 35 -120 98M194 1054q-4 14 -12 21M244 980q-22 31 -34 55M319 787l-24 277M334 924l109 6M213 1033q-20 19 -41 19M425 822q-148 114 -257 207M133 780l320 45M114 1145l53 -9M263 862q3 21 -10 32M150 1092q-8 12 -21 59M474 816l-166 -26M259 715l175 124M428 811l-67 124M42 1031q110 13 221 40M99 1019q53 9 108 5M444 802l-20 132M129 959q-27 12 -62 3M176 792q38 83 81 134M105 916q-17 79 -58 154M122 1023q22 38 32 116M295 920q-25 46 -20 102M173 1056q24 9 50 8M34 902l41 -39M261 854q-77 56 -198 114M425 787l-86 2M35 1034q54 -13 90 -4M136 932q61 -4 161 -8M115 769q58 55 105 103M253 1071q-35 26 -49 70M302 920l157 -145M32 1053l94 53M158 834q-28 71 -87 125M46 1071l75 73M176 917q14 66 91 123M228 925q-24 102 -65 221M231 976q-40 5 -50 19M241 917q-60 39 -105 46M115 938q29 48 46 92M109 1050q-10 0 -27 10M358 783l90 145M112 973q-11 60 -26 103M312 811l113 112M194 941q30 29 51 70M111 1120l20 25M110 948q40 63 77 161M65 962q59 61 75 100M338 800q-85 9 -166 -12M59 985q67 37 92 52M148 1050q48 11 99 8M124 775q-15 166 -84 298M84 892q59 79 103 131M418 807q-103 66 -139 107M222 784q-46 118 -48 214M309 872q-93 43 -178 96M232 1022q17 -21 45 -1M350 794q-59 71 -92 105M167 1001q-2 38 20 82M149 1061q12 7 -3 8M423 796l19 156M319 807q-19 22 -49 51M457 823q-162 135 -256 287M197 1115l-5 24M44 999q90 25 151 29M171 811l246 6M130 1022q23 16 48 34M417 817l-46 133M63 934q28 17 25 36M199 1158l-37 -62M462 778l-129 15M334 798q-108 68 -193 144M95 895q15 48 32 86M348 791l61 150M416 808q-57 76 -82 132M124 765l181 19M120 781l327 20M306 868q-36 22 -79 47M69 966q4 62 -40 98M301 973q-49 40 -37 76M112 947q56 -6 105 10M319 790l119 155M174 851q94 45 177 77M77 1064q63 21 118 45M436 957l-159 114M172 807l178 127M101 898q9 113 27 250M64 931q78 9 107 36M239 1071l-50 73M417 800l-82 -13M41 1070l41 -10M288 970q-39 41 -22 75M309 792l-44 266M117 937q-8 24 -15 68M201 989q-6 32 -44 72M76 1076q74 -1 155 -16M248 862q-81 16 -132 50M92 905q-7 82 -45 149M74 1069l55 82M186 878q88 22 173 37M277 981l141 -174M256 916q-12 44 -17 92"/><path d="M110 1119q38 -9 80 25M339 800l-10 124M150 1057q32 23 54 50M228 925q-75 44 -182 78M51 897l9 96M228 794l224 161M463 809l-28 129M106 1010q3 52 16 136M217 822q-28 24 -54 59M210 846q-37 31 -33 78M291 964q-73 55 -140 117M233 1063l-35 81M221 776q-61 90 -105 177M125 993q24 28 43 32M221 777l226 165M419 802l-76 -32M167 1138l28 5M244 983q16 -12 53 -12M205 1033q6 35 27 65M342 936q-63 15 -160 9M227 921q10 32 21 61M249 984q-34 39 -68 92M79 970q26 25 48 49M111 774l72 39M320 790l111 157M196 915q10 25 -6 37M87 856q57 121 102 223M201 893q-2 22 -24 79M455 789l-111 160M218 1027q-11 56 -11 118M130 765q137 41 301 49M176 792q0 157 -22 304M270 998q-37 38 -44 109M114 885q65 94 177 172M173 898q-20 24 -33 60M241 990q-16 43 -14 113M45 901l419 -84M207 984q-32 -3 -59 5M232 775q-18 92 -33 142M143 965q-35 59 -62 85M120 1031q27 22 47 73M108 871q43 105 85 188M124 847q47 67 93 111M207 1032q-54 45 -96 81"/></g><use href="#eb" xlink:href="#eb" x="260"/><g fill-opacity="0.4"><circle cx="128.5" cy="358.5" r="3.4" fill="#a2d86e"/><circle cx="62" cy="385" r="5.2" fill="#f08a2c"/><circle cx="115" cy="392.5" r="5.2" fill="#e0566a"/><circle cx="163.5" cy="397.5" r="9.4" fill="#e27ec4"/><circle cx="225" cy="404" r="13.1" fill="#f7f0a6"/><circle cx="88.5" cy="400" r="4.9" fill="#f07f2a"/><circle cx="106" cy="413" r="3" fill="#f08030"/><circle cx="132.5" cy="410" r="1.9" fill="#4040a0"/><circle cx="76.5" cy="417.5" r="4.1" fill="#f5e33a"/><circle cx="88" cy="424.5" r="2.6" fill="#9ab030"/><circle cx="97" cy="419" r="2.6" fill="#3cbf8a"/><circle cx="116" cy="429" r="7.5" fill="#9b72c4"/><circle cx="41" cy="427" r="4.5" fill="#8c564b"/><circle cx="64" cy="427" r="4.9" fill="#f2a0a0"/><circle cx="56" cy="437.5" r="4.1" fill="#98df8a"/><circle cx="86" cy="442" r="6" fill="#e27ec4"/><circle cx="101" cy="443" r="3.8" fill="#98df8a"/><circle cx="21.5" cy="449" r="4.1" fill="#dbdb8d"/><circle cx="45.5" cy="447.5" r="4.1" fill="#ffbb78"/><circle cx="68.5" cy="451" r="3.4" fill="#d62728"/><circle cx="131" cy="431" r="3.8" fill="#ffbb78"/><circle cx="152.5" cy="432.5" r="3.8" fill="#f4f4f4"/><circle cx="165" cy="441" r="3" fill="#17becf"/><circle cx="131" cy="447.5" r="3.4" fill="#2ca02c"/><circle cx="57.5" cy="457.5" r="4.5" fill="#2ca02c"/><circle cx="71" cy="465" r="4.9" fill="#f5e33a"/><circle cx="86" cy="460" r="3.8" fill="#f4a460"/><circle cx="100" cy="457.5" r="3.8" fill="#fbf3a8"/><circle cx="112.5" cy="458.5" r="3.8" fill="#fbf3a8"/><circle cx="124" cy="463" r="4.5" fill="#e8b020"/><circle cx="142.5" cy="460.5" r="8.6" fill="#c5b0d5"/><circle cx="176" cy="465.5" r="10.5" fill="#d62728"/><circle cx="220.5" cy="472" r="9" fill="#bcbd22"/><circle cx="34" cy="467" r="3.8" fill="#ff9896"/><circle cx="55" cy="471" r="4.9" fill="#d62728"/><circle cx="95" cy="471" r="3.8" fill="#66c2a5"/><circle cx="109" cy="475" r="3.4" fill="#1f77b4"/><circle cx="66" cy="480" r="3.4" fill="#9467bd"/><circle cx="76" cy="484.5" r="4.9" fill="#aec7e8"/><circle cx="88.5" cy="482.5" r="3.4" fill="#fc8d62"/><circle cx="102.5" cy="490" r="5.2" fill="#a0705a"/><circle cx="119" cy="492.5" r="4.9" fill="#9467bd"/><circle cx="130" cy="484" r="5.2" fill="#f8f8f8"/><circle cx="145" cy="490" r="7.9" fill="#1f77b4"/><circle cx="34" cy="484" r="4.5" fill="#fc8d62"/><circle cx="47.5" cy="481" r="3.8" fill="#8a8a8a"/><circle cx="60" cy="488.5" r="3.8" fill="#8ca252"/><circle cx="48.5" cy="493.5" r="3.8" fill="#2ca080"/><circle cx="26" cy="497" r="4.5" fill="#f07f2a"/><circle cx="60" cy="499.5" r="3.8" fill="#aec7e8"/><circle cx="70" cy="497.5" r="4.1" fill="#98df8a"/><circle cx="85" cy="499" r="5.2" fill="#a6b040"/><circle cx="36" cy="506" r="4.5" fill="#c49c94"/><circle cx="50" cy="507.5" r="4.1" fill="#8a8a8a"/><circle cx="62.5" cy="509" r="3.4" fill="#6060b0"/><circle cx="74" cy="507.5" r="3.8" fill="#8a8a8a"/><circle cx="95" cy="510" r="3.8" fill="#66c2a5"/><circle cx="117.5" cy="506" r="4.5" fill="#f7b6d2"/><circle cx="136" cy="506" r="5.2" fill="#f8f8f8"/><circle cx="21" cy="514" r="3.8" fill="#d08040"/><circle cx="59" cy="520.5" r="4.9" fill="#17becf"/><circle cx="74" cy="525" r="6" fill="#2ca02c"/><circle cx="85" cy="516" r="3.8" fill="#c5b0d5"/><circle cx="107.5" cy="517.5" r="5.2" fill="#98df8a"/><circle cx="90" cy="526" r="3.8" fill="#9467bd"/><circle cx="100" cy="530" r="4.1" fill="#aec7e8"/><circle cx="136" cy="527" r="9.8" fill="#9edae5"/><circle cx="20" cy="530" r="4.9" fill="#e8b030"/><circle cx="42.5" cy="532.5" r="6" fill="#c5b0d5"/><circle cx="60" cy="535" r="4.1" fill="#f7b6d2"/><circle cx="75" cy="541" r="5.6" fill="#ffbb78"/><circle cx="92.5" cy="540" r="3.8" fill="#1f77b4"/><circle cx="115" cy="535" r="4.1" fill="#e07040"/><circle cx="85" cy="549.5" r="3.8" fill="#c8c840"/><circle cx="97.5" cy="552.5" r="4.1" fill="#2ca02c"/><circle cx="118" cy="552.5" r="4.9" fill="#8aa848"/><circle cx="58.5" cy="555" r="4.5" fill="#f7b6d2"/><circle cx="62.5" cy="575" r="4.9" fill="#aec7e8"/><circle cx="80" cy="571" r="4.5" fill="#e7298a"/><circle cx="98.5" cy="574" r="4.1" fill="#9edae5"/><circle cx="157.5" cy="511" r="1.9" fill="#e7298a"/><circle cx="172.5" cy="497.5" r="2.2" fill="#c49c94"/></g><g fill-opacity="0.35"><circle cx="388.5" cy="358.5" r="3.4" fill="#a6d854"/><circle cx="322" cy="385" r="5.2" fill="#f08a2c"/><circle cx="375" cy="392.5" r="5.2" fill="#ffb070"/><circle cx="423.5" cy="397.5" r="9.4" fill="#ffffff"/><circle cx="485" cy="404" r="13.1" fill="#ffffff"/><circle cx="348.5" cy="400" r="4.9" fill="#ffffff"/><circle cx="366" cy="413" r="3" fill="#ffffff"/><circle cx="392.5" cy="410" r="1.9" fill="#e377c2"/><circle cx="336.5" cy="417.5" r="4.1" fill="#ffffff"/><circle cx="348" cy="424.5" r="2.6" fill="#e377c2"/><circle cx="357" cy="419" r="2.6" fill="#ffffff"/><circle cx="376" cy="429" r="7.5" fill="#ffffff"/><circle cx="301" cy="427" r="4.5" fill="#ffffff"/><circle cx="324" cy="427" r="4.9" fill="#f2a0a0"/><circle cx="316" cy="437.5" r="4.1" fill="#ffffff"/><circle cx="346" cy="442" r="6" fill="#ffffff"/><circle cx="361" cy="443" r="3.8" fill="#ffffff"/><circle cx="281.5" cy="449" r="4.1" fill="#fbf6d0"/><circle cx="305.5" cy="447.5" r="4.1" fill="#fbf6d0"/><circle cx="328.5" cy="451" r="3.4" fill="#ffffff"/><circle cx="391" cy="431" r="3.8" fill="#ffbb78"/><circle cx="412.5" cy="432.5" r="3.8" fill="#ffffff"/><circle cx="425" cy="441" r="3" fill="#ffffff"/><circle cx="391" cy="447.5" r="3.4" fill="#ffbb78"/><circle cx="317.5" cy="457.5" r="4.5" fill="#90cc90"/><circle cx="331" cy="465" r="4.9" fill="#ffffff"/><circle cx="346" cy="460" r="3.8" fill="#ffffff"/><circle cx="360" cy="457.5" r="3.8" fill="#ffffff"/><circle cx="372.5" cy="458.5" r="3.8" fill="#5a9ccf"/><circle cx="384" cy="463" r="4.5" fill="#ffb070"/><circle cx="402.5" cy="460.5" r="8.6" fill="#ffffff"/><circle cx="436" cy="465.5" r="10.5" fill="#ffb070"/><circle cx="480.5" cy="472" r="9" fill="#ffffff"/><circle cx="294" cy="467" r="3.8" fill="#ffffff"/><circle cx="315" cy="471" r="4.9" fill="#ffffff"/><circle cx="355" cy="471" r="3.8" fill="#ffffff"/><circle cx="369" cy="475" r="3.4" fill="#5a9ccf"/><circle cx="326" cy="480" r="3.4" fill="#ffffff"/><circle cx="336" cy="484.5" r="4.9" fill="#ffffff"/><circle cx="348.5" cy="482.5" r="3.4" fill="#ffffff"/><circle cx="362.5" cy="490" r="5.2" fill="#5a9ccf"/><circle cx="379" cy="492.5" r="4.9" fill="#5a9ccf"/><circle cx="390" cy="484" r="5.2" fill="#ffffff"/><circle cx="405" cy="490" r="7.9" fill="#5a9ccf"/><circle cx="294" cy="484" r="4.5" fill="#ffb070"/><circle cx="307.5" cy="481" r="3.8" fill="#ffffff"/><circle cx="320" cy="488.5" r="3.8" fill="#ffffff"/><circle cx="308.5" cy="493.5" r="3.8" fill="#ffffff"/><circle cx="286" cy="497" r="4.5" fill="#ffffff"/><circle cx="320" cy="499.5" r="3.8" fill="#ffffff"/><circle cx="330" cy="497.5" r="4.1" fill="#ffffff"/><circle cx="345" cy="499" r="5.2" fill="#ffffff"/><circle cx="296" cy="506" r="4.5" fill="#ffffff"/><circle cx="310" cy="507.5" r="4.1" fill="#ffffff"/><circle cx="322.5" cy="509" r="3.4" fill="#ffffff"/><circle cx="334" cy="507.5" r="3.8" fill="#ffffff"/><circle cx="355" cy="510" r="3.8" fill="#66c2a5"/><circle cx="377.5" cy="506" r="4.5" fill="#5a9ccf"/><circle cx="396" cy="506" r="5.2" fill="#ffffff"/><circle cx="281" cy="514" r="3.8" fill="#ffffff"/><circle cx="319" cy="520.5" r="4.9" fill="#5a9ccf"/><circle cx="334" cy="525" r="6" fill="#ffffff"/><circle cx="345" cy="516" r="3.8" fill="#ffffff"/><circle cx="367.5" cy="517.5" r="5.2" fill="#5a9ccf"/><circle cx="350" cy="526" r="3.8" fill="#ffffff"/><circle cx="360" cy="530" r="4.1" fill="#ffffff"/><circle cx="396" cy="527" r="9.8" fill="#ffffff"/><circle cx="280" cy="530" r="4.9" fill="#ffffff"/><circle cx="302.5" cy="532.5" r="6" fill="#ffffff"/><circle cx="320" cy="535" r="4.1" fill="#ffffff"/><circle cx="335" cy="541" r="5.6" fill="#ffffff"/><circle cx="352.5" cy="540" r="3.8" fill="#ffffff"/><circle cx="375" cy="535" r="4.1" fill="#ffffff"/><circle cx="345" cy="549.5" r="3.8" fill="#ffffff"/><circle cx="357.5" cy="552.5" r="4.1" fill="#ffffff"/><circle cx="378" cy="552.5" r="4.9" fill="#c5d8ef"/><circle cx="318.5" cy="555" r="4.5" fill="#c5d8ef"/><circle cx="322.5" cy="575" r="4.9" fill="#c5d8ef"/><circle cx="340" cy="571" r="4.5" fill="#c5d8ef"/><circle cx="358.5" cy="574" r="4.1" fill="#c5d8ef"/><circle cx="417.5" cy="511" r="1.9" fill="#e7298a"/><circle cx="432.5" cy="497.5" r="2.2" fill="#c49c94"/></g><g transform="scale(.5)" stroke-linecap="round" stroke-width="3.6"><path d="M258 725h0M257 719h0M257 719h0M250 713h0M263 720h0M260 719h0M248 718h0M251 712h0M256 716h0M249 716h0M260 716h0M263 721h0M252 713h0M262 715h0M257 717h0M264 716h0M255 718h0M262 713h0M254 725h0M250 712h0M251 718h0M251 721h0M260 710h0M252 713h0M259 713h0M258 722h0M255 715h0M258 721h0M254 713h0M250 718h0M259 715h0" stroke="#a2d86e"/><path d="M137 770h0M134 761h0M117 761h0M127 768h0M117 776h0M133 773h0M115 776h0M116 772h0M119 766h0M124 771h0M122 758h0M120 772h0M120 781h0M117 759h0M111 774h0M130 765h0M133 775h0M135 777h0M120 775h0M130 764h0M134 772h0M121 772h0M112 774h0M134 761h0M131 772h0M127 769h0M130 770h0M136 763h0M118 775h0M128 768h0M118 781h0M122 779h0M130 764h0M119 760h0M133 780h0M115 769h0M116 768h0M124 765h0M133 769h0M126 765h0M123 757h0M124 775h0M128 769h0M128 779h0M122 765h0M123 776h0M118 766h0M125 773h0M121 778h0M141 780h0M114 769h0M135 767h0M135 778h0M112 773h0M130 779h0M130 762h0" stroke="#f08a2c"/><path d="M216 782h0M226 773h0M231 793h0M221 780h0M230 791h0M235 788h0M224 791h0M231 795h0M225 782h0M235 782h0M240 783h0M222 786h0M233 772h0M222 784h0M221 781h0M218 786h0M224 784h0M228 794h0M223 786h0M233 797h0M221 777h0M225 781h0M219 791h0M230 778h0M231 783h0M228 786h0M222 789h0M231 795h0M240 778h0M225 780h0M233 782h0M236 778h0M239 783h0M220 782h0M235 797h0M237 792h0M230 790h0M217 786h0M232 775h0M222 795h0M233 783h0M243 784h0M225 784h0M228 788h0M236 795h0M229 792h0M221 776h0M238 791h0M224 779h0M230 799h0" stroke="#e0566a"/><path d="M325 828h0M341 811h0M337 808h0M322 806h0M319 793h0M320 802h0M335 787h0M330 797h0M337 808h0M348 798h0M315 790h0M312 789h0M315 815h0M327 818h0M332 808h0M326 778h0M333 773h0M311 804h0M320 784h0M330 784h0M310 808h0M347 807h0M323 794h0M328 813h0M324 778h0M335 776h0M333 793h0M305 796h0M324 803h0M315 799h0M341 797h0M350 788h0M341 801h0M316 804h0M332 802h0M311 782h0M354 779h0M305 784h0M333 775h0M336 798h0M321 794h0M319 807h0M334 798h0M309 777h0M323 783h0M312 811h0M318 812h0M348 791h0M330 794h0M317 809h0M313 803h0M317 806h0M316 777h0M338 788h0M337 798h0M358 783h0M342 785h0M322 817h0M327 809h0M320 790h0M312 798h0M329 812h0M311 808h0M326 798h0M329 798h0M311 773h0M329 809h0M306 807h0M345 806h0M339 802h0M313 808h0M340 790h0M350 804h0M329 806h0M348 791h0M312 770h0M343 768h0M315 781h0M342 791h0M309 807h0M321 801h0M323 785h0M339 800h0M334 809h0M305 793h0M313 782h0M332 781h0M316 779h0M318 797h0M315 796h0M339 788h0M350 794h0M342 789h0M328 784h0M321 786h0M326 789h0M338 800h0M310 786h0M345 796h0M329 778h0M344 811h0M315 806h0M326 793h0M302 780h0M341 791h0M351 810h0M329 796h0M344 786h0M306 785h0M338 788h0M307 790h0M321 806h0M330 793h0M312 801h0M321 797h0M319 790h0M315 780h0M318 817h0M338 787h0M334 800h0M336 805h0M322 812h0M307 781h0M308 790h0M348 791h0M334 808h0M317 804h0M303 790h0M335 800h0M319 787h0M307 789h0M341 811h0M310 808h0M314 791h0M309 806h0M303 793h0M320 788h0M314 799h0M318 816h0M325 776h0M348 819h0M330 798h0M343 800h0M343 784h0M328 815h0M334 812h0M335 785h0M339 789h0M312 793h0M321 798h0M328 783h0M319 802h0M336 777h0M313 785h0M333 804h0M340 794h0M343 770h0M324 798h0M309 792h0M347 786h0M338 815h0M332 808h0M332 773h0M324 795h0M305 805h0M314 785h0M335 813h0M342 781h0M330 815h0M342 776h0M314 785h0M343 790h0M331 772h0M347 785h0M326 780h0" stroke="#e27ec4"/><path d="M429 832h0M448 785h0M464 808h0M428 835h0M422 824h0M465 782h0M481 804h0M431 795h0M429 786h0M462 828h0M461 835h0M431 794h0M442 793h0M446 810h0M418 815h0M433 829h0M435 826h0M435 811h0M417 805h0M442 838h0M428 812h0M440 819h0M451 808h0M440 785h0M467 840h0M458 789h0M469 828h0M432 807h0M456 808h0M457 823h0M476 786h0M416 808h0M446 791h0M455 811h0M432 783h0M418 795h0M452 792h0M427 791h0M463 831h0M419 802h0M418 807h0M447 825h0M432 835h0M443 794h0M466 789h0M454 790h0M480 798h0M484 816h0M443 818h0M439 822h0M413 784h0M443 832h0M470 788h0M428 811h0M429 788h0M437 804h0M432 770h0M442 778h0M440 792h0M428 791h0M480 823h0M440 784h0M427 836h0M438 800h0M477 796h0M451 777h0M426 815h0M437 803h0M425 822h0M466 820h0M429 793h0M443 800h0M453 825h0M417 817h0M436 820h0M457 839h0M431 817h0M445 800h0M442 796h0M435 784h0M448 785h0M432 780h0M445 784h0M464 812h0M417 800h0M419 801h0M450 814h0M438 791h0M439 835h0M433 820h0M448 816h0M432 829h0M454 779h0M444 802h0M442 837h0M425 808h0M440 841h0M428 789h0M453 801h0M450 819h0M459 812h0M469 804h0M477 795h0M464 821h0M456 797h0M449 812h0M435 825h0M432 790h0M427 809h0M422 822h0M447 827h0M426 834h0M465 813h0M471 800h0M433 823h0M438 826h0M463 784h0M464 817h0M453 798h0M462 789h0M416 814h0M461 806h0M444 817h0M418 823h0M423 796h0M453 807h0M437 829h0M446 828h0M442 822h0M471 783h0M433 807h0M455 783h0M434 789h0M441 791h0M437 778h0M449 843h0M476 807h0M471 801h0M454 819h0M434 839h0M473 807h0M448 795h0M420 798h0M437 809h0M416 810h0M459 775h0M471 831h0M482 801h0M433 837h0M455 789h0M441 819h0M430 830h0M435 836h0M422 796h0M430 825h0M463 785h0M425 798h0M416 808h0M438 811h0M462 850h0M468 781h0M454 829h0M427 792h0M481 796h0M425 817h0M460 788h0M459 808h0M463 805h0M444 800h0M457 813h0M417 817h0M457 815h0M464 827h0M449 790h0M484 801h0M435 809h0M421 768h0M457 784h0M489 825h0M433 830h0M453 834h0M435 818h0M454 828h0M432 829h0M453 782h0M453 796h0M439 834h0M460 817h0M474 816h0M458 836h0M448 794h0M445 774h0M437 817h0M457 822h0M424 822h0M481 816h0M463 825h0M437 802h0M459 803h0M430 821h0M481 797h0M431 814h0M476 793h0M440 787h0M424 830h0M446 777h0M435 804h0M441 839h0M432 802h0M478 791h0M439 830h0M428 794h0M440 799h0M462 797h0M454 807h0M448 798h0M437 820h0M473 818h0M447 801h0M430 799h0M443 825h0M427 818h0M467 791h0M446 772h0M448 774h0M492 793h0M440 811h0M423 828h0M451 782h0M451 794h0M432 802h0M430 805h0M447 833h0M475 784h0M429 805h0M444 774h0M472 824h0M426 810h0M423 794h0M425 776h0M444 778h0M438 807h0M455 808h0M436 819h0M433 799h0M448 798h0M447 776h0M474 818h0M443 789h0M441 795h0M431 825h0M416 801h0M478 809h0M431 829h0M436 816h0M437 808h0M421 791h0M471 803h0M436 818h0M473 796h0M472 828h0M418 817h0M480 818h0M467 802h0M446 826h0M446 804h0M437 824h0M462 811h0M423 795h0M406 790h0M444 811h0M481 838h0M417 803h0M462 838h0M463 800h0M422 825h0M456 787h0M426 797h0M451 800h0M474 798h0M449 842h0M464 789h0M466 813h0M441 823h0M458 812h0M470 796h0M431 826h0M436 832h0M464 813h0M438 784h0M454 770h0M470 788h0M452 816h0M469 814h0M479 793h0M435 833h0M434 790h0M453 791h0M433 782h0M434 793h0M451 834h0M458 811h0M452 819h0M453 792h0M481 798h0M431 805h0M466 839h0M455 797h0M481 819h0M455 781h0M434 848h0M462 778h0M455 842h0M475 828h0M420 810h0M452 798h0M429 822h0M449 779h0M454 841h0M424 794h0M464 839h0M495 793h0M454 806h0M456 821h0M458 838h0M451 840h0M463 809h0M468 830h0M444 796h0M433 814h0M438 820h0M431 835h0M425 791h0M470 796h0M461 791h0M433 834h0M431 794h0M466 820h0M453 779h0M432 788h0M440 837h0M441 815h0M470 797h0M442 793h0M467 806h0M475 810h0M425 787h0M497 796h0M465 839h0M424 820h0" stroke="#f7f0a6"/><path d="M170 802h0M171 811h0M169 796h0M172 792h0M178 801h0M184 801h0M182 803h0M172 807h0M172 800h0M179 795h0M189 799h0M186 799h0M174 788h0M168 806h0M185 800h0M176 792h0M172 788h0M180 797h0M180 795h0M187 802h0M178 799h0M188 793h0M187 787h0M177 813h0M168 806h0M179 791h0M176 803h0M173 802h0M188 800h0M164 800h0M179 803h0M166 800h0M181 812h0M176 789h0M170 809h0M171 810h0M175 801h0M168 801h0M186 800h0M169 793h0M187 794h0M183 808h0M183 813h0" stroke="#f07f2a"/><path d="M208 833h0M212 823h0M214 833h0M211 825h0M218 823h0M215 830h0M210 824h0M216 831h0M208 822h0M210 818h0M217 822h0M216 829h0M209 822h0M214 829h0M207 836h0" stroke="#f08030"/><path d="M265 817h0M265 820h0M269 820h0M267 817h0M266 817h0M264 820h0M263 818h0" stroke="#4040a0"/><path d="M147 834h0M158 840h0M159 836h0M148 836h0M149 834h0M154 830h0M158 831h0M156 840h0M152 826h0M148 839h0M145 833h0M158 833h0M157 838h0M158 827h0M152 824h0M151 834h0M153 837h0M149 829h0M146 835h0M162 830h0M158 834h0M152 834h0M156 833h0M159 834h0M161 834h0M159 833h0M158 831h0M163 838h0M152 838h0M159 836h0M147 844h0M151 841h0M155 829h0M155 842h0M146 841h0M159 840h0M148 840h0" stroke="#f5e33a"/><path d="M177 856h0M180 847h0M177 849h0M171 851h0M174 846h0M174 850h0M175 849h0M172 855h0M173 852h0M181 847h0M174 850h0M174 851h0M173 854h0M176 852h0M179 846h0" stroke="#9ab030"/><path d="M198 843h0M197 841h0M199 834h0M191 837h0M189 836h0M194 841h0M192 837h0M196 833h0M197 834h0M196 836h0M190 841h0M197 832h0M189 837h0M188 836h0M187 833h0" stroke="#3cbf8a"/><path d="M240 845h0M239 866h0M231 850h0M226 852h0M224 848h0M224 862h0M231 858h0M247 868h0M238 866h0M229 854h0M231 859h0M244 874h0M237 849h0M247 871h0M240 868h0M228 860h0M259 857h0M240 862h0M218 854h0M246 859h0M239 859h0M238 842h0M250 855h0M236 861h0M231 874h0M221 856h0M225 861h0M238 847h0M242 851h0M227 856h0M222 871h0M218 846h0M219 857h0M228 866h0M239 874h0M235 853h0M232 877h0M232 877h0M223 875h0M221 850h0M224 843h0M241 858h0M232 853h0M251 853h0M218 862h0M238 871h0M243 861h0M220 867h0M220 857h0M217 844h0M245 844h0M247 853h0M236 875h0M217 849h0M216 846h0M219 845h0M227 844h0M232 854h0M214 863h0M248 862h0M234 876h0M227 866h0M240 874h0M223 850h0M243 866h0M237 869h0M233 852h0M231 834h0M236 876h0M210 846h0M241 843h0M240 868h0M217 869h0M237 849h0M236 846h0M223 853h0M220 872h0M234 852h0M225 849h0M229 855h0M221 857h0M229 851h0M225 868h0M239 844h0M237 844h0M229 845h0M235 865h0M237 860h0M230 871h0M234 872h0M217 864h0M233 843h0M245 852h0M239 867h0M217 853h0M227 878h0M231 838h0M223 862h0M232 840h0M236 865h0M235 848h0M232 870h0M249 857h0M231 852h0M244 861h0M239 844h0M229 862h0M230 850h0M248 847h0M247 857h0M239 847h0M236 840h0" stroke="#9b72c4"/><path d="M80 857h0M86 853h0M83 849h0M84 853h0M85 844h0M91 851h0M87 864h0M71 854h0M83 865h0M82 863h0M74 860h0M78 852h0M87 853h0M90 854h0M79 851h0M93 857h0M87 856h0M88 857h0M89 853h0M79 852h0M86 850h0M90 861h0M90 851h0M76 850h0M77 851h0M73 857h0M87 857h0M75 863h0M81 847h0M80 849h0M71 857h0M80 858h0M84 842h0M84 850h0M80 850h0M72 867h0M79 852h0M90 859h0M72 852h0M94 856h0M94 851h0M81 861h0M74 855h0" stroke="#8c564b"/><path d="M128 860h0M130 862h0M132 856h0M123 852h0M130 848h0M124 863h0M138 854h0M122 861h0M132 852h0M120 853h0M133 844h0M120 855h0M137 851h0M120 861h0M133 852h0M119 847h0M135 849h0M124 847h0M134 861h0M127 853h0M127 859h0M123 856h0M116 851h0M126 865h0M135 855h0M123 845h0M137 851h0M135 847h0M120 849h0M134 849h0M124 853h0M122 862h0M132 852h0M132 867h0M123 852h0M126 849h0M134 847h0M122 849h0M140 856h0M133 857h0M124 847h0M116 852h0M125 856h0" stroke="#f2a0a0"/><path d="M108 875h0M108 871h0M102 875h0M120 872h0M113 865h0M118 876h0M109 881h0M118 882h0M111 865h0M113 877h0M119 883h0M118 878h0M111 872h0M116 882h0M118 875h0M108 883h0M106 880h0M113 870h0M117 880h0M122 876h0M112 871h0M104 874h0M116 866h0M110 874h0M114 885h0M122 868h0M106 874h0M114 872h0M112 876h0M106 880h0M117 876h0M118 884h0M111 880h0M112 870h0M116 871h0M106 869h0M126 870h0" stroke="#98df8a"/><path d="M182 869h0M158 891h0M174 882h0M179 884h0M182 883h0M177 890h0M176 870h0M169 867h0M163 882h0M174 871h0M169 876h0M163 881h0M185 890h0M184 887h0M176 879h0M158 889h0M178 897h0M175 894h0M170 884h0M176 896h0M183 888h0M156 874h0M188 883h0M171 885h0M169 877h0M159 878h0M160 887h0M182 879h0M176 895h0M185 877h0M173 877h0M158 879h0M182 893h0M175 896h0M180 895h0M173 878h0M176 887h0M187 884h0M187 880h0M177 876h0M166 887h0M177 897h0M189 870h0M175 870h0M179 885h0M172 882h0M173 898h0M160 891h0M167 893h0M169 885h0M165 896h0M181 880h0M175 870h0M158 888h0M187 877h0M163 873h0M172 881h0M186 878h0M168 883h0M175 896h0M178 875h0M183 891h0M173 870h0M184 879h0M167 875h0M176 889h0M173 870h0M182 876h0M172 894h0M156 886h0M179 898h0M163 874h0M165 886h0M178 881h0M168 900h0" stroke="#e27ec4"/><path d="M207 895h0M204 886h0M205 879h0M204 889h0M204 883h0M195 886h0M209 890h0M189 887h0M207 876h0M199 877h0M201 896h0M201 893h0M203 874h0M201 894h0M206 895h0M195 887h0M201 878h0M208 891h0M196 888h0M208 887h0M195 885h0M200 879h0M193 878h0M195 882h0M195 882h0M201 893h0M198 883h0M203 884h0M203 890h0M192 888h0M204 894h0" stroke="#98df8a"/><path d="M38 900h0M49 893h0M37 885h0M53 900h0M46 894h0M33 900h0M34 904h0M49 893h0M45 908h0M45 894h0M45 892h0M51 903h0M33 895h0M51 899h0M45 899h0M44 899h0M35 897h0M48 896h0M43 897h0M37 893h0M44 891h0M45 901h0M45 894h0M47 892h0M45 908h0M44 904h0M40 897h0M48 891h0M51 897h0M38 894h0M32 900h0M46 904h0M48 900h0M44 902h0M34 902h0M41 908h0M36 898h0" stroke="#dbdb8d"/><path d="M84 900h0M91 906h0M90 898h0M84 892h0M92 894h0M97 897h0M101 897h0M92 903h0M94 895h0M84 889h0M89 897h0M94 894h0M98 889h0M85 893h0M96 894h0M86 903h0M99 894h0M93 896h0M92 905h0M98 890h0M84 895h0M95 895h0M81 891h0M101 898h0M79 887h0M85 892h0M91 888h0M98 890h0M82 889h0M91 899h0M95 897h0M102 894h0M94 886h0M82 896h0M86 901h0M83 899h0M86 890h0" stroke="#ffbb78"/><path d="M141 908h0M132 907h0M130 902h0M138 898h0M128 906h0M128 905h0M135 895h0M145 905h0M137 899h0M137 902h0M141 898h0M132 904h0M140 901h0M138 895h0M133 898h0M128 903h0M139 895h0M141 905h0M132 907h0M132 902h0M132 898h0M137 904h0M139 903h0M135 908h0M143 907h0" stroke="#d62728"/><path d="M263 857h0M265 857h0M263 864h0M257 858h0M270 858h0M261 861h0M267 867h0M256 864h0M258 869h0M263 862h0M262 871h0M268 858h0M258 871h0M268 869h0M262 854h0M262 868h0M265 855h0M253 864h0M266 860h0M261 854h0M264 867h0M264 871h0M261 856h0M265 869h0M257 861h0" stroke="#ffbb78"/><path d="M302 867h0M300 857h0M306 870h0M313 867h0M301 873h0M312 860h0M303 862h0M298 863h0M302 862h0M303 857h0M302 869h0M309 872h0M311 862h0M296 862h0M310 856h0M305 872h0M298 868h0M307 863h0M300 867h0M314 862h0M306 868h0M310 868h0M305 869h0M299 861h0M301 857h0" stroke="#f4f4f4"/><path d="M330 886h0M324 886h0M324 882h0M335 882h0M328 874h0M323 888h0M329 883h0M331 886h0M330 877h0M329 885h0M327 876h0M330 879h0M330 879h0M336 883h0M323 880h0M329 884h0M332 879h0" stroke="#17becf"/><path d="M257 895h0M262 887h0M266 889h0M266 900h0M258 899h0M253 894h0M263 899h0M254 895h0M265 903h0M262 895h0M256 890h0M262 887h0M268 898h0M262 894h0M258 889h0M254 898h0M261 894h0M258 890h0M266 892h0M266 899h0M255 899h0M267 897h0" stroke="#2ca02c"/><path d="M105 912h0M113 923h0M109 905h0M121 906h0M107 911h0M119 916h0M121 909h0M125 917h0M121 919h0M116 907h0M107 917h0M122 917h0M113 930h0M114 916h0M118 926h0M120 921h0M119 914h0M110 912h0M116 911h0M122 921h0M116 912h0M114 910h0M115 916h0M118 918h0M105 916h0M110 908h0M115 912h0M119 910h0M109 921h0M117 921h0M116 925h0M117 908h0M118 906h0M105 919h0M116 911h0M124 910h0M127 912h0M114 926h0M114 919h0M125 911h0M116 905h0M115 922h0M117 907h0M105 913h0M121 906h0M117 917h0M111 906h0M112 917h0M122 918h0M125 918h0" stroke="#2ca02c"/><path d="M141 917h0M142 931h0M144 925h0M141 921h0M145 919h0M143 938h0M141 942h0M134 931h0M133 923h0M147 940h0M145 926h0M145 933h0M143 923h0M144 919h0M146 929h0M141 929h0M138 925h0M141 930h0M142 938h0M149 937h0M148 926h0M140 920h0M136 930h0M128 920h0M147 936h0M153 932h0M143 931h0M140 935h0M137 936h0M145 927h0M141 920h0M145 933h0M142 930h0M148 924h0M135 918h0M147 932h0M135 930h0M140 920h0M145 928h0M139 940h0M137 925h0M151 936h0M136 920h0M136 932h0M147 938h0M142 942h0M143 938h0M152 937h0M138 930h0M145 931h0M134 929h0M144 934h0M134 932h0M137 928h0M146 942h0M145 926h0" stroke="#f5e33a"/><path d="M165 915h0M175 919h0M164 921h0M176 917h0M167 920h0M177 924h0M174 913h0M164 916h0M173 923h0M169 925h0M177 917h0M166 918h0M162 924h0M174 915h0M176 912h0M167 916h0M166 922h0M167 915h0M179 924h0M175 923h0M172 927h0M173 919h0M169 919h0M169 913h0M173 925h0M171 914h0M177 917h0M180 918h0M163 921h0M178 915h0M171 919h0M177 923h0M181 916h0M173 920h0M170 927h0M169 916h0M172 911h0" stroke="#f4a460"/><path d="M205 911h0M199 917h0M198 916h0M195 920h0M208 916h0M206 923h0M197 921h0M201 913h0M206 921h0M207 918h0M208 921h0M197 914h0M208 920h0M199 924h0M208 909h0M196 915h0M205 920h0M198 915h0M208 912h0M192 916h0M209 918h0M204 917h0M200 913h0M204 916h0M196 912h0M196 920h0M201 919h0M205 912h0M192 911h0M202 914h0M201 922h0M194 917h0M202 923h0M202 922h0M199 921h0M208 912h0M197 907h0" stroke="#fbf3a8"/><path d="M220 920h0M228 925h0M219 909h0M233 916h0M219 914h0M221 922h0M228 908h0M227 921h0M227 915h0M221 912h0M225 927h0M228 922h0M225 907h0M217 914h0M218 911h0M228 917h0M232 913h0M231 921h0M226 926h0M216 916h0M223 910h0M225 913h0M234 916h0M230 917h0M219 920h0M228 925h0M221 915h0M232 918h0M231 917h0M232 924h0M231 911h0M225 913h0M228 919h0M233 911h0M228 916h0M226 925h0M223 912h0" stroke="#fbf3a8"/><path d="M241 940h0M244 928h0M248 933h0M240 920h0M250 926h0M245 934h0M249 938h0M254 930h0M247 924h0M249 931h0M248 934h0M241 917h0M259 923h0M259 924h0M254 926h0M238 926h0M251 918h0M246 930h0M241 923h0M259 926h0M257 926h0M245 916h0M247 926h0M244 925h0M252 926h0M248 924h0M250 915h0M242 928h0M254 929h0M239 932h0M245 928h0M257 927h0M256 927h0M250 930h0M259 925h0M254 927h0M238 927h0M256 916h0M248 921h0M247 934h0M249 928h0M252 923h0M246 931h0" stroke="#e8b020"/><path d="M291 940h0M271 923h0M293 902h0M275 928h0M276 910h0M288 938h0M292 933h0M282 928h0M297 940h0M313 933h0M268 926h0M270 926h0M287 922h0M298 931h0M300 920h0M283 929h0M285 920h0M291 930h0M279 914h0M304 918h0M267 930h0M286 913h0M261 931h0M279 900h0M279 922h0M276 920h0M270 922h0M288 932h0M267 912h0M281 908h0M279 937h0M268 918h0M287 932h0M291 918h0M293 915h0M257 922h0M280 930h0M258 922h0M281 931h0M273 934h0M285 912h0M280 923h0M297 928h0M271 909h0M282 921h0M276 922h0M291 900h0M289 916h0M284 923h0M273 932h0M278 939h0M273 924h0M298 912h0M271 905h0M272 924h0M297 922h0M274 933h0M268 930h0M287 922h0M303 923h0M281 924h0M266 908h0M303 933h0M276 912h0M282 917h0M282 926h0M304 920h0M283 950h0M287 918h0M269 914h0M283 910h0M274 902h0M277 910h0M275 931h0M294 910h0M279 921h0M287 928h0M284 939h0M302 920h0M298 915h0M307 925h0M298 926h0M292 910h0M300 932h0M285 914h0M302 935h0M272 932h0M263 922h0M301 923h0M305 910h0M297 924h0M273 932h0M279 941h0M269 928h0M298 915h0M289 913h0M282 904h0M275 937h0M293 904h0M284 920h0M269 937h0M296 932h0M287 912h0M282 934h0M280 902h0M282 915h0M306 936h0M273 926h0M293 931h0M285 945h0M286 911h0M304 910h0M304 919h0M272 918h0M292 916h0M308 936h0M295 920h0M264 929h0M266 933h0M285 933h0M268 922h0M270 919h0M312 923h0M279 930h0M275 905h0" stroke="#c5b0d5"/><path d="M364 942h0M332 950h0M353 926h0M344 923h0M350 934h0M357 906h0M370 919h0M373 926h0M345 952h0M384 921h0M333 944h0M326 940h0M361 927h0M340 920h0M333 915h0M342 915h0M324 933h0M342 919h0M377 944h0M335 939h0M365 931h0M343 956h0M369 933h0M344 949h0M355 950h0M363 955h0M347 909h0M379 929h0M329 921h0M329 924h0M347 907h0M377 934h0M349 923h0M334 945h0M360 912h0M363 924h0M349 949h0M327 932h0M341 916h0M364 953h0M334 920h0M372 923h0M368 913h0M326 930h0M339 925h0M352 931h0M364 953h0M382 924h0M369 914h0M371 927h0M366 911h0M370 918h0M345 934h0M364 915h0M333 917h0M333 926h0M357 913h0M379 928h0M330 938h0M334 911h0M361 919h0M339 934h0M359 919h0M354 904h0M359 915h0M373 932h0M355 910h0M371 939h0M371 918h0M355 924h0M367 932h0M336 931h0M362 923h0M334 924h0M355 928h0M369 938h0M379 929h0M333 923h0M364 918h0M372 929h0M361 917h0M334 932h0M372 918h0M347 912h0M351 941h0M334 929h0M334 940h0M359 908h0M339 919h0M363 940h0M355 942h0M377 943h0M330 927h0M336 947h0M336 922h0M361 946h0M327 935h0M342 921h0M339 936h0M341 912h0M363 923h0M341 918h0M373 927h0M371 946h0M340 950h0M336 913h0M336 940h0M371 948h0M342 924h0M354 938h0M359 911h0M356 907h0M364 923h0M326 936h0M341 935h0M333 923h0M339 952h0M363 929h0M333 929h0M342 947h0M369 946h0M337 940h0M363 923h0M333 939h0M349 936h0M363 958h0M334 942h0M336 943h0M379 931h0M373 918h0M341 944h0M352 920h0M379 925h0M361 943h0M345 913h0M342 947h0M367 912h0M359 917h0M336 915h0M353 928h0M355 928h0M371 950h0M378 929h0M332 916h0M340 933h0M339 909h0M375 928h0M351 928h0M356 942h0M340 918h0M347 909h0M360 957h0M335 937h0M340 948h0M341 906h0M376 930h0M351 918h0M353 920h0M325 925h0M351 933h0M377 905h0M341 950h0M345 906h0M351 893h0M371 942h0M349 948h0M345 933h0M346 924h0M361 940h0M353 941h0M351 942h0M370 916h0M375 926h0M356 941h0M354 953h0M380 931h0M372 920h0M346 940h0M377 937h0M346 916h0M353 951h0M354 915h0M337 920h0M377 918h0M365 956h0M341 926h0M329 934h0M337 948h0M356 940h0M330 944h0M331 917h0M333 916h0M357 912h0M366 936h0M350 914h0M342 936h0M341 925h0M374 934h0M333 946h0M336 939h0M353 958h0M361 935h0M325 927h0M336 927h0M377 932h0M355 936h0M369 928h0M355 905h0M361 953h0M361 933h0M355 948h0M350 938h0" stroke="#d62728"/><path d="M444 964h0M452 955h0M461 940h0M440 941h0M433 958h0M438 945h0M457 959h0M441 924h0M453 941h0M430 957h0M423 948h0M424 934h0M445 958h0M435 935h0M442 943h0M435 936h0M431 957h0M433 928h0M423 949h0M450 923h0M425 923h0M425 935h0M445 952h0M426 942h0M426 961h0M427 945h0M435 921h0M421 934h0M450 930h0M419 947h0M431 962h0M441 943h0M425 944h0M435 932h0M437 949h0M451 965h0M450 947h0M457 945h0M453 944h0M427 952h0M463 933h0M438 955h0M419 950h0M443 930h0M427 959h0M432 925h0M453 951h0M446 921h0M459 928h0M456 960h0M459 959h0M456 928h0M455 960h0M437 953h0M432 934h0M426 949h0M428 956h0M444 945h0M418 946h0M448 928h0M447 942h0M419 952h0M447 936h0M452 931h0M424 948h0M447 923h0M421 943h0M455 934h0M443 944h0M438 938h0M448 967h0M443 937h0M441 958h0M442 946h0M454 942h0M435 938h0M450 963h0M441 942h0M409 941h0M465 948h0M441 950h0M445 953h0M443 939h0M448 946h0M454 923h0M443 935h0M435 961h0M424 941h0M455 963h0M456 949h0M446 930h0M451 930h0M432 925h0M437 924h0M440 958h0M456 929h0M435 964h0M422 948h0M460 956h0M457 928h0M431 947h0M443 932h0M422 958h0M442 952h0M426 940h0M452 942h0M448 959h0M445 954h0M454 933h0M432 945h0M436 963h0M426 946h0M450 953h0M446 927h0M441 967h0M453 950h0M443 967h0M431 963h0M445 942h0M432 961h0M438 949h0M446 923h0M464 962h0M446 921h0M444 923h0M455 930h0M421 952h0M420 949h0M455 972h0M453 929h0M435 946h0M437 951h0M431 942h0M445 924h0M460 940h0M460 949h0M428 930h0M428 950h0M434 934h0M429 955h0M457 932h0M419 937h0M433 954h0M428 956h0M444 941h0M455 958h0M422 952h0M440 957h0M435 950h0M471 942h0M437 945h0M421 938h0M420 965h0M409 941h0M460 945h0M436 957h0M459 947h0M446 963h0M443 941h0M464 951h0M421 951h0M440 930h0" stroke="#bcbd22"/><path d="M62 928h0M60 929h0M66 928h0M66 931h0M68 933h0M75 937h0M75 930h0M74 941h0M63 934h0M69 933h0M63 933h0M76 929h0M67 929h0M68 931h0M69 941h0M63 941h0M69 939h0M64 936h0M71 940h0M68 931h0M71 937h0M66 935h0M59 935h0M59 931h0M72 928h0M57 938h0M71 943h0M69 936h0M64 931h0M69 927h0M62 937h0" stroke="#ff9896"/><path d="M121 938h0M107 941h0M112 947h0M114 950h0M104 936h0M100 934h0M115 948h0M101 938h0M123 941h0M110 948h0M107 947h0M105 932h0M117 934h0M112 938h0M114 942h0M112 929h0M104 951h0M101 950h0M115 942h0M106 954h0M102 939h0M102 937h0M109 940h0M119 940h0M116 940h0M122 937h0M98 942h0M107 946h0M122 939h0M117 937h0M116 949h0M106 944h0M109 944h0M101 935h0M110 934h0M112 950h0M104 931h0M115 938h0M114 947h0M106 937h0M110 948h0M123 945h0M107 936h0M109 943h0M121 938h0M120 936h0M117 937h0M108 934h0M105 937h0M106 939h0M117 943h0M113 938h0M108 933h0M113 954h0M116 953h0M106 953h0" stroke="#d62728"/><path d="M190 952h0M198 940h0M190 946h0M194 947h0M193 948h0M184 943h0M199 945h0M192 938h0M196 949h0M186 936h0M197 936h0M184 938h0M196 946h0M183 939h0M184 935h0M183 937h0M184 934h0M187 935h0M188 933h0M182 941h0M194 934h0M182 947h0M197 941h0M187 945h0M194 941h0M186 939h0M185 950h0M188 941h0M182 945h0M186 938h0M198 946h0M184 938h0M191 939h0M192 948h0M197 938h0M191 935h0M190 936h0" stroke="#66c2a5"/><path d="M225 949h0M221 949h0M224 945h0M219 945h0M217 958h0M217 956h0M219 949h0M219 942h0M221 945h0M219 946h0M212 945h0M220 952h0M223 951h0M212 949h0M220 950h0M212 950h0M225 946h0M221 953h0M217 957h0M214 949h0M220 948h0M216 944h0M222 947h0M220 952h0M223 952h0" stroke="#1f77b4"/><path d="M126 957h0M129 958h0M128 954h0M133 959h0M130 948h0M138 965h0M135 961h0M139 957h0M129 959h0M131 964h0M134 956h0M127 961h0M126 956h0M132 963h0M128 967h0M131 968h0M130 955h0M136 963h0M140 958h0M134 968h0M138 966h0M134 955h0M137 965h0M130 954h0M130 953h0" stroke="#9467bd"/><path d="M158 968h0M152 971h0M156 977h0M144 967h0M159 962h0M150 978h0M140 973h0M143 963h0M164 973h0M148 963h0M163 971h0M155 980h0M147 961h0M152 967h0M152 962h0M158 971h0M144 968h0M143 965h0M152 958h0M164 978h0M148 959h0M141 973h0M146 973h0M162 977h0M150 972h0M163 974h0M159 977h0M156 979h0M160 971h0M161 960h0M154 965h0M145 966h0M153 965h0M163 976h0M155 961h0M151 974h0M152 958h0M153 977h0M159 967h0M161 969h0M145 965h0M161 978h0M148 980h0M150 965h0M164 972h0M148 966h0M146 980h0M161 976h0M159 960h0M142 967h0" stroke="#aec7e8"/><path d="M174 963h0M170 965h0M177 956h0M176 964h0M169 962h0M171 964h0M171 967h0M170 966h0M178 962h0M174 970h0M182 972h0M177 959h0M170 961h0M182 970h0M182 964h0M177 972h0M184 963h0M171 964h0M170 962h0M178 959h0M177 962h0M173 967h0M173 960h0M178 972h0M171 967h0" stroke="#fc8d62"/><path d="M207 969h0M194 985h0M209 968h0M212 972h0M209 992h0M204 978h0M195 988h0M212 979h0M198 969h0M205 977h0M200 986h0M199 973h0M203 979h0M198 989h0M218 983h0M201 984h0M199 990h0M211 977h0M197 970h0M200 975h0M205 982h0M211 980h0M220 972h0M201 984h0M204 973h0M194 984h0M212 979h0M214 976h0M196 986h0M217 977h0M205 973h0M195 979h0M196 966h0M199 972h0M198 991h0M202 977h0M211 980h0M201 989h0M189 991h0M207 990h0M207 997h0M214 977h0M211 974h0M208 982h0M217 978h0M197 986h0M199 970h0M203 989h0M207 986h0M207 984h0M195 988h0M201 968h0M201 973h0M199 986h0M205 984h0M214 987h0" stroke="#a0705a"/><path d="M241 987h0M237 984h0M245 975h0M238 983h0M235 997h0M232 983h0M244 992h0M238 991h0M240 979h0M239 992h0M246 974h0M244 995h0M241 990h0M246 980h0M240 987h0M247 977h0M247 986h0M243 994h0M238 985h0M226 987h0M247 992h0M240 978h0M242 979h0M227 990h0M231 990h0M240 997h0M246 988h0M225 982h0M244 987h0M235 983h0M230 985h0M244 983h0M247 977h0M240 990h0M234 995h0M232 987h0M248 982h0M245 977h0M240 970h0M242 973h0M239 974h0M229 977h0M249 984h0M230 983h0M245 988h0M231 976h0M233 990h0M244 980h0M239 975h0M239 987h0" stroke="#9467bd"/><path d="M266 955h0M265 955h0M254 960h0M259 976h0M266 957h0M267 964h0M260 959h0M269 961h0M263 969h0M256 969h0M270 962h0M258 955h0M260 978h0M255 959h0M267 965h0M250 956h0M253 978h0M270 977h0M265 971h0M253 965h0M264 965h0M268 970h0M262 980h0M273 959h0M249 976h0M265 958h0M261 949h0M264 964h0M260 954h0M260 968h0M261 980h0M264 977h0M258 974h0M255 960h0M253 977h0M257 957h0M254 972h0M255 974h0M268 958h0M249 971h0M250 951h0M262 971h0M260 985h0M249 977h0M260 957h0M250 966h0M273 971h0M252 976h0M262 955h0M259 978h0M247 969h0M259 966h0M266 955h0M260 961h0M255 976h0M254 967h0" stroke="#f8f8f8"/><path d="M282 962h0M288 985h0M301 975h0M307 973h0M286 977h0M280 993h0M271 984h0M293 987h0M298 984h0M295 978h0M313 991h0M279 987h0M301 972h0M294 970h0M273 978h0M288 971h0M305 990h0M271 979h0M299 996h0M305 973h0M295 981h0M295 967h0M306 981h0M296 995h0M295 966h0M294 989h0M294 966h0M286 965h0M288 997h0M273 975h0M310 980h0M282 973h0M294 975h0M286 973h0M307 983h0M289 960h0M287 985h0M271 976h0M294 997h0M292 978h0M277 978h0M297 971h0M290 989h0M300 994h0M272 978h0M291 964h0M277 987h0M291 967h0M301 985h0M277 980h0M296 984h0M283 986h0M276 988h0M290 980h0M301 973h0M288 971h0M288 995h0M275 977h0M299 981h0M290 999h0M295 971h0M296 965h0M284 978h0M309 982h0M288 999h0M288 970h0M277 981h0M304 968h0M290 968h0M280 991h0M281 986h0M276 973h0M303 984h0M293 1000h0M288 999h0M287 971h0M278 977h0M270 981h0M295 992h0M284 997h0M281 965h0M289 984h0M273 990h0M308 977h0M287 996h0M290 992h0M287 963h0M276 980h0M286 974h0M284 974h0M288 990h0M272 973h0M286 1000h0M304 980h0M294 979h0M313 978h0M285 984h0M297 965h0M291 997h0M286 988h0M290 984h0M273 977h0M300 976h0M278 995h0M291 998h0M271 975h0M279 987h0M299 968h0M303 983h0M288 986h0M298 989h0M303 972h0" stroke="#1f77b4"/><path d="M70 958h0M74 965h0M60 972h0M62 965h0M61 969h0M56 968h0M72 968h0M67 958h0M71 968h0M64 977h0M78 965h0M71 973h0M71 959h0M57 971h0M78 962h0M79 973h0M79 970h0M69 974h0M65 972h0M63 961h0M69 966h0M79 970h0M67 977h0M67 962h0M62 964h0M78 975h0M61 966h0M62 964h0M79 972h0M74 978h0M63 968h0M64 962h0M76 966h0M77 960h0M67 970h0M75 969h0M61 977h0M79 963h0M80 966h0M65 962h0M78 968h0M71 962h0M71 966h0" stroke="#fc8d62"/><path d="M100 955h0M88 963h0M96 958h0M96 969h0M94 969h0M89 959h0M94 965h0M92 956h0M91 960h0M100 970h0M101 965h0M88 957h0M90 965h0M94 963h0M99 961h0M95 964h0M94 962h0M99 964h0M88 959h0M95 953h0M91 960h0M92 966h0M98 970h0M91 965h0M102 964h0M92 957h0M93 964h0M88 970h0M97 953h0M95 960h0M92 968h0" stroke="#8a8a8a"/><path d="M112 983h0M124 981h0M128 979h0M112 971h0M116 970h0M114 969h0M122 975h0M115 980h0M119 972h0M115 971h0M117 973h0M118 985h0M128 976h0M112 981h0M117 976h0M114 989h0M112 978h0M116 985h0M112 973h0M119 982h0M119 970h0M119 978h0M121 965h0M112 976h0M113 972h0M125 978h0M125 975h0M127 981h0M121 977h0M120 977h0M114 972h0" stroke="#8ca252"/><path d="M91 987h0M102 993h0M93 982h0M102 982h0M100 990h0M91 980h0M98 980h0M95 988h0M94 987h0M96 984h0M93 979h0M99 977h0M90 988h0M106 988h0M89 992h0M93 988h0M99 977h0M91 977h0M100 982h0M106 983h0M97 994h0M92 981h0M95 980h0M101 980h0M99 994h0M102 990h0M101 983h0M96 978h0M110 986h0M94 986h0M101 993h0" stroke="#2ca080"/><path d="M41 990h0M59 993h0M61 999h0M52 991h0M37 987h0M48 995h0M50 990h0M60 996h0M55 987h0M44 997h0M43 1002h0M46 1003h0M53 993h0M56 1000h0M57 1003h0M51 993h0M55 988h0M62 989h0M56 996h0M56 998h0M43 991h0M60 987h0M45 993h0M46 1002h0M52 1003h0M47 998h0M51 992h0M47 988h0M48 996h0M57 1003h0M60 993h0M62 987h0M58 984h0M50 983h0M43 999h0M44 999h0M54 1005h0M54 982h0M59 997h0M53 988h0M53 1002h0M47 997h0M59 985h0" stroke="#f07f2a"/><path d="M112 999h0M125 993h0M121 1002h0M115 993h0M119 1009h0M128 992h0M126 1006h0M117 996h0M114 998h0M127 1000h0M121 998h0M114 992h0M121 999h0M117 991h0M126 1001h0M112 996h0M115 996h0M119 1006h0M121 1007h0M116 997h0M127 1000h0M126 991h0M123 997h0M123 1000h0M119 992h0M119 1005h0M118 996h0M124 996h0M112 993h0M127 998h0M118 996h0" stroke="#aec7e8"/><path d="M139 987h0M133 993h0M132 997h0M135 1000h0M134 1003h0M132 995h0M136 1004h0M140 985h0M139 1006h0M149 1003h0M142 994h0M148 993h0M138 989h0M143 990h0M137 999h0M141 991h0M132 1001h0M137 1004h0M142 1004h0M141 1000h0M150 993h0M133 994h0M134 994h0M150 993h0M130 1000h0M142 1005h0M133 993h0M147 990h0M136 994h0M142 1001h0M148 989h0M145 1003h0M136 992h0M138 995h0M137 992h0M144 993h0M133 1003h0" stroke="#98df8a"/><path d="M168 991h0M165 1000h0M153 997h0M180 991h0M162 995h0M167 992h0M174 1011h0M186 1006h0M165 993h0M167 990h0M164 999h0M174 999h0M179 997h0M172 999h0M178 1007h0M181 995h0M178 1005h0M165 989h0M181 1004h0M170 1012h0M174 1001h0M174 998h0M183 995h0M183 992h0M162 998h0M181 1000h0M168 1011h0M172 991h0M174 999h0M183 994h0M180 989h0M165 1003h0M173 999h0M163 994h0M173 996h0M176 990h0M182 994h0M167 997h0M178 1008h0M167 1001h0M167 1000h0M176 994h0M168 1005h0M170 996h0M178 1001h0M169 993h0M183 995h0M175 1006h0M163 1002h0M168 1001h0M157 1001h0M171 994h0M164 999h0M170 1001h0M177 1001h0M166 1005h0" stroke="#a6b040"/><path d="M81 1001h0M61 1014h0M80 1014h0M79 1019h0M77 1020h0M73 1007h0M72 1020h0M75 1021h0M63 1017h0M80 1011h0M72 1019h0M66 1022h0M71 1022h0M82 1014h0M74 1010h0M77 1016h0M66 1014h0M70 1018h0M69 1023h0M65 1006h0M70 1006h0M77 1016h0M58 1021h0M74 1023h0M72 1001h0M81 1012h0M64 1004h0M71 1016h0M65 1009h0M74 1020h0M68 1008h0M61 1005h0M61 1013h0M81 1015h0M71 1001h0M76 1014h0M66 1003h0M71 1007h0M69 1006h0M69 1017h0M64 1018h0M70 1019h0M63 1010h0" stroke="#c49c94"/><path d="M101 1004h0M107 1017h0M95 1010h0M97 1005h0M98 1024h0M102 1015h0M107 1008h0M94 1012h0M94 1008h0M97 1018h0M97 1008h0M99 1021h0M101 1010h0M98 1017h0M109 1009h0M103 1023h0M98 1007h0M91 1013h0M105 1019h0M101 1017h0M98 1022h0M106 1019h0M102 1005h0M107 1014h0M94 1020h0M106 1010h0M107 1022h0M93 1007h0M95 1013h0M98 1022h0M99 1020h0M99 1019h0M90 1020h0M98 1023h0M102 1005h0M95 1012h0M105 1018h0" stroke="#8a8a8a"/><path d="M118 1019h0M119 1014h0M132 1016h0M127 1019h0M124 1011h0M128 1028h0M125 1016h0M122 1019h0M118 1015h0M133 1017h0M130 1020h0M116 1025h0M126 1018h0M127 1026h0M117 1014h0M119 1018h0M118 1021h0M122 1017h0M123 1011h0M128 1020h0M124 1022h0M122 1023h0M125 1020h0M130 1022h0M122 1017h0" stroke="#6060b0"/><path d="M145 1006h0M149 1023h0M154 1013h0M142 1014h0M148 1007h0M142 1007h0M143 1013h0M153 1015h0M147 1009h0M141 1013h0M139 1013h0M152 1024h0M139 1016h0M146 1016h0M148 1021h0M139 1019h0M144 1021h0M146 1020h0M150 1016h0M153 1009h0M140 1010h0M152 1022h0M155 1022h0M151 1009h0M146 1020h0M146 1012h0M146 1007h0M150 1019h0M148 1015h0M152 1024h0M143 1009h0" stroke="#8a8a8a"/><path d="M189 1017h0M198 1021h0M190 1021h0M185 1018h0M192 1030h0M187 1011h0M185 1021h0M188 1026h0M183 1029h0M185 1013h0M194 1018h0M187 1023h0M196 1026h0M199 1021h0M192 1013h0M185 1015h0M193 1013h0M182 1019h0M188 1019h0M183 1017h0M189 1019h0M191 1026h0M187 1014h0M195 1028h0M185 1015h0M192 1021h0M191 1012h0M193 1017h0M189 1013h0M199 1022h0M183 1025h0" stroke="#66c2a5"/><path d="M238 1019h0M232 1005h0M235 1010h0M235 1014h0M242 1019h0M245 1011h0M228 1009h0M240 1007h0M228 1019h0M241 1010h0M231 1007h0M231 1008h0M241 1014h0M230 1016h0M232 1017h0M233 1019h0M236 1012h0M228 1016h0M243 1013h0M243 1010h0M231 1021h0M244 1016h0M238 1020h0M235 1017h0M233 1004h0M242 1004h0M221 1016h0M241 1007h0M232 1022h0M241 1017h0M240 1004h0M239 1008h0M237 1022h0M226 1007h0M230 1004h0M236 1011h0M244 1022h0M242 1021h0M223 1014h0M233 1016h0M235 1005h0M227 1002h0M235 1013h0" stroke="#f7b6d2"/><path d="M285 1011h0M274 1008h0M281 1004h0M271 1018h0M277 1021h0M266 1005h0M267 1016h0M275 1016h0M261 1010h0M262 1012h0M273 1025h0M272 1010h0M261 1016h0M275 1005h0M263 1019h0M278 1008h0M269 1019h0M285 1017h0M270 998h0M272 1008h0M280 1008h0M259 1013h0M271 1026h0M270 1024h0M272 1005h0M282 1013h0M268 1016h0M280 1015h0M262 1018h0M269 1004h0M270 999h0M271 1015h0M264 1007h0M264 1019h0M281 1015h0M273 1003h0M281 1018h0M281 1010h0M277 1005h0M274 1007h0M264 1004h0M276 1007h0M285 1015h0M275 1004h0M266 1016h0M278 1015h0M282 1022h0M262 1003h0M269 1029h0M264 1007h0M280 1016h0M269 1016h0M265 1004h0M275 1022h0M271 1016h0M284 1017h0" stroke="#f8f8f8"/><path d="M40 1024h0M46 1029h0M42 1034h0M38 1033h0M37 1033h0M50 1031h0M51 1028h0M39 1036h0M33 1029h0M46 1020h0M51 1025h0M44 1033h0M48 1030h0M49 1029h0M42 1036h0M50 1035h0M33 1024h0M34 1023h0M38 1026h0M45 1028h0M48 1031h0M42 1031h0M44 1028h0M50 1031h0M35 1034h0M50 1024h0M48 1031h0M45 1024h0M50 1030h0M48 1030h0M44 1034h0" stroke="#d08040"/><path d="M123 1033h0M122 1031h0M128 1037h0M106 1043h0M125 1038h0M118 1044h0M109 1033h0M111 1050h0M117 1029h0M120 1031h0M115 1051h0M106 1041h0M121 1052h0M121 1040h0M131 1042h0M118 1042h0M118 1050h0M109 1050h0M112 1045h0M126 1050h0M129 1038h0M125 1042h0M125 1042h0M124 1033h0M113 1044h0M122 1032h0M122 1043h0M114 1035h0M115 1031h0M113 1037h0M119 1029h0M116 1036h0M107 1037h0M123 1039h0M109 1043h0M117 1046h0M124 1034h0M110 1035h0M122 1035h0M127 1034h0M128 1045h0M124 1034h0M125 1030h0M120 1057h0M125 1029h0M121 1033h0M108 1050h0M110 1032h0M115 1036h0M118 1046h0" stroke="#17becf"/><path d="M135 1059h0M134 1045h0M143 1052h0M147 1060h0M155 1061h0M142 1061h0M139 1056h0M138 1044h0M136 1058h0M141 1039h0M157 1051h0M133 1049h0M151 1038h0M140 1057h0M163 1059h0M136 1054h0M144 1045h0M149 1061h0M142 1054h0M139 1063h0M156 1053h0M139 1057h0M155 1050h0M144 1050h0M136 1060h0M141 1037h0M140 1047h0M143 1046h0M151 1035h0M147 1046h0M148 1050h0M142 1051h0M147 1059h0M145 1053h0M143 1059h0M145 1052h0M153 1062h0M154 1053h0M157 1061h0M157 1040h0M144 1056h0M163 1047h0M148 1050h0M154 1047h0M156 1037h0M164 1037h0M154 1058h0M152 1049h0M162 1045h0M154 1044h0M151 1046h0M150 1035h0M139 1052h0M135 1045h0M153 1039h0M150 1063h0M142 1042h0M150 1053h0M150 1057h0M145 1051h0M153 1047h0M148 1066h0M145 1059h0M132 1051h0M140 1062h0M135 1048h0M155 1041h0M132 1059h0M145 1062h0M145 1035h0M135 1053h0M151 1037h0M144 1043h0M166 1049h0M145 1046h0" stroke="#2ca02c"/><path d="M163 1034h0M169 1028h0M172 1025h0M167 1036h0M169 1028h0M162 1035h0M169 1037h0M166 1028h0M173 1026h0M174 1034h0M168 1025h0M166 1027h0M161 1030h0M175 1037h0M168 1034h0M177 1029h0M162 1036h0M164 1030h0M169 1032h0M176 1032h0M167 1040h0M165 1039h0M180 1029h0M168 1029h0M172 1029h0M168 1041h0M169 1031h0M165 1023h0M166 1027h0M177 1041h0M165 1027h0" stroke="#c5b0d5"/><path d="M212 1025h0M226 1044h0M216 1029h0M220 1046h0M214 1039h0M207 1032h0M224 1043h0M218 1032h0M211 1023h0M212 1046h0M218 1048h0M222 1029h0M213 1036h0M216 1046h0M206 1032h0M212 1038h0M214 1026h0M213 1030h0M203 1034h0M221 1047h0M204 1035h0M210 1039h0M210 1048h0M208 1025h0M207 1024h0M215 1026h0M225 1026h0M219 1027h0M220 1034h0M203 1034h0M218 1027h0M211 1025h0M207 1044h0M205 1033h0M219 1034h0M221 1036h0M219 1022h0M230 1028h0M209 1035h0M212 1031h0M218 1041h0M213 1033h0M213 1048h0M218 1046h0M210 1033h0M210 1047h0M216 1040h0M218 1027h0M219 1028h0M226 1033h0M216 1024h0M212 1046h0M215 1040h0M213 1022h0M210 1035h0M211 1032h0" stroke="#98df8a"/><path d="M181 1045h0M180 1055h0M181 1054h0M173 1056h0M178 1056h0M178 1042h0M184 1052h0M171 1054h0M179 1055h0M182 1058h0M171 1048h0M188 1054h0M174 1059h0M181 1049h0M174 1059h0M173 1054h0M185 1059h0M185 1046h0M182 1046h0M186 1049h0M177 1058h0M171 1054h0M185 1054h0M172 1052h0M185 1046h0M185 1055h0M188 1057h0M173 1045h0M189 1049h0M179 1050h0M183 1046h0" stroke="#9467bd"/><path d="M197 1064h0M202 1057h0M204 1056h0M196 1060h0M193 1059h0M196 1065h0M199 1059h0M200 1056h0M203 1058h0M212 1054h0M197 1055h0M194 1054h0M194 1067h0M201 1064h0M209 1067h0M190 1059h0M197 1064h0M205 1063h0M208 1062h0M193 1062h0M201 1063h0M194 1066h0M190 1055h0M201 1051h0M197 1051h0M193 1062h0M197 1057h0M202 1071h0M203 1067h0M210 1064h0M200 1064h0M193 1062h0M192 1053h0M202 1062h0M194 1061h0M210 1064h0M195 1059h0" stroke="#aec7e8"/><path d="M275 1051h0M276 1033h0M282 1046h0M294 1039h0M266 1046h0M292 1059h0M263 1035h0M301 1048h0M282 1041h0M252 1047h0M280 1070h0M262 1074h0M263 1071h0M248 1041h0M279 1067h0M259 1060h0M260 1067h0M278 1081h0M270 1048h0M277 1035h0M286 1037h0M290 1059h0M267 1036h0M295 1045h0M251 1068h0M266 1067h0M272 1076h0M236 1058h0M254 1049h0M265 1048h0M281 1055h0M257 1034h0M279 1026h0M283 1061h0M274 1038h0M278 1055h0M280 1049h0M271 1073h0M243 1043h0M265 1053h0M278 1039h0M264 1049h0M254 1060h0M265 1077h0M265 1058h0M280 1040h0M286 1052h0M293 1049h0M262 1065h0M275 1033h0M280 1032h0M258 1051h0M247 1051h0M297 1055h0M295 1033h0M254 1043h0M250 1051h0M283 1068h0M272 1043h0M285 1045h0M272 1073h0M270 1030h0M258 1043h0M282 1039h0M291 1057h0M289 1069h0M275 1029h0M276 1050h0M253 1048h0M264 1041h0M262 1063h0M270 1044h0M284 1052h0M259 1033h0M289 1059h0M267 1077h0M290 1036h0M283 1039h0M275 1079h0M273 1046h0M275 1061h0M285 1051h0M267 1040h0M280 1051h0M265 1064h0M260 1050h0M265 1057h0M286 1068h0M258 1035h0M258 1073h0M274 1033h0M279 1063h0M268 1039h0M290 1051h0M266 1045h0M265 1032h0M263 1046h0M289 1079h0M247 1058h0M258 1059h0M255 1068h0M280 1045h0M270 1043h0M272 1034h0M266 1079h0M247 1058h0M292 1061h0M263 1042h0M275 1050h0M272 1038h0M256 1047h0M276 1052h0M266 1046h0M262 1040h0M257 1055h0M268 1033h0M280 1032h0M262 1064h0M290 1058h0M265 1037h0M249 1064h0M249 1063h0M253 1071h0M282 1027h0M266 1074h0M294 1047h0M258 1050h0M277 1071h0M295 1064h0M287 1067h0M280 1075h0M255 1065h0M266 1049h0M281 1077h0M278 1079h0M286 1070h0M257 1063h0M281 1070h0M281 1082h0M276 1040h0M267 1030h0M288 1047h0M249 1052h0M259 1047h0M281 1073h0M296 1047h0M257 1064h0M284 1043h0M250 1033h0M272 1041h0M277 1077h0M281 1034h0M256 1052h0M279 1068h0M256 1036h0M261 1032h0M279 1077h0M266 1059h0M274 1035h0M246 1051h0M288 1051h0M288 1066h0" stroke="#9edae5"/><path d="M45 1065h0M42 1071h0M38 1061h0M46 1065h0M47 1049h0M48 1059h0M52 1056h0M48 1068h0M44 1057h0M29 1062h0M50 1052h0M36 1059h0M43 1049h0M44 1070h0M42 1070h0M38 1068h0M39 1063h0M41 1058h0M41 1073h0M32 1051h0M47 1061h0M41 1048h0M34 1066h0M47 1068h0M31 1068h0M29 1064h0M50 1056h0M42 1056h0M39 1060h0M47 1054h0M40 1058h0M41 1055h0M34 1053h0M41 1070h0M33 1054h0M51 1055h0M32 1053h0M37 1053h0M41 1070h0M32 1054h0M53 1061h0M47 1070h0M46 1071h0M39 1059h0M41 1061h0M40 1069h0M37 1067h0M44 1048h0M47 1069h0M40 1073h0" stroke="#e8b030"/><path d="M82 1064h0M75 1063h0M71 1068h0M95 1062h0M84 1064h0M74 1069h0M80 1064h0M82 1050h0M79 1052h0M90 1057h0M95 1070h0M86 1058h0M87 1056h0M84 1079h0M84 1065h0M88 1058h0M75 1073h0M78 1077h0M78 1079h0M85 1058h0M72 1072h0M82 1049h0M82 1060h0M77 1071h0M91 1078h0M91 1073h0M94 1070h0M89 1072h0M76 1076h0M87 1067h0M97 1074h0M90 1071h0M77 1064h0M75 1065h0M91 1086h0M86 1076h0M91 1058h0M77 1073h0M82 1062h0M82 1060h0M73 1068h0M75 1056h0M86 1066h0M76 1071h0M80 1057h0M82 1066h0M85 1064h0M72 1077h0M78 1063h0M86 1060h0M72 1060h0M82 1060h0M84 1068h0M81 1050h0M89 1065h0M80 1069h0M70 1069h0M89 1066h0M85 1053h0M79 1074h0M99 1058h0M79 1060h0M99 1068h0M92 1052h0M84 1065h0M94 1058h0M99 1061h0M85 1074h0" stroke="#c5b0d5"/><path d="M115 1074h0M112 1065h0M110 1074h0M110 1069h0M130 1073h0M127 1074h0M129 1064h0M113 1077h0M113 1071h0M124 1060h0M115 1073h0M114 1079h0M121 1075h0M119 1074h0M120 1062h0M114 1075h0M125 1063h0M119 1069h0M123 1076h0M126 1065h0M119 1075h0M122 1070h0M112 1071h0M121 1064h0M127 1064h0M111 1071h0M128 1066h0M112 1071h0M127 1072h0M114 1068h0M116 1072h0M114 1072h0M115 1073h0M119 1071h0M122 1078h0M116 1061h0M129 1074h0" stroke="#f7b6d2"/><path d="M149 1071h0M146 1085h0M138 1087h0M138 1079h0M147 1100h0M153 1074h0M142 1075h0M144 1082h0M163 1086h0M148 1084h0M154 1096h0M141 1079h0M155 1069h0M153 1068h0M165 1085h0M152 1076h0M150 1077h0M142 1074h0M138 1083h0M146 1088h0M148 1079h0M142 1073h0M161 1076h0M144 1085h0M147 1071h0M148 1087h0M156 1089h0M147 1077h0M151 1068h0M139 1088h0M154 1083h0M167 1071h0M160 1086h0M155 1072h0M152 1091h0M151 1081h0M145 1088h0M150 1092h0M163 1081h0M159 1079h0M139 1082h0M136 1084h0M157 1075h0M154 1096h0M154 1077h0M150 1075h0M157 1075h0M148 1082h0M152 1079h0M142 1079h0M160 1081h0M152 1076h0M151 1069h0M146 1083h0M153 1092h0M147 1083h0M147 1074h0M144 1076h0M146 1069h0M143 1073h0M157 1081h0M136 1082h0" stroke="#ffbb78"/><path d="M187 1078h0M182 1075h0M182 1079h0M183 1090h0M184 1071h0M185 1075h0M191 1088h0M187 1083h0M177 1074h0M193 1077h0M186 1078h0M188 1084h0M189 1074h0M181 1076h0M177 1075h0M179 1082h0M182 1084h0M189 1085h0M177 1086h0M186 1079h0M180 1087h0M184 1089h0M184 1070h0M190 1082h0M189 1072h0M184 1089h0M194 1082h0M186 1088h0M189 1079h0M179 1084h0M183 1087h0" stroke="#1f77b4"/><path d="M234 1073h0M224 1078h0M221 1069h0M239 1067h0M225 1070h0M229 1077h0M225 1064h0M238 1066h0M223 1068h0M232 1068h0M225 1077h0M237 1074h0M233 1063h0M228 1067h0M221 1075h0M234 1069h0M237 1076h0M223 1077h0M232 1062h0M236 1062h0M239 1071h0M226 1068h0M236 1061h0M233 1065h0M234 1074h0M233 1068h0M220 1069h0M230 1066h0M231 1060h0M229 1077h0M234 1075h0M233 1074h0M226 1078h0M229 1078h0M223 1064h0M239 1076h0M229 1073h0" stroke="#e07040"/><path d="M168 1095h0M163 1101h0M176 1099h0M171 1097h0M162 1097h0M177 1094h0M166 1095h0M170 1109h0M171 1096h0M163 1101h0M170 1105h0M168 1104h0M172 1085h0M168 1105h0M168 1100h0M167 1107h0M164 1098h0M167 1104h0M178 1094h0M162 1103h0M171 1105h0M162 1096h0M169 1091h0M174 1105h0M178 1097h0M171 1106h0M166 1093h0M163 1100h0M170 1103h0M179 1103h0M162 1096h0" stroke="#c8c840"/><path d="M186 1104h0M208 1111h0M195 1112h0M190 1098h0M201 1104h0M204 1103h0M191 1095h0M201 1110h0M181 1109h0M194 1105h0M187 1109h0M201 1108h0M190 1110h0M203 1099h0M199 1101h0M203 1094h0M194 1095h0M199 1108h0M195 1107h0M194 1098h0M195 1109h0M185 1107h0M191 1113h0M200 1104h0M193 1106h0M190 1104h0M204 1107h0M202 1098h0M202 1112h0M197 1115h0M185 1101h0M197 1108h0M202 1108h0M192 1105h0M191 1097h0M203 1108h0M194 1110h0" stroke="#2ca02c"/><path d="M229 1105h0M230 1113h0M241 1094h0M231 1097h0M239 1102h0M233 1101h0M244 1099h0M235 1109h0M239 1111h0M237 1109h0M231 1115h0M251 1113h0M239 1112h0M245 1110h0M232 1098h0M232 1100h0M243 1111h0M246 1102h0M227 1103h0M226 1115h0M237 1100h0M244 1106h0M224 1102h0M246 1101h0M227 1111h0M224 1119h0M239 1096h0M234 1096h0M229 1105h0M228 1112h0M245 1108h0M228 1113h0M228 1100h0M224 1101h0M227 1119h0M235 1114h0M230 1097h0M226 1107h0M242 1098h0M228 1110h0M230 1096h0M242 1104h0M239 1116h0M236 1097h0M239 1116h0M231 1108h0M232 1093h0M237 1097h0M227 1097h0M227 1104h0" stroke="#8aa848"/><path d="M111 1120h0M109 1112h0M109 1106h0M124 1101h0M110 1110h0M117 1124h0M121 1101h0M120 1117h0M110 1120h0M110 1117h0M121 1107h0M114 1114h0M114 1102h0M118 1101h0M126 1106h0M107 1111h0M106 1111h0M119 1107h0M122 1119h0M110 1119h0M110 1105h0M116 1110h0M112 1113h0M113 1105h0M106 1105h0M119 1122h0M115 1103h0M117 1118h0M116 1100h0M111 1113h0M123 1104h0M117 1116h0M128 1111h0M126 1113h0M118 1102h0M108 1109h0M111 1114h0M118 1113h0M121 1114h0M121 1111h0M113 1117h0M112 1102h0M109 1105h0" stroke="#f7b6d2"/><path d="M120 1151h0M128 1150h0M122 1139h0M125 1141h0M122 1154h0M122 1158h0M133 1159h0M132 1143h0M128 1155h0M121 1161h0M128 1148h0M111 1157h0M127 1147h0M130 1138h0M131 1158h0M119 1157h0M114 1145h0M137 1148h0M130 1151h0M120 1144h0M119 1141h0M116 1148h0M116 1149h0M119 1146h0M123 1142h0M122 1146h0M122 1158h0M128 1146h0M127 1145h0M131 1145h0M113 1155h0M134 1157h0M136 1151h0M130 1147h0M121 1144h0M117 1153h0M128 1156h0M119 1146h0M127 1151h0M125 1149h0M125 1139h0M127 1141h0M135 1146h0M123 1150h0M129 1151h0M132 1142h0M123 1156h0M120 1152h0M124 1154h0M124 1141h0" stroke="#aec7e8"/><path d="M152 1150h0M150 1137h0M165 1147h0M161 1143h0M156 1146h0M158 1135h0M161 1146h0M158 1134h0M159 1148h0M165 1150h0M168 1145h0M159 1136h0M167 1138h0M168 1142h0M170 1143h0M158 1143h0M152 1150h0M168 1139h0M160 1130h0M159 1151h0M168 1142h0M168 1135h0M157 1144h0M151 1142h0M151 1140h0M159 1140h0M176 1136h0M153 1141h0M154 1139h0M163 1146h0M151 1143h0M167 1136h0M164 1132h0M163 1143h0M154 1146h0M161 1139h0M151 1144h0M165 1139h0M167 1142h0M166 1139h0M161 1128h0M157 1134h0M166 1135h0" stroke="#e7298a"/><path d="M210 1156h0M188 1153h0M204 1141h0M196 1150h0M207 1146h0M193 1144h0M198 1146h0M194 1146h0M197 1147h0M195 1148h0M200 1152h0M199 1138h0M202 1143h0M202 1140h0M197 1156h0M195 1143h0M195 1145h0M186 1148h0M199 1150h0M201 1146h0M198 1144h0M196 1152h0M199 1158h0M189 1144h0M202 1155h0M204 1149h0M190 1144h0M207 1145h0M202 1139h0M188 1151h0M196 1153h0M193 1138h0M192 1139h0M200 1146h0M196 1139h0M197 1143h0M203 1147h0" stroke="#9edae5"/><path d="M313 1021h0M317 1024h0M316 1025h0M316 1021h0M311 1022h0M316 1024h0M317 1022h0" stroke="#e7298a"/><path d="M340 991h0M347 996h0M345 1000h0M346 997h0M342 993h0M345 993h0M350 999h0M340 992h0M347 994h0M343 995h0" stroke="#c49c94"/><path d="M778 725h0M777 719h0M777 719h0M770 713h0M783 720h0M780 719h0M768 718h0M771 712h0M776 716h0M769 716h0M780 716h0M783 721h0M772 713h0M782 715h0M777 717h0M784 716h0M775 718h0M782 713h0M774 725h0M770 712h0M771 718h0M771 721h0M780 710h0M772 713h0M779 713h0M775 715h0M778 721h0M774 713h0M770 718h0M779 715h0M835 815h0M848 813h0M835 781h0M841 786h0M984 808h0M938 807h0M955 825h0M955 818h0M966 826h0M966 804h0M984 813h0M954 848h0M745 849h0M759 867h0M638 878h0M695 894h0M687 893h0M657 902h0M829 872h0M642 918h0M671 936h0M716 912h0M764 925h0M769 928h0M811 940h0M796 920h0M847 935h0M891 950h0M861 926h0M966 921h0M942 958h0M956 963h0M960 930h0M657 965h0M755 997h0M758 991h0M595 969h0M632 993h0M595 1021h0M623 1023h0M782 1003h0M570 1035h0M664 1056h0M672 1049h0M665 1062h0M682 1036h0M735 1026h0M813 1049h0M809 1069h0M804 1052h0M788 1039h0M812 1061h0M783 1042h0M567 1069h0M594 1069h0M668 1087h0M714 1095h0M647 1145h0" stroke="#a6d854"/><path d="M778 722h0M830 808h0M853 793h0M861 801h0M852 802h0M878 783h0M859 802h0M835 796h0M838 817h0M823 793h0M833 785h0M834 785h0M947 836h0M962 837h0M991 803h0M1001 798h0M981 791h0M708 800h0M671 834h0M692 855h0M745 861h0M759 874h0M751 852h0M604 853h0M591 857h0M599 852h0M634 885h0M694 871h0M676 886h0M720 879h0M715 882h0M610 898h0M850 886h0M764 928h0M768 933h0M796 910h0M799 900h0M869 949h0M892 929h0M853 923h0M853 929h0M889 928h0M938 946h0M972 931h0M973 929h0M617 953h0M612 968h0M692 991h0M659 1013h0M753 1016h0M720 1064h0M782 1063h0M785 1064h0M562 1071h0M553 1054h0M635 1073h0M639 1071h0M672 1091h0M683 1081h0M670 1075h0" stroke="#c7c7c7"/><path d="M657 770h0M654 761h0M637 761h0M647 768h0M637 776h0M653 773h0M635 776h0M636 772h0M644 771h0M642 758h0M640 772h0M640 781h0M637 759h0M650 765h0M653 775h0M655 777h0M640 775h0M650 764h0M654 772h0M641 772h0M632 774h0M654 761h0M651 772h0M647 769h0M650 770h0M656 763h0M638 775h0M648 768h0M638 781h0M642 779h0M650 764h0M639 760h0M653 780h0M635 769h0M636 768h0M644 765h0M653 769h0M646 765h0M643 757h0M644 775h0M648 769h0M648 779h0M642 765h0M643 776h0M638 766h0M645 773h0M641 778h0M634 769h0M655 767h0M655 778h0M632 773h0M650 779h0M650 762h0" stroke="#f08a2c"/><path d="M639 766h0M736 782h0M740 782h0M839 793h0M837 806h0M849 798h0M832 770h0M825 793h0M848 815h0M955 826h0M962 838h0M983 831h0M1000 798h0M949 793h0M977 813h0M973 782h0M983 825h0M998 791h0M952 802h0M978 812h0M985 839h0M699 795h0M719 834h0M658 895h0M633 923h0M627 911h0M641 909h0M645 917h0M641 919h0M642 917h0M633 930h0M638 926h0M639 914h0M630 912h0M636 911h0M642 921h0M634 910h0M635 916h0M635 912h0M639 910h0M625 919h0M636 911h0M644 910h0M635 922h0M637 907h0M625 913h0M641 906h0M637 917h0M631 906h0M664 919h0M673 932h0M802 904h0M865 934h0M856 922h0M900 931h0M845 927h0M975 960h0M942 948h0M966 927h0M964 923h0M628 934h0M772 976h0M815 967h0M806 965h0M609 959h0M609 992h0M564 997h0M677 1001h0M597 1016h0M637 1014h0M762 1019h0M675 1050h0M665 1059h0M734 1026h0M715 1059h0M795 1051h0M800 1040h0M770 1033h0M559 1060h0M641 1064h0M665 1088h0M754 1074h0M692 1085h0M721 1104h0M720 1104h0M718 1146h0" stroke="#2ca02c"/><path d="M631 774h0M845 828h0M842 817h0M823 790h0M829 792h0M989 828h0M936 808h0M989 804h0M940 798h0M957 809h0M941 768h0M952 802h0M954 790h0M978 838h0M707 802h0M697 813h0M696 789h0M758 866h0M771 853h0M759 844h0M768 847h0M593 857h0M633 870h0M636 866h0M614 894h0M653 898h0M652 898h0M785 857h0M783 864h0M777 858h0M790 858h0M781 861h0M787 867h0M776 864h0M778 869h0M783 862h0M782 871h0M788 858h0M778 871h0M788 869h0M782 854h0M782 868h0M785 855h0M773 864h0M784 871h0M781 856h0M785 869h0M777 861h0M782 887h0M786 889h0M786 900h0M778 899h0M773 894h0M783 899h0M774 895h0M785 903h0M782 895h0M776 890h0M782 887h0M788 898h0M778 889h0M774 898h0M781 894h0M786 892h0M775 899h0M787 897h0M634 919h0M661 917h0M721 913h0M793 932h0M800 902h0M883 929h0M881 943h0M856 915h0M881 940h0M960 941h0M952 925h0M963 944h0M929 941h0M965 953h0M962 952h0M583 933h0M654 955h0M681 960h0M727 969h0M779 966h0M796 988h0M592 968h0M584 977h0M637 996h0M703 995h0M578 1021h0M591 1001h0M765 1011h0M798 1015h0M692 1052h0M792 1076h0M782 1065h0M774 1043h0M790 1044h0M809 1079h0M786 1049h0" stroke="#ffbb78"/><path d="M661 780h0M750 778h0M863 768h0M862 791h0M861 791h0M858 788h0M867 785h0M966 791h0M947 809h0M988 781h0M969 790h0M984 789h0M986 813h0M990 796h0M944 820h0M734 829h0M669 834h0M716 836h0M739 845h0M747 844h0M754 876h0M757 869h0M747 878h0M614 851h0M690 884h0M568 896h0M652 907h0M786 860h0M668 924h0M655 918h0M656 932h0M718 916h0M740 920h0M748 925h0M739 909h0M753 916h0M748 908h0M747 921h0M747 915h0M741 912h0M745 927h0M748 922h0M745 907h0M737 914h0M748 917h0M752 913h0M751 921h0M746 926h0M736 916h0M743 910h0M754 916h0M750 917h0M739 920h0M741 915h0M752 918h0M751 917h0M752 924h0M751 911h0M745 913h0M748 919h0M753 911h0M748 916h0M746 925h0M743 912h0M766 931h0M802 926h0M786 933h0M799 930h0M964 964h0M955 936h0M985 948h0M974 923h0M946 946h0M973 950h0M980 940h0M589 933h0M625 932h0M745 949h0M741 949h0M744 945h0M739 945h0M737 958h0M737 956h0M739 949h0M739 942h0M741 945h0M739 946h0M732 945h0M740 952h0M743 951h0M732 949h0M740 950h0M745 946h0M737 957h0M734 949h0M740 948h0M736 944h0M742 947h0M740 952h0M743 952h0M660 973h0M675 961h0M714 985h0M729 968h0M732 972h0M729 992h0M724 978h0M715 988h0M732 979h0M718 969h0M725 977h0M720 986h0M719 973h0M723 979h0M718 989h0M721 984h0M731 977h0M717 970h0M720 975h0M725 982h0M731 980h0M721 984h0M724 973h0M734 976h0M716 986h0M725 973h0M715 979h0M716 966h0M718 991h0M722 977h0M731 980h0M721 989h0M727 990h0M731 974h0M728 982h0M737 978h0M719 970h0M727 986h0M727 984h0M715 988h0M721 968h0M721 973h0M719 986h0M725 984h0M734 987h0M761 987h0M757 984h0M765 975h0M758 983h0M752 983h0M764 992h0M760 979h0M759 992h0M766 974h0M764 995h0M761 990h0M766 980h0M760 987h0M767 977h0M767 986h0M763 994h0M758 985h0M746 987h0M760 978h0M762 979h0M747 990h0M751 990h0M760 997h0M766 988h0M764 987h0M750 985h0M764 983h0M767 977h0M754 995h0M752 987h0M765 977h0M760 970h0M762 973h0M759 974h0M750 983h0M765 988h0M751 976h0M753 990h0M759 975h0M759 987h0M781 949h0M802 962h0M808 985h0M821 975h0M806 977h0M800 993h0M813 987h0M818 984h0M815 978h0M793 978h0M808 971h0M825 990h0M791 979h0M819 996h0M815 981h0M826 981h0M816 995h0M815 966h0M814 966h0M808 997h0M793 975h0M830 980h0M802 973h0M814 975h0M806 973h0M827 983h0M809 960h0M791 976h0M814 997h0M797 978h0M817 971h0M810 989h0M792 978h0M811 964h0M797 987h0M821 985h0M797 980h0M810 980h0M821 973h0M808 971h0M795 977h0M819 981h0M810 999h0M815 971h0M804 978h0M829 982h0M808 999h0M808 970h0M797 981h0M810 968h0M800 991h0M801 986h0M807 971h0M798 977h0M790 981h0M815 992h0M804 997h0M801 965h0M809 984h0M793 990h0M828 977h0M807 996h0M810 992h0M807 963h0M796 980h0M806 974h0M804 974h0M808 990h0M792 973h0M814 979h0M833 978h0M805 984h0M817 965h0M806 988h0M810 984h0M793 977h0M820 976h0M798 995h0M811 998h0M791 975h0M799 987h0M819 968h0M823 983h0M808 986h0M818 989h0M823 972h0M620 955h0M639 1009h0M659 987h0M670 993h0M597 1020h0M586 1003h0M619 1019h0M666 1012h0M758 1019h0M752 1005h0M755 1010h0M755 1014h0M748 1009h0M760 1007h0M748 1019h0M761 1010h0M751 1007h0M751 1008h0M750 1016h0M753 1019h0M748 1016h0M763 1013h0M763 1010h0M758 1020h0M755 1017h0M762 1004h0M741 1016h0M761 1007h0M752 1022h0M760 1004h0M759 1008h0M757 1022h0M746 1007h0M750 1004h0M762 1021h0M743 1014h0M755 1005h0M747 1002h0M755 1013h0M798 1008h0M643 1033h0M626 1043h0M645 1038h0M638 1044h0M631 1050h0M637 1029h0M640 1031h0M635 1051h0M626 1041h0M641 1052h0M641 1040h0M651 1042h0M638 1042h0M638 1050h0M629 1050h0M632 1045h0M649 1038h0M645 1042h0M645 1042h0M644 1033h0M633 1044h0M634 1035h0M635 1031h0M633 1037h0M636 1036h0M627 1037h0M629 1043h0M637 1046h0M644 1034h0M630 1035h0M642 1035h0M647 1034h0M648 1045h0M644 1034h0M640 1057h0M645 1029h0M630 1032h0M635 1036h0M638 1046h0M676 1053h0M673 1062h0M732 1025h0M746 1044h0M736 1029h0M727 1032h0M744 1043h0M738 1032h0M731 1023h0M732 1046h0M742 1029h0M736 1046h0M726 1032h0M732 1038h0M733 1030h0M723 1034h0M741 1047h0M724 1035h0M730 1039h0M730 1048h0M728 1025h0M727 1024h0M745 1026h0M739 1027h0M740 1034h0M723 1034h0M738 1027h0M731 1025h0M725 1033h0M739 1034h0M741 1036h0M739 1022h0M750 1028h0M729 1035h0M732 1031h0M733 1033h0M733 1048h0M738 1046h0M730 1033h0M730 1047h0M738 1027h0M739 1028h0M746 1033h0M736 1024h0M732 1046h0M735 1040h0M733 1022h0M730 1035h0M702 1046h0M790 1048h0M784 1049h0M566 1065h0M757 1074h0M757 1076h0M870 999h0" stroke="#1f77b4"/><path d="M746 773h0M831 804h0M838 812h0M860 790h0M854 800h0M850 798h0M976 808h0M952 835h0M963 818h0M997 796h0M953 823h0M950 805h0M967 833h0M994 798h0M978 811h0M988 830h0M702 803h0M743 850h0M638 884h0M696 887h0M565 892h0M571 899h0M833 867h0M641 906h0M639 916h0M664 934h0M768 934h0M795 928h0M789 914h0M799 941h0M861 935h0M890 916h0M946 942h0M962 946h0M968 946h0M955 961h0M946 940h0M956 957h0M632 947h0M635 948h0M628 933h0M808 995h0M824 968h0M599 973h0M616 969h0M622 982h0M662 1004h0M586 1022h0M589 1017h0M673 1015h0M686 1049h0M693 1056h0M800 1070h0M556 1059h0M554 1066h0M662 1075h0M656 1084h0M703 1090h0M754 1069h0M748 1110h0M628 1109h0" stroke="#9467bd"/><path d="M751 793h0M831 773h0M858 800h0M863 770h0M844 795h0M862 776h0M949 788h0M952 770h0M962 778h0M991 800h0M966 777h0M692 800h0M688 806h0M699 791h0M760 862h0M758 847h0M760 874h0M737 869h0M759 847h0M636 882h0M693 877h0M702 893h0M655 908h0M823 857h0M663 938h0M654 931h0M660 920h0M660 935h0M665 926h0M770 930h0M820 920h0M802 921h0M818 926h0M806 911h0M862 919h0M867 907h0M861 918h0M968 967h0M963 932h0M955 946h0M939 937h0M627 947h0M622 939h0M640 936h0M646 957h0M679 977h0M673 977h0M594 965h0M589 974h0M615 964h0M615 960h0M636 970h0M645 975h0M641 1007h0M601 1015h0M660 1057h0M727 1044h0M704 1052h0M796 1033h0M799 1026h0M794 1038h0M802 1039h0M798 1079h0M640 1062h0M707 1078h0M711 1113h0" stroke="#ffff33"/><path d="M741 780h0M756 778h0M846 793h0M832 801h0M863 800h0M976 797h0M953 837h0M958 811h0M964 800h0M972 816h0M1015 793h0M983 809h0M690 802h0M703 813h0M682 830h0M667 844h0M738 846h0M600 850h0M628 871h0M618 889h0M850 877h0M665 926h0M738 911h0M777 927h0M793 932h0M823 923h0M786 908h0M821 923h0M825 910h0M828 936h0M873 926h0M886 911h0M881 919h0M861 944h0M879 917h0M861 950h0M977 959h0M968 928h0M984 962h0M929 941h0M984 951h0M635 942h0M663 965h0M671 974h0M690 965h0M719 972h0M814 989h0M816 984h0M694 999h0M660 1010h0M752 1017h0M668 1050h0M665 1051h0M660 1062h0M685 1023h0M719 1059h0M767 1051h0M817 1055h0M799 1063h0M810 1051h0M783 1046h0M775 1065h0M801 1082h0M615 1070h0M837 1024h0M860 991h0M867 996h0M865 1000h0M862 993h0M865 993h0M860 992h0M867 994h0M863 995h0" stroke="#c49c94"/><path d="M750 791h0M755 788h0M751 795h0M753 772h0M742 784h0M738 786h0M744 784h0M745 781h0M751 783h0M742 789h0M751 795h0M753 782h0M737 786h0M742 795h0M756 795h0M749 792h0M758 791h0M750 799h0M842 806h0M868 798h0M835 790h0M832 789h0M847 818h0M852 808h0M853 773h0M840 784h0M850 784h0M867 807h0M844 778h0M835 799h0M861 797h0M870 788h0M836 804h0M831 782h0M874 779h0M841 794h0M832 811h0M868 791h0M837 809h0M833 803h0M836 777h0M858 788h0M847 809h0M849 812h0M831 808h0M849 809h0M865 806h0M870 804h0M841 801h0M843 785h0M859 800h0M833 782h0M836 779h0M859 788h0M846 789h0M849 778h0M822 780h0M849 796h0M826 785h0M827 790h0M841 797h0M856 805h0M842 812h0M827 781h0M868 791h0M837 804h0M827 789h0M861 811h0M840 788h0M834 799h0M859 789h0M841 798h0M848 783h0M853 804h0M867 786h0M852 808h0M825 805h0M834 785h0M862 781h0M850 815h0M863 790h0M948 835h0M985 782h0M1001 804h0M951 795h0M949 786h0M982 828h0M981 835h0M962 793h0M937 805h0M960 785h0M938 795h0M972 792h0M947 791h0M939 802h0M967 825h0M974 790h0M959 822h0M933 784h0M948 791h0M1000 823h0M957 803h0M977 839h0M951 817h0M965 800h0M962 796h0M955 784h0M952 780h0M965 784h0M939 801h0M959 835h0M968 816h0M952 829h0M964 802h0M945 808h0M960 841h0M952 790h0M983 784h0M982 789h0M936 814h0M964 817h0M943 796h0M957 829h0M966 828h0M991 783h0M961 791h0M957 778h0M996 807h0M991 801h0M974 819h0M993 807h0M979 775h0M955 836h0M942 796h0M936 808h0M974 829h0M1001 796h0M945 817h0M980 788h0M979 808h0M937 817h0M977 815h0M984 827h0M977 784h0M1009 825h0M973 796h0M965 774h0M957 817h0M944 822h0M1001 816h0M979 803h0M950 821h0M960 787h0M959 830h0M960 799h0M982 797h0M974 807h0M993 818h0M947 818h0M1012 793h0M960 811h0M949 805h0M964 774h0M992 824h0M945 776h0M958 807h0M975 808h0M956 819h0M968 798h0M967 776h0M994 818h0M963 789h0M961 795h0M951 825h0M998 809h0M957 808h0M987 802h0M964 811h0M937 803h0M982 838h0M942 825h0M956 832h0M974 770h0M973 791h0M972 819h0M951 805h0M975 797h0M975 842h0M995 828h0M972 798h0M949 822h0M944 794h0M953 814h0M958 820h0M951 794h0M973 779h0M945 787h0M689 796h0M692 792h0M698 801h0M704 801h0M709 799h0M705 800h0M708 793h0M707 787h0M695 801h0M688 801h0M707 794h0M728 833h0M732 823h0M734 833h0M738 823h0M735 830h0M730 824h0M736 831h0M728 822h0M730 818h0M737 822h0M729 822h0M727 836h0M679 836h0M668 836h0M674 830h0M678 831h0M676 840h0M672 826h0M668 839h0M665 833h0M678 833h0M677 838h0M678 827h0M672 824h0M673 837h0M669 829h0M666 835h0M678 834h0M672 834h0M676 833h0M679 834h0M679 833h0M678 831h0M672 838h0M679 836h0M671 841h0M675 829h0M675 842h0M679 840h0M717 841h0M711 837h0M709 836h0M714 841h0M712 837h0M716 833h0M710 841h0M717 832h0M709 837h0M708 836h0M707 833h0M759 866h0M746 852h0M744 862h0M751 858h0M749 854h0M767 871h0M738 854h0M759 859h0M758 842h0M751 874h0M741 856h0M748 866h0M738 862h0M740 857h0M737 844h0M765 844h0M767 853h0M756 875h0M737 849h0M747 866h0M730 846h0M756 846h0M749 855h0M757 844h0M755 865h0M751 838h0M752 870h0M769 857h0M756 840h0M600 857h0M605 844h0M607 864h0M602 863h0M594 860h0M598 852h0M610 854h0M608 857h0M599 852h0M597 851h0M607 857h0M592 867h0M610 859h0M592 852h0M614 856h0M633 865h0M629 881h0M633 877h0M639 883h0M637 880h0M642 876h0M630 874h0M632 870h0M636 871h0M646 870h0M702 869h0M678 891h0M694 882h0M699 884h0M702 883h0M697 890h0M689 867h0M683 882h0M689 876h0M683 881h0M705 890h0M704 887h0M696 879h0M678 889h0M698 897h0M696 896h0M703 888h0M676 874h0M708 883h0M691 885h0M680 887h0M702 879h0M705 877h0M678 879h0M695 896h0M700 895h0M707 884h0M707 880h0M686 887h0M697 897h0M695 870h0M699 885h0M692 882h0M680 891h0M689 885h0M685 896h0M678 888h0M707 877h0M683 873h0M692 881h0M706 878h0M688 883h0M695 896h0M703 891h0M693 870h0M687 875h0M696 889h0M693 870h0M692 894h0M699 898h0M683 874h0M685 886h0M698 881h0M688 900h0M727 895h0M725 879h0M724 889h0M724 883h0M715 886h0M729 890h0M709 887h0M727 876h0M719 877h0M721 896h0M721 893h0M723 874h0M721 894h0M726 895h0M715 887h0M728 891h0M715 885h0M713 878h0M715 882h0M721 893h0M723 890h0M712 888h0M724 894h0M557 885h0M553 900h0M553 895h0M563 897h0M557 893h0M565 908h0M564 904h0M571 897h0M556 898h0M611 906h0M612 903h0M605 893h0M618 890h0M621 898h0M611 888h0M602 889h0M614 886h0M606 901h0M603 899h0M658 898h0M648 906h0M648 905h0M655 895h0M665 905h0M657 899h0M661 898h0M648 903h0M659 895h0M652 902h0M657 904h0M663 907h0M822 867h0M820 857h0M826 870h0M832 860h0M823 862h0M822 862h0M822 869h0M831 862h0M816 862h0M830 856h0M825 872h0M818 868h0M827 863h0M820 867h0M834 862h0M830 868h0M825 869h0M819 861h0M821 857h0M844 886h0M844 882h0M848 874h0M843 888h0M849 883h0M851 886h0M847 876h0M850 879h0M850 879h0M856 883h0M843 880h0M849 884h0M852 879h0M627 917h0M634 916h0M640 921h0M636 912h0M629 921h0M637 921h0M637 908h0M645 911h0M632 917h0M645 918h0M661 921h0M665 919h0M653 923h0M667 940h0M665 933h0M666 929h0M661 929h0M661 930h0M657 936h0M667 932h0M655 930h0M659 940h0M662 942h0M663 938h0M658 930h0M654 929h0M685 915h0M695 919h0M684 921h0M687 920h0M684 916h0M693 923h0M689 925h0M697 917h0M686 918h0M682 924h0M694 915h0M696 912h0M687 916h0M686 922h0M687 915h0M695 923h0M692 927h0M689 919h0M689 913h0M693 925h0M700 918h0M683 921h0M698 915h0M691 919h0M690 927h0M689 916h0M692 911h0M725 911h0M719 917h0M715 920h0M728 916h0M726 923h0M717 921h0M726 921h0M727 918h0M728 921h0M717 914h0M728 920h0M719 924h0M728 909h0M716 915h0M725 920h0M728 912h0M712 916h0M729 918h0M724 917h0M720 913h0M724 916h0M716 920h0M725 912h0M722 914h0M721 922h0M714 917h0M722 923h0M719 921h0M717 907h0M739 914h0M770 926h0M769 938h0M769 931h0M774 926h0M771 918h0M766 930h0M761 923h0M777 926h0M765 916h0M776 927h0M758 927h0M791 923h0M813 902h0M788 926h0M790 926h0M807 922h0M818 931h0M805 920h0M799 914h0M824 918h0M806 913h0M781 931h0M790 922h0M799 937h0M788 918h0M807 932h0M777 922h0M800 930h0M793 934h0M805 912h0M800 923h0M796 922h0M818 912h0M792 924h0M794 933h0M788 930h0M796 912h0M803 950h0M807 918h0M797 910h0M795 931h0M814 910h0M807 928h0M827 925h0M820 932h0M792 932h0M783 922h0M789 928h0M809 913h0M813 904h0M802 934h0M805 945h0M824 910h0M792 918h0M812 916h0M788 922h0M832 923h0M795 905h0M864 923h0M890 919h0M853 944h0M846 940h0M853 915h0M897 944h0M864 949h0M875 950h0M867 909h0M869 923h0M880 912h0M854 920h0M872 931h0M889 914h0M891 927h0M859 934h0M874 904h0M875 910h0M891 918h0M887 932h0M856 931h0M854 924h0M853 923h0M892 918h0M867 912h0M883 940h0M875 942h0M859 936h0M861 912h0M891 948h0M884 923h0M883 923h0M853 939h0M883 958h0M893 918h0M865 913h0M862 947h0M873 928h0M898 929h0M860 933h0M880 957h0M871 918h0M897 905h0M871 893h0M891 942h0M869 948h0M865 933h0M866 940h0M877 912h0M856 939h0M856 927h0M875 936h0M881 933h0M870 938h0M953 958h0M958 945h0M973 941h0M943 948h0M955 935h0M951 957h0M953 928h0M970 923h0M945 923h0M945 935h0M965 952h0M947 945h0M941 934h0M945 944h0M955 932h0M971 965h0M977 945h0M983 933h0M958 955h0M973 951h0M979 959h0M957 953h0M946 949h0M964 945h0M967 942h0M939 952h0M967 936h0M967 923h0M941 943h0M961 958h0M974 942h0M955 938h0M970 963h0M975 963h0M976 949h0M966 930h0M952 925h0M957 924h0M976 929h0M977 928h0M972 942h0M968 959h0M952 945h0M970 953h0M963 967h0M952 961h0M958 949h0M966 923h0M966 921h0M975 930h0M957 951h0M980 949h0M948 930h0M948 950h0M949 955h0M964 941h0M975 958h0M942 952h0M957 945h0M980 945h0M979 947h0M941 951h0M580 929h0M586 928h0M586 931h0M588 933h0M595 937h0M595 930h0M594 941h0M596 929h0M587 929h0M588 931h0M589 941h0M589 939h0M584 936h0M591 940h0M591 937h0M586 935h0M579 935h0M579 931h0M592 928h0M577 938h0M591 943h0M589 936h0M584 931h0M589 927h0M582 937h0M641 938h0M627 941h0M634 950h0M624 936h0M630 948h0M637 934h0M632 938h0M624 951h0M621 950h0M626 954h0M639 940h0M642 937h0M626 944h0M629 944h0M621 935h0M632 950h0M624 931h0M626 937h0M637 937h0M637 943h0M710 952h0M718 940h0M710 946h0M714 947h0M713 948h0M704 943h0M719 945h0M712 938h0M716 949h0M706 936h0M717 936h0M704 938h0M716 946h0M703 939h0M704 935h0M703 937h0M704 934h0M707 935h0M708 933h0M702 941h0M714 934h0M707 945h0M714 941h0M706 939h0M705 950h0M708 941h0M702 945h0M706 938h0M718 946h0M704 938h0M712 948h0M717 938h0M711 935h0M710 936h0M732 950h0M650 948h0M649 959h0M656 963h0M660 958h0M654 968h0M650 954h0M650 953h0M672 971h0M676 977h0M664 967h0M679 962h0M670 978h0M663 963h0M684 973h0M668 963h0M683 971h0M675 980h0M667 961h0M672 967h0M678 971h0M664 968h0M672 958h0M684 978h0M668 959h0M666 973h0M682 977h0M670 972h0M683 974h0M680 971h0M674 965h0M665 966h0M673 965h0M683 976h0M672 958h0M679 967h0M681 969h0M665 965h0M668 980h0M668 966h0M666 980h0M681 976h0M679 960h0M694 963h0M697 956h0M696 964h0M689 962h0M691 964h0M690 966h0M698 962h0M694 970h0M702 972h0M697 959h0M690 961h0M702 970h0M702 964h0M697 972h0M704 963h0M691 964h0M690 962h0M698 959h0M697 962h0M693 967h0M693 960h0M698 972h0M691 967h0M738 983h0M719 990h0M714 984h0M737 977h0M709 991h0M734 977h0M723 989h0M764 980h0M786 955h0M785 955h0M774 960h0M786 957h0M787 964h0M780 959h0M789 961h0M783 969h0M776 969h0M790 962h0M778 955h0M780 978h0M775 959h0M787 965h0M770 956h0M773 978h0M790 977h0M785 971h0M773 965h0M784 965h0M788 970h0M782 980h0M793 959h0M785 958h0M784 964h0M780 954h0M780 968h0M781 980h0M778 974h0M775 960h0M773 977h0M777 957h0M774 972h0M775 974h0M788 958h0M769 971h0M782 971h0M780 985h0M769 977h0M780 957h0M770 966h0M782 955h0M779 978h0M767 969h0M786 955h0M780 961h0M774 967h0M821 972h0M807 985h0M812 978h0M823 984h0M813 1000h0M808 999h0M824 980h0M811 997h0M576 968h0M591 968h0M577 971h0M598 962h0M589 966h0M599 970h0M587 977h0M581 966h0M598 968h0M591 966h0M608 963h0M612 956h0M621 965h0M608 957h0M610 965h0M614 963h0M619 964h0M615 953h0M612 966h0M611 965h0M613 964h0M632 983h0M644 981h0M648 979h0M632 971h0M634 969h0M642 975h0M635 980h0M639 972h0M635 971h0M637 973h0M648 976h0M632 981h0M637 976h0M634 989h0M632 978h0M639 982h0M639 970h0M639 978h0M641 965h0M632 976h0M633 972h0M645 978h0M647 981h0M641 977h0M640 977h0M634 972h0M611 987h0M622 993h0M613 982h0M620 990h0M611 980h0M618 980h0M615 988h0M614 987h0M616 984h0M619 977h0M610 988h0M626 988h0M619 977h0M611 977h0M620 982h0M626 983h0M617 994h0M612 981h0M615 980h0M621 980h0M619 994h0M622 990h0M621 983h0M616 978h0M630 986h0M614 986h0M621 993h0M561 990h0M579 993h0M581 999h0M572 991h0M557 987h0M568 995h0M570 990h0M580 996h0M575 987h0M563 1002h0M566 1003h0M573 993h0M576 1000h0M577 1003h0M571 993h0M575 988h0M582 989h0M576 996h0M563 991h0M580 987h0M565 993h0M566 1002h0M572 1003h0M567 998h0M571 992h0M567 988h0M568 996h0M577 1003h0M580 993h0M582 987h0M578 984h0M570 983h0M563 999h0M564 999h0M574 1005h0M574 982h0M579 997h0M573 988h0M573 1002h0M567 997h0M579 985h0M632 999h0M645 993h0M641 1002h0M648 992h0M646 1006h0M634 998h0M647 1000h0M641 998h0M637 991h0M646 1001h0M632 996h0M635 996h0M639 1006h0M636 997h0M647 1000h0M646 991h0M643 997h0M643 1000h0M639 992h0M639 1005h0M638 996h0M644 996h0M647 998h0M638 996h0M653 993h0M652 997h0M655 1000h0M654 1003h0M652 995h0M656 1004h0M660 985h0M659 1006h0M669 1003h0M662 994h0M668 993h0M663 990h0M657 999h0M661 991h0M652 1001h0M657 1004h0M661 1000h0M670 993h0M654 994h0M650 1000h0M662 1005h0M667 990h0M662 1001h0M665 1003h0M656 992h0M658 995h0M657 992h0M653 1003h0M688 991h0M685 1000h0M673 997h0M700 991h0M682 995h0M687 992h0M685 993h0M687 990h0M684 999h0M694 999h0M699 997h0M692 999h0M698 1007h0M701 995h0M698 1005h0M685 989h0M690 1012h0M694 1001h0M694 998h0M703 992h0M682 998h0M701 1000h0M688 1011h0M703 994h0M700 989h0M685 1003h0M693 999h0M683 994h0M693 996h0M696 990h0M698 1008h0M687 1001h0M687 1000h0M696 994h0M688 1005h0M690 996h0M698 1001h0M689 993h0M703 995h0M695 1006h0M683 1002h0M688 1001h0M691 994h0M684 999h0M690 1001h0M697 1001h0M686 1005h0M601 1001h0M600 1014h0M591 1022h0M602 1014h0M594 1023h0M592 1001h0M584 1004h0M581 1013h0M596 1014h0M591 1007h0M590 1019h0M621 1004h0M627 1017h0M615 1010h0M617 1005h0M618 1024h0M614 1008h0M617 1008h0M619 1021h0M629 1009h0M618 1007h0M625 1019h0M621 1017h0M618 1022h0M626 1019h0M622 1005h0M627 1014h0M626 1010h0M613 1007h0M610 1020h0M622 1005h0M638 1019h0M639 1014h0M652 1016h0M647 1019h0M644 1011h0M648 1028h0M645 1016h0M642 1019h0M638 1015h0M653 1017h0M650 1020h0M636 1025h0M646 1018h0M639 1018h0M638 1021h0M642 1017h0M643 1011h0M648 1020h0M642 1023h0M645 1020h0M642 1017h0M665 1006h0M674 1013h0M663 1013h0M666 1016h0M668 1021h0M659 1019h0M664 1021h0M670 1016h0M673 1009h0M672 1022h0M671 1009h0M666 1020h0M672 1024h0M756 1012h0M751 1021h0M805 1011h0M794 1008h0M801 1004h0M791 1018h0M797 1021h0M786 1005h0M787 1016h0M795 1016h0M781 1010h0M782 1012h0M793 1025h0M792 1010h0M781 1016h0M795 1005h0M783 1019h0M789 1019h0M805 1017h0M790 998h0M800 1008h0M779 1013h0M791 1026h0M790 1024h0M802 1013h0M788 1016h0M800 1015h0M782 1018h0M789 1004h0M791 1015h0M784 1007h0M784 1019h0M801 1015h0M793 1003h0M801 1018h0M801 1010h0M797 1005h0M794 1007h0M784 1004h0M796 1007h0M805 1015h0M795 1004h0M786 1016h0M802 1022h0M789 1029h0M800 1016h0M789 1016h0M785 1004h0M795 1022h0M791 1016h0M804 1017h0M560 1024h0M566 1029h0M562 1034h0M558 1033h0M557 1033h0M570 1031h0M571 1028h0M553 1029h0M571 1025h0M564 1033h0M568 1030h0M562 1036h0M553 1024h0M554 1023h0M558 1026h0M568 1031h0M562 1031h0M564 1028h0M568 1031h0M565 1024h0M570 1030h0M568 1030h0M564 1034h0M648 1037h0M642 1032h0M643 1039h0M645 1030h0M641 1033h0M655 1059h0M663 1052h0M667 1060h0M659 1056h0M656 1058h0M661 1039h0M677 1051h0M664 1045h0M659 1063h0M659 1057h0M664 1050h0M656 1060h0M662 1051h0M667 1059h0M665 1053h0M663 1059h0M677 1061h0M677 1040h0M674 1047h0M676 1037h0M684 1037h0M674 1058h0M671 1046h0M673 1039h0M670 1063h0M662 1042h0M670 1053h0M670 1057h0M655 1053h0M683 1034h0M689 1028h0M692 1025h0M687 1036h0M689 1028h0M682 1035h0M689 1037h0M693 1026h0M688 1025h0M686 1027h0M681 1030h0M695 1037h0M688 1034h0M697 1029h0M689 1032h0M696 1032h0M687 1040h0M685 1039h0M700 1029h0M688 1029h0M692 1029h0M688 1041h0M689 1031h0M686 1027h0M697 1041h0M685 1027h0M738 1048h0M736 1040h0M701 1045h0M700 1055h0M701 1054h0M698 1056h0M698 1042h0M691 1054h0M699 1055h0M702 1058h0M708 1054h0M694 1059h0M694 1059h0M693 1054h0M705 1046h0M706 1049h0M697 1058h0M691 1054h0M705 1054h0M705 1046h0M705 1055h0M708 1057h0M693 1045h0M709 1049h0M699 1050h0M703 1046h0M717 1064h0M722 1057h0M724 1056h0M716 1060h0M713 1059h0M716 1065h0M720 1056h0M723 1058h0M717 1055h0M714 1054h0M714 1067h0M721 1064h0M729 1067h0M710 1059h0M717 1064h0M725 1063h0M713 1062h0M721 1063h0M714 1066h0M710 1055h0M717 1051h0M713 1062h0M717 1057h0M722 1071h0M730 1064h0M713 1062h0M712 1053h0M714 1061h0M814 1039h0M786 1046h0M783 1035h0M802 1041h0M782 1074h0M799 1067h0M806 1037h0M810 1059h0M785 1048h0M801 1055h0M798 1055h0M785 1077h0M815 1033h0M790 1030h0M778 1043h0M811 1057h0M803 1039h0M805 1051h0M787 1040h0M800 1051h0M778 1073h0M794 1033h0M786 1045h0M767 1058h0M778 1059h0M800 1045h0M792 1034h0M786 1079h0M795 1050h0M776 1047h0M777 1055h0M788 1033h0M800 1032h0M782 1064h0M810 1058h0M785 1037h0M769 1063h0M797 1071h0M815 1064h0M800 1075h0M806 1070h0M777 1063h0M801 1070h0M808 1047h0M769 1052h0M777 1064h0M801 1034h0M776 1052h0M799 1068h0M781 1032h0M799 1077h0M766 1051h0M565 1065h0M558 1061h0M568 1059h0M572 1056h0M568 1068h0M564 1057h0M563 1049h0M564 1070h0M558 1068h0M559 1063h0M561 1058h0M561 1073h0M552 1051h0M561 1048h0M567 1068h0M551 1068h0M549 1064h0M562 1056h0M567 1054h0M560 1058h0M561 1055h0M554 1053h0M561 1070h0M571 1055h0M552 1053h0M557 1053h0M561 1070h0M552 1054h0M573 1061h0M567 1070h0M566 1071h0M559 1059h0M561 1061h0M560 1069h0M557 1067h0M564 1048h0M560 1073h0M602 1064h0M595 1063h0M591 1068h0M615 1062h0M600 1064h0M610 1057h0M606 1058h0M607 1056h0M604 1079h0M608 1058h0M598 1077h0M605 1058h0M597 1071h0M611 1078h0M611 1073h0M614 1070h0M607 1067h0M617 1074h0M597 1064h0M595 1065h0M611 1086h0M606 1076h0M597 1073h0M595 1056h0M605 1064h0M606 1060h0M604 1068h0M609 1065h0M600 1069h0M590 1069h0M609 1066h0M605 1053h0M599 1074h0M619 1058h0M619 1068h0M612 1052h0M605 1074h0M635 1074h0M632 1065h0M630 1074h0M630 1069h0M650 1073h0M647 1074h0M649 1064h0M633 1077h0M633 1071h0M644 1060h0M634 1079h0M641 1075h0M639 1074h0M634 1075h0M645 1063h0M643 1076h0M646 1065h0M639 1075h0M642 1070h0M632 1071h0M631 1071h0M648 1066h0M632 1071h0M636 1072h0M634 1072h0M635 1073h0M642 1078h0M636 1061h0M649 1074h0M669 1071h0M658 1087h0M658 1079h0M667 1100h0M673 1074h0M664 1082h0M683 1086h0M668 1084h0M674 1096h0M661 1079h0M675 1069h0M673 1068h0M685 1085h0M670 1077h0M662 1074h0M658 1083h0M666 1088h0M668 1079h0M662 1073h0M681 1076h0M664 1085h0M667 1071h0M676 1089h0M667 1077h0M671 1068h0M659 1088h0M674 1083h0M687 1071h0M675 1072h0M671 1081h0M670 1092h0M679 1079h0M659 1082h0M677 1075h0M674 1096h0M674 1077h0M677 1075h0M668 1082h0M672 1079h0M662 1079h0M680 1081h0M672 1076h0M671 1069h0M666 1083h0M673 1092h0M664 1076h0M666 1069h0M663 1073h0M677 1081h0M656 1082h0M702 1075h0M702 1079h0M704 1071h0M705 1075h0M707 1083h0M697 1074h0M713 1077h0M706 1078h0M709 1074h0M697 1075h0M699 1082h0M702 1084h0M709 1085h0M697 1086h0M706 1079h0M704 1089h0M704 1070h0M710 1082h0M709 1072h0M704 1089h0M714 1082h0M706 1088h0M709 1079h0M699 1084h0M703 1087h0M754 1073h0M741 1069h0M759 1067h0M745 1070h0M749 1077h0M745 1064h0M758 1066h0M743 1068h0M752 1068h0M745 1077h0M753 1063h0M748 1067h0M741 1075h0M743 1077h0M752 1062h0M756 1062h0M759 1071h0M746 1068h0M756 1061h0M753 1065h0M753 1068h0M740 1069h0M750 1066h0M751 1060h0M749 1077h0M754 1075h0M753 1074h0M746 1078h0M749 1078h0M743 1064h0M759 1076h0M749 1073h0M688 1095h0M683 1101h0M696 1099h0M691 1097h0M682 1097h0M697 1094h0M686 1095h0M690 1109h0M691 1096h0M683 1101h0M690 1105h0M688 1104h0M688 1105h0M688 1100h0M687 1107h0M684 1098h0M687 1104h0M698 1094h0M682 1103h0M691 1105h0M682 1096h0M689 1091h0M698 1097h0M691 1106h0M686 1093h0M683 1100h0M690 1103h0M699 1103h0M682 1096h0M706 1104h0M728 1111h0M715 1112h0M710 1098h0M724 1103h0M711 1095h0M721 1110h0M701 1109h0M714 1105h0M707 1109h0M721 1108h0M710 1110h0M723 1099h0M719 1101h0M723 1094h0M715 1107h0M714 1098h0M715 1109h0M705 1107h0M713 1106h0M724 1107h0M722 1112h0M705 1101h0M722 1108h0M712 1105h0M711 1097h0M723 1108h0M714 1110h0M751 1097h0M759 1102h0M757 1109h0M752 1100h0M750 1096h0M757 1097h0M629 1106h0M630 1110h0M630 1120h0M635 1103h0M648 1148h0M639 1157h0M645 1149h0M688 1142h0M716 1139h0" stroke="#ffffff"/><path d="M744 791h0M745 782h0M742 786h0M741 781h0M748 794h0M753 797h0M739 791h0M759 783h0M750 790h0M763 784h0M745 784h0M748 788h0M741 776h0M855 776h0M990 788h0M948 811h0M973 801h0M948 794h0M968 774h0M995 784h0M926 790h0M955 833h0M1001 819h0M951 835h0M990 796h0M666 841h0M751 859h0M734 863h0M757 860h0M754 872h0M600 858h0M655 855h0M632 876h0M661 920h0M760 920h0M765 934h0M774 930h0M767 924h0M779 924h0M767 926h0M772 926h0M768 924h0M770 915h0M779 925h0M813 915h0M778 922h0M884 942h0M852 950h0M870 934h0M893 926h0M904 921h0M860 920h0M862 915h0M844 933h0M885 931h0M863 956h0M889 933h0M899 929h0M849 921h0M897 934h0M883 924h0M861 916h0M892 923h0M888 913h0M846 930h0M859 925h0M884 953h0M902 924h0M890 918h0M884 915h0M853 926h0M877 913h0M899 928h0M893 932h0M891 939h0M889 938h0M899 929h0M884 918h0M881 917h0M854 940h0M879 908h0M850 927h0M856 947h0M881 946h0M883 923h0M891 946h0M860 950h0M856 913h0M862 924h0M874 938h0M879 911h0M846 936h0M859 952h0M862 947h0M889 946h0M857 940h0M869 936h0M856 943h0M872 920h0M899 925h0M887 912h0M875 928h0M852 916h0M859 909h0M895 928h0M860 918h0M867 909h0M855 937h0M860 948h0M861 906h0M896 930h0M871 933h0M866 924h0M873 941h0M892 920h0M897 937h0M866 916h0M873 951h0M874 915h0M857 920h0M897 918h0M849 934h0M850 944h0M851 917h0M853 916h0M870 914h0M862 936h0M861 925h0M894 934h0M853 946h0M881 935h0M881 953h0M875 948h0M981 940h0M951 947h0M961 967h0M951 942h0M583 941h0M658 965h0M650 955h0M678 968h0M745 982h0M784 977h0M811 967h0M590 958h0M581 969h0M587 958h0M591 973h0M591 959h0M599 970h0M582 964h0M583 968h0M584 962h0M581 977h0M599 963h0M600 966h0M591 962h0M611 960h0M622 964h0M608 970h0M589 1023h0M590 1006h0M650 1022h0M761 1017h0M756 1011h0M566 1020h0M669 1061h0M665 1052h0M655 1048h0M780 1067h0M795 1029h0M786 1074h0M792 1041h0M610 1071h0M711 1088h0M685 1147h0" stroke="#ff7f0e"/><path d="M755 782h0M825 796h0M825 784h0M864 811h0M871 810h0M858 815h0M963 832h0M963 800h0M968 795h0M974 828h0M977 822h0M957 820h0M987 791h0M976 821h0M995 810h0M1017 796h0M717 834h0M767 868h0M779 857h0M753 852h0M751 834h0M752 840h0M600 849h0M604 850h0M642 868h0M634 872h0M696 870h0M693 898h0M701 880h0M783 857h0M667 936h0M665 931h0M761 940h0M759 932h0M776 916h0M812 910h0M795 937h0M855 939h0M874 953h0M965 954h0M951 963h0M941 952h0M991 942h0M711 939h0M791 984h0M598 965h0M587 962h0M589 1006h0M764 1016h0M570 1024h0M662 1054h0M668 1066h0M664 1043h0M815 1045h0M777 1034h0M803 1061h0M773 1071h0M801 1077h0M796 1040h0M599 1052h0M708 1084h0M694 1105h0" stroke="#9edae5"/><path d="M760 783h0M856 798h0M850 794h0M828 790h0M846 780h0M953 820h0M944 830h0M968 798h0M946 810h0M1000 818h0M976 787h0M990 797h0M700 797h0M681 834h0M752 877h0M736 846h0M749 862h0M601 847h0M628 875h0M698 875h0M781 854h0M665 928h0M694 913h0M693 919h0M693 920h0M772 923h0M803 929h0M811 918h0M789 937h0M793 926h0M879 915h0M859 919h0M947 952h0M979 928h0M940 965h0M620 934h0M647 961h0M661 973h0M749 977h0M701 1004h0M586 1014h0M591 1016h0M570 1031h0M660 1047h0M731 1032h0M732 1054h0M792 1043h0M700 1087h0M719 1108h0M652 1143h0M730 1156h0" stroke="#7f7f7f"/><path d="M743 786h0M757 792h0M868 819h0M968 785h0M977 823h0M946 815h0M968 785h0M979 812h0M962 822h0M950 830h0M955 809h0M950 799h0M966 772h0M938 817h0M982 811h0M971 800h0M958 784h0M973 792h0M971 840h0M703 808h0M757 849h0M762 851h0M763 866h0M613 857h0M631 865h0M709 870h0M716 888h0M660 901h0M638 918h0M665 933h0M697 917h0M817 928h0M793 924h0M802 917h0M794 902h0M807 912h0M884 953h0M856 940h0M871 928h0M873 958h0M875 905h0M976 960h0M582 928h0M622 937h0M629 940h0M618 942h0M637 937h0M827 973h0M583 961h0M599 972h0M585 962h0M636 985h0M702 994h0M601 1012h0M581 1005h0M658 1044h0M675 1041h0M740 1046h0M783 1071h0M800 1032h0M778 1051h0M792 1073h0M785 1057h0M775 1068h0M778 1050h0M797 1077h0M786 1059h0M567 1049h0M596 1076h0M596 1071h0M722 1098h0" stroke="#ff9896"/><path d="M741 777h0M755 797h0M744 779h0M868 791h0M955 811h0M978 789h0M973 825h0M997 795h0M984 821h0M936 810h0M991 831h0M983 785h0M957 824h0M986 839h0M975 781h0M952 788h0M694 788h0M756 876h0M750 871h0M631 872h0M614 895h0M652 904h0M656 930h0M663 931h0M721 919h0M779 923h0M774 929h0M808 938h0M803 910h0M865 952h0M871 942h0M885 956h0M857 948h0M962 943h0M951 962h0M948 956h0M583 934h0M633 954h0M648 954h0M653 959h0M646 956h0M658 966h0M672 962h0M670 965h0M769 984h0M799 987h0M612 957h0M593 1007h0M600 1011h0M592 1019h0M627 1022h0M659 1016h0M555 1034h0M671 1038h0M682 1045h0M652 1059h0M734 1039h0M728 1062h0M797 1035h0M798 1039h0M785 1058h0M770 1051h0M776 1036h0M593 1068h0M647 1151h0M647 1141h0" stroke="#8da0cb"/><path d="M748 786h0M840 802h0M855 787h0M830 786h0M834 791h0M937 817h0M937 800h0M974 779h0M969 812h0M958 826h0M954 789h0M969 843h0M683 838h0M668 840h0M751 850h0M761 858h0M652 856h0M632 871h0M637 876h0M693 878h0M782 894h0M660 920h0M697 924h0M802 928h0M811 930h0M823 933h0M853 917h0M875 924h0M882 923h0M854 932h0M893 927h0M961 942h0M963 941h0M621 938h0M635 938h0M627 936h0M727 997h0M717 986h0M614 969h0M585 1009h0M594 1020h0M584 1018h0M647 1026h0M569 1029h0M662 1061h0M668 1050h0M659 1052h0M684 1030h0M821 1048h0M768 1041h0M796 1050h0M773 1048h0M780 1050h0M785 1032h0M786 1046h0M804 1043h0M602 1060h0M647 1064h0M680 1086h0M744 1078h0" stroke="#bcbd22"/><path d="M760 778h0M854 809h0M835 806h0M858 787h0M855 785h0M839 802h0M958 791h0M948 789h0M970 819h0M981 806h0M938 823h0M950 825h0M952 829h0M963 825h0M971 794h0M956 816h0M956 818h0M943 795h0M692 788h0M731 825h0M764 874h0M766 859h0M756 861h0M743 853h0M603 849h0M638 876h0M638 882h0M628 883h0M612 905h0M647 912h0M669 937h0M648 920h0M667 938h0M699 924h0M697 923h0M722 922h0M799 922h0M805 933h0M881 927h0M876 907h0M961 943h0M588 931h0M626 939h0M626 953h0M652 963h0M676 979h0M770 951h0M814 970h0M582 965h0M585 972h0M613 979h0M653 993h0M784 1007h0M559 1036h0M565 1028h0M642 1043h0M628 1050h0M675 1061h0M738 1041h0M802 1046h0M771 1068h0M791 1073h0M803 1068h0M805 1045h0M672 1076h0" stroke="#fc8d62"/><path d="M745 780h0M857 808h0M832 798h0M849 806h0M848 784h0M839 790h0M839 787h0M863 784h0M860 794h0M855 813h0M851 772h0M942 824h0M958 800h0M985 813h0M961 819h0M959 834h0M951 826h0M971 834h0M691 811h0M698 799h0M760 868h0M741 857h0M595 863h0M631 880h0M689 877h0M724 886h0M604 900h0M634 926h0M787 912h0M877 906h0M899 931h0M944 948h0M965 942h0M636 940h0M634 947h0M702 947h0M655 961h0M681 978h0M691 967h0M732 979h0M769 976h0M796 973h0M687 997h0M590 1018h0M583 1010h0M675 1022h0M665 1035h0M671 1037h0M665 1046h0M691 1048h0M786 1067h0M810 1036h0M549 1062h0M570 1056h0M604 1064h0M602 1062h0M710 1104h0M750 1113h0M749 1105h0" stroke="#d62728"/><path d="M752 775h0M838 797h0M870 794h0M865 796h0M864 786h0M960 819h0M975 811h0M971 777h0M970 814h0M984 817h0M945 798h0M983 805h0M960 837h0M690 809h0M748 860h0M739 857h0M761 843h0M760 868h0M757 849h0M626 880h0M697 876h0M704 879h0M786 899h0M636 907h0M630 908h0M638 906h0M661 942h0M767 934h0M787 930h0M808 932h0M818 915h0M802 915h0M790 919h0M850 938h0M854 942h0M876 940h0M946 961h0M976 928h0M940 949h0M955 950h0M643 945h0M633 938h0M740 972h0M779 976h0M820 994h0M806 1000h0M611 960h0M635 993h0M599 1019h0M585 1006h0M588 1008h0M712 1030h0M792 1005h0M701 1049h0M778 1035h0M792 1038h0M814 1047h0M807 1067h0M801 1073h0M604 1065h0M639 1069h0M634 1068h0M749 1105h0M761 1094h0M753 1101h0M764 1099h0M755 1109h0M759 1111h0M751 1115h0M771 1113h0M759 1112h0M765 1110h0M752 1098h0M763 1111h0M766 1102h0M747 1103h0M746 1115h0M757 1100h0M764 1106h0M744 1102h0M766 1101h0M747 1111h0M744 1119h0M759 1096h0M754 1096h0M748 1112h0M765 1108h0M748 1113h0M748 1100h0M744 1101h0M747 1119h0M755 1114h0M750 1097h0M746 1107h0M762 1098h0M762 1104h0M759 1116h0M756 1097h0M759 1116h0M751 1108h0M752 1093h0M747 1097h0M747 1104h0M631 1120h0M629 1112h0M644 1101h0M637 1124h0M641 1101h0M640 1117h0M630 1117h0M641 1107h0M634 1114h0M634 1102h0M638 1101h0M646 1106h0M627 1111h0M626 1111h0M639 1107h0M642 1119h0M630 1119h0M630 1105h0M636 1110h0M632 1113h0M633 1105h0M626 1105h0M639 1122h0M637 1118h0M636 1100h0M631 1113h0M643 1104h0M637 1116h0M646 1113h0M638 1102h0M631 1114h0M638 1113h0M641 1114h0M641 1111h0M633 1117h0M632 1102h0M629 1105h0M640 1151h0M648 1150h0M642 1139h0M645 1141h0M642 1154h0M648 1155h0M641 1161h0M631 1157h0M647 1147h0M650 1138h0M651 1158h0M634 1145h0M657 1148h0M650 1151h0M640 1144h0M639 1141h0M636 1148h0M636 1149h0M639 1146h0M643 1142h0M642 1146h0M642 1158h0M648 1146h0M651 1145h0M633 1155h0M654 1157h0M656 1151h0M650 1147h0M641 1144h0M637 1153h0M648 1156h0M645 1139h0M655 1146h0M643 1150h0M649 1151h0M652 1142h0M643 1156h0M640 1152h0M644 1154h0M644 1141h0M672 1150h0M670 1137h0M681 1143h0M676 1146h0M678 1135h0M681 1146h0M678 1134h0M679 1148h0M685 1150h0M688 1145h0M679 1136h0M687 1138h0M690 1143h0M678 1143h0M672 1150h0M688 1139h0M680 1130h0M679 1151h0M688 1142h0M688 1135h0M677 1144h0M671 1142h0M671 1140h0M679 1140h0M696 1136h0M673 1141h0M674 1139h0M683 1146h0M671 1143h0M687 1136h0M684 1132h0M683 1143h0M674 1146h0M681 1139h0M671 1144h0M685 1139h0M687 1142h0M686 1139h0M681 1128h0M677 1134h0M686 1135h0M708 1153h0M716 1150h0M727 1146h0M713 1144h0M714 1146h0M717 1147h0M720 1152h0M719 1138h0M722 1143h0M722 1140h0M717 1156h0M715 1143h0M715 1145h0M706 1148h0M719 1150h0M721 1146h0M718 1144h0M716 1152h0M709 1144h0M722 1155h0M724 1149h0M710 1144h0M727 1145h0M722 1139h0M708 1151h0M716 1153h0M713 1138h0M712 1139h0M720 1146h0M717 1143h0M723 1147h0" stroke="#aec7e8"/><path d="M753 783h0M857 808h0M850 793h0M854 808h0M854 812h0M996 786h0M1004 816h0M960 792h0M986 820h0M975 789h0M953 830h0M982 778h0M969 779h0M699 803h0M686 800h0M744 843h0M752 853h0M759 844h0M753 843h0M737 853h0M767 857h0M594 855h0M626 869h0M664 925h0M718 915h0M768 921h0M809 916h0M817 922h0M807 922h0M816 932h0M897 932h0M955 921h0M957 949h0M939 950h0M947 959h0M975 934h0M941 938h0M634 942h0M659 957h0M793 971h0M580 972h0M587 970h0M619 961h0M614 962h0M608 959h0M653 994h0M627 1008h0M614 1012h0M621 1010h0M618 1017h0M611 1013h0M614 1020h0M615 1013h0M619 1020h0M618 1023h0M615 1012h0M625 1018h0M669 1023h0M662 1014h0M668 1007h0M662 1007h0M667 1009h0M661 1013h0M666 1007h0M670 1019h0M668 1015h0M663 1009h0M792 1008h0M646 1050h0M653 1049h0M661 1037h0M674 1044h0M652 1051h0M793 1046h0M795 1061h0M790 1043h0M796 1052h0M562 1070h0M602 1050h0M595 1073h0M598 1079h0M602 1049h0M602 1060h0M609 1072h0M606 1066h0M600 1057h0M602 1066h0M598 1063h0M602 1060h0M601 1050h0M599 1060h0M604 1065h0M614 1058h0M619 1061h0" stroke="#c5b0d5"/><path d="M861 811h0M844 803h0M829 777h0M857 798h0M826 807h0M833 808h0M852 781h0M835 780h0M830 808h0M953 829h0M971 808h0M952 783h0M968 794h0M961 839h0M967 801h0M936 801h0M946 797h0M954 793h0M940 810h0M688 806h0M701 812h0M764 861h0M603 865h0M606 850h0M610 861h0M596 850h0M604 842h0M640 872h0M696 895h0M695 870h0M702 876h0M718 883h0M604 892h0M617 897h0M650 902h0M661 905h0M659 903h0M818 863h0M849 885h0M777 895h0M625 916h0M657 925h0M672 937h0M657 928h0M712 911h0M728 912h0M761 917h0M801 908h0M817 924h0M826 936h0M879 919h0M854 929h0M865 906h0M961 924h0M973 944h0M944 941h0M630 934h0M630 948h0M625 937h0M648 967h0M662 967h0M768 982h0M833 991h0M638 985h0M632 973h0M764 1022h0M654 1045h0M779 1060h0M763 1043h0M767 1058h0M653 1159h0" stroke="#17becf"/><path d="M850 797h0M846 778h0M840 790h0M846 798h0M862 789h0M855 800h0M987 840h0M963 794h0M973 807h0M973 834h0M980 817h0M1001 797h0M945 791h0M953 834h0M986 820h0M987 806h0M700 795h0M736 829h0M678 840h0M742 871h0M745 868h0M755 848h0M599 851h0M607 856h0M609 853h0M601 861h0M638 875h0M624 874h0M723 884h0M652 907h0M826 868h0M636 905h0M662 938h0M666 942h0M801 931h0M822 935h0M818 915h0M883 955h0M875 928h0M871 941h0M845 925h0M943 949h0M939 947h0M948 956h0M958 938h0M963 935h0M960 958h0M636 949h0M629 943h0M717 941h0M741 953h0M816 965h0M616 958h0M641 999h0M618 1022h0M655 1045h0M686 1028h0M694 1034h0M772 1047h0M785 1053h0M806 1052h0M769 1064h0M667 1083h0M719 1158h0" stroke="#dbdb8d"/><path d="M843 794h0M854 798h0M829 806h0M938 815h0M948 812h0M986 789h0M942 822h0M967 827h0M1002 801h0M994 816h0M951 814h0M996 793h0M943 794h0M990 788h0M974 841h0M786 817h0M770 855h0M755 853h0M752 877h0M740 867h0M754 852h0M565 894h0M625 912h0M665 927h0M701 916h0M741 922h0M758 926h0M833 933h0M798 939h0M791 905h0M804 939h0M824 919h0M970 930h0M970 947h0M955 964h0M974 933h0M977 932h0M953 954h0M642 939h0M636 953h0M654 956h0M767 992h0M755 983h0M618 970h0M576 998h0M658 989h0M656 994h0M617 1018h0M644 1022h0M666 1020h0M639 1029h0M670 1035h0M717 1115h0M866 997h0" stroke="#8c564b"/><path d="M853 775h0M839 807h0M841 806h0M832 793h0M844 798h0M949 832h0M945 822h0M984 812h0M978 836h0M955 804h0M964 778h0M941 791h0M993 796h0M1001 838h0M961 823h0M989 814h0M692 807h0M696 792h0M693 802h0M741 850h0M763 861h0M749 845h0M737 864h0M743 862h0M610 851h0M622 875h0M661 908h0M821 873h0M629 905h0M662 931h0M662 930h0M656 920h0M691 914h0M765 928h0M812 933h0M817 940h0M813 931h0M965 958h0M963 930h0M952 934h0M961 950h0M980 956h0M960 957h0M651 968h0M803 986h0M668 989h0M664 993h0M706 1006h0M592 1020h0M583 1017h0M594 1010h0M672 1024h0M663 1046h0M671 1035h0M683 1047h0M723 1067h0M787 1036h0M787 1077h0M782 1040h0M779 1047h0M816 1047h0M592 1072h0M592 1077h0M592 1060h0M667 1074h0M701 1076h0M724 1141h0" stroke="#98df8a"/><path d="M843 783h0M862 785h0M829 807h0M852 773h0M951 794h0M952 807h0M975 783h0M954 839h0M982 850h0M953 799h0M969 842h0M964 796h0M962 793h0M684 800h0M689 793h0M785 817h0M785 820h0M789 820h0M787 817h0M784 820h0M783 818h0M697 856h0M700 847h0M697 849h0M691 851h0M694 846h0M694 850h0M695 849h0M693 852h0M701 847h0M694 850h0M694 851h0M693 854h0M696 852h0M699 846h0M718 843h0M760 845h0M744 848h0M758 871h0M740 872h0M765 852h0M756 865h0M611 851h0M721 878h0M569 893h0M778 890h0M745 913h0M849 924h0M854 945h0M847 932h0M862 921h0M876 942h0M895 926h0M950 957h0M971 930h0M975 972h0M954 934h0M643 941h0M632 929h0M627 946h0M651 964h0M760 990h0M594 978h0M596 966h0M614 965h0M694 1011h0M711 1012h0M629 1033h0M674 1053h0M721 1051h0M812 1059h0M798 1081h0M756 1058h0M806 1068h0M802 1027h0M808 1051h0M808 1066h0M647 1072h0M666 1085h0M717 1108h0" stroke="#e377c2"/><path d="M838 816h0M845 776h0M957 804h0M973 798h0M1004 801h0M957 802h0M971 782h0M983 800h0M953 782h0M984 839h0M691 810h0M743 875h0M752 854h0M768 862h0M749 851h0M750 850h0M606 853h0M591 854h0M679 878h0M568 891h0M855 882h0M668 926h0M654 932h0M696 917h0M762 928h0M791 909h0M801 924h0M824 920h0M799 921h0M805 914h0M804 920h0M815 920h0M784 929h0M876 941h0M944 934h0M963 937h0M641 938h0M775 976h0M598 975h0M582 964h0M620 970h0M613 988h0M597 1016h0M761 1014h0M753 1004h0M790 999h0M642 1031h0M774 1049h0M774 1060h0M795 1033h0M784 1041h0M795 1079h0M794 1035h0M570 1052h0M567 1061h0M611 1058h0M648 1111h0M639 1146h0M715 1148h0" stroke="#f7b6d2"/><path d="M856 777h0M966 810h0M960 784h0M956 820h0M946 834h0M953 807h0M947 792h0M943 828h0M951 829h0M992 828h0M999 793h0M974 806h0M961 815h0M706 799h0M696 803h0M706 800h0M667 834h0M747 856h0M607 853h0M626 874h0M626 880h0M728 887h0M573 900h0M784 867h0M636 925h0M663 923h0M658 925h0M748 925h0M779 926h0M774 927h0M811 900h0M804 923h0M822 920h0M854 911h0M897 943h0M873 920h0M886 936h0M972 955h0M963 939h0M965 924h0M966 963h0M649 958h0M684 972h0M825 973h0M597 960h0M634 992h0M581 1014h0M622 1015h0M709 1017h0M718 1021h0M710 1021h0M705 1018h0M707 1011h0M705 1021h0M708 1026h0M703 1029h0M705 1013h0M714 1018h0M707 1023h0M716 1026h0M719 1021h0M712 1013h0M705 1015h0M713 1013h0M702 1019h0M708 1019h0M703 1017h0M709 1019h0M711 1026h0M707 1014h0M715 1028h0M705 1015h0M712 1021h0M713 1017h0M709 1013h0M719 1022h0M703 1025h0M683 1059h0M656 1054h0M667 1046h0M673 1047h0M733 1036h0M705 1059h0M722 1062h0M730 1064h0M800 1049h0M779 1033h0M809 1059h0M787 1030h0M642 1158h0" stroke="#66c2a5"/><path d="M648 860h0M650 862h0M643 852h0M650 848h0M644 863h0M658 854h0M642 861h0M652 852h0M640 853h0M653 844h0M640 855h0M657 851h0M640 861h0M653 852h0M639 847h0M655 849h0M644 847h0M654 861h0M647 853h0M647 859h0M643 856h0M636 851h0M646 865h0M643 845h0M657 851h0M655 847h0M640 849h0M654 849h0M644 853h0M642 862h0M652 852h0M652 867h0M643 852h0M646 849h0M654 847h0M642 849h0M660 856h0M653 857h0M644 847h0M636 852h0M645 856h0" stroke="#f2a0a0"/><path d="M558 900h0M569 893h0M566 894h0M554 904h0M565 908h0M565 894h0M571 903h0M565 899h0M564 899h0M555 897h0M564 891h0M565 901h0M567 892h0M560 897h0M558 894h0M552 900h0M566 904h0M568 900h0M564 902h0M554 902h0M561 908h0M612 894h0M621 897h0M604 889h0M609 897h0M616 894h0M606 903h0M619 894h0M613 896h0M604 895h0M615 895h0M601 891h0M599 887h0M605 892h0M618 890h0M611 899h0M615 897h0M622 894h0M602 896h0M606 890h0" stroke="#f7f0a6"/><path d="M833 1021h0M836 1025h0M836 1021h0M831 1022h0M836 1024h0M837 1022h0" stroke="#e7298a"/></g><g font-family='"Liberation Serif", serif' font-size="17.3" fill="#000" style="filter:grayscale(1)"><text x="184" y="12">(a) Brazilian congress</text><text x="41.8" y="42.9">Inferred partition</text><text x="270.5" y="42.9">Party affiliation</text><text x="193.3" y="311">(b) US stock prices</text><text x="52.3" y="337.4">Infered partition</text><text x="338.6" y="337.4">Industry sector</text></g><rect x="450" y="51.20" width="22.5" height="10.73" fill="#ffed6f"/><rect x="450" y="61.88" width="22.5" height="10.73" fill="#ccebc5"/><rect x="450" y="72.56" width="22.5" height="10.73" fill="#fccde5"/><rect x="450" y="83.24" width="22.5" height="10.73" fill="#bebada"/><rect x="450" y="93.92" width="22.5" height="10.73" fill="#ffffb3"/><rect x="450" y="104.60" width="22.5" height="10.73" fill="#8dd3c7"/><rect x="450" y="115.28" width="22.5" height="10.73" fill="#e5c494"/><rect x="450" y="125.96" width="22.5" height="10.73" fill="#a6d854"/><rect x="450" y="136.64" width="22.5" height="10.73" fill="#8da0cb"/><rect x="450" y="147.32" width="22.5" height="10.73" fill="#fc8d62"/><rect x="450" y="158.00" width="22.5" height="10.73" fill="#66c2a5"/><rect x="450" y="168.68" width="22.5" height="10.73" fill="#ffff33"/><rect x="450" y="179.36" width="22.5" height="10.73" fill="#17becf"/><rect x="450" y="190.04" width="22.5" height="10.73" fill="#bcbd22"/><rect x="450" y="200.72" width="22.5" height="10.73" fill="#7f7f7f"/><rect x="450" y="211.40" width="22.5" height="10.73" fill="#e377c2"/><rect x="450" y="222.08" width="22.5" height="10.73" fill="#8c564b"/><rect x="450" y="232.76" width="22.5" height="10.73" fill="#9467bd"/><rect x="450" y="243.44" width="22.5" height="10.73" fill="#ff7f0e"/><rect x="450" y="254.12" width="22.5" height="10.73" fill="#2ca02c"/><rect x="450" y="264.80" width="22.5" height="10.73" fill="#d62728"/><rect x="450" y="275.48" width="22.5" height="10.73" fill="#1f77b4"/><rect x="450" y="51.20" width="22.5" height="234.96" fill="none" stroke="#333" stroke-width=".8"/><path d="M472.5 56.54h6.3M472.5 67.22h6.3M472.5 77.90h6.3M472.5 88.58h6.3M472.5 99.26h6.3M472.5 109.94h6.3M472.5 120.62h6.3M472.5 131.30h6.3M472.5 141.98h6.3M472.5 152.66h6.3M472.5 163.34h6.3M472.5 174.02h6.3M472.5 184.70h6.3M472.5 195.38h6.3M472.5 206.06h6.3M472.5 216.74h6.3M472.5 227.42h6.3M472.5 238.10h6.3M472.5 248.78h6.3M472.5 259.46h6.3M472.5 270.14h6.3M472.5 280.82h6.3" stroke="#333" stroke-width=".8"/><g font-family='"Liberation Serif", serif' font-size="12" fill="#000" style="filter:grayscale(1)"><text x="484.3" y="60.64">PRTB</text><text x="484.3" y="71.32">PTdoB</text><text x="484.3" y="82.00">S.Part.</text><text x="484.3" y="92.68">PFL</text><text x="484.3" y="103.36">PTC</text><text x="484.3" y="114.04">PHS</text><text x="484.3" y="124.72">PSOL</text><text x="484.3" y="135.40">PRB</text><text x="484.3" y="146.08">PMN</text><text x="484.3" y="156.76">PCdoB</text><text x="484.3" y="167.44">PSC</text><text x="484.3" y="178.12">PV</text><text x="484.3" y="188.80">PPS</text><text x="484.3" y="199.48">PDT</text><text x="484.3" y="210.16">PTB</text><text x="484.3" y="220.84">PSB</text><text x="484.3" y="231.52">PP</text><text x="484.3" y="242.20">PR</text><text x="484.3" y="252.88">PSDB</text><text x="484.3" y="263.56">DEM</text><text x="484.3" y="274.24">PT</text><text x="484.3" y="284.92">PMDB</text></g><rect x="82.00" y="586.3" width="16.88" height="23.4" fill="#1f77b4"/><rect x="98.83" y="586.3" width="16.88" height="23.4" fill="#aec7e8"/><rect x="115.66" y="586.3" width="16.88" height="23.4" fill="#ff7f0e"/><rect x="132.49" y="586.3" width="16.88" height="23.4" fill="#ffbb78"/><rect x="149.32" y="586.3" width="16.88" height="23.4" fill="#2ca02c"/><rect x="166.15" y="586.3" width="16.88" height="23.4" fill="#98df8a"/><rect x="182.98" y="586.3" width="16.88" height="23.4" fill="#d62728"/><rect x="199.81" y="586.3" width="16.88" height="23.4" fill="#ff9896"/><rect x="216.64" y="586.3" width="16.88" height="23.4" fill="#9467bd"/><rect x="233.47" y="586.3" width="16.88" height="23.4" fill="#c5b0d5"/><rect x="250.30" y="586.3" width="16.88" height="23.4" fill="#8c564b"/><rect x="267.13" y="586.3" width="16.88" height="23.4" fill="#c49c94"/><rect x="283.96" y="586.3" width="16.88" height="23.4" fill="#e377c2"/><rect x="300.79" y="586.3" width="16.88" height="23.4" fill="#f7b6d2"/><rect x="317.62" y="586.3" width="16.88" height="23.4" fill="#7f7f7f"/><rect x="334.45" y="586.3" width="16.88" height="23.4" fill="#c7c7c7"/><rect x="351.28" y="586.3" width="16.88" height="23.4" fill="#bcbd22"/><rect x="368.11" y="586.3" width="16.88" height="23.4" fill="#dbdb8d"/><rect x="384.94" y="586.3" width="16.88" height="23.4" fill="#17becf"/><rect x="401.77" y="586.3" width="16.88" height="23.4" fill="#9edae5"/><rect x="418.60" y="586.3" width="16.88" height="23.4" fill="#ffff33"/><rect x="435.43" y="586.3" width="16.88" height="23.4" fill="#66c2a5"/><rect x="452.26" y="586.3" width="16.88" height="23.4" fill="#fc8d62"/><rect x="469.09" y="586.3" width="16.88" height="23.4" fill="#8da0cb"/><rect x="485.92" y="586.3" width="16.88" height="23.4" fill="#a6d854"/><rect x="502.75" y="586.3" width="16.88" height="23.4" fill="#ffffff"/><rect x="82.00" y="586.3" width="437.58" height="23.4" fill="none" stroke="#333" stroke-width=".8"/><path d="M90.41 609.7v3.8M107.25 609.7v3.8M124.07 609.7v3.8M140.91 609.7v3.8M157.73 609.7v3.8M174.56 609.7v3.8M191.39 609.7v3.8M208.22 609.7v3.8M225.05 609.7v3.8M241.88 609.7v3.8M258.71 609.7v3.8M275.54 609.7v3.8M292.38 609.7v3.8M309.20 609.7v3.8M326.03 609.7v3.8M342.86 609.7v3.8M359.69 609.7v3.8M376.52 609.7v3.8M393.35 609.7v3.8M410.18 609.7v3.8M427.01 609.7v3.8M443.84 609.7v3.8M460.67 609.7v3.8M477.50 609.7v3.8M494.33 609.7v3.8M511.16 609.7v3.8" stroke="#333" stroke-width=".8"/><g font-family='"Liberation Serif", serif' font-size="12.4" fill="#000" style="filter:grayscale(1)" text-anchor="end"><text transform="translate(87.91 621.20) rotate(-45)">Asset Management</text><text transform="translate(104.75 621.20) rotate(-45)">Banks - Regional</text><text transform="translate(121.57 621.20) rotate(-45)">Biotechnology</text><text transform="translate(138.41 621.20) rotate(-45)">N/A</text><text transform="translate(155.23 621.20) rotate(-45)">Software - Application</text><text transform="translate(172.06 621.20) rotate(-45)">Drug Manufacturers - Specialty &amp; Generic</text><text transform="translate(188.89 621.20) rotate(-45)">Medical Devices</text><text transform="translate(205.72 621.20) rotate(-45)">Oil &amp; Gas E&amp;P</text><text transform="translate(222.55 621.20) rotate(-45)">Telecom Services</text><text transform="translate(239.38 621.20) rotate(-45)">Specialty Industrial Machinery</text><text transform="translate(256.21 621.20) rotate(-45)">Software - Infrastructure</text><text transform="translate(273.04 621.20) rotate(-45)">Specialty Chemicals</text><text transform="translate(289.88 621.20) rotate(-45)">Other Industrial Metals &amp; Mining</text><text transform="translate(306.70 621.20) rotate(-45)">Packaged Foods</text><text transform="translate(323.53 621.20) rotate(-45)">Aerospace &amp; Defense</text><text transform="translate(340.36 621.20) rotate(-45)">Gold</text><text transform="translate(357.19 621.20) rotate(-45)">Shell Companies</text><text transform="translate(374.02 621.20) rotate(-45)">Semiconductors</text><text transform="translate(390.85 621.20) rotate(-45)">Capital Markets</text><text transform="translate(407.68 621.20) rotate(-45)">Communication Equipment</text><text transform="translate(424.51 621.20) rotate(-45)">Medical Instruments &amp; Supplies</text><text transform="translate(441.34 621.20) rotate(-45)">Utilities - Regulated Electric</text><text transform="translate(458.17 621.20) rotate(-45)">Electronic Components</text><text transform="translate(475.00 621.20) rotate(-45)">Information Technology Services</text><text transform="translate(491.83 621.20) rotate(-45)">Mortgage Finance</text><text transform="translate(508.66 621.20) rotate(-45)">Others</text></g></svg></body></html>
